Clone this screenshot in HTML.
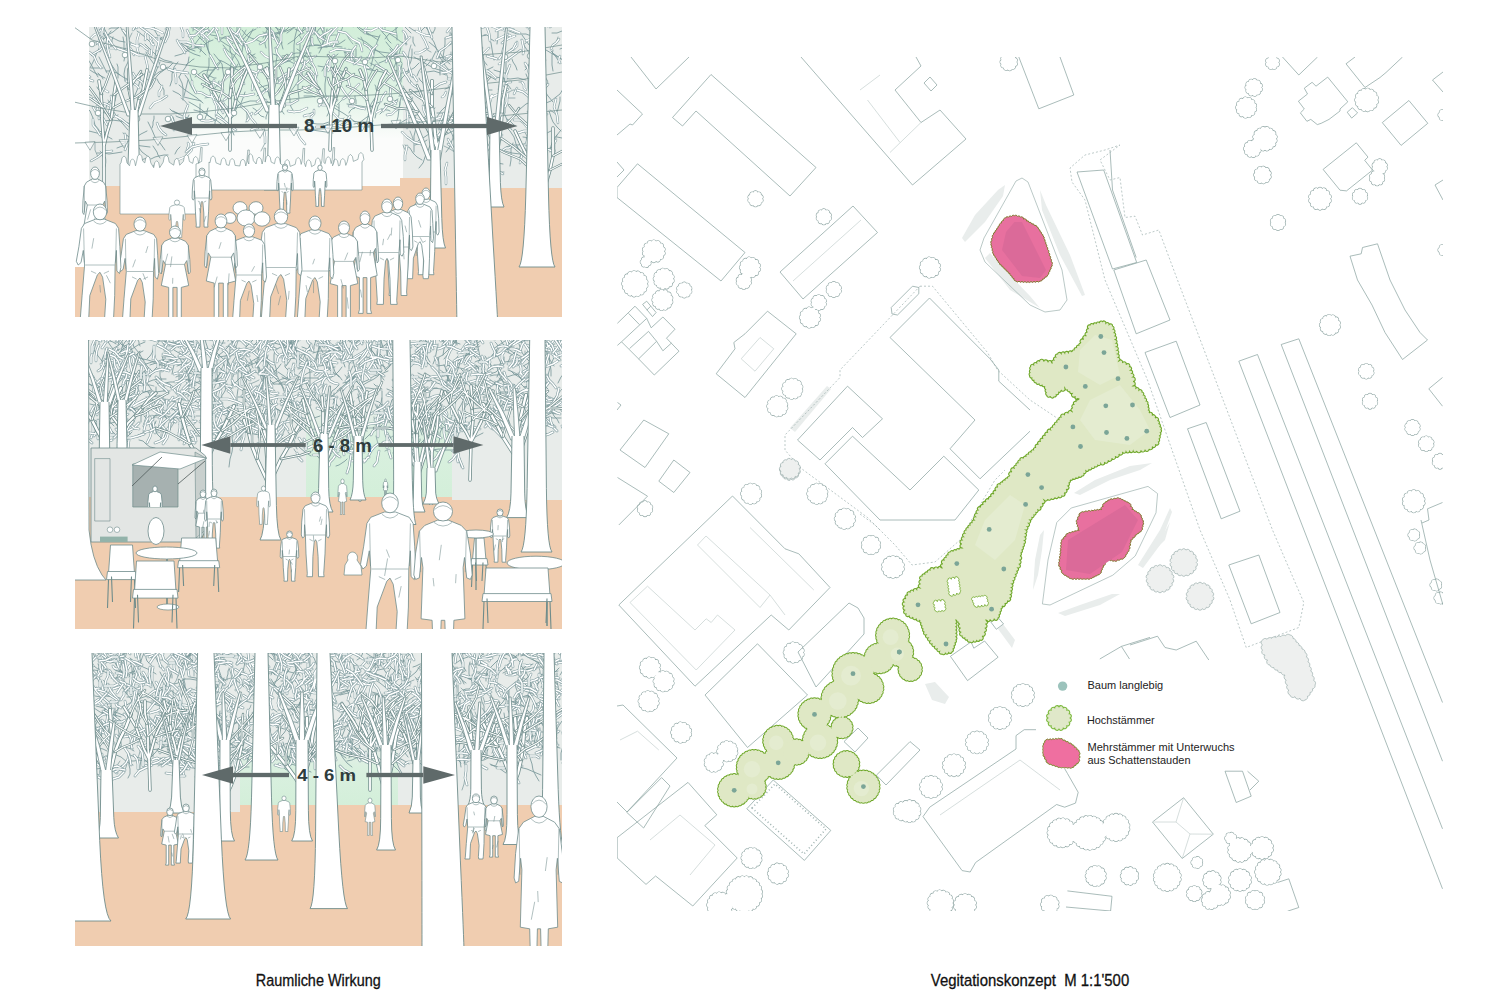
<!DOCTYPE html>
<html><head><meta charset="utf-8"><style>
html,body{margin:0;padding:0;background:#fff;width:1500px;height:1000px;overflow:hidden}
svg{display:block}
text{font-family:"Liberation Sans",sans-serif}
</style></head><body>
<svg width="1500" height="1000" viewBox="0 0 1500 1000">
<defs>
<clipPath id="cp1"><rect x="75" y="27" width="487" height="290"/></clipPath>
<clipPath id="cp2"><rect x="75" y="340" width="487" height="289"/></clipPath>
<clipPath id="cp3"><rect x="75" y="653" width="487" height="293"/></clipPath>
<clipPath id="win2"><rect x="132.8" y="464" width="45.2" height="43"/></clipPath>
<clipPath id="sky1"><rect x="89" y="27" width="473" height="165"/></clipPath>
<clipPath id="sky2"><rect x="75" y="340" width="487" height="165"/></clipPath>
<clipPath id="sky3"><rect x="75" y="653" width="487" height="160"/></clipPath>
<linearGradient id="g1" x1="0" y1="0" x2="0" y2="1"><stop offset="0" stop-color="#d2eed9"/><stop offset="0.55" stop-color="#def2e4"/><stop offset="1" stop-color="#fbfcfb"/></linearGradient>
<linearGradient id="g2" x1="0" y1="0" x2="0" y2="1"><stop offset="0" stop-color="#e8ecea"/><stop offset="0.35" stop-color="#daf0e0"/><stop offset="1" stop-color="#d3efd9"/></linearGradient>
</defs>
<g clip-path="url(#cp1)">
<rect x="89" y="27" width="473" height="162" fill="#e8ecea"/>
<rect x="189" y="27" width="214" height="112" fill="url(#g1)"/>
<rect x="189" y="138" width="214" height="52" fill="#fbfcfb"/>
<path d="M89,186 L400,186 L400,178 L440,178 L440,188 L562,188 L562,317 L75,317 L75,267 L89,267Z" fill="#f0cdb0" stroke="none" stroke-width="1" />
<g clip-path="url(#sky1)"><g fill="none" stroke-linecap="round" stroke-linejoin="round"><path d="M395 56l1-2 0-1M148 50l0 3 2 2M214 97l-4 0-5 1M366 28l0-3 0-2M305 65l-4-4-4-4M364 44l-1-3-2-4M528 69l-2-1-1-2M165 14l0-5 0-5M407 98l-1-6-3-6M521 18l0-3 0-3M414 142l-2-6-2-5M442 127l1-2 0-2M512 146l3 1 2 1M507 98l4 0 4 0M406 151l-2-3-1-3M450 56l1-2 0-2M479 61l-2-6-1-6M544 117l-1 1-1 2M460 156l3-2 4-2M299 20l2-2 2-2M248 71l-3 0-3-1M103 155l-1-2-2-2M106 6l-5-5-4-5M211 94l-2-5-3-4M531 157l3-5 4-5M202 18l4-1 3-3M188 105l-3-4-4-3M228 26l3-5 4-5M233 41l0-3-1-3M235 98l1-1 1-1M415 78l-1 0-2-1M536 75l-1-1 0-2M352 55l-2-3-1-3M506 40l2-2 2-3M98 157l-3-7 0-7M543 74l-4 0-5-1M165 169l2 1 2 2M545 149l0-3 0-4M262 94l2-3 2-3M426 49l3 2 2 1M136 26l0-2 0-2M543 144l3-5 1-5M230 120l4-4 2-4M491 26l-3-1-3-2M106 44l-6-2-6 0M383 69l-4-4-4-5M228 20l-3-5-3-5M211 32l2 0 3 0M290 71l3-1 2-1M228 76l1-4 1-4M375 5l-3-4-3-4M192 81l-1-3-1-4M479 146l0-1 0-2M241 38l3-4 2-4M346 60l-1-6 0-6M522 82l-2 0-1 0M517 90l-4 0-4 2M158 63l-1 2 0 2M523 45l3-2 2-3M271 73l1-2 1-1M456 80l0 6 2 7M125 18l-3-1-3-1M332 71l-2-3-2-3M302 80l2-2 2-2M103 44l-1-2-1-2M531 30l1-1 0-1M97 130l3 4 2 4M367 59l0-1 0-1M456 153l-6-4-6-3M524 131l3 5 1 5M250 5l3 2 4 2M498 171l3 1 3 0M203 31l-4-3-4-1M539 23l1-1 0-1M557 115l-4-3-3-2M110 48l-5 0-5 0M467 7l-3-5-4-5M483 71l-2 1-1 2M487 130l2 0 2-1M545 88l2-1 1-2M175 73l-3-1-3-2M467 72l-5 3-4 3M128 42l2-5 2-4M506 84l1-1 1-1M487 109l-6-2-7-1M346 33l3 6 4 5M360 44l-2 0-3-1M502 80l2 0 3-1M267 35l-2-2-2-1M527 141l2-2 1-3M312 29l-2-4-2-3M336 125l4-4 4-3M502 28l-4-2-3-2M545 1l2-5 1-5M548 7l2 0 2 0M334 7l0-2-1-3M315 68l-4-3-3-3M348 79l2-1 1-1M343 99l-3 3-3 3M142 82l0 4 1 3M489 33l-2-7-2-7M473 102l-2 0-2 1M459 67l5 0 5-1M343 73l2 0 2 0M223 120l3-4 2-4M556 140l0-3 1-2M399 108l1-3 0-3M448 79l-1-4-2-3M390 94l0-4-1-4M489 120l1-5-1-6M514 55l-3 3-3 4M108 38l-1-4-2-4M267 34l6 2 6 2M146 38l-1-1-1-1M484 27l4-5 4-4M265 143l-2 4-2 4M450 28l-2-2-2-2M332 103l4 3 3 2M111 104l-2-2-1-2M153 37l5 1 5 0M269 28l-2-3-3-4M302 41l-1-3-2-3M307 115l2-1 2-1M406 98l2 0 1-1M523 -3l-3-5-3-4M209 40l-1 4 0 5M287 -3l3-2 2-4M556 43l1-3 1-3M216 105l2 3 0 3M449 37l1-2 0-3M408 59l1-7 2-7M559 61l-1 1 0 1M315 75l-5-1-5 0M269 88l1-4 0-3M315 25l0-2-1-1M329 36l4-1 4 0M239 95l-3 0-4 1M142 107l-2-4 0-4M272 33l4 1 2 3M480 73l0-1 0-2M460 113l-1-1-2-1M408 119l2 5 2 4M470 161l2 1 1 0M415 119l-2-6-1-6M490 144l6-2 6-2M249 61l-2 0-3 1M315 19l0-4-1-3M108 21l1-5 1-5M461 79l4 1 4 1M213 82l-3-1-4-1M131 82l-2-1-3-1" stroke="#7b989b" stroke-width="0.7"/><path d="M134 45l-5-4-4-6-3-5-3-6M163 20l-1-3-1-3-1-4-1-3M246 122l1-2 0-3 0-3 0-2M179 114l-2-1-3-1-2-1-2-2M164 95l0-5-2-4-3-3-2-4M210 89l-3-8 0-8 2-7 0-8M510 166l1-6 0-6 0-5 2-6M544 20l5-5 2-6 3-6 4-5M515 115l5-6 6-5 7-3 7-4M505 113l0-5-2-6-2-5-2-5M485 137l2-3 1-3 1-4 1-4M385 57l-6-5-7-5-6-5-8-4M424 85l-1-2-1-1-2-2-1-2M106 36l7-4 6-5 8-4 7-3M195 48l5-1 4-2 4-3 5-2M327 100l-2-8 0-8 1-8 0-9M107 50l0-8-1-8-2-7-3-8M414 152l0-8 0-8 2-8 2-7M491 163l1-3 0-4 0-3 0-3M534 80l5 5 5 5 4 6 5 6M517 70l-1-3-1-2-2-3-1-3M126 25l-2-4-1-5-2-3-3-3M282 43l-1-5-2-6-3-5-2-6M544 45l-2-3-3-2-2-2-3-1M276 67l0-5 1-5 0-4-2-5M224 77l-1-6-1-7-4-5-4-5M154 43l-5-2-4-4-4-3-4-3M386 20l-3-1-3-2-3-2-3-1M553 71l-1-6 0-5 0-5 1-5M485 121l-1-4-1-4 0-5-1-4M448 133l-5-3-4-4-5-3-5-3M242 52l1-7 4-5 3-5 3-6M249 54l-2-4-1-4-2-4-1-4M111 119l2-1 1-1 2-1 2-1M260 20l-7-2-8-3-7-3-7-3M445 20l0-4-1-4 0-4 0-4M318 48l7-1 7-1 7-2 6-4M467 165l6-4 7-1 7-1 7 2M453 20l5-5 6-5 5-6 4-6M188 80l-1 4-1 4-1 4-1 4M352 23l-2-2-3-1-2-2-2-1M270 24l3 1 2 2 3 2 3 1M256 58l-7-5-5-7-6-5-5-7M386 30l4 4 6 4 5 4 6 2M374 25l6-5 7-3 6-4 7-5M105 78l-4-2-4-2-4-2-3-2M430 125l0-3 1-2 0-3 1-2M432 148l5-5 3-6 1-7 1-7M327 47l-6-1-5-1-5 0-5 2M136 126l-8-3-8-2-8-1-8 1M512 130l-3-4-2-6-2-5-3-5M326 37l-3-4-2-5 0-5-2-6M343 50l-3 0-3 0-3 0-3 1M454 26l0-6 0-5 0-6-1-5M492 90l-2 0-2 0-3 0-2 0M470 74l1-2 1-2 1-2 2-2M422 160l-5-3-4-4-3-5-5-3M379 37l-5-1-4-1-4-2-4-4M287 33l4-3 4-3 5-2 4-3M385 28l0-4 0-5 1-5 1-4M440 75l0-3 0-4 0-3 1-3M203 103l-6-5-6-4-6-4-6-5M406 45l0-3-1-3 0-4 0-3M417 76l2-5 3-4 2-4 3-4M154 76l5-4 5-2 5-3 4-4M449 116l-2 5-3 5-3 5-3 4M519 151l-3-7-2-7-4-6-6-6M283 49l-2-7-5-6-6-5-6-5M479 145l0-4 2-3 1-4 1-3M482 128l-6-2-6-1-6 0-6-3M548 27l4-4 6-3 4-4 5-4M145 21l-5-6-7-5-7-5-7-4M266 39l3-3 3-2 4 0 3-1M241 22l-5-2-4-3-5-4-5-2M248 26l3-4 3-3 4-3 2-4M207 114l-3-1-3-1-3-1-4-1M391 43l-3-3-2-4-3-3-2-3M347 81l-3-3-4-2-3-2-4-2M279 107l-4-3-3-4-3-4-1-5M466 75l-5 4-5 4-5 4-6 2M182 42l7 2 6 2 6 4 5 5M349 113l1-2 2-2 3-1 1-2M175 56l7-2 7-4 8-3 7-1M433 33l1-2 1-2 0-2 1-2M418 32l-5-2-4-3-4-3-5-2M182 169l2-4 1-4 1-4 2-4M477 59l0-8-1-8-1-8-2-8M216 78l-2 0-2-1-2-1-2-1M137 144l2 4 3 4 4 3 4 3M419 168l4-5 2-6 3-6 2-6M397 22l-1 4 0 5 1 5 0 4M399 96l6-1 6-1 5-2 6-1M150 24l0-7-2-7-3-6-3-6M273 38l-3-6-4-4-3-6-2-5M118 78l0-4 0-3 0-4-1-3M443 71l-7-2-8-4-7-4-7-4M263 38l2-4 2-4 0-3 0-4M208 35l5-6 5-5 4-6 6-5M139 116l-3-1-3-2-3-1-3-1M273 67l5-2 5-2 6-2 5-3M354 124l5-1 4-3 4-3 5-2M106 108l1-4 3-3 3-3 2-4M460 35l-4-4-3-5-3-5 0-6M213 22l-8-1-7-3-8-3-8-2M397 63l0-4 0-4 0-4 1-4M125 81l-1-7 1-6 3-6 2-7M263 43l-6-3-6-2-5-3-4-5M550 152l1-6 2-6 4-5 4-5M253 20l4-4 4-5 3-4 4-5M120 75l-3-2-4-1-3-1-4 0M290 27l3-1 3-2 4-1 3-1M241 68l-3-7-4-6-6-4-5-6M97 153l6 0 6 1 7-1 6-1M511 89l-3-4-3-4-2-4-3-5M280 84l-3-6-4-5-3-5-2-5M118 28l-2 0-2 0-3 0-2 1M181 96l-2-2-2-1-2-1-2-1M327 116l2-4 2-5 0-4 2-5M218 38l7 0 6 2 6 2 6 3M322 46l-4-7-2-6-1-7-1-7M221 61l-4 3-3 5-3 4-3 5M90 68l4-8 3-8 4-7 3-8M211 96l2-4 2-4 2-3 2-4M233 93l-2-7 0-8 3-7 4-7M443 63l0-6 1-6 1-7 0-6M315 34l2-2 2-3 2-1 3-2M546 103l5-2 5-4 4-3 3-5M102 33l5 2 6 3 6 3 6 1M373 106l-7 1-6-1-6-1-7-1M310 37l0-5 0-4-2-4-2-4M369 35l-5-2-4-3-3-3-4-4M401 82l0-4 0-5 0-4 1-5M484 105l3-4 4-4 4-2 5-1M484 23l-4-4-3-4-3-5-2-5M125 168l5-3 5-3 6-2 6-2M240 24l-7-3-6-4-7-3-7-4M285 77l-3 0-4 1-4 0-3 0M554 54l6 4 7 5 6 5 6 5M202 29l-1 2-2 1-2 1-2 1M449 112l-3 0-3 1-3 0-3 0M130 22l5-6 5-7 3-7 2-8M184 97l4 1 4 1 5 1 4 1M216 65l-4-5-3-7-2-6-1-7M148 90l3-7 3-7 3-7 3-7M264 117l-3-1-3-3-2-3-3-2M396 55l-7-2-8-1-7-2-7-3M314 35l1-6 0-5 2-5 2-5M464 43l1-7 1-7 0-7 0-7M450 64l-6-5-4-6-5-6-6-5M153 146l2 3 2 3 1 3 2 3M516 126l-2-1-2-2-2-2-3-2M239 27l3-2 3-3 4-2 2-4M134 30l5-4 3-5 5-3 5-4M266 48l-1-4 0-4 1-4 1-4M146 23l1-1 2-2 1-1 1-2M386 71l-4-1-4-3-4-2-4-2M396 79l1-6 0-6-1-7 0-6M371 66l2-8 2-8 2-8 3-7M396 86l3-4 3-4 3-3 4-3M243 66l3-3 2-4 3-3 4-2M340 23l7-4 7-3 7-5 6-4M240 23l0-2 0-3 1-2-1-2M494 60l-1-5-1-6-1-6-2-6M227 116l1-5 1-4 1-5 1-5M217 112l5 5 4 6 5 5 3 7M300 35l2-4 2-4 4-3 4-2M400 23l-3 5-4 3-5 4-3 4M441 22l-2-6-1-7 1-7-1-7M239 51l-6-3-6-3-6-4-6-3M152 128l1-3 0-3 1-3 0-3M557 137l5 1 5 1 5 1 5 2M373 70l-3-2-3-3-4-3-3-2M96 45l4-3 4-3 4-4 3-4M91 68l3 0 3 0 3 0 3 0M484 140l1-2 1-2 1-2 0-3M288 44l6-4 5-5 5-5 6-4M526 80l-8-2-8 1-8-1-7-1M469 91l2 2 1 3 1 2 1 3M381 22l2-5 2-5 1-5 0-5M286 100l2-5 3-4 3-4 3-4M158 67l-4-3-3-4-3-4-2-4M380 114l4-4 4-4 5-4 5-3M203 23l-1 4-1 3-3 3-3 2M375 118l1-4 1-4 1-4 2-3M304 28l-1-3-2-4-2-3-3-3M393 70l2-5 2-6 2-5 2-6M366 124l2-7 1-7 2-6 4-6M132 103l3-8 3-7 2-8 1-8M509 31l8 3 9 0 8 3 7 4M464 90l-3-6-1-5-3-5-3-6M470 37l4 0 4-1 4 0 4-1M440 24l-7 0-7 1-7 1-8 0M560 49l5-2 5-2 4-3 4-4M129 80l-6-3-6-4-4-6-4-6M300 63l4-6 4-6 2-7 1-6M282 22l3-2 3-1 3-2 3-1M322 71l3-5 4-4 4-4 5-4M311 53l-8 0-7 0-7 2-7 1M195 93l-3-5-2-4-2-5-3-4M202 38l2-3 2-4 2-3 3-3M452 129l3-3 3-4 4-4 3-3M373 121l-5 1-5 0-5 0-5-1M210 55l-2-6-2-5-4-4-4-4M438 58l6-1 6-2 6 0 6-2M539 105l-2-2-3-1-2-2-3 0M278 23l6-3 7-1 6-1 7 1M521 155l-1-3 0-2-2-2-1-2M124 61l1-6-1-6 0-6-1-6M541 65l-6-6-5-5-5-7-4-7M446 152l3-4 2-5 2-5 1-4M415 46l-1-2-1-2 0-3 0-2M426 66l3-3 3-4 2-4 2-4M305 128l7 2 7 1 7 1 7 1M529 92l-1-4 0-5 0-4-2-5M380 102l-3 1-3 1-2 2-2 3M172 127l1-2 1-3 0-2-1-3M195 51l-3-1-2-1-2-1-2-2M356 104l0-2 0-2-1-2 0-2M155 64l0-7 1-7 2-7 4-6M379 63l5-2 4-2 4-2 5-2M379 92l-2-1-1-2 0-2-1-2M539 120l2-5 1-5 1-5 0-5M309 28l1-5-1-4-1-4-1-4M332 22l-4-3-5-3-5-3-5-2M487 65l-4-5-4-4-5-3-5-3M305 122l6 1 6 1 6 0 6-2M418 141l2-2 3-1 3-2 3-2M92 56l-2-2-1-2-2-2-2-1M315 97l-3-1-2 0-3 0-3 0M473 154l-2-5-2-5-3-5-3-5M106 38l-3-5-4-5-2-5-3-5M175 154l1-2 1-2 1-1 2-2M420 32l5-5 5-6 3-6 5-6M483 134l-4 1-4 1-3 2-4 0M189 47l-3-1-2-1-3-2-1-2M437 52l6-3 5-3 5-3 6-1M561 131l-4-4-4-5-2-5-2-6M402 20l7-2 6-2 7-1 7 1M276 105l-4-2-4-1-3-3-3-3M316 22l-3-3-2-3-3-3-3-2M257 96l3-3 4-3 4-1 4-3M139 148l-4-3-4-5-3-4-5-3M112 106l3-5 1-5 1-5 2-5M238 41l-1-7 0-7-1-7 0-7M201 44l0 2 0 2 0 2-1 2M324 126l7-3 6-2 7 0 7 0M109 114l-2 0-2-1-2-1-2-1M246 21l4-5 5-3 6-3 4-4M195 77l4-3 4-3 5-1 5 0M298 23l-4-5-6-3-4-4-5-3M415 127l5-5 5-5 4-5 6-4M165 150l-5-7-5-6-3-7-4-8M284 32l7-3 6-4 7-4 8-2M411 33l-6-6-4-7-3-8-3-7M355 122l-6-5-6-4-7-4-6-4M320 21l3-4 3-3 3-2 4-2M484 154l0-2 0-2 0-2 1-2M304 92l3 1 3 0 3 0 3 0M215 121l-6-5-7-6-6-4-7-4M319 22l-3 5-4 5-3 5-2 5M539 64l-3-8-4-7-5-7-5-7M270 38l-1-3 1-3 0-3 0-3M190 119l-5-2-4-2-4-2-4-2M266 119l0-2 1-3 1-2 1-2M107 73l-2-4-2-4-2-4-2-4M92 96l-5-3-5-3-5-1-6 1M203 88l3-6 4-7 5-6 5-6M235 112l2-5 4-4 2-5 2-6M355 62l-2-3-2-3-3-2-4-2M403 24l3-2 4-1 3-2 3-1M293 110l-2-3-1-4 0-4-1-4M118 24l1-3 1-3 1-3 2-2M362 90l3-6 4-7 3-6 3-6M507 90l-2-8 1-9 0-8 0-8M284 114l-4-6-4-7-4-7-3-7M167 67l-3 3-4 3-3 3-2 3M98 77l-3-5-3-6-3-5-3-5M364 22l-2-4-1-3-1-4 0-4M187 118l-3 0-3 0-3-1-2-1M557 112l1-3 1-4 1-4 0-4M151 159l4-2 4-1 5-1 4 0M543 130l-1-6-1-6 0-7 1-6M108 133l-3-1-3 0-3-1-3-2M328 22l-2-2-2-2-3-2-2-2M397 64l-2-4-1-4-2-4-2-3M388 74l-6-2-5-1-6-1-5-1M183 100l0-6 0-6-1-5-3-6M230 111l6-5 7-3 7-2 8 0M278 34l4-2 4-2 3-3 3-3M550 21l-5-5-4-6-3-6-3-6M122 144l7-3 6-3 6-4 6-3M433 33l-5-3-4-5-5-3-5-4M111 47l0-2 1-3 0-2 1-3M454 140l-2-6-3-5-4-5-3-6M494 41l-3-2-2-2-2-2-3 0M217 36l-6-1-5-4-5-3-5-4M205 119l1-3 1-2 0-3 1-3M186 50l5-3 4-3 3-4 4-5M561 63l-3-3-2-3-2-3-3-3M423 20l4 8 3 8 4 6 3 8M237 45l5-4 4-5 4-4 6-3M396 76l6-3 6-2 6-3 5-5M370 127l-3 0-3 0-3 0-2-2M552 33l5 0 5-2 5 0 5 1M387 22l-7-4-6-6-5-7-5-6M186 22l4-5 3-6 3-5 3-6M539 33l-2-7 0-6-1-7-1-6M396 124l2-7 1-8 1-7 2-8M99 130l-4-5-2-7-3-7-5-5M319 53l3-6 2-6 2-6 1-6M525 70l3-3 1-3 2-3 1-4M299 98l-1-8 0-8 1-8 3-7M508 73l-4 0-3-1-4-1-3-1M506 147l6-2 6 0 6-1 5-2M238 70l-5-2-4-3-5-3-5-2M398 25l-1-3-1-4-1-4-3-3M417 123l0-2-1-2-1-2 0-1M135 80l4-2 4-3 3-2 4-1M334 125l2-5 3-5 0-6 0-5M285 30l-5 2-5 1-5 2-5 1M281 108l-5-7-5-6-6-6-6-6M435 140l6-3 6-3 6-3 6-4M112 139l-7-4-8-2-8-2-7-3M321 49l2-7 1-8 0-8-1-8M280 22l-3-7-2-8-2-7-4-6M280 34l0-3 1-4 0-3 0-4M304 33l-3-1-2-1-2-1-2-1M453 64l0-7 0-8 0-8-2-8M551 131l-6 3-7 3-8 1-7-1M386 42l4 5 5 5 3 6 4 5M408 72l1-6 2-5 1-6 0-6M396 125l6-3 5-3 6-3 7-2M103 94l-2-1-1-2-2-2-1-2M230 75l0-6 1-5 2-6 3-5M255 90l6-3 7-2 7-1 7-2M310 46l8-1 8 1 8 0 8 1M224 126l-4-3-4-3-4-2-5-3M496 80l-5-3-5-3-4-4-4-3M453 72l-5-3-4-5-3-5-3-5M172 62l-8-2-7-4-6-6-6-6M343 72l-6-3-6-2-7 0-6-1M170 86l2-6 0-6 2-7 4-5M536 141l-5 4-4 5-5 4-4 5M193 31l1-9 0-8 0-8-2-8M200 56l-6-2-6-3-4-4-4-5M219 41l5-4 6-1 5-3 5-5M103 79l-1-2-1-1-2-2-1-1M497 44l1-8 0-7-2-8-1-7M355 63l0-4 1-3 0-4 0-3M390 111l-2-1-2 0-3-1-2 0M215 127l0-3 0-2 1-2 1-2M232 44l2-2 2-2 2-2 2-2M117 148l8-3 9 0 8 1 8 1M184 167l-1 2-1 2-1 3-1 2M178 128l3-3 3-3 3-3 2-4M530 161l6-3 5-4 5-4 6-3M163 41l-5-5-3-5-1-6-3-5M300 55l0-3 0-3 0-2 0-3M186 65l2-2 2-1 2-2 2-1M232 58l0-3-1-2-1-3 0-3M538 169l-5-1-5-2-4-3-4-3M158 23l-2-1-2-2-1-2-1-2M453 93l-3 6-4 7-5 5-4 6M415 145l3-1 3-1 3-1 3-2M323 21l-4-4-4-5-5-4-4-4M294 61l0-8 0-8 1-8 2-8M421 72l6 0 7-1 6 2 6 2M354 23l6 5 6 4 6 4 6 4M303 22l2-8 2-8 1-8-2-8M273 54l6 2 6 3 6 3 6 3M128 130l-5-6-5-5-4-7-4-6M189 57l-1 6-3 5-3 4-3 5M482 165l5-1 5 0 5-1 6 1M520 154l-8-1-7-2-8-2-8 0M335 42l3-6 4-7 2-7 4-6M235 97l4 5 4 5 4 6 4 5M378 21l2 0 2-1 2-1 1-2M201 118l-1-3 0-4 0-4 0-3M561 59l-5-3-5-3-5-3-5-4M308 58l-3-2-2-2-3-3-3-2M486 71l1-1 2-1 2-1 2-1" stroke="#7b989b" stroke-width="0.85"/><g stroke="#7b989b" stroke-width="2.4"><path id="t1" d="M303 65l4-3 4-4 5-2M392 58l3-2 4-1 4 0M140 44l3 2 2 2 3 2M233 110l-7-3-5-6-7-4M365 33l1-5 2-5 3-3M316 77l-5-6-6-6-7-5M463 140l1-4 0-4 0-5M373 56l-1-5-3-4-5-3M529 73l-1-4-1-3-2-3M156 22l3-5 6-3 6-2M204 46l-9-1-8-3-8 0M415 119l-4-7-3-6-1-8M333 47l2-4 2-5 2-5M526 41l7-3 6-5 4-6M527 27l-2-3-2-3-2-3M421 144l-7-2-7-5-5-5M439 129l3-2 4-1 4 0M422 96l-3-7-6-4-5-6M503 150l3-2 3 0 3-2M505 107l2-5 0-4 1-5M219 41l-1-5-2-5-1-5M405 160l0-5 1-4 1-5M446 57l2-1 2 0 3-1M472 150l-3 0-4-1-3 2M258 27l5-2 6-3 6-2M432 108l-3-3-2-2-3-2M475 67l4-6 4-7 6-6M547 114l-1 1-2 2-2 1M448 144l5 3 4 4 3 5M139 46l-3 0-2-1-3-1M273 62l-4-4-4-2-4-4M330 52l7-3 8 1 8 1M302 33l-3-4-1-4 1-5M311 121l0-4 3-3 0-4M259 82l-3-4-3-4-5-3M494 136l3-1 2-1 3 1M104 167l1-4 0-4-2-4M279 83l4-4 5-5 3-5M139 55l-2-7 0-8 2-7M550 27l4-3 6-2 5 2"/></g><use href="#t1" stroke="#fff" stroke-width="1.4"/><g stroke="#7b989b" stroke-width="2.4"><path id="t2" d="M125 21l-7-4-7-5-5-6M222 111l-3-6-5-5-3-6M520 163l1-5 2-5 2-4M531 165l0-8 2-8 2-8M201 120l4 1 4 0 4-1M247 121l2-3 1-2 2-3M196 25l0-2 1-3 0-2M514 94l1-2 1-2 1-2M241 56l-6-5-4-6-4-6M384 21l0-7 3-7 2-7M330 45l-4-4-5-4-5-4M283 61l-3-4-3-4-1-5M192 27l4-6 6-3 7-1M212 97l-5-1-5-3-5-1M185 121l-1-5 2-6 2-5M242 45l-5-7-6-5-3-7M235 43l-2-2-3-2-3-2M163 33l-6-3-6-2-7-1M325 76l0-8 3-7 6-6M236 104l0-2-1-2 0-2M428 48l-3-7-4-7-2-7M417 81l-2-3-1-2-3-1M381 101l1-3 2-3 2-3M536 79l0-2 0-2 1-2M437 58l3-7 6-4 5-5M343 120l-4-1-3-3-3-3M193 48l0-6-3-6-3-6M159 96l0-4 2-3 1-3M358 24l3-3 4-4 2-4M360 60l-5-2-3-3-5-2M502 43l4-3 4-2 5-2M91 161l7-4 6-5 8-1M100 51l0-3 0-2-1-3M353 54l-2 2-1 3-2 2M545 60l-1 7-1 7 3 6M154 166l4 2 3 0 4 1M482 48l-6-4-4-6-7-3M350 116l-4 6-6 4-5 5M554 152l-4-2-5-1-5 0M257 102l4-4 1-4 3-3"/></g><use href="#t2" stroke="#fff" stroke-width="1.4"/><g stroke="#7b989b" stroke-width="2.4"><path id="t3" d="M312 21l-1-7 0-6-1-7M213 87l0-2 1-2 0-3M415 53l4 0 4-2 3-2M131 127l-5-4-5-4-6-3M137 28l-1-2-2-2-1-2M527 139l6 1 5 1 5 3M231 126l-1-6 1-6-3-6M506 31l-5-2-5-1-5-2M353 26l-8-3-6-4-7-2M187 150l1-3 1-2-1-2M109 37l-3 7-6 6-7 4M365 63l4-6 3-7 5-5M119 21l-4 0-5 0-4 0M168 28l0-5 2-4 2-5M383 111l4-5 5-2 5-3M397 81l2-4 1-6-1-5M394 80l-5-6-6-5-7-4M384 25l-7 3-6 3-7-1M238 35l-5-3-4-5-1-7M203 40l4-4 4-4 3-4M286 74l4-3 4-4 2-5M218 86l5-5 5-5 5-5M497 59l-3-1-4-1-3-1M382 30l-3-8-1-8-3-9M279 79l5-4 6-4 5-4M196 93l-2-4-2-4 0-4M99 119l0-4-1-5-1-4M93 81l-3-1-3-2-3-1M277 48l4-7 0-7 3-7M473 149l2-1 2-1 2-1M250 52l-4-7-5-7-3-7M429 22l-1 5 2 5 2 6M511 36l-2-1-2 0-2 0M369 68l-7-3-8-2-8-3M526 90l-2-2 0-3-2-3M427 126l6-6 8-3 8 0M532 101l-4-5-5-4-6-2M108 92l-2-1-1-1-2-2M151 56l1-7 0-7-2-6M460 108l4-7 6-4 7-3"/></g><use href="#t3" stroke="#fff" stroke-width="1.4"/><g stroke="#7b989b" stroke-width="2.4"><path id="t4" d="M260 71l6 1 5 3 4 4M157 58l0 3 1 2 0 3M328 71l2-4 0-5 1-4M392 55l6-6 6-6 6-6M523 54l1-5-1-4-1-5M258 128l-2 0-3 1-2 1M157 123l2 5 3 4 4 3M312 38l0 2 0 3 1 2M150 108l4-5 7-3 6-4M272 76l-1-3-1-2-2-3M457 71l-1 9-4 7-1 8M256 124l-5-6-4-7-6-5M135 24l-5-2-5-4-4-4M333 85l1-7-2-7-5-6M297 84l5-4 4-4 6-2M103 47l0-3 0-3-2-3M535 33l-2-1-2-2-2-1M93 119l0 6 4 5 3 5M252 90l1-7 3-7 3-7M363 61l2-1 2-1 2 0M456 161l0-8-4-7-4-7M518 133l6-2 6 0 6 0M255 114l5-4 4-5 2-5M171 116l2 5 2 4-1 5M298 100l-7 4-8 0-8-3M183 21l-6 3-6 1-5 4M239 22l4-6 4-5 3-6M224 100l5-4 3-5 1-6M486 168l6 0 6 3 5 3M192 38l5-5 6-2 6 0M538 27l0-2 1-2 2-1M558 123l-1-8-3-8 2-8M113 108l-7-4-7-1-6-5M128 52l-6-2-6-2-6 0M464 20l2-6 1-7-2-7M496 78l-4-4-4-3-5 0M154 45l-2-1-1-2-1-2M484 133l1-2 2-1 2-1M165 42l3-6 1-6 1-6M535 88l5 1 5-1 3-4"/></g><use href="#t4" stroke="#fff" stroke-width="1.4"/><g stroke="#7b989b" stroke-width="2.4"><path id="t5" d="M511 50l3-1 3-3 0-4M430 36l-5-1-5-2-4-2M410 82l-2-4-3-4-2-5M177 160l8-3 6-6 3-8M429 92l5-4 6-4 6-2M301 75l1-5 2-4 1-5M320 37l4-3 4-2 4-3M496 40l4-2 4-2 4-2M98 30l3-4 4-4 5-2M407 38l-1-3-1-2-2-2M218 69l-3-5-2-4-3-5M176 83l0-5-1-5 0-4M365 109l-5-1-6-2-5 0M489 117l-3-3-3-2-3-2M481 53l-5 6-6 5-3 8M352 60l-1-5 2-5 3-4M221 20l5-6 7-5 5-7M134 55l-2-4-2-3-3-2M366 85l1-7-1-6-2-7M127 48l1-6-1-7-4-5M249 55l-2-4-1-5-2-4M504 86l2-2 2-2 3 0M168 69l6 2 7 1 7 1M101 68l-4-5-3-7-5-4M168 21l1-3 2-4 2-3M309 90l2-2 2-1 2-2M492 95l-2 7-3 7 0 8M338 31l8 2 6 6 8 4M487 98l7-2 7-3 7-4M316 127l4 0 5 0 4-1M362 51l-1-4-1-3-2-2M499 89l1-4 2-5-1-4M278 42l-3-3-4-2-4-2M200 33l1 2 2 1 1 2M526 145l1-4 1-4 1-5M324 40l-5-3-3-4-4-4M329 126l7-1 7 2 7-2M514 30l-6-2-6 0-6 3M551 24l1-8-2-8-5-7M307 31l0-3-1-2 1-3"/></g><use href="#t5" stroke="#fff" stroke-width="1.4"/><g stroke="#7b989b" stroke-width="2.4"><path id="t6" d="M504 29l6 0 5 2 5 2M542 20l3-4 1-4 2-5M340 23l-1-5-2-6-3-5M317 75l-2-7-4-7-2-7M108 37l-1 7 1 6 2 7M352 89l-2-2-1-4-1-4M359 84l-5 5-5 6-6 4M133 73l3 5 6 4 2 6M257 73l-5-2-6 0-6 0M218 30l-2-2 0-2-1-3M490 41l-1-8-3-8-6-6M399 22l-2-6 0-7-2-7M148 79l0-8-1-7-2-8M91 38l3-3 4-2 3-3M478 108l-3-3-2-3-3-3M241 69l0 5 1 5 2 5M100 21l-4-7-3-7-4-7M401 22l1-5 0-5 0-5M441 73l7-1 5-3 6-2M342 76l1-3 2-2 1-3M309 40l1-6 0-6 1-6M216 116l7 4 6 5 7 5M555 153l-1-4 0-5 2-4M387 115l5-1 3-3 4-3M109 115l2-6 1-7-1-6M470 82l-7-3-7 0-8 0M377 25l5 5 7 2 7 2M448 60l3-2 2 0 3-2M183 37l0-5-2-5-2-5M235 34l2-1 2-3 1-2M506 81l0-6 2-5 2-5M453 74l-7-4-7-5-8-5M223 113l0-4 0-4 0-3M109 22l3-2 3-2 2-3M396 104l-4-4-2-6 1-6M466 62l-7 1-6-2-7-2M429 119l-3-4-2-4-1-5M474 127l7-3 8-4 5-5M521 50l-7 5-7 5-8 4M116 49l-4-5-4-6-3-6"/></g><use href="#t6" stroke="#fff" stroke-width="1.4"/><g stroke="#7b989b" stroke-width="2.4"><path id="t7" d="M398 45l-4 6-5 4-3 7M499 59l3-4 1-5 2-5M288 111l6 1 7-1 6-3M245 44l8-3 6-5 8-2M145 40l1-2-1-3 1-2M292 126l5 6 3 6 5 6M439 128l1-6 2-4 2-5M354 64l3-2 2-2 2-3M460 32l8-3 8-1 8-1M185 53l-3-5-3-4-2-4M262 126l2 5 1 6 0 6M312 61l-3-6-2-5-3-4M107 125l-4-7-6-4-4-7M97 43l2-2 1-3 2-3M447 32l3-4 3-3 3-4M322 105l5 0 5-2 5-3M109 113l1-3 1-3 0-3M140 27l7 5 6 5 6 6M272 24l3-7 2-8 1-8M145 55l-7 0-6-3-6-3M278 44l-3-6-2-6-4-4M235 66l-4-6-4-5-3-6M90 77l-6-4-5-5-6-3M297 44l5-3 3-5 4-4M304 116l3-1 3 0 3-2M98 33l0-5-1-4 1-4M319 106l3-4 3-2 3-3M403 99l3-1 3 0 3 0M518 21l4-7 1-8 0-9M194 28l5 3 5 4 5 5M125 134l1 6 1 5-2 5M222 34l0-3 0-4-2-2M442 97l2-1 1-2 1-2M133 30l3-6 4-6 4-6M284 20l2-7-1-8 2-8M527 127l-3-4-4-3-6 0M551 49l2-4 3-2 3-4M353 104l-4-6-4-5-4-6M157 50l1-4 1-5 0-5M214 101l2 4 1 5-1 4"/></g><use href="#t7" stroke="#fff" stroke-width="1.4"/><g stroke="#7b989b" stroke-width="2.4"><path id="t8" d="M446 38l3-1 4-1 3-2M179 22l-1-9 0-8 1-9M189 36l7-1 5-5 5-4M486 21l3-7 5-5 7-2M376 113l1-1 2-1 2-1M412 76l-3-9-1-8-5-7M560 56l-1 2 0 3 1 2M447 163l-2 7 1 7 0 7M319 93l-3-6 0-6-1-6M460 106l-1-4-1-4 0-4M266 91l3-3 2-4 0-4M311 35l2-3 1-4 1-3M327 43l2-7 5-6 6-6M254 94l-5 1-5 1-5-1M201 34l2-1 2-2 3-1M455 127l-6 1-7 3-4 5M130 120l2-6 5-4 5-3M277 66l5-3 6-4 4-6M260 44l5-3 3-5 4-3M479 78l1-2 0-3-1-2M503 58l4-5 6-4 3-6M465 117l-2-2-2-1-1-1M322 46l5-2 5-2 6 0M186 152l6-5 8-2 8-1M440 135l1-4 2-4 0-4M408 103l-1 8 1 8-1 9M464 165l3-2 3-2 3 0M431 125l-8-3-8-3-6-5M188 22l-2-1-3 0-3 0M441 65l7-5 6-6 4-6M481 157l6-6 3-7 3-8M250 64l-1-3-1-3 0-3M323 30l-2-4-4-3-2-4M102 36l0-5 2-6 4-4M234 26l1-3 1-1 0-2M449 86l6-3 6-4 6-3M223 91l-2-4-4-3-4-2M139 88l-3-3-5-3-5-1M150 22l5-4 3-5 3-6"/></g><use href="#t8" stroke="#fff" stroke-width="1.4"/></g><g fill="none" stroke-linecap="round" stroke-linejoin="round"><g stroke="#6f8c8b" stroke-width="3.4"><path id="t9" d="M134 150l1-31M135 119l-2-10-2-10-2-10 0-10 0-10M135 119l2-10 2-10 4-9 2-10 2-10M104 190l0-44M104 146l-1-13-1-13 0-13-1-13-2-13M104 146l3-13 4-13 2-12 1-13 2-13M230 150l0-32M230 118l-5-9-6-8-5-9-4-8-6-9M230 118l0-10 0-10 1-10 1-10 0-10M230 118l4-10 2-9 4-10 3-9 4-9M275 140l1-24M276 116l-3-9-2-10-1-10-1-9-2-10M276 116l-1-9-2-10-2-10-3-9-3-9M276 116l3-9 4-9 3-9 2-10 1-10M330 150l1-35M331 115l-3-9-5-9-4-8-6-8-5-8M331 115l0-9 1-10 1-10 1-9 1-10M331 115l2-9 3-9 3-10 3-9 4-9M372 150l-1-30M371 120l-2-10-2-10-1-10-2-10-4-10M371 120l2-10 3-10 2-10 3-10 5-9M497 207l0-52M497 155l-4-13-6-13-5-13-7-12-6-13M497 155l2-13 2-14 1-14 1-14 3-14M540 267l0-71M540 196l-5-13-3-13-5-14-6-12-6-13M540 196l0-14-1-14 1-14 2-14 3-13M540 196l6-12 4-14 3-14 0-14 0-14"/></g><use href="#t9" stroke="#fff" stroke-width="1.7999999999999998"/><g stroke="#6f8c8b" stroke-width="4.0"><path id="t10" d="M436 200l1-53M437 147l-6-12-6-12-7-11-7-11-8-11M437 147l-2-13-1-13-2-14 0-13 0-13M437 147l6-12 6-11 6-12 8-11 7-11"/></g><use href="#t10" stroke="#fff" stroke-width="2.4"/><g stroke="#6f8c8b" stroke-width="2.4"><path id="t11" d="M129 89l4-6 4-6 4-6M139 99l6-6 6-6 4-8M102 107l-11-8-11-6-13-4M101 94l4-8 3-8 3-8M111 120l-7-11-7-11-8-11M113 108l11-6 12-5 11-8M114 95l9-7 10-7 9-7M219 101l3-10 1-10 4-9M210 84l-6-4-6-4-5-5M230 98l-9-6-10-3-9-5M231 88l5-8 7-7 4-8M232 78l6-6 8-6 7-5M236 99l-2-7-1-7-2-7M271 97l3-9 2-10 0-10M269 78l5-9 7-7 6-7M273 97l5-5 4-6 3-6M268 78l-6-8-6-8-7-8M283 98l8-5 10-3 9-4M286 89l-1-8-2-7-3-7M288 79l7-4 7-4 8-3M323 97l-6-3-7-3-7-4M319 89l-8-6-8-6-6-7M333 86l6-4 8-3 7-5M334 77l5-8 4-8 6-7M336 97l-2-7-4-6-2-6M339 87l-2-7-2-6-4-6M342 78l-5-7-3-9-6-7M367 100l-6-6-7-5-7-3M366 90l3-7 4-7 4-6M364 80l-6-3-7-2-5-4M378 90l6-7 5-6 7-6M418 112l-11-3-11-1-11-4M411 101l-9-6-9-7-9-5M434 121l-7-12-5-12-5-12M432 107l-7-6-8-5-7-6M432 94l-4-11-3-12-4-12M449 124l13-5 13-3 14-3M455 112l2-12 3-11 5-11M463 101l-2-11 0-12 1-11M487 129l-12-4-11-5-12-4M475 104l3-10 5-9 7-8M501 128l7-6 6-6 5-8M532 170l-12-11-15-6-14-7M539 168l-12-10-13-11-13-9M542 140l-11-12-12-11-10-12M550 170l16-8 15-10 14-9M553 156l11-6 12-6 9-10"/></g><use href="#t11" stroke="#fff" stroke-width="1.1"/></g></g>
<path d="M74,27 L92,40 L130,50 L165,62 L200,67 L230,68 L265,63 L300,56 L335,57 L370,58 L400,56 L440,62 L480,55 L520,52 L562,45" fill="none" stroke="#6f8c8b" stroke-width="0.7"/>
<path d="M74,102 L100,108 L137,114 L170,114 L200,112 L235,108 L283,100 L320,96 L352,96 L390,94 L430,90 L470,85 L520,80 L562,72" fill="none" stroke="#6f8c8b" stroke-width="0.7"/>
<path d="M74,143 L110,142 L150,140 L190,136 L230,132 L270,130 L300,130 L340,128 L380,125 L420,122 L450,120 L500,116 L562,110" fill="none" stroke="#6f8c8b" stroke-width="0.7"/>
<circle cx="92" cy="44" r="2.8" fill="#fff" stroke="#6f8c8b" stroke-width="0.7"/>
<circle cx="125" cy="55" r="2.8" fill="#fff" stroke="#6f8c8b" stroke-width="0.7"/>
<circle cx="163" cy="67" r="2.8" fill="#fff" stroke="#6f8c8b" stroke-width="0.7"/>
<circle cx="194" cy="72" r="2.8" fill="#fff" stroke="#6f8c8b" stroke-width="0.7"/>
<circle cx="228" cy="72" r="2.8" fill="#fff" stroke="#6f8c8b" stroke-width="0.7"/>
<circle cx="260" cy="67" r="2.8" fill="#fff" stroke="#6f8c8b" stroke-width="0.7"/>
<circle cx="301" cy="60" r="2.8" fill="#fff" stroke="#6f8c8b" stroke-width="0.7"/>
<circle cx="335" cy="61" r="2.8" fill="#fff" stroke="#6f8c8b" stroke-width="0.7"/>
<circle cx="365" cy="62" r="2.8" fill="#fff" stroke="#6f8c8b" stroke-width="0.7"/>
<circle cx="398" cy="60" r="2.8" fill="#fff" stroke="#6f8c8b" stroke-width="0.7"/>
<circle cx="434" cy="66" r="2.8" fill="#fff" stroke="#6f8c8b" stroke-width="0.7"/>
<circle cx="505" cy="57" r="2.8" fill="#fff" stroke="#6f8c8b" stroke-width="0.7"/>
<circle cx="530" cy="56" r="2.8" fill="#fff" stroke="#6f8c8b" stroke-width="0.7"/>
<circle cx="98" cy="113" r="2.8" fill="#fff" stroke="#6f8c8b" stroke-width="0.7"/>
<circle cx="137" cy="119" r="2.8" fill="#fff" stroke="#6f8c8b" stroke-width="0.7"/>
<circle cx="168" cy="119" r="2.8" fill="#fff" stroke="#6f8c8b" stroke-width="0.7"/>
<circle cx="200" cy="117" r="2.8" fill="#fff" stroke="#6f8c8b" stroke-width="0.7"/>
<circle cx="234" cy="113" r="2.8" fill="#fff" stroke="#6f8c8b" stroke-width="0.7"/>
<circle cx="283" cy="105" r="2.8" fill="#fff" stroke="#6f8c8b" stroke-width="0.7"/>
<circle cx="320" cy="101" r="2.8" fill="#fff" stroke="#6f8c8b" stroke-width="0.7"/>
<circle cx="352" cy="101" r="2.8" fill="#fff" stroke="#6f8c8b" stroke-width="0.7"/>
<circle cx="390" cy="99" r="2.8" fill="#fff" stroke="#6f8c8b" stroke-width="0.7"/>
<circle cx="470" cy="90" r="2.8" fill="#fff" stroke="#6f8c8b" stroke-width="0.7"/>
<circle cx="545" cy="82" r="2.8" fill="#fff" stroke="#6f8c8b" stroke-width="0.7"/>
<path d="M85,142.2 L95,141.5 L90,150.2Z" fill="#fff" fill-opacity="0.6" stroke="#6f8c8b" stroke-width="0.6"/>
<path d="M119,139.8 L129,139.2 L124,147.8Z" fill="#fff" fill-opacity="0.6" stroke="#6f8c8b" stroke-width="0.6"/>
<path d="M153,137.5 L163,136.8 L158,145.5Z" fill="#fff" fill-opacity="0.6" stroke="#6f8c8b" stroke-width="0.6"/>
<path d="M187,135.1 L197,134.4 L192,143.1Z" fill="#fff" fill-opacity="0.6" stroke="#6f8c8b" stroke-width="0.6"/>
<path d="M221,132.7 L231,132.0 L226,140.7Z" fill="#fff" fill-opacity="0.6" stroke="#6f8c8b" stroke-width="0.6"/>
<path d="M255,130.3 L265,129.6 L260,138.3Z" fill="#fff" fill-opacity="0.6" stroke="#6f8c8b" stroke-width="0.6"/>
<path d="M289,128.0 L299,127.2 L294,135.9Z" fill="#fff" fill-opacity="0.6" stroke="#6f8c8b" stroke-width="0.6"/>
<path d="M323,125.6 L333,124.9 L328,133.6Z" fill="#fff" fill-opacity="0.6" stroke="#6f8c8b" stroke-width="0.6"/>
<path d="M357,123.2 L367,122.5 L362,131.2Z" fill="#fff" fill-opacity="0.6" stroke="#6f8c8b" stroke-width="0.6"/>
<path d="M391,120.8 L401,120.1 L396,128.8Z" fill="#fff" fill-opacity="0.6" stroke="#6f8c8b" stroke-width="0.6"/>
<path d="M425,118.4 L435,117.7 L430,126.4Z" fill="#fff" fill-opacity="0.6" stroke="#6f8c8b" stroke-width="0.6"/>
<path d="M459,116.0 L469,115.3 L464,124.0Z" fill="#fff" fill-opacity="0.6" stroke="#6f8c8b" stroke-width="0.6"/>
<path d="M493,113.7 L503,113.0 L498,121.7Z" fill="#fff" fill-opacity="0.6" stroke="#6f8c8b" stroke-width="0.6"/>
<path d="M527,111.3 L537,110.6 L532,119.3Z" fill="#fff" fill-opacity="0.6" stroke="#6f8c8b" stroke-width="0.6"/>
<g clip-path="url(#sky1)"><path d="M127.1 116.0 Q110.0 67.0 92.4 22.0 L94.0 22.0 Q113.2 67.0 130.7 116.0Z" fill="#fff" stroke="#6f8c8b" stroke-width="0.8"/><path d="M131.3 116.0 Q128.4 67.0 126.0 22.0 L127.6 22.0 Q131.6 67.0 134.9 116.0Z" fill="#fff" stroke="#6f8c8b" stroke-width="0.8"/><path d="M136.7 116.0 Q152.2 67.0 169.2 22.0 L170.8 22.0 Q155.4 67.0 140.3 116.0Z" fill="#fff" stroke="#6f8c8b" stroke-width="0.8"/><path d="M265.8 112.0 Q245.6 65.5 225.0 23.0 L227.0 23.0 Q249.6 65.5 270.2 112.0Z" fill="#fff" stroke="#6f8c8b" stroke-width="0.8"/><path d="M271.1 112.0 Q269.4 65.5 268.2 23.0 L270.2 23.0 Q273.4 65.5 275.6 112.0Z" fill="#fff" stroke="#6f8c8b" stroke-width="0.8"/><path d="M276.9 112.0 Q294.4 65.5 313.8 23.0 L315.8 23.0 Q298.4 65.5 281.4 112.0Z" fill="#fff" stroke="#6f8c8b" stroke-width="0.8"/></g>
<path d="M130,110 L127.9,167.4 Q127,186 124,192 L143,192 Q140,186 139.4,167.4 L138,110" fill="#fff" stroke="#6f8c8b" stroke-width="0.9" stroke-linejoin="round"/>
<path d="M269,105 L267.6,164.5 Q267,184 264,190 L284,190 Q281,184 280.4,164.5 L279,105" fill="#fff" stroke="#6f8c8b" stroke-width="0.9" stroke-linejoin="round"/>
<g clip-path="url(#sky1)"><path d="M427.2 160.0 Q407.1 106.0 386.5 56.0 L388.5 56.0 Q411.1 106.0 431.8 160.0Z" fill="#fff" stroke="#6f8c8b" stroke-width="0.8"/><path d="M431.4 160.0 Q425.6 106.0 420.1 56.0 L422.1 56.0 Q429.6 106.0 435.9 160.0Z" fill="#fff" stroke="#6f8c8b" stroke-width="0.8"/><path d="M435.9 160.0 Q445.4 106.0 456.1 56.0 L458.1 56.0 Q449.4 106.0 440.4 160.0Z" fill="#fff" stroke="#6f8c8b" stroke-width="0.8"/></g>
<path d="M431,150 L430.3,218.6 Q430,242 427,248 L445.5,248 Q442.5,242 441.8,218.6 L440,150" fill="#fff" stroke="#6f8c8b" stroke-width="0.9" stroke-linejoin="round"/>
<g clip-path="url(#sky1)"><path d="M490.4 132.0 Q483.5 78.0 476.8 28.0 L478.6 28.0 Q487.1 78.0 494.4 132.0Z" fill="#fff" stroke="#6f8c8b" stroke-width="0.8"/><path d="M494.0 132.0 Q499.3 78.0 505.6 28.0 L507.4 28.0 Q502.9 78.0 498.0 132.0Z" fill="#fff" stroke="#6f8c8b" stroke-width="0.8"/></g>
<path d="M490,125 L489.3,182.4 Q489,201 486,207 L504,207 Q501,201 500.4,182.4 L499,125" fill="#fff" stroke="#6f8c8b" stroke-width="0.9" stroke-linejoin="round"/>
<path d="M530,27 L525.8,195 Q524,261 519,267 L555,267 Q550,261 548.5,195 L545,27" fill="#fff" stroke="#6f8c8b" stroke-width="0.9" stroke-linejoin="round"/>
<path d="M120,214 L120,164 L121,162.9 L122,157.9 L124,155.9 L126,157.9 L127,162.9 L129.5,165.8 L130.5,160.8 L132.5,158.8 L134.5,160.8 L135.5,165.8 L136.7,161.1 L137.7,156.1 L139.7,154.1 L141.7,156.1 L142.7,161.1 L144.8,162.9 L145.8,157.9 L147.8,155.9 L149.8,157.9 L150.8,162.9 L153.7,167.7 L154.7,162.7 L156.7,160.7 L158.7,162.7 L159.7,167.7 L163.2,162.2 L164.2,157.2 L166.2,155.2 L168.2,157.2 L169.2,162.2 L173.7,165.2 L174.7,160.2 L176.7,158.2 L178.7,160.2 L179.7,165.2 L183.4,161.5 L184.4,156.5 L186.4,154.5 L188.4,156.5 L189.4,161.5 L192.7,163.4 L193.7,158.4 L195.7,156.4 L197.7,158.4 L198.7,163.4 L199.7,159.4 L200.7,147.4 L202.2,147.4 L201.7,161.4 L196,164 L196,214Z" fill="#fff" stroke="#6f8c8b" stroke-width="0.6" />
<path d="M209,190 L209,162 L210,162.8 L211,157.8 L213,155.8 L215,157.8 L216,162.8 L220.5,164.7 L221.5,159.7 L223.5,157.7 L225.5,159.7 L226.5,164.7 L229.1,165.4 L230.1,160.4 L232.1,158.4 L234.1,160.4 L235.1,165.4 L239.8,166 L240.8,161 L242.8,159 L244.8,161 L245.8,166 L246.8,162 L247.8,150 L249.3,150 L248.8,164 L247.4,160.7 L248.4,155.7 L250.4,153.7 L252.4,155.7 L253.4,160.7 L256.1,164 L257.1,159 L259.1,157 L261.1,159 L262.1,164 L263.1,160 L264.1,148 L265.6,148 L265.1,162 L265.2,162.1 L266.2,157.1 L268.2,155.1 L270.2,157.1 L271.2,162.1 L274.5,163.7 L275.5,158.7 L277.5,156.7 L279.5,158.7 L280.5,163.7 L284.2,166.4 L285.2,161.4 L287.2,159.4 L289.2,161.4 L290.2,166.4 L295.2,164.4 L296.2,159.4 L298.2,157.4 L300.2,159.4 L301.2,164.4 L302.2,160.4 L303.2,148.4 L304.7,148.4 L304.2,162.4 L305.6,166.7 L306.6,161.7 L308.6,159.7 L310.6,161.7 L311.6,166.7 L314.9,164.7 L315.9,159.7 L317.9,157.7 L319.9,159.7 L320.9,164.7 L321.9,160.7 L322.9,148.7 L324.4,148.7 L323.9,162.7 L325.2,163.6 L326.2,158.6 L328.2,156.6 L330.2,158.6 L331.2,163.6 L332.2,159.6 L333.2,147.6 L334.7,147.6 L334.2,161.6 L332.5,165.8 L333.5,160.8 L335.5,158.8 L337.5,160.8 L338.5,165.8 L339.8,165.4 L340.8,160.4 L342.8,158.4 L344.8,160.4 L345.8,165.4 L347.4,161.4 L348.4,156.4 L350.4,154.4 L352.4,156.4 L353.4,161.4 L357.9,159.4 L358.9,154.4 L360.9,152.4 L362.9,154.4 L363.9,159.4 L362,162 L362,190Z" fill="#fff" stroke="#6f8c8b" stroke-width="0.6" />
<path d="M199.9 175.5 194.8 177.6 193.3 180.0 192.4 189.0 192.1 198.0 193.0 200.1 194.2 199.2 194.3 190.8 194.9 198.0 195.4 211.2 196.3 225.0 196.0 227.1 199.9 227.1 200.2 213.0 201.1 202.8 202.0 201.3 202.9 202.8 203.8 213.0 204.1 227.1 208.0 227.1 207.7 225.0 208.6 211.2 209.1 198.0 209.7 190.8 209.8 199.2 211.0 200.1 211.9 198.0 211.6 189.0 210.7 180.0 209.2 177.6 204.1 175.5Z" fill="#fff" stroke="#6f8c8b" stroke-width="0.8" stroke-linejoin="round"/><ellipse cx="202.0" cy="171.9" rx="3.1" ry="3.9" fill="#fff" stroke="#6f8c8b" stroke-width="0.8" stroke-linejoin="round"/><path d="M194.3 180.0 L194.7 196.8 M209.7 180.0 L209.3 196.8 M199.0 176.4 Q202.0 179.4 205.0 176.4 M195.1 198.0 L208.9 198.0 M197.8 201.0 L200.2 202.2 M203.8 202.2 L206.2 201.0 M206.1 215.9 l-1.9 5.9 M199.2 208.0 l1.4 4.9 M199.2 202.3 l1.9 4.6 M199.3 171.0 Q202.0 168.0 204.7 171.0" stroke="#6f8c8b" stroke-width="0.55" fill="none"/>
<path d="M283.2 170.2 279.0 172.0 277.8 174.0 277.0 181.5 276.8 189.0 277.5 190.8 278.5 190.0 278.6 183.0 279.1 189.0 279.5 200.0 280.2 211.5 280.0 213.2 283.2 213.2 283.5 201.5 284.2 193.0 285.0 191.8 285.8 193.0 286.5 201.5 286.8 213.2 290.0 213.2 289.8 211.5 290.5 200.0 290.9 189.0 291.4 183.0 291.5 190.0 292.5 190.8 293.2 189.0 293.0 181.5 292.2 174.0 291.0 172.0 286.8 170.2Z" fill="#fff" stroke="#6f8c8b" stroke-width="0.8" stroke-linejoin="round"/><ellipse cx="285.0" cy="167.2" rx="2.6" ry="3.2" fill="#fff" stroke="#6f8c8b" stroke-width="0.8" stroke-linejoin="round"/><path d="M278.6 174.0 L278.9 188.0 M291.4 174.0 L291.1 188.0 M282.5 171.0 Q285.0 173.5 287.5 171.0 M279.2 189.0 L290.8 189.0 M281.5 191.5 L283.5 192.5 M286.5 192.5 L288.5 191.5 M286.7 200.2 l0.2 4.5 M286.9 187.3 l-0.5 3.9 M284.3 183.0 l1.1 4.5 M282.8 166.5 Q285.0 164.0 287.2 166.5" stroke="#6f8c8b" stroke-width="0.55" fill="none"/>
<path d="M318.5 170.2 315.0 171.7 313.9 173.4 313.3 179.7 313.1 186.0 313.7 187.5 314.5 186.8 314.6 181.0 315.0 186.0 315.4 195.2 316.0 204.9 315.8 206.4 318.5 206.4 318.7 196.5 319.4 189.4 320.0 188.3 320.6 189.4 321.3 196.5 321.5 206.4 324.2 206.4 324.0 204.9 324.6 195.2 325.0 186.0 325.4 181.0 325.5 186.8 326.3 187.5 326.9 186.0 326.7 179.7 326.1 173.4 325.0 171.7 321.5 170.2Z" fill="#fff" stroke="#6f8c8b" stroke-width="0.8" stroke-linejoin="round"/><ellipse cx="320.0" cy="167.7" rx="2.2" ry="2.7" fill="#fff" stroke="#6f8c8b" stroke-width="0.8" stroke-linejoin="round"/>
<ellipse cx="240" cy="208" rx="7" ry="6.3" fill="#fff" stroke="#6f8c8b" stroke-width="0.8"/>
<ellipse cx="256" cy="208" rx="7" ry="6.3" fill="#fff" stroke="#6f8c8b" stroke-width="0.8"/>
<ellipse cx="246" cy="218" rx="9" ry="8.1" fill="#fff" stroke="#6f8c8b" stroke-width="0.8"/>
<ellipse cx="262" cy="219" rx="8" ry="7.2" fill="#fff" stroke="#6f8c8b" stroke-width="0.8"/>
<ellipse cx="230" cy="218" rx="6" ry="5.4" fill="#fff" stroke="#6f8c8b" stroke-width="0.8"/>
<path d="M175.3 204.8 171.1 206.1 169.8 207.6 169.1 213.3 168.8 219.0 169.6 220.3 170.6 219.8 170.7 214.4 171.2 219.0 171.6 227.4 172.3 236.1 172.1 237.4 175.3 237.4 175.5 228.5 176.3 222.0 177.0 221.1 177.7 222.0 178.5 228.5 178.7 237.4 181.9 237.4 181.7 236.1 182.4 227.4 182.8 219.0 183.3 214.4 183.4 219.8 184.4 220.3 185.2 219.0 184.9 213.3 184.2 207.6 182.9 206.1 178.7 204.8Z" fill="#fff" stroke="#6f8c8b" stroke-width="0.6" stroke-linejoin="round"/><ellipse cx="177.0" cy="202.5" rx="2.6" ry="2.5" fill="#fff" stroke="#6f8c8b" stroke-width="0.6" stroke-linejoin="round"/>
<path d="M423.2 199.0 416.5 202.1 414.5 205.6 413.3 218.8 412.9 232.0 414.1 235.1 415.7 233.8 415.9 221.4 416.7 232.0 417.3 251.4 418.5 271.6 418.1 274.7 423.2 274.7 423.6 254.0 424.8 239.0 426.0 236.8 427.2 239.0 428.4 254.0 428.8 274.7 433.9 274.7 433.5 271.6 434.7 251.4 435.3 232.0 436.1 221.4 436.3 233.8 437.9 235.1 439.1 232.0 438.7 218.8 437.5 205.6 435.5 202.1 428.8 199.0Z" fill="#fff" stroke="#6f8c8b" stroke-width="0.8" stroke-linejoin="round"/><ellipse cx="426.0" cy="193.7" rx="4.1" ry="5.7" fill="#fff" stroke="#6f8c8b" stroke-width="0.8" stroke-linejoin="round"/><path d="M415.9 205.6 L416.3 230.2 M436.1 205.6 L435.7 230.2 M422.0 200.3 Q426.0 204.7 430.0 200.3 M416.9 232.0 L435.1 232.0 M420.5 236.4 L423.6 238.2 M428.4 238.2 L431.5 236.4 M429.7 230.7 l2.4 6.6 M426.5 249.3 l-1.7 5.7 M424.9 226.9 l1.3 7.5 M422.4 192.4 Q426.0 188.0 429.6 192.4" stroke="#6f8c8b" stroke-width="0.55" fill="none"/>
<path d="M417.1 203.9 410.1 206.9 408.0 210.4 406.4 223.4 404.7 233.9 405.9 236.5 407.8 234.8 409.3 226.1 410.1 236.5 408.4 258.2 407.2 276.5 406.8 278.7 412.6 278.7 413.4 258.2 418.3 243.5 420.0 241.7 421.7 245.2 423.7 260.9 422.9 275.6 423.3 278.7 428.3 278.7 428.7 275.6 429.5 258.2 429.8 236.5 430.6 226.1 430.9 240.8 432.6 242.6 433.5 238.2 432.8 223.4 432.0 210.4 429.9 206.9 422.9 203.9Z" fill="#fff" stroke="#6f8c8b" stroke-width="0.8" stroke-linejoin="round"/><ellipse cx="420.0" cy="198.7" rx="4.3" ry="5.7" fill="#fff" stroke="#6f8c8b" stroke-width="0.8" stroke-linejoin="round"/><path d="M409.4 210.4 L409.9 234.8 M430.6 210.4 L430.1 234.8 M415.9 205.2 Q420.0 209.5 424.1 205.2 M410.5 236.5 L429.5 236.5 M414.2 240.8 L417.5 242.6 M422.5 242.6 L425.8 240.8 M420.1 237.3 l2.5 4.9 M418.5 220.2 l2.4 7.3 M417.1 247.5 l-1.0 8.5 M416.3 197.3 Q420.0 193.0 423.7 197.3" stroke="#6f8c8b" stroke-width="0.55" fill="none"/>
<path d="M394.9 209.5 387.2 213.0 384.9 217.0 383.6 232.0 383.1 247.0 384.5 250.5 386.3 249.0 386.5 235.0 387.4 247.0 388.1 269.0 389.4 292.0 389.0 295.5 394.9 295.5 395.3 272.0 396.6 255.0 398.0 252.5 399.4 255.0 400.7 272.0 401.1 295.5 407.0 295.5 406.6 292.0 407.9 269.0 408.6 247.0 409.5 235.0 409.7 249.0 411.5 250.5 412.9 247.0 412.4 232.0 411.1 217.0 408.8 213.0 401.1 209.5Z" fill="#fff" stroke="#6f8c8b" stroke-width="0.8" stroke-linejoin="round"/><ellipse cx="398.0" cy="203.5" rx="4.7" ry="6.5" fill="#fff" stroke="#6f8c8b" stroke-width="0.8" stroke-linejoin="round"/><path d="M386.5 217.0 L387.0 245.0 M409.5 217.0 L409.0 245.0 M393.5 211.0 Q398.0 216.0 402.5 211.0 M387.6 247.0 L408.4 247.0 M391.7 252.0 L395.3 254.0 M400.7 254.0 L404.3 252.0 M405.0 225.6 l1.7 6.6 M396.1 250.3 l-2.9 7.3 M403.7 253.7 l0.4 5.6 M393.9 202.0 Q398.0 197.0 402.1 202.0" stroke="#6f8c8b" stroke-width="0.55" fill="none"/>
<path d="M383.4 212.4 374.8 216.1 372.3 220.4 370.7 236.4 370.2 252.5 371.8 256.2 373.8 254.6 374.0 239.7 375.0 252.5 375.8 276.0 377.3 300.6 376.8 304.4 383.4 304.4 384.0 279.2 385.5 261.1 387.0 258.4 388.5 261.1 390.0 279.2 390.6 304.4 397.2 304.4 396.7 300.6 398.2 276.0 399.0 252.5 400.0 239.7 400.2 254.6 402.2 256.2 403.8 252.5 403.3 236.4 401.7 220.4 399.2 216.1 390.6 212.4Z" fill="#fff" stroke="#6f8c8b" stroke-width="0.8" stroke-linejoin="round"/><ellipse cx="387.0" cy="206.0" rx="5.3" ry="7.0" fill="#fff" stroke="#6f8c8b" stroke-width="0.8" stroke-linejoin="round"/><path d="M374.0 220.4 L374.6 250.4 M400.0 220.4 L399.4 250.4 M381.9 214.0 Q387.0 219.3 392.1 214.0 M375.3 252.5 L398.7 252.5 M379.9 257.9 L384.0 260.0 M390.0 260.0 L394.1 257.9 M390.5 233.9 l-3.0 5.9 M383.6 238.8 l-0.9 6.4 M391.8 227.6 l-0.6 7.9 M382.4 204.3 Q387.0 199.0 391.6 204.3" stroke="#6f8c8b" stroke-width="0.55" fill="none"/>
<path d="M362.2 224.0 355.6 227.6 353.3 231.8 351.9 247.4 351.4 260.9 352.8 263.0 354.5 248.4 356.6 252.6 352.8 275.5 359.4 277.6 359.4 309.8 358.4 313.4 363.1 313.4 363.1 277.6 366.9 277.6 366.9 313.4 371.6 313.4 370.6 309.8 370.6 277.6 377.2 275.5 373.4 252.6 375.5 248.4 377.2 263.0 378.6 260.9 378.1 247.4 376.7 231.8 374.4 227.6 367.8 224.0Z" fill="#fff" stroke="#6f8c8b" stroke-width="0.8" stroke-linejoin="round"/><ellipse cx="365.0" cy="217.8" rx="4.9" ry="6.8" fill="#fff" stroke="#6f8c8b" stroke-width="0.8" stroke-linejoin="round"/><path d="M353.0 231.8 L353.6 260.9 M377.0 231.8 L376.4 260.9 M360.3 225.6 Q365.0 230.8 369.7 225.6 M356.6 252.6 L373.4 252.6 M360.5 289.6 l1.2 7.9 M362.4 251.8 l-2.7 10.3 M370.5 250.1 l-0.5 5.6 M360.8 216.2 Q365.0 211.0 369.2 216.2" stroke="#6f8c8b" stroke-width="0.55" fill="none"/>
<path d="M92.4 178.9 86.5 182.2 84.3 186.0 83.0 200.2 82.6 212.6 83.9 214.5 85.4 201.2 87.3 205.0 83.9 225.9 89.9 227.8 89.9 257.2 89.0 260.6 93.3 260.6 93.3 227.8 96.7 227.8 96.7 260.6 101.0 260.6 100.1 257.2 100.1 227.8 106.1 225.9 102.7 205.0 104.6 201.2 106.1 214.5 107.4 212.6 107.0 200.2 105.7 186.0 103.5 182.2 97.6 178.9Z" fill="#fff" stroke="#6f8c8b" stroke-width="0.8" stroke-linejoin="round"/><ellipse cx="95.0" cy="173.2" rx="4.4" ry="6.2" fill="#fff" stroke="#6f8c8b" stroke-width="0.8" stroke-linejoin="round"/><path d="M84.1 186.0 L84.6 212.6 M105.9 186.0 L105.4 212.6 M90.7 180.3 Q95.0 185.1 99.3 180.3 M87.3 205.0 L102.7 205.0 M90.7 209.3 l-3.1 10.3 M98.2 240.0 l-0.7 6.1 M96.5 210.6 l-1.9 9.7 M91.2 171.8 Q95.0 167.0 98.8 171.8" stroke="#6f8c8b" stroke-width="0.55" fill="none"/>
<path d="M340.8 233.6 333.4 237.2 330.7 241.2 329.2 256.4 328.6 269.5 330.2 271.5 332.1 257.4 334.5 261.4 330.2 283.6 337.6 285.6 337.6 316.9 336.6 320.5 341.9 320.5 341.9 285.6 346.1 285.6 346.1 320.5 351.4 320.5 350.4 316.9 350.4 285.6 357.8 283.6 353.5 261.4 355.9 257.4 357.8 271.5 359.4 269.5 358.8 256.4 357.3 241.2 354.6 237.2 347.2 233.6Z" fill="#fff" stroke="#6f8c8b" stroke-width="0.8" stroke-linejoin="round"/><ellipse cx="344.0" cy="227.6" rx="5.5" ry="6.6" fill="#fff" stroke="#6f8c8b" stroke-width="0.8" stroke-linejoin="round"/><path d="M330.4 241.2 L331.1 269.5 M357.6 241.2 L356.9 269.5 M338.7 235.1 Q344.0 240.2 349.3 235.1 M334.5 261.4 L353.5 261.4 M340.9 279.2 l2.5 9.2 M347.2 297.4 l1.1 11.2 M347.8 252.6 l-3.1 7.7 M339.2 226.1 Q344.0 221.0 348.8 226.1" stroke="#6f8c8b" stroke-width="0.55" fill="none"/>
<path d="M311.0 229.8 301.1 233.6 298.3 238.0 295.9 254.5 293.6 267.7 295.4 271.0 297.9 268.8 300.0 257.8 301.1 271.0 298.8 298.5 297.1 321.6 296.5 324.4 304.6 324.4 305.8 298.5 312.7 279.8 315.0 277.6 317.3 282.0 320.2 301.8 319.0 320.5 319.6 324.4 326.6 324.4 327.1 320.5 328.3 298.5 328.6 271.0 329.8 257.8 330.2 276.5 332.6 278.7 333.8 273.2 332.9 254.5 331.7 238.0 328.9 233.6 319.0 229.8Z" fill="#fff" stroke="#6f8c8b" stroke-width="0.8" stroke-linejoin="round"/><ellipse cx="315.0" cy="223.2" rx="6.0" ry="7.2" fill="#fff" stroke="#6f8c8b" stroke-width="0.8" stroke-linejoin="round"/><path d="M300.2 238.0 L300.9 268.8 M329.8 238.0 L329.1 268.8 M309.2 231.4 Q315.0 236.9 320.8 231.4 M301.7 271.0 L328.3 271.0 M306.9 276.5 L311.5 278.7 M318.5 278.7 L323.1 276.5 M313.6 280.6 l-0.1 12.5 M306.0 285.1 l1.4 6.9 M314.6 258.8 l-1.9 5.5 M309.8 221.5 Q315.0 216.0 320.2 221.5" stroke="#6f8c8b" stroke-width="0.55" fill="none"/>
<path d="M276.5 223.6 265.6 227.7 262.3 232.4 259.8 249.9 257.2 264.0 259.1 267.5 262.0 265.2 264.3 253.5 265.6 267.5 263.0 296.8 261.1 321.3 260.4 324.2 269.4 324.2 270.7 296.8 278.4 276.9 281.0 274.5 283.6 279.2 286.8 300.3 285.5 320.1 286.1 324.2 293.9 324.2 294.5 320.1 295.8 296.8 296.2 267.5 297.5 253.5 298.0 273.4 300.6 275.7 302.0 269.8 300.9 249.9 299.7 232.4 296.4 227.7 285.5 223.6Z" fill="#fff" stroke="#6f8c8b" stroke-width="0.8" stroke-linejoin="round"/><ellipse cx="281.0" cy="216.6" rx="6.7" ry="7.6" fill="#fff" stroke="#6f8c8b" stroke-width="0.8" stroke-linejoin="round"/><path d="M264.5 232.4 L265.3 265.2 M297.5 232.4 L296.7 265.2 M274.6 225.4 Q281.0 231.2 287.4 225.4 M266.2 267.5 L295.8 267.5 M272.0 273.4 L277.1 275.7 M284.9 275.7 L290.0 273.4 M275.6 284.1 l3.0 9.8 M280.6 295.7 l-2.3 9.5 M289.1 290.9 l-0.7 8.7 M275.2 214.8 Q281.0 209.0 286.8 214.8" stroke="#6f8c8b" stroke-width="0.55" fill="none"/>
<path d="M245.3 236.8 236.1 240.3 233.5 244.4 231.3 259.7 229.2 271.9 230.8 275.0 233.1 273.0 235.1 262.8 236.1 275.0 234.0 300.5 232.4 321.9 231.9 324.5 239.4 324.5 240.4 300.5 246.9 283.2 249.0 281.1 251.1 285.2 253.8 303.6 252.7 320.9 253.3 324.5 259.7 324.5 260.2 320.9 261.3 300.5 261.6 275.0 262.7 262.8 263.1 280.1 265.3 282.1 266.5 277.0 265.6 259.7 264.5 244.4 261.9 240.3 252.7 236.8Z" fill="#fff" stroke="#6f8c8b" stroke-width="0.8" stroke-linejoin="round"/><ellipse cx="249.0" cy="230.6" rx="5.6" ry="6.6" fill="#fff" stroke="#6f8c8b" stroke-width="0.8" stroke-linejoin="round"/><path d="M235.3 244.4 L235.9 273.0 M262.7 244.4 L262.1 273.0 M243.6 238.3 Q249.0 243.4 254.4 238.3 M236.7 275.0 L261.3 275.0 M241.5 280.1 L245.8 282.1 M252.2 282.1 L256.5 280.1 M254.6 266.2 l-3.0 5.5 M249.2 290.6 l-1.9 10.2 M256.9 295.0 l1.0 7.0 M244.2 229.1 Q249.0 224.0 253.8 229.1" stroke="#6f8c8b" stroke-width="0.55" fill="none"/>
<path d="M217.6 227.5 209.7 231.3 206.8 235.6 205.1 251.8 204.6 265.8 206.3 268.0 208.3 252.9 210.8 257.2 206.3 281.0 214.2 283.1 214.2 316.6 213.1 320.4 218.7 320.4 218.7 283.1 223.3 283.1 223.3 320.4 228.9 320.4 227.8 316.6 227.8 283.1 235.7 281.0 231.2 257.2 233.7 252.9 235.7 268.0 237.4 265.8 236.9 251.8 235.2 235.6 232.3 231.3 224.4 227.5Z" fill="#fff" stroke="#6f8c8b" stroke-width="0.8" stroke-linejoin="round"/><ellipse cx="221.0" cy="221.0" rx="5.9" ry="7.0" fill="#fff" stroke="#6f8c8b" stroke-width="0.8" stroke-linejoin="round"/><path d="M206.5 235.6 L207.2 265.8 M235.5 235.6 L234.8 265.8 M215.3 229.1 Q221.0 234.5 226.7 229.1 M210.8 257.2 L231.2 257.2 M217.2 276.6 l-3.0 10.7 M229.1 273.4 l-0.8 11.7 M221.1 242.2 l-2.1 6.6 M215.9 219.4 Q221.0 214.0 226.1 219.4" stroke="#6f8c8b" stroke-width="0.55" fill="none"/>
<path d="M171.8 238.0 164.4 241.4 161.8 245.2 160.2 259.6 159.7 272.1 161.3 274.0 163.2 260.6 165.5 264.4 161.3 285.5 168.7 287.4 168.7 317.2 167.6 320.6 172.9 320.6 172.9 287.4 177.1 287.4 177.1 320.6 182.4 320.6 181.3 317.2 181.3 287.4 188.7 285.5 184.5 264.4 186.8 260.6 188.7 274.0 190.3 272.1 189.8 259.6 188.2 245.2 185.6 241.4 178.2 238.0Z" fill="#fff" stroke="#6f8c8b" stroke-width="0.8" stroke-linejoin="round"/><ellipse cx="175.0" cy="232.2" rx="5.5" ry="6.2" fill="#fff" stroke="#6f8c8b" stroke-width="0.8" stroke-linejoin="round"/><path d="M161.5 245.2 L162.1 272.1 M188.5 245.2 L187.9 272.1 M169.7 239.4 Q175.0 244.2 180.3 239.4 M165.5 264.4 L184.5 264.4 M171.9 256.4 l-1.4 10.7 M167.7 253.7 l-2.9 10.7 M172.8 277.9 l-0.2 5.8 M170.2 230.8 Q175.0 226.0 179.8 230.8" stroke="#6f8c8b" stroke-width="0.55" fill="none"/>
<path d="M136.0 230.6 126.3 234.4 123.4 238.8 121.1 255.2 118.8 268.2 120.5 271.5 123.1 269.3 125.1 258.4 126.3 271.5 124.0 298.8 122.3 321.6 121.7 324.4 129.7 324.4 130.8 298.8 137.7 280.2 140.0 278.0 142.3 282.4 145.2 302.0 144.0 320.6 144.6 324.4 151.4 324.4 152.0 320.6 153.2 298.8 153.5 271.5 154.6 258.4 155.1 276.9 157.4 279.1 158.7 273.7 157.7 255.2 156.6 238.8 153.7 234.4 144.0 230.6Z" fill="#fff" stroke="#6f8c8b" stroke-width="0.8" stroke-linejoin="round"/><ellipse cx="140.0" cy="224.1" rx="6.0" ry="7.1" fill="#fff" stroke="#6f8c8b" stroke-width="0.8" stroke-linejoin="round"/><path d="M125.4 238.8 L126.0 269.3 M154.6 238.8 L154.0 269.3 M134.3 232.3 Q140.0 237.7 145.7 232.3 M126.8 271.5 L153.2 271.5 M132.0 276.9 L136.6 279.1 M143.4 279.1 L148.0 276.9 M142.9 273.3 l2.6 6.5 M135.5 259.5 l-2.8 7.8 M147.9 246.2 l-2.1 6.8 M134.8 222.4 Q140.0 217.0 145.2 222.4" stroke="#6f8c8b" stroke-width="0.55" fill="none"/>
<path d="M95.5 219.2 84.6 223.5 81.4 228.4 78.9 246.7 76.3 261.3 78.2 265.0 81.0 262.6 83.3 250.4 84.6 265.0 82.1 295.5 80.1 321.1 79.5 324.2 88.5 324.2 89.8 295.5 97.4 274.8 100.0 272.3 102.6 277.2 105.8 299.2 104.5 319.9 105.1 324.2 112.8 324.2 113.5 319.9 114.7 295.5 115.1 265.0 116.4 250.4 116.9 271.1 119.5 273.5 120.9 267.4 119.9 246.7 118.6 228.4 115.4 223.5 104.5 219.2Z" fill="#fff" stroke="#6f8c8b" stroke-width="0.8" stroke-linejoin="round"/><ellipse cx="100.0" cy="211.9" rx="6.7" ry="7.9" fill="#fff" stroke="#6f8c8b" stroke-width="0.8" stroke-linejoin="round"/><path d="M83.6 228.4 L84.4 262.6 M116.4 228.4 L115.6 262.6 M93.6 221.1 Q100.0 227.2 106.4 221.1 M85.3 265.0 L114.7 265.0 M91.0 271.1 L96.2 273.5 M103.8 273.5 L109.0 271.1 M106.4 275.3 l4.0 7.9 M99.9 285.1 l0.6 7.4 M93.7 238.2 l-1.8 10.4 M94.2 210.1 Q100.0 204.0 105.8 210.1" stroke="#6f8c8b" stroke-width="0.55" fill="none"/>
<path d="M452,27 L455.5,239.1 Q457,324 457,330 L498,330 Q498,324 492.9,239.1 L481,27" fill="#fff" stroke="#6f8c8b" stroke-width="0.9" stroke-linejoin="round"/>
<path d="M160,126 L192,117 L192,135Z" fill="#5f6a6a"/><rect x="192" y="123.85" width="105" height="4.3" fill="#5f6a6a"/><rect x="381" y="123.85" width="106" height="4.3" fill="#5f6a6a"/><path d="M517.5,126 L487,117 L487,135Z" fill="#5f6a6a"/>
<text x="304" y="132.4" font-family="Liberation Sans" font-weight="bold" font-size="17.5" fill="#2f3c3d" textLength="70.2" lengthAdjust="spacingAndGlyphs">8 - 10 m</text>
</g>
<g clip-path="url(#cp2)">
<rect x="89" y="340" width="473" height="162" fill="#e8ecea"/>
<rect x="306" y="405" width="146" height="94" fill="url(#g2)"/>
<path d="M75,540 L89,540 L89,497 L452,497 L452,500 L562,500 L562,629 L75,629Z" fill="#f0cdb0" stroke="none" stroke-width="1" />
<g clip-path="url(#sky2)"><g fill="none" stroke-linecap="round" stroke-linejoin="round"><path d="M169 402l-2-2-2-1M419 412l0 1 1 1M471 352l4-4 4-4M168 333l2-3 2-4M160 424l2 5 0 4M477 380l0-3-2-4M363 395l-3 1-3 2M442 449l1-3 2-4M455 389l3-1 3 0M286 410l2-2 2-2M534 355l-1-1-1-2M493 429l1 1 1 1M394 346l2 0 2 1M91 412l-3 2-2 3M173 420l0-2 0-2M125 371l-1 1-1 1M563 340l3-1 4-2M355 331l-5-1-6 0M506 406l-1 1-2 1M432 332l2-1 3-1M389 333l-2-2-2-2M312 446l1-3 0-3M532 371l2-2 3-1M389 450l-2 0-2 1M180 333l-1-4-2-5M221 344l2-1 2 0M214 374l-4-1-3-2M394 347l-5-4-6-3M216 403l2 2 2 2M154 427l-2-2-2-3M224 362l-2 0-2-1M165 431l2-2 1-1M445 375l-2-3-3-2M404 339l1-3 2-2M278 437l-3-4-4-3M392 442l-1-3-1-3M521 433l-1 0-2 1M124 335l-4-3-4-3M135 384l-1 1-1 2M439 414l1-2 2-2M526 338l-1-2-1-2M346 360l-5-1-5 0M412 451l-2 1-2 2M543 351l3-3 2-3M509 385l-3 2-2 3M463 358l1-2 2-1M139 392l-1-5-1-4M135 375l-1-3-2-3M441 423l-3-4-2-4M413 425l4-2 3-2M287 323l3-3 4-3M558 339l-2 1-1 0M130 400l1-1 1-1M202 419l3 0 3 0M412 390l3-1 4-2M520 397l-3 0-2 1M478 330l-1-5-1-5M190 424l4-1 3-2M115 409l-1-3-1-3M197 323l3-2 4-2M404 345l-2-3-3-2M309 349l0-2 1-2M540 343l0-3 2-4M457 455l-3-2-3-2M540 349l-3 0-3 2M322 343l1-2 1-1M497 432l4 0 3 1M375 420l-1-2 0-1M260 391l4-2 3-1M122 418l2-1 1-1M234 407l-3 0-3 1M377 344l2 2 1 2M393 322l0-4 0-3M362 340l1 0 2-1M234 354l-4 3-2 4M444 428l-2-1-1-2M524 330l3 3 2 3M242 353l3-1 2-1M194 333l1-4 1-4M457 383l0 2 0 2M446 422l4-1 4-1M545 394l-2-1-1 0M546 403l-3 3-1 4M185 442l2-1 1-1M300 338l1-2 1-2M407 433l-1 1-1 1M389 414l-3-2-3-2M93 427l1-3 0-3M145 385l5 0 4 1M207 398l1-3 1-2M268 408l-1 0-1 0M409 387l1-3 0-3M85 375l0-2-1-2M264 392l-1 2-2 1M101 369l3-2 3-3M288 382l1-3 0-3M565 318l4-3 5-2M316 382l2-2 2-2M419 348l-3-1-2-2M447 341l5 0 4 0M209 352l-4-2-4-3M299 404l2-2 1-3M324 451l-4-1-4-2M490 333l0-2-1-2M349 413l0-6 0-6M273 347l-2-5-2-5M131 327l0-4 0-4M451 423l-2-1-3-1M160 410l3 0 3-1M513 403l-3-4-2-4M197 360l-2-3-3-3M134 341l-1-3-1-2M265 355l-1-3-1-2M201 348l-3-6-3-4M426 381l2 0 2 0M150 397l5 1 4 1M133 333l2-1 2-1M269 419l-1-2 0-2M557 358l2-1 1 0M211 394l-1-1 0-1M288 333l0-1 1-2M220 407l-1-2-1-1M343 335l1-3 2-2M93 351l2-4 1-5M389 441l1-3 3-2M279 338l0-5 0-6M268 346l4 1 4 1M379 349l3-2 3-2M266 359l-3-2-3-1M328 437l2-1 1-2M437 410l2-2 3-3M183 433l-2 2-2 1M116 350l2 0 1 1M415 409l-3 0-3 1M382 429l-3-3-4-1M567 354l4 1 3 2M351 331l0-2-1-3M185 362l-1-2-1-1M280 328l-2-6 0-6M219 401l2-2 1-2M481 415l2-3 1-3M200 366l4-1 3-2M550 426l-2 0-2 0M411 365l-2 0-1 1M191 343l-1-3 1-3M112 376l-4-5-2-6M231 407l2 0 3-1M281 332l6 2 6 1M526 358l-1-3 0-4M348 430l-1-4-1-3M322 410l3-2 2-2M273 373l-2-2-1-1M217 412l0-4 1-4M466 424l-5 4-4 5M401 378l2 0 2 1M543 394l4 1 3 3M125 382l3-4 3-3M424 404l-1-4-2-3M461 396l1 3 2 2M176 392l-3-3-3-2M160 396l-4 0-4 2M502 320l4-2 4-2M165 347l-1-2-1-2M396 336l-1-2 0-1M335 415l1-4 0-4M287 350l-1 4-1 4M263 390l-3-2-3-2M187 388l2-1 2-1M455 456l3 1 2 1M426 412l-4 2-5 2M235 371l-1 3-1 3M464 410l2-5 0-5M184 410l4-3 3-2M428 399l-2 4-2 4M273 345l-1-3-1-3M332 362l-3 1-3 0M312 349l0-1-1-1M265 336l2-1 1-2M547 343l-1-2 0-2M108 405l2-5 2-4M293 373l1-1 0-2M211 384l-4-3-2-4M243 373l-1-3-1-3M250 384l5-2 4-2M521 373l-2 0-1 0M100 391l0 2-1 2M185 380l4 0 4 0M160 441l1-3 0-4M242 371l-1-3-1-2M416 326l-2 0-2-1M189 410l4-2 3-3M422 366l0-3 1-3M452 422l-2-2-3-3M367 458l1-1 1-2M136 376l4 0 3 0M487 373l1-2 0-2M441 323l-3-5-4-5M114 363l2-1 1 0M460 424l6 0 5 0M540 344l2-4 1-3M298 356l2-1 2-1M336 439l-1-5-1-4M459 458l1 5 1 4M549 434l-2 0-2-1M293 349l-2-3-2-3M361 342l1-1 0-2M188 387l4-1 4-1M383 407l-1-4 0-5M354 341l2-2 2-2M294 417l0-2 1-2M266 443l2-1 1-2M222 405l3 3 3 3M180 373l2-1 1-1M431 416l4-2 4-1M320 360l-1-1-2-1M130 380l3-1 3 0M478 333l2-2 1-2M221 414l0-3 1-2M519 393l-2-5-3-4M430 454l-1-1-1-1M283 342l-2-1-2-1M85 333l-1-3-3-2M344 339l2-4 1-4M298 352l-2-2-1-3M205 414l-4 2-5 0M219 417l-2-1-1-1M514 365l2 0 3 0M250 329l-3 0-3 1M114 378l-4-1-4-1M225 434l-1-4-1-4M252 391l5 1 4 1M240 358l1-3 2-2M197 347l3-2 2-1M483 405l-3 0-2 0M461 390l-1-1-1-2M510 336l-1-1 0-1M354 416l-6 0-5 1M463 375l0-1-1-1M401 397l-2-1-1-1M169 431l3-5 3-5M243 366l-1-2-2-1M378 359l-1-4 0-4M212 332l-1-4-1-5M425 388l2-1 1 0M486 334l-1-2 0-2M241 338l0-2-1-3M393 410l-2-2-2-2M293 366l0-1 0-2M115 405l1-2 1-2M184 404l-6 3-6 3M303 383l4 1 3 2M220 389l0-3-1-3M195 375l3 0 3 0M354 410l2-1 3-1M162 426l2-1 1-2M542 397l-1-3-2-3M238 439l1-1 1-1M456 381l-2-2-2-1M425 392l1-2 2-2M351 383l1-3 1-3M388 342l-2 2-2 2M335 453l-1-2-2-1M86 438l-3-4-3-5M387 395l1-1 1-2M221 363l3-3 2-3M255 428l7 2 7 1M257 397l5 0 4 0M523 339l-5 3-6 2M509 395l-4-1-4-1M411 408l0-3 1-2M424 358l2 3 2 3M525 379l2 3 2 3M359 427l-1 1-2 1M441 405l-1-4-1-3M157 345l2-4 2-5M319 378l1 1 2 0M215 439l-2 0-1 0M283 440l2 1 1 2M205 399l2-1 1-1M377 428l-4 0-4 0M187 385l0-2-1-1M387 442l2-1 1 0M480 338l4-5 6-4M135 338l-3-4-3-5M324 390l1-2 0-1M507 347l3 0 4 0M192 411l1 1 2 0M261 372l1-1 0-2M386 410l-1-2 0-2M179 372l0 6 1 5M564 403l1-3 0-2M496 354l2-4 3-4M417 461l1-2 2-1M127 374l0-2-1-3M287 337l4-1 5 0M359 447l-1-2-1-2M286 360l3-2 2-2M180 422l-3-4-4-2M209 426l-1-1-1-1M217 447l6-1 5-1M398 353l3 2 2 3M378 444l-1-4-1-4M235 424l1-2 1-2M159 400l3-1 2-3M207 372l2-1 2 0M427 379l2 0 2 1M278 439l-1-2-1-1M430 345l3 0 4 1M243 366l5-2 4-1M541 331l4 2 4 1M316 455l2 2 2 2M355 373l-1 3-1 4M233 396l-1-3-2-2M322 345l1-1 2-1M360 429l3-1 4-1M450 342l3-3 3-2M418 412l-1-3-2-3M324 371l0 3-1 3M132 409l1-5-1-5M344 419l-1-3 0-2M144 430l-1 2 0 2M548 328l-2-3-1-3M330 323l-5-2-4-2M264 444l5 0 5 0M560 334l2 0 1 0M327 340l-6-1-5 0M102 328l-6 1-5 2M457 359l2 0 2 2M126 366l1-2 1-2M462 426l-1-3-2-3M557 396l4-6 5-5M501 407l-4 1-4 0M159 384l-2-1-2-2M348 350l-2 1-2 1M264 366l0 6 1 6M121 408l0-4 1-4M381 413l-3-4-1-4M141 375l2-2 1-2M353 432l-2 1-2 1M357 332l1-2 1-2M390 415l-6 0-6 1M409 436l4 2 4 3M421 425l2-5 2-3M461 335l-3 0-2 0M557 405l-2 4-3 3M437 361l1-1 1-2M267 328l-1-2-1-3M230 345l-2 1-2 1M106 424l3-3 2-4M376 340l-1-1-2 0M317 391l-3-2-3-3M324 358l2-1 2-1M175 414l5 1 5 0M406 419l5-2 3-3M204 409l-2-3-2-2M125 372l-4 0-5-1M474 354l2 0 2 0M228 355l-2-2-1-2M548 400l-2 3-3 3M153 419l2-2 2 0M267 338l5 2 4 3M162 369l0-4 0-4M554 350l-2-4-2-4M127 330l-1-4 0-4M206 409l1-2 1-1M289 390l-2 1-3 0M342 356l1 0 1 0M502 359l-1 2-1 3M416 399l0 2 1 2M388 418l-1-1-2-1M136 358l2-4 2-3M127 403l2-1 1-2M528 390l4-5 3-5M308 367l-5 1-5 1M516 340l0-2 1-1M455 450l0-1 0-2M473 396l2 0 1 0M350 428l-1-4-1-4M351 382l-3-3-3-4M398 383l-1-3-1-2M475 347l3 0 2-1M322 340l-4-2-3-2M217 440l-1-3-1-4M267 345l-1-1 0-1M297 453l-2-2-1-2M479 362l1-3-1-2M266 415l-2-3-2-2M178 411l3 2 3 1M509 398l-3-5-3-5M485 402l-2 1-1 1M534 422l5 0 5 1M109 399l2 0 2-1M269 380l-3-1-3 0M328 378l-1-2-1-2M301 330l2-3 3-2M185 439l-4-3-3-3M480 374l-3-4-4-3M265 380l1-2 0-2M548 331l2-1 2-1M254 404l-1-6 0-6M326 354l-3 3-2 4M270 389l3 1 2 1M153 410l4 1 4 1M513 363l4-1 3-1M267 326l-1-2-1-3M144 365l-3 0-4-1M430 346l0 2-1 2M402 332l2-4 1-5M207 374l3 1 4 1M460 390l3-3 2-3M98 436l1 2 1 1M236 352l0-5 2-6M148 334l2-6 1-7M447 346l-3-3-3-3M334 325l3-4 4-4M99 345l0-5-1-4M527 398l-1-1-1-1M99 333l6-3 6-3M391 394l-1 1-1 0M98 426l0-2 0-3M329 408l4-1 4-2M373 359l4 1 4 2M307 362l-2-6-2-6M326 345l3-3 3-4M376 357l2-4 2-5M334 329l3-2 2 0M298 410l-1-2-2-3M246 345l0 6 1 6M578 364l4-2 5-2M484 381l-3-4-4-5M97 427l-3-2-1-2M330 338l3 1 3 0M546 331l-2 2-2 1M321 428l3-2 4-2M454 373l-3-2-3-2M258 345l1-4 2-3M188 348l-3 1-3 0M306 446l1-1 1-2M365 445l1-2 1-1M527 372l0-3 1-3M152 398l-3 0-3-1M242 361l1-2 0-2M96 396l-1-3-2-2M498 347l-1-3-2-2M368 351l1-4 1-5M266 433l-3-2-2-2M331 365l-2-1-2-2M214 421l1-3 2-4M363 400l-3-5-2-5M427 410l0-2-1-2M170 358l2 0 3 0M154 429l1 0 1 0" stroke="#7b989b" stroke-width="0.7"/><path d="M262 376l-3-3-1-4-1-4 0-5M233 437l-1-5-1-6-1-5 1-6M557 333l-2-4-3-3-3-2-3-4M440 384l-6-2-5-3-5-3-6-3M108 395l-6 0-5 0-5 0-5-1M153 418l2-2 1-1 2-2 1-1M274 437l1 0 2-1 2 0 2 0M260 339l7 0 7-2 6-2 7-2M195 417l-5-1-4-1-5-1-4 0M167 419l-2-3-2-2-3-2-2-3M194 341l5-3 6-3 5-4 4-5M228 341l2-6 2-6 1-7 0-7M397 383l2-4 4-2 3-2 4-2M244 368l4-4 4-3 5-3 5-2M293 402l1-3 2-2 2-2 1-2M169 414l-4-1-3-1-4-2-3-2M514 417l6 4 7 2 7 4 6 4M490 374l3-1 3-1 2-2 2-2M279 412l3 0 4-1 3-2 2-2M413 335l1-3 1-2 0-2 2-2M537 366l-7-4-5-5-4-6-2-7M372 368l0-2 1-2 0-2 0-3M224 334l-5-4-3-5-4-4-5-3M300 390l-5-6-5-4-6-4-6-4M195 337l-2-5-3-4-2-5-3-4M300 431l5-5 4-4 5-4 6-2M558 383l3-6 4-5 5-5 5-3M134 347l-2-6-2-5-3-6-3-5M417 345l2-2 1-2 1-3 2-2M469 377l-2-3-2-2-2-1-2-2M421 338l-4-1-4 1-4-1-3 0M150 401l4-1 3 1 4-1 3-1M513 354l1-1 2-2 1-1 2-1M382 389l-2-1-2-2-2 0-2-2M243 404l2-2 2-2 2-2 2-2M491 357l2-3 2-2 2-3 3-2M216 379l3-4 2-5 2-4 2-4M480 357l-1-5-1-5-1-5 0-5M323 373l2-3 2-1 3-2 2-3M385 369l-3-6-5-6-4-5-6-5M554 366l-4-6-2-6-4-5-5-4M482 340l-5-6-6-6-6-4-6-5M510 392l-5-6-3-6-3-6-2-7M122 438l3-1 3-1 2-2 2-2M283 338l4 2 4 3 4 4 2 5M202 413l1-3 2-4 1-3 3-3M333 404l1-3 0-2 0-3 0-3M448 343l-3-1-2-1-3-2-2-1M503 337l3-4 4-3 4-4 3-4M329 350l-3-7-4-6-5-4-6-4M291 373l-2-2-2-2-2-2 0-2M216 358l1-6 3-5 3-5 2-6M426 402l-7 0-7 0-7 2-7 2M112 386l2-5 3-4 2-6 2-4M179 379l3-2 3-1 3-2 3-1M506 350l6-4 4-6 5-5 5-5M164 391l0-5-2-5-2-5 0-5M161 339l-4-4-4-3-3-4-3-3M536 362l2-2 2-3 2-3 2-2M303 429l2-2 1-1 2-2 2-2M343 383l4-1 3-2 3-2 3-2M546 392l-1 3-2 3-2 2-1 3M101 367l1-3 0-4 1-3 2-4M240 417l-2-7-1-7 0-7 1-7M221 443l2-3 3-4 2-4 0-4M436 420l-7-1-7-1-7-3-7-3M251 373l-1-4-2-4-1-4-2-3M118 356l7-1 7 1 6 1 6 3M116 344l-3-2-3-1-3-1-3 0M232 385l4-3 4-4 4-3 3-4M273 439l-2-7 0-6 2-7 3-6M408 436l-2-2-2 0-2-2-2 0M305 337l-4 0-4 0-4 0-4-1M500 413l-6-4-7-1-8 0-7 1M299 403l3-2 3-1 3-1 3 0M501 386l-4-1-5-1-5 0-5-1M559 423l-2-4-3-3-2-4-3-2M367 424l-4-3-5-1-4-1-5-1M277 374l-1-6-2-6 0-7 1-6M228 361l1 2 0 2 0 2 0 2M497 377l2-5 3-4 2-5 0-6M488 396l-6-2-5 0-5 1-6 0M412 405l-6-5-5-5-7-3-7-3M103 402l7-2 7 1 8 0 7-1M193 377l5 0 5 1 5 0 4-2M476 358l-2-2-3-1-2-1-3 0M297 381l-5 0-4 1-5 0-4 2M295 439l2-5 3-4 2-5 2-5M448 381l0-3-1-3 0-3-1-3M527 382l-5-2-3-3-5-3-3-3M443 401l-5 3-5 3-4 4-3 5M147 359l3-3 2-3 1-3 1-4M274 384l-4-4-5-3-5-3-5-2M524 382l-3-4-4-4-4-2-5-2M214 388l2-4 1-5 2-4 4-4M283 346l-1-2-2-1-1-2-2-2M523 392l-4 0-4 1-3-1-4 0M300 359l1-2 1-2 2-1 1-2M453 342l3-5 3-5 3-5 2-5M335 425l6-5 6-4 7-2 7-1M516 335l-1-2 0-2 0-2 0-3M531 430l-1-3-1-3-1-3-1-3M409 379l-2-4-1-3-3-3-1-3M482 419l1-6 0-5 1-5 0-5M458 387l-4-3-4-4-3-4-4-3M444 359l4-5 3-6 4-6 4-5M437 446l2-4 1-5 0-4 2-5M444 341l-3-3-4-4-2-3-3-4M118 336l-5-3-6 0-6-3-6-1M477 343l4-2 3-3 4-3 3-3M400 423l-3-1-3 0-3 0-3 0M463 417l2 3 1 4 2 3 2 3M409 394l0-5-1-5-2-4-1-5M272 369l-2-4-3-3-4-2-5-1M200 336l5-1 4-3 4-2 4-1M265 362l0-7 1-7 2-6 0-7M130 411l3-2 3-1 4-2 3-1M406 420l-2-4-1-3-1-3-1-4M316 368l0-6 1-5 1-6 1-5M153 372l-6-6-4-6-4-7-5-6M205 429l-2 0-3 0-2 0-2 0M459 446l6-3 6-3 6-4 6-3M352 436l1 2 0 2 0 2 1 3M258 363l0-7 1-7 0-8 0-7M547 339l2-4 3-3 3-3 4-3M224 415l-4-6-4-6-3-7-4-6M98 388l-2-1-3-1-2-1-3-1M451 387l-6-4-7-3-6-3-7-4M461 363l3-4 2-3 3-3 4-2M548 375l2-7 2-6 3-7 0-6M294 392l4-3 3-4 2-3 2-4M340 359l1 2 2 1 1 2 1 3M105 409l-4-1-3-1-4-2-4-1M106 415l3-2 3-2 4 0 4 0M294 355l-5-4-4-5-5-5-5-5M314 338l-1-2-1-2 0-2 0-2M363 385l5-3 6-3 4-3 4-5M281 356l2-4 1-3 3-3 2-3M535 333l0-5 0-5 1-5 2-5M379 421l4-5 3-5 4-5 2-6M269 378l3-3 3-4 3-3 3-4M422 435l-2-6-3-7-1-7-1-6M415 340l2-1 2-1 2-1 2-1M248 373l-2-3-1-3-2-3-2-3M543 415l-2 0-2-1-2 0-2 0M524 387l4-1 4-3 3-3 4-2M296 411l4-2 4-2 4-1 3-1M499 337l-5-2-4-3-4-3-4-4M519 365l2-4 2-3 2-4 3-3M243 429l2-2 2-2 2-1 3-2M157 433l-1-2-1-3-2-2-2-1M448 391l0-2-1-3-1-2-1-3M497 412l4-1 4-1 4 0 4-1M356 343l3-3 2-4 2-4 2-4M343 391l3-6 1-7 3-6 3-6M459 398l-6-3-6-3-6-3-7-1M192 374l-2-1-2-1-2 0-2-1M395 355l0-5 1-5 2-4 1-5M438 437l0-5-1-5 1-5 2-4M269 384l5 0 5 0 4 0 5 1M292 340l5-1 4-2 5-2 4-2M384 408l-1-2-2-2-2-2-3-1M341 351l-1-2-2-1-1-2-1-2M239 388l-1-7 0-8 2-7 1-7M412 431l-2-3-1-4-2-3-3-2M120 358l6-5 6-4 6-4 7-3M247 432l-2 0-2 1-2 0-2 0M505 351l2 1 2 1 2 1 2 1M459 432l-1 4-2 4-1 4-1 4M108 405l4-1 4-1 4-1 4 0M534 378l2-6 1-6 0-7-1-6M427 402l2-4 1-6 2-5 0-5M99 409l6-4 7-3 7-3 7-3M264 437l-5-2-5-1-4-1-5-1M319 373l4-2 4-2 4-1 4-1M323 408l-2-5-3-5-1-5-2-5M381 347l0-5 0-4 0-5 0-5M362 342l-3-7-4-6-6-6-5-5M253 427l-3 0-2 0-2 0-3 1M101 426l7-2 7-2 6-2 7 0M241 357l3-2 2-3 2-2 2-2M301 407l-6-3-6-2-5-3-6-3M296 386l-4-2-3-3-3-2-4-2M393 453l1-2 2-1 1-2 1-2M538 368l3-3 3-3 2-3 2-3M248 394l3 1 2 0 3 1 2-1M542 348l-3-4-2-4-1-5-2-4M484 384l1-2 0-3 1-2 1-2M206 384l4 0 4-1 3-2 4 0M381 390l-6-1-7-1-7 0-7 2M523 366l4-2 3-2 2-3 3-3M130 434l-3-6-2-7-3-7-1-7M253 346l2-2 2-2 2-3 2-2M207 362l6-2 6-3 6-1 6-2M170 391l-7 0-7 1-7 0-7-1M192 399l2 2 3 1 2 2 2 1M177 366l3-1 2-1 4-1 3 0M136 392l2-6 3-5 2-7 3-5M483 397l3 0 3 0 3-1 3 0M194 444l-3-5-4-5-4-5-4-4M212 417l1-7 1-8 2-7 2-7M501 402l0-6-1-5-3-5-2-5M504 352l-3 2-3 2-4 1-3 2M337 435l-2-3-2-3-3-3-3-2M268 406l-3 6-3 5-4 4-4 5M412 336l5-6 4-5 3-7 2-7M376 346l2 3 1 4 3 3 2 3M312 361l-4 3-3 3-3 3-3 4M510 344l-3-3-3-3-2-2-4-2M511 429l-1-3 0-2-1-3-1-3M275 432l-2-3-1-3-1-3-1-3M331 394l1-3 3-2 2-2 2-2M487 386l-1-4-2-3-2-3-3-3M559 401l6-4 7-3 7-2 8-1M561 340l-2-5-3-4-3-5-3-4M538 338l-4-6-2-6-4-6-4-6M254 339l-2 2-2 2-2 2-2 2M117 402l-5-6-6-4-6-3-7-3M514 344l7-2 7-3 6-2 7-4M233 388l-3-1-3 0-3-1-3 0M382 425l-4 4-5 2-4 4-4 4M488 414l5 3 4 5 3 5 5 4M353 341l0-4-1-4-2-4-3-3M468 344l2-6 4-6 4-5 5-5M405 410l1-4 2-4 1-4 0-4M463 375l4-2 3-3 4-2 4-2M354 457l-1-7-3-7-4-7-5-6M505 334l3-5 3-6 5-4 5-4M216 443l1-2 0-2 0-2 1-2M113 394l3-7 4-6 5-4 5-5M140 346l-1-2 0-2-1-2-1-2M228 367l-1-5 2-6 1-5 0-5M192 345l0-3-1-3-1-3-1-3M199 393l2-3 3-2 2-3 3-2M531 418l4-4 3-4 5-3 6-2M357 334l-1-3-1-4-2-3-2-3M404 353l-5 4-4 4-5 4-5 4M124 396l-4-1-4 0-3 1-4 0M525 406l-6 0-5-1-6 0-5 0M397 453l-1-2-1-2-1-2-1-2M501 364l-1-3-2-4-1-3-1-4M261 336l-5-2-6 0-6-1-5-1M386 359l1-3 0-4 0-4 0-4M423 415l-2 1-1 2-2 1-1 2M322 365l2-1 3-2 2-1 3-2M443 355l1-6 2-6 4-5 2-6M459 338l2-1 2-1 2-1 1-1M282 436l1-1 0-2 1-2 1-2M288 432l3 4 3 4 1 5 2 4M312 451l3-6 4-5 3-6 2-7M162 439l-4-4-3-4-2-4 0-5M149 422l-1-2-1-1-2-2-1-1M262 388l1-5 0-6-2-5-2-5M440 377l-1-5 0-4 0-5-1-5M407 337l5-3 5-3 6-3 4-4M359 369l0-4 1-3-1-3 1-3M339 415l2 0 3 0 3 0 2 0M456 363l4-4 5-3 5-2 5-1M535 421l-1-2-2-1-2-2-1-2M311 456l-6-4-6-5-5-5-5-4M391 336l-1-2-2-1-1-1-1-2M292 374l4 1 4 2 4 3 3 3M189 386l0-7-2-7-3-7-4-6M292 353l-1-6 0-6 1-6 0-6M523 424l5-3 4-4 4-5 3-5M561 418l-4 0-4 0-4-1-4 1M511 409l-2-1-1-2-2-1-3-1M416 445l1-1 2-2 1-1 0-2M189 355l1-1 2-2 2 0 1-2M152 404l2-4 1-4 1-4 0-5M137 391l-5 3-4 4-4 3-5 3M176 377l2-1 2 0 2 0 2 0M149 335l-5-3-5-3-5-3-5-4M403 440l-3-5-2-5-1-5 0-5M193 342l-2-1-2-2-2-1-2-2M283 413l-6-4-5-4-5-5-5-5M533 374l-2-2-2-2-3-2-2-2M96 387l-5-2-4-3-5-2-5-3M125 408l-2-1-2-2-1-1-3-2M401 390l2-1 3-1 2-1 2-2M240 365l-2-4 0-4 0-5 1-4M260 388l3-6 1-7 2-6 3-7M392 353l1-5 1-5 0-4-1-5M493 369l-2-4-2-3-2-3-2-3M321 408l1-6 1-6 0-6 0-6M205 401l-4-3-3-4-3-5-3-4M240 440l1-2 0-2 0-3 1-2M318 342l-3-2-3-2-3-1-3-2M150 377l2-4 3-4 3-3 3-2M528 420l-1-4-1-4-2-5-2-3M236 433l0-6-2-6-2-6-4-4M221 397l2-3 2-3 1-4 1-3M232 365l1-4 2-3 2-4 2-4M230 391l2-4 0-5 0-4 0-4M470 355l-1-6-1-7-1-6 2-6M157 341l6 0 5 1 6 1 5 1M357 347l-2-2-2-2-2-1-2-1M438 452l-4-2-5-1-4-1-4-2M120 349l-5 2-4 3-3 4-4 3M520 395l-5-5-5-5-6-3-5-4M283 356l7 2 8 1 7 3 7 3M93 393l1-4 0-4 0-4 0-4M540 396l-5-4-5-2-6-3-4-4M524 359l-2-2-2-1-2-1-2-2M188 380l5 1 3 1 4 2 4 3M130 343l1-4 0-5 0-4 0-4M428 344l-4-7-3-7-3-7-4-6M191 399l1-4 3-4 3-3 4-3M118 345l1-3 0-4 2-4 1-3M185 395l4-2 4-1 4-2 5-1M139 440l4 1 3 3 4 3 5 1M465 412l-4 2-5 2-5 2-5 1M510 333l-4 0-4-2-4-1-4-1M427 423l5 2 6 2 5 2 5 3M481 375l6 3 5 3 5 3 4 4M494 365l5 0 6-3 6-1 5-2M367 422l-2-1-2-1-2 0-2-1M297 420l-6-3-6-3-6-4-7-2M314 352l-3-1-3-1-3-2-3-1M495 383l6-3 6-3 6-2 6-1M375 413l3-5 3-5 1-6 0-6M426 434l2-3 1-2 1-3 2-2M437 358l6-3 5-5 4-4 4-6M530 423l5-2 6-3 5-2 5-3M414 423l-1-3-1-3-1-3 0-3M367 413l-4-4-2-4-2-5-1-6M327 447l2-1 2-1 2-1 2 0M455 368l4-5 5-5 3-5 4-6M409 358l4-3 4-3 4-4 3-4M274 343l4 1 3 1 3 2 3 3M508 336l2 0 2-1 3-2 2-1M483 334l4-6 5-6 2-7 4-7M525 429l3 2 3 2 3 3 2 3M424 348l2-2 1-3 1-3 2-3M108 333l2 0 2-1 2-1 2 0M188 385l5-1 5-2 5-1 5-3M399 411l3-5 2-5 4-4 2-6M528 395l3-2 3-2 2-3 3-2M528 392l1-4 0-4-1-5 0-4M174 419l-7-3-7-1-8 1-7 0M299 341l-6 1-5 1-5 3-6 3M133 409l-1-7-2-6-2-6 0-7M473 413l-5 3-4 4-5 2-5 3M533 406l4-3 4-3 5-2 4-1M378 363l-2-4-1-4-2-3-3-4M490 380l-4-3-4-3-3-5-3-4M361 383l7-3 6-4 7-2 7-3M555 344l-6 1-5 0-6 0-6 0M484 389l-3 5-5 4-5 3-4 4M474 345l3-5 4-5 3-6 4-5M180 436l0-2 0-3 0-3 0-3M507 342l-3-6-5-6-4-6-3-6M527 347l-2-2-1-1-2-2-2-1M233 444l4-6 5-6 4-6 2-8M282 335l7-2 7-3 5-4 5-5M478 398l1-3 1-4 1-3 0-4M168 347l5 0 5-2 4-2 3-4M143 351l-2 1-3 1-2 2-2 0M434 370l-4-5-4-4-4-5-3-5M312 414l-3 0-3-2-2 0-3-1M441 422l4 4 3 3 4 4 2 5M415 407l1-4 1-3 1-4 1-3M290 412l5 2 4 2 4 2 5 1M364 391l-2-4-3-3-3-3-3-3M363 390l-2-4-3-3-2-4-2-3M260 425l0-4 0-4 0-5 0-4M104 364l2-4 1-3-1-4-1-4M133 366l-4-6-3-6-3-6-1-6M232 368l-4-6-6-4-6-6-4-6M259 344l0-3-1-3-1-2-1-3M337 391l6-5 6-5 7-3 7-3M229 374l-4-2-3-2-3-3-4-2M240 368l8-2 7-3 7-2 7-1M441 385l2-1 2-1 2-1 2 0M277 349l-6-2-5-2-6-3-5-3M446 380l8 1 7 2 8 1 7 0M112 369l-5-4-5-4-4-5-4-6M352 458l-1-4-1-4 0-4-1-3M182 421l2-6 3-6 4-5 5-5M113 437l2 0 2-1 2-1 1-1M173 419l5-6 2-7 2-8 3-7M428 338l-6-4-7-5-6-4-7-4M453 384l1-6 3-6 2-6 2-6M97 409l-3 3-2 4-2 4-2 4M380 334l3-6 5-6 4-6 3-6M213 381l4-1 3-2 3-2 3-2M284 389l-3-6-3-5-3-6-3-5M345 422l2-2 1-3 1-3 1-3M164 341l3 0 3 1 3 1 3 0M392 400l5-5 4-5 3-6 2-7M183 427l1-5 1-6 1-5 1-5M385 419l-2-1-2-2-2 0-1-2M165 369l0-3-1-4-1-3-1-3M286 421l2-3 1-3 0-4 0-3M109 351l5-3 5-3 4-5 5-4M96 335l3-5 3-5 1-5 3-6M146 373l-6 0-7 1-6-1-6-2M329 361l-1-2-1-2-1-2 0-2M331 353l3-3 3-3 3-3 3-2M448 340l-5-4-3-4-4-5-2-5M217 358l0 5 0 6 0 5 1 5M430 380l-4 0-3-1-3-1-3-1M349 379l3-2 3-2 3-2 3-2M346 340l5-5 5-5 6-3 7-4M310 388l0-8 0-7-1-8-2-7M211 355l-4-1-4-3-4-3-4-3M321 459l2-3 2-3 2-3 1-3M109 366l5-6 4-6 5-5 6-4M409 365l0-3 0-2 1-2 0-3M197 362l-6-3-6-4-6-2-5-3M446 335l-3-1-2-2-3-2-2-1M273 383l5-2 4-2 5-1 4-1M468 428l-2-2-2-2-2-2-1-3M324 395l2 0 2 0 3 0 2 1M410 364l4-6 4-4 4-5 3-6M433 364l2-5 1-5 1-5 1-5M539 414l5-1 4 0 4 0 4 1M347 459l-2 2-3 2-3 2-3 1M327 365l-8 1-7 1-7 0-8-1M134 355l-3-7-2-8-1-7 0-8M218 435l2-6 3-5 3-6 3-6M258 423l-5-1-4 0-5 0-4-2M350 342l2-3 2-2 3-2 2-3M292 351l-1-5-1-6-2-5-3-5M285 361l3-6 3-7 3-6 5-5M208 349l-2-6-2-7-3-6-4-6M253 368l-1-2 0-3-1-2-1-2M155 394l-2-2-2-3-2-3-2-3M410 339l-2 5-1 4 0 5 1 4M266 334l-3-5-1-7-1-6 1-6M333 399l2 2 1 3 2 2 2 3M379 425l4-5 5-5 4-5 3-6M414 396l5-4 6-2 6-1 6-1M130 335l-2 4-3 3-3 5-1 4M324 425l0-5-1-5-1-4-2-5M150 431l2-2 1-3 2-2 1-3M499 393l2-1 3 0 3 0 2 0M233 341l-4 5-5 5-5 4-4 5M485 424l6 1 6 2 7 1 6 0M545 363l-1 7 0 6 0 7 2 6M508 362l1-2 1-2 0-2 2-1M143 385l5-3 5-2 6-1 7 0M305 375l1-1 2-1 2-1 2 0M104 413l3 0 3-2 3-1 3-2M161 399l4 1 4 0 3 1 4 1M264 337l5-2 5-2 5-2 4-2M249 399l-3-1-2 0-3-1-3 0M422 360l1-3 1-3 1-3 1-3M251 397l3 0 3 0 3-1 3-1M536 335l4-5 6-3 5-2 5-3M475 362l2-1 3-1 2-1 3-1M420 356l3-5 1-7 3-6 2-6M511 343l3-3 3-2 3-3 3-2M535 396l0-5 0-6-1-5-2-5M304 338l-3-4-5-3-4-4-5-3M517 355l-3-2-3-2-3-2-3-1M204 382l1-2 1-2 0-3 0-2M379 412l-1-2-1-2-1-2-1-2M165 366l-3-1-2 0-3-2-3 0M292 424l1-8 0-7-2-8-1-7M238 354l-1-4-2-4-3-4-2-4M140 334l-1-2 0-2-2-2-1-2M530 339l2 0 2-2 3 0 2-2M457 345l-1-7-2-7-4-5-5-5M136 411l-4-4-3-5-3-5-3-4M298 366l4-5 3-6 3-6 3-5M259 339l-3-2-2-2-2-2-1-2M345 424l3-6 1-6 3-6 2-5M180 364l-3-2-4-2-4-1-3-1M458 356l-4 6-4 6-1 7-2 7M130 410l3-1 2 0 3 0 2 1M180 416l-2-3-3-2-2-2-3-2M362 382l-4-7-3-7-2-7-1-7M191 436l4-3 3-3 4-2 4-3M220 384l-2-3-2-1-2-3-2-2M175 423l-7-4-6-4-7-4-7-3M232 437l1 8-1 7-2 7-1 8M119 439l-5-6-6-5-7-3-6-5M482 394l6-5 6-5 6-5 4-6M175 359l-6 2-6 2-7 0-6 2M286 366l3-4 3-5 3-5 2-5M113 349l-3-4-3-5-1-5 0-6M350 379l2-3 2-2 1-3 2-3M385 367l-6-3-5-2-5-4-6-3M387 336l1 7-1 8 1 7 1 7M314 349l0-3 1-3 1-3 2-3M457 423l2 2 3 2 3 2 2 1M487 418l5-5 5-4 5-4 3-6M422 340l-6-3-7-2-6-3-6-2M533 393l-1-2-2-2-1-2-2-2M189 401l-3-1-3 0-2-1-3 0M430 417l0-3 1-3 0-2 0-3M193 372l-1-1-2-1-1-1-2-2M383 350l0-3-1-3-1-3-1-3M250 424l3-7 2-7 4-6 5-6M313 353l7-2 8 0 7-2 8-3M188 397l1-7 0-7 0-7-1-7M149 334l3 1 3 0 3 1 3 0M261 387l3 5 3 5 4 4 3 5M533 339l2 3 1 2 1 3 1 3M453 411l1-5 2-5 3-5 3-5M487 374l-4-4-5-3-5-2-4-4M323 353l-1-2-1-2-1-2-1-2M371 353l1-8 0-7-1-8 0-7M349 369l0-2 0-2 1-2 1-2M404 341l2-2 2-2 2-2 2-1M141 422l0-6 2-5 2-5 1-5M206 340l4-5 3-5 2-6 2-6M394 405l-2 3-1 4 0 4 1 4M129 348l-3 0-2-2-2-1-2-2M384 380l-3-4-2-5-2-4-3-5M412 450l6-4 5-5 5-5 6-5M140 366l6-2 6-2 7-1 6-2M251 340l2-1 2-1 1-2 2-1M306 402l-1-2-1-2-1-1-1-2M114 426l-3-3-2-3-2-2-3-2M363 426l-2-7 0-7 1-7 1-7M298 380l5-2 6 0 5 0 5 0M139 334l1-3 1-2 2-2 1-3M209 381l-1-1-2-1-1-2-2-1M89 412l-2-7-4-7-4-6-5-5M342 380l-3-4-5-3-4-3-4-3M543 362l1-2 0-3 2-2 1-2M455 398l5-1 5-2 5-1 4-2M381 381l0-5-1-4 1-5-1-4M475 352l-1-7-2-8-4-7-1-8M385 371l5-5 3-7 4-6 6-5M548 352l-7-2-7-2-7-3-6-3M341 389l-5 4-5 4-5 4-6 4M551 376l0-6-1-6-1-6 0-6M407 396l-4-2-4-2-4-2-3-3M114 407l-6-2-6-2-5-3-7-1M450 384l-2-4-1-5-1-6-2-4M365 407l2-3 3-1 3-2 2-3M329 379l4-3 3-2 3-3 3-4M238 333l-4-4-5-4-6-3-5-3M555 404l4 4 4 5 5 4 4 5M458 334l-1-4-3-4-1-4-2-4M186 359l-5 0-6-2-6 0-6 0M301 340l2-2 1-1 1-2 2-1M267 376l0-5 0-5 0-6 1-5M526 400l-6-2-7-1-7-1-6 0M314 362l2-4 1-4 2-4 1-4M132 336l0 3-2 3-3 3-3 1M458 410l3-5 2-4 3-5 2-5M437 366l8-1 7 1 8 2 8 2M284 391l-2-5-3-4-3-3-3-4M263 383l-2-5-1-6-2-6-3-5M221 337l1-7 2-8 1-7-1-8M545 358l-3-1-3-1-3-2-3-1M535 353l1-2 2-3 2-2 3-3M348 341l6-4 7-3 7-1 7 0M188 440l2-2 3-1 3-1 3 0M110 406l0-3 0-2 1-2 0-3M545 355l-4-6-4-7-2-7-3-6M292 348l1-6 1-6 3-5 3-5M504 372l-3 2-3 1-4 0-4 1M367 431l-6-2-7 0-7-1-6-1M228 334l8 0 7-2 8-1 8 1M148 392l3 5 3 5 3 4 3 5M244 387l2-4 1-5 1-5 3-4M468 339l7-2 7-1 7-3 8-2M437 336l6 2 5 1 6 3 6 2M542 381l2 2 1 2 1 2 2 2M343 443l-5-4-5-2-5-3-5-3M144 386l-2-3-3-2-3-2-3-2M172 374l1-5 1-4-1-5 0-5M322 355l6-3 7-2 7 1 6 2M140 395l2-2 3-1 3-1 3-1M503 415l-1-3-1-3-1-4 0-3M290 345l3-7 5-4 4-6 3-6M550 401l2-1 1-1 2-1 2-1M471 423l2-8 0-7-3-7-2-7M512 339l2-2 3-2 3-1 4-1M335 350l2-2 2-3 1-3 1-3M339 377l-4-5-2-6-2-6-1-6M509 353l-2-5-4-4-3-5-4-5M218 433l2-4 3-3 3-3 4-2M422 335l7-2 7-2 8-1 7 1M432 450l7-1 6 1 6 0 7 0M493 349l3-2 3-2 3-2 3-2M430 362l-2-3-1-3-2-3-2-3M165 383l5-1 6 0 6-1 6-2M154 362l-6-2-5-1-6-2-5-2M124 409l-2 4-1 4-2 4-1 4" stroke="#7b989b" stroke-width="0.85"/><g stroke="#7b989b" stroke-width="2.6"><path id="t12" d="M167 405l2-3 2-2 2-3M444 450l4-7 3-8 6-5M417 410l2 2 1 2 2 2M458 353l6-1 7 0 6-2M321 396l5 2 6 0 5-1M253 393l-7-2-6-3-5-4M542 367l6-1 5-2 5-3M166 338l2-5 1-5-1-5M161 410l1 7-2 7-1 8M235 386l-1-2-1-2-1-2M492 385l-7-4-8-1-7 2M375 390l-4 2-4 2-4 1M432 461l4-3 3-5 3-4M119 421l3-3 2-3 1-4M448 382l4 4 3 3 4 1M291 418l0-3-2-3-3-2M405 440l1-3 2-3 3-2M539 358l-3-1-2-2-2-1M171 369l-2-1-2-1-2 1M488 423l2 2 1 2 2 2M249 356l-4-4-6-1-5-2M179 356l5-2 5-4 6-2M282 405l1-2 0-3-1-2M386 349l2-2 3-1 3 0M165 436l1-3 1-3 2-3M101 402l-4 2-4 4-2 4M176 422l-2-1-1-1-2-2M275 333l1-5-1-6 1-5M317 337l-2-4-2-5-1-5M498 403l1-6-2-7 1-7M126 360l-2 4 0 3 1 4M336 333l2-3 2-2 3-2M560 350l3-4 0-6 2-4M373 341l-5-6-6-2-7-2M511 405l-3 1-2 0-3 0M409 448l-7 0-6-2-7-1M432 336l0-4-1-5-2-4M244 431l0 6-2 6-1 7M463 417l7-2 8-2 8 2M390 342l0-4-1-5 0-5"/></g><use href="#t12" stroke="#fff" stroke-width="1.5"/><g stroke="#7b989b" stroke-width="2.6"><path id="t13" d="M308 448l4-2 4 0 4-3M168 364l-1 3-2 2-3 2M442 421l-1-3 0-4-1-4M523 372l3-2 3 0 3 1M519 388l-7-3-8 1-8-3M555 427l-6-5-6-5-7-4M391 458l-1-3-1-3 0-2M185 353l-4-6-1-7 0-7M371 360l4 6 3 6 6 4M170 334l5-5 6-3 7 0M277 396l-2 8-2 7 0 8M403 376l-2-3-1-3-2-3M214 345l2 0 3-1 2 0M177 392l1-4 2-4 0-5M174 341l5-2 6-3 3-5M399 434l6-4 2-6 5-6M214 379l0-5 0-4 0-5M289 369l0 3-1 3 1 3M179 418l-1-1-2-1-3 0M183 341l0-7 3-6-1-7M491 422l2-1 2-1 1-3M105 380l7 0 7-4 8-1M414 359l-8-3-6-4-6-5M417 429l3-4 2-4 4-4M204 402l6 1 6 0 6 0M155 433l-1-6-1-5-1-6M230 369l-2-2-3-2-1-3M162 440l1-3 1-3 1-3M425 381l6-4 7-1 7-1M411 347l-3-4-4-4-5-2M294 442l-5 0-6-2-5-3M196 356l-2 1-1 1-2 1M394 446l-2-4-3-4-2-5M349 351l4-5 5-2 4-4M299 367l-2-8-5-6-7-4M379 451l-1 5-1 6-3 4M523 429l-2 4-2 2-3 2M230 419l-3-4-4-3-5-1M128 341l-4-6-4-7-4-6M137 385l-2-1-2-1-3 1"/></g><use href="#t13" stroke="#fff" stroke-width="1.5"/><g stroke="#7b989b" stroke-width="2.6"><path id="t14" d="M426 411l5 0 4 0 4 3M527 340l-1-2-2-2-1-2M313 397l2-5 4-4 4-4M381 370l-7 0-6 0-5-4M352 362l-6-2-6-2-5-5M420 459l-4-4-4-4-3-5M544 356l-1-5-1-4 0-5M517 390l-3-3-5-2-5 1M352 453l-7-3-8-1-6-5M170 347l-2-1-2-2-3-2M461 363l1-2 1-3 1-2M213 367l0-2-1-3 0-3M547 385l1-4 0-3-1-3M535 350l1-6 2-6 0-6M447 346l0-2 2-3 1-2M216 434l1-5 3-4 4-2M129 409l4-5 3-6 3-6M129 377l6-2 7 0 6-1M516 360l6-2 5-3 4-5M242 404l-7-3-7-2-8 0M148 376l-1-2 0-3-1-3M435 441l-1-6 3-6 4-6M418 436l-2-5-3-6-4-5M132 372l-2-8-1-8-5-6M106 386l1-8-2-8-4-6M285 334l2-5 0-6 2-5M559 341l-1-2-2-2-2-2M100 405l0-4-1-4 1-5M370 379l-3-4-4-4-2-4M136 389l-3-4-3-3-3-4M125 404l2-1 1-1 2-2M200 422l2-3 1-4 2-4M525 381l3-2 3-1 3-1M127 419l-6-1-6-3-7-2M226 377l-1-7 1-7 0-6M417 406l-3-4-3-5-4-3M306 366l-1-4-3-2-3-2M402 402l5-6 5-6 6-3M523 394l-3 3-1 4-2 3M475 342l2-6 1-6 3-5"/></g><use href="#t14" stroke="#fff" stroke-width="1.5"/><g stroke="#7b989b" stroke-width="2.6"><path id="t15" d="M446 385l-5-6-4-7-5-5M157 341l-7-2-7-1-6-4M183 426l4-1 3-1 4-1M351 455l-1 6-1 6-2 6M104 338l-2-4 1-5-1-5M227 353l-4-5-4-2-4-4M113 415l2-6 0-6 0-6M184 343l6-6 2-8 5-6M557 431l-4-4-2-5-1-5M243 337l2-2 2-3 3-1M398 355l3-6 3-4 2-6M306 352l1-2 2-1 2-2M559 349l-6-2-6-3-7-1M262 421l-6-3-6-2-7-1M458 462l-1-7 0-6 2-6M317 369l-2-5-3-4-3-5M376 419l4-2 3-2 3-3M279 426l-2-5 0-6-1-5M512 337l3-2 4-1 5 0M183 340l2-2 2-3 3-2M551 351l-3-1-4-1-4 0M324 347l-2-4-3-3-3-4M487 422l5 5 5 5 5 5M557 333l-3-4-2-4-2-5M425 362l-2-1-1-1-2-2M485 427l3-3 1-4 1-4M379 425l-1-2-2-2-1-1M466 349l3-2 3-3 4-1M261 400l-1-5 0-4-1-5M119 419l3-1 3-2 3-2M357 333l2-2 3-2 2-2M559 359l-1-2 0-3 0-2M250 408l-5 0-6-1-5 0M375 335l1 3 1 3 0 3M246 341l-5-1-4 0-5 0M382 334l3-4 4-4 4-4M358 337l2 1 2 2 1 2M536 349l-3 0-3-2-3-2M257 349l-8 0-8 1-7 4M139 423l-5 5-6 3-7 2"/></g><use href="#t15" stroke="#fff" stroke-width="1.5"/><g stroke="#7b989b" stroke-width="2.6"><path id="t16" d="M494 397l0-2-1-2-1-2M446 442l-1-4-1-5 0-5M505 335l7-1 6-2 6-2M238 354l4-1 4-1 4-1M336 425l4-2 5-1 4 0M306 430l-2-4-1-4-2-4M183 338l4-2 4-1 3-2M466 381l-3 1-3 0-3 1M447 430l-1-8 1-8-3-7M395 401l4-2 4-2 3-4M489 380l-5-3-4-4-3-4M297 418l0-7-3-8-4-6M222 378l1-2 1-2 0-2M546 398l-1-2 0-2-1-2M554 404l-8-1-7-4-4-6M184 444l1-2 0-2-1-2M107 435l-6-2-4-5-2-5M325 339l3 3 3 3 4 2M297 340l3-2 4-1 3 1M120 334l2-8 3-7 2-7M490 369l-1-4 1-3-1-4M403 431l2 1 2 1 2 0M237 367l4 5 7 3 6 3M391 418l-2-4-3-4-4-4M91 438l2-5 0-6 0-5M149 399l2-3 0-2 2-2M144 391l1-6-1-6 0-6M289 400l1-3 1-4 1-4M206 409l0-4 1-3 0-4M246 351l-4 4-3 5-4 5M401 368l-6-5-7-1-7-4M270 408l-2 0-2 0-2-2M406 387l3 0 4-1 3-2M401 371l-2-1-3-2-1-2M92 377l-3-2-4 0-3 1M210 334l1-4-1-4 2-4M269 381l-3 3-2 4 0 4M98 371l3-2 2-4 1-4M128 443l-5-4-3-5-4-5M286 384l2-2 4-2 3 0"/></g><use href="#t16" stroke="#fff" stroke-width="1.5"/><g stroke="#7b989b" stroke-width="2.6"><path id="t17" d="M193 368l-2-2-4-1-3-1M561 337l0-6 1-7 3-6M307 391l3-3 3-4 3-2M422 364l-1-6 0-5-2-5M158 368l0-5-3-4-1-4M443 345l4-4 3-4 1-5M213 349l-4 3-5 3-6 1M393 357l-2-3-2-4-2-4M528 370l2-8 1-7 1-7M344 448l3 2 5 1 4-2M303 410l-1-3-3-3-2-2M548 383l-6 4-7 2-7-1M327 455l-3-4-3-4-5-2M486 338l2-3 2-2 4-1M354 418l-5-5-3-7-4-6M281 357l-5-4-3-6-5-5M349 362l6-5 7-4 6-5M263 335l-3-2-1-3-2-3M441 341l-3-4-2-4-3-4M447 333l2-1 2-2 3 0M116 342l6-4 5-5 4-6M500 420l-4-2-3-4-1-5M456 430l-3-3-2-4-3-2M457 361l-1 6-3 5-1 6M424 388l-4-4-5-4-3-5M541 376l-4 0-3-1-4-1M102 406l4 0 3 2 4 1M157 414l3-4 4-5 5-3M519 407l-6-4-6-1-6-3M194 369l1-5 2-4 3-5M127 348l4-3 3-4 2-5M301 386l-5 4-6 2-6 2M256 367l3-4 3-4 3-4M218 359l-4-6-6-3-7-2M316 382l6-3 6-3 6-1M268 337l5-1 4-2 4-2M147 382l1-4 0-5 1-4M421 384l3-1 2-2 1-2M133 406l5-3 6-3 6-3M217 368l-7-2-8 0-7 2"/></g><use href="#t17" stroke="#fff" stroke-width="1.5"/><g stroke="#7b989b" stroke-width="2.6"><path id="t18" d="M342 439l0-2-1-3 0-2M298 413l-1-2-3-2-1-3M169 430l1-4 0-3 3-3M125 335l4-2 4 0 4-1M267 423l2-4 3-4 2-4M552 354l3 2 2 2 3 2M213 394l-2 0-2 0-2 0M216 360l-5-3-4-5-5-4M289 335l-1-2 1-2 1-2M222 408l-2-1-2-1-2-1M344 338l-1-3-1-4 1-3M91 363l0-6 2-6 1-6M391 446l-2-5-3-6-1-6M366 337l1 3 1 3 0 3M267 344l7-2 5-4 6-3M254 346l7-1 7 1 7 3M382 364l-3-8 0-7 0-7M225 382l3-6 3-6 2-7M134 363l-1-5-2-4-2-5M274 364l-4-2-4-3-2-4M321 444l2-3 2-3 3-1M513 390l-2-6-5-6-2-6M433 417l3-3 1-4 0-4M183 430l0 3 2 3 2 3M232 393l-3-4-4-3-4-3M113 354l1-2 2-2 1-2M403 434l3-6 2-6 2-6M416 430l-2-7 0-7 1-7M364 452l-4-3-4-3-4-3M403 435l-6-5-7-2-8 1M554 357l7-2 6-1 7-1M464 372l3 0 2 0 2 0M169 413l-2-4-1-5 1-4M372 449l-2-2-2-2-2-2M484 369l-1-3-1-3-1-3M359 334l-4-1-4-2-3-3M117 374l3-2 2-2 3-3M562 426l1 2 1 2 2 1M182 367l1-3 2-2 2-3M271 340l5-6 4-6 6-4"/></g><use href="#t18" stroke="#fff" stroke-width="1.5"/><g stroke="#7b989b" stroke-width="2.6"><path id="t19" d="M221 403l-2-2-1-3-3-2M186 424l3-2 4 0 3-1M491 428l-3-4-3-5-4-4M310 392l-3-1-2 0-3-2M190 384l3-6 3-6 4-6M553 427l-3-1-3-2-1-3M418 362l-4 1-3 2-2 3M127 398l3-1 3-1 4-2M171 347l-3 0-4 0-3 0M478 391l-6-4-5-5-6-5M250 412l3 3 3 2 4 2M469 344l-3-4-3-3-4-3M126 367l-1-7 2-8 1-7M198 344l-3 0-4-1-3-1M538 415l-3-7-5-6-2-8M422 336l2-7 6-5 4-6M101 396l1-8 3-7 7-5M105 358l0-3 1-4 1-3M203 416l2 0 2 0 2 0M223 411l4-2 4-2 4-2M275 337l6-5 4-5 3-7M522 363l4-5 6-4 6-4M355 433l-7-3-3-6-4-6M317 408l5 2 5 0 6 1M406 378l4-1 4 0 4 0M274 375l-1-2-1-3-1-2M205 421l4-3 5-2 3-4M480 429l-7-2-7-3-8-1M393 380l5 0 3-2 4-3M510 333l0-4-1-3 1-4M265 408l-2 5-2 6-1 5M290 347l-4-4-2-6-4-4M526 407l4-6 7-4 6-3M259 393l3-3 4-3 2-3M443 375l5-3 2-4 2-5M118 398l3-5 1-6 3-5M420 412l3-4 1-4 1-5M458 393l3 3 3 3 2 4M180 396l-4-4-3-4-5-4M121 353l2-1 2-1 3 0"/></g><use href="#t19" stroke="#fff" stroke-width="1.5"/><g stroke="#7b989b" stroke-width="2.6"><path id="t20" d="M165 410l0-5-2-5-3-4M493 335l4-5 2-5 3-5M165 351l0-4 2-3 1-4M153 359l1-4 0-5 0-4M182 418l-3-2-3-1-3 0M385 356l5 2 6-1 5-1M392 344l2-2 2-3 0-3M232 387l-2-1-3 0-2-1M335 427l0-6 0-6 3-5M291 345l-4 5-2 6 1 7M278 393l-5 1-5-2-5-2M463 375l-8 1-7-2-8 0M267 413l3-3 3-4 4-2M180 394l3-4 4-2 4-1M449 462l4-3 2-3 3-3M435 421l-5-4-4-5-2-6M398 401l0-4-2-4-2-3M238 359l-1 4-2 4 0 4M170 333l-1-2-1-3 0-3M461 430l3-6 0-7 0-7M331 433l-1-7 2-6 3-6M171 407l7 2 6 1 7-1M413 456l-1-3-3-2-2-3M456 368l-3-3-2-3-4-3M443 395l-8 1-7 3-8-1M260 357l4-4 5-3 4-5M337 363l-5-1-5-2-5-2M313 351l-1-2-1-2 0-3M538 420l-5 0-5-2-6 1M263 339l2-3 2-4 2-3M552 351l-1-3-3-2-1-3M104 412l4-7 2-8 4-6M205 400l-5-1-4-2-3-2M138 436l5-2 3-2 5-1M294 376l-1-3 0-3 1-2M446 366l1-8 3-7 5-7M545 349l5-4 4-5 3-6M218 400l-4-4-2-6-1-6M362 381l1-8 2-8 1-7M242 385l0-6 1-6-3-6"/></g><use href="#t20" stroke="#fff" stroke-width="1.5"/><g stroke="#7b989b" stroke-width="2.6"><path id="t21" d="M480 358l-2-2-3-1-3-1M258 402l-2-7-3-5-3-6M526 377l-2-1-2-1-1-2M360 379l-2-4-1-4-1-4M97 383l2 2 1 3 0 3M352 461l4-1 5 0 4 0M172 389l4-3 4-3 5-3M155 443l5-2 5-3 2-5M249 376l-3-3-4-2-3-2M251 405l-3-3-2-3-1-5M413 339l1-4 1-4 1-5M528 386l3-6-1-8 1-7M343 348l1-7-3-7-2-7M351 387l2-3 1-2 2-2M410 344l7-1 6 0 6 0M182 424l3-4 2-5 2-5M411 363l4 0 4 1 3 2M163 417l-4-5-2-6 0-6M449 434l2-6 1-6 3-5M364 462l2-2 1-2 2-1M135 391l2-4 0-6-1-5M481 377l3-2 3-2 4 0M455 336l-3-6-5-4-6-3M520 374l1-3 0-3-1-3M318 448l-1-6-3-6-3-6M220 397l0-3 1-3-1-4M110 363l2 0 2 0 2-2M112 433l-3-6-3-5-2-6M470 360l1-5-1-5 0-4M342 362l6-2 7-1 6-4M105 361l6-1 5 2 5 1M382 414l6 2 7 0 6-1M125 423l5 1 4 4 5 1M523 428l2-5 0-5 3-3M344 455l-1-8-2-7 2-8M204 339l5 0 5 1 4 2M445 422l8 2 7 0 8-1M243 374l2 2 2 2 3 2M310 344l-2-2-1-3-1-2M441 438l-3-2-3-1-3-1"/></g><use href="#t21" stroke="#fff" stroke-width="1.5"/><g stroke="#7b989b" stroke-width="2.6"><path id="t22" d="M532 355l-4-6-4-6-3-6M181 391l6 1 5 4 4 3M535 348l5-4 4-5 6-3M277 378l-4-3-4-4-4-4M522 424l4-6 2-6 3-6M299 358l-1-2-2-3-1-2M435 345l-1-8 1-7 3-7M328 458l3-6 4-6 1-7M543 373l2-6 2-7 2-6M330 416l-4-7-2-7 0-8M458 453l1 5 2 5 2 5M553 432l-2 1-2 1-3 1M112 374l2-5 1-6 3-4M293 357l0-4 0-4 1-4M362 344l-1-2 0-2-1-1M178 408l2-8 2-8 6-5M371 414l6-4 6-3 5-5M300 405l1 5-1 4 0 5M355 348l0-3-1-4-1-3M353 418l-2 7-2 7-1 7M297 419l-1-1-2-1-1-2M353 344l4-5 5-4 4-5M322 384l1-3 2-3 2-1M257 444l3-1 3 0 3 0M408 333l-2-2-3-2-3-2M209 412l4-2 4-3 5-2M174 374l3-1 3 0 3 1M418 420l6-3 7-1 6-4M319 364l1-4-1-3 1-3M184 437l7-2 6-5 8-2M174 348l-2 0-3 0-2 0M402 400l-5 3-5 4-4 4M123 379l7 1 5 3 7 2M477 335l1-2 2-2 2-2M304 447l-1-3-2-3-2-3M218 414l3 0 3-1 3-1M507 381l-3-4-3-3-2-4M347 359l2-3 2-3 2-3M535 401l-5-3-6-1-5-4M432 456l-2-2 0-2-2-2"/></g><use href="#t22" stroke="#fff" stroke-width="1.5"/><g stroke="#7b989b" stroke-width="2.6"><path id="t23" d="M507 394l3-2 2-3 2-2M181 424l0 4-1 4-1 4M128 374l-3-4-1-5-1-5M293 353l-3-4-3-4-4-3M535 374l5-4 3-5 2-5M101 341l-5-2-6-3-5-3M250 412l3-4 1-4 3-4M540 393l3-4 3-3 3-4M345 345l-1-6-2-6-2-6M249 401l-3-3-2-4 0-4M159 384l-1-2 0-2 0-2M144 426l2-6 2-5-1-6M452 444l3-6 0-7 1-7M343 360l3-7-1-8-2-7M104 441l3 0 2 0 3-1M471 422l-1 3-2 2 0 2M195 346l0-2 0-3-1-2M161 361l7 3 6 0 7-1M367 337l-3-4-3-2-3-4M298 367l0-5 0-5 0-5M218 429l-4-6-4-5-5-4M391 343l-2-6-4-5-2-5M221 422l-1-3-1-2-2-2M508 364l3 0 3 1 3 0M263 334l-3-4-5-1-5 0M494 416l3-5 1-6 2-6M113 390l-1-6 2-6 2-6M121 378l-3-6-3-6-1-7M180 347l-4-2-4-1-4-1M213 440l6-2 6-4 5-4M201 409l-7 0-8-2-7-2M242 396l5-2 5-3 4-4M490 409l-2-5 0-5 2-5M147 443l3-6 2-7-2-6M474 365l-2-1-2-1-1-2M236 362l4-4 3-2 3-3M196 352l0-3 1-2 1-3M495 403l-4 0-4 1-4 1M466 395l-1-2-2-2-2-1M367 403l-1-8-2-7-4-7"/></g><use href="#t23" stroke="#fff" stroke-width="1.5"/><g stroke="#7b989b" stroke-width="2.6"><path id="t24" d="M508 337l2-1 1-2 1-2M102 348l4-6 6-4 7-2M479 424l2-3 2-3 2-2M445 423l7 2 7 2 7 1M356 423l-2-7-4-7-6-6M462 380l1-2 0-3 2-2M403 402l-1-3-1-2 0-2M163 444l4-6 2-7 1-8M186 376l2-4 3-3 2-4M283 354l-3 1-2 3-1 4M243 370l0-4-1-4-3-3M389 349l-6 0-5-1-6-2M380 365l-2-6 1-7 0-7M219 342l-3-6-4-4-2-6M508 345l-2-6-4-6-2-7M419 389l2-1 2 0 2 0M450 427l-2-6-2-6-4-5M492 338l-2-1-2-1-2-2M253 346l-3-3-5-2-4-3M385 426l2-6 1-5 5-5M292 370l1-2 0-2 1-2M423 364l-1-5-1-4 1-5M116 407l-1-2-1-2-2-3M119 436l-5-1-6 0-6-1M206 410l-7-2-8-2-7-2M402 410l4 4 4 2 5 0M215 345l-1-4-2-4 0-4M431 399l-8 0-8-1-8 1M294 387l5-2 4-2 5-2M208 396l5-4 7-3 5-5M397 402l7-3 5-4 7-2M378 437l0-8-1-8 2-8M361 426l0-3 0-3-2-3M530 338l4-6 5-5 7-4M289 336l0-4-1-3-1-3M288 403l-1-5-1-5 1-5M191 379l4-4 6-4 4-4M346 428l1-6 3-6 4-6M167 432l-2-2-1-2-2-2M196 441l-1-4-2-3-2-3"/></g><use href="#t24" stroke="#fff" stroke-width="1.5"/><g stroke="#7b989b" stroke-width="2.6"><path id="t25" d="M557 401l-5-2-5-1-5-1M234 445l1-2 1-2 2-2M171 350l5-4 7-1 6-2M464 386l-3-1-2-2-3-2M422 394l3-2 4-1 3-2M503 420l-1-2-1-2-1-2M342 390l4-4 5-3 5-5M389 336l-1 6 2 7 4 5M352 391l0-6-1-6-2-5M453 422l0-7 1-6 0-7M327 350l5-3 7-1 6 3M340 457l-3-2-2-2-2-3M125 375l-5-1-4 0-4 2M562 335l-2 2-1 3 1 3M92 443l-6-5-6-4-7-5M401 397l-5-2-5 1-4-1M214 372l2-5 5-4 5-4M92 353l0-7 3-7 5-5M263 404l1-5 2-4 3-3M239 426l8-1 8 3 5 6M310 401l1-6 1-6 3-5M253 403l4-6 2-8 3-7M530 339l-7 0-7 0-6-2M350 351l2-6 2-5 5-3M462 350l4-6 6-3 5-5M509 400l0-5 0-5-1-5M170 386l-5-2-5-3-4-4M124 429l5-3 4-4 2-6M411 416l1-4-1-4-3-3M314 360l-5-5-6-3-6-3M421 355l3 3 2 4 0 4M236 373l-2 0-2-1-2-1M177 343l5-2 6-1 5 0M477 405l-1-2-2-2-2-3M430 351l-3 1-2 1-2 1M507 395l7-5 5-6 6-5M360 430l-1-3-2-2-1-3M193 387l1-7 2-8 0-7M435 421l3-6 1-5 2-5M100 386l-3-3-3-4-3-5"/></g><use href="#t25" stroke="#fff" stroke-width="1.5"/><g stroke="#7b989b" stroke-width="2.6"><path id="t26" d="M512 338l0-2 0-3 0-2M345 425l0-4-1-4 0-3M452 415l-1-7 0-6-4-6M173 358l-4-6-6-4-6-3M325 371l-2 3-2 2-2 2M222 440l-2 0-3-1-2 0M278 440l2 0 3 0 2-1M483 343l-2-3 1-4 0-3M110 355l5 2 3 4 2 5M484 376l-1-7 1-6-2-7M260 344l2 0 2-1 3 0M199 405l1-3 2-2 3-1M233 413l-2-1-1-1-2-2M378 424l-1 4-4 3-2 4M231 349l2-4 2-4 3-3M556 388l-3-4-4-4-2-4M183 389l2-2 2-2 2-2M382 444l2-2 3 0 3 0M472 341l8-3 7 0 8 1M155 334l-7 0-7 1-6 3M242 424l-4-3-5-4-6-1M323 393l1-3 1-3 1-2M316 400l-6-2-6-2-5-1M512 360l3-1 2 1 3-1M309 368l0-2 1-2-1-3M497 355l4-2 3-3 3-3M278 426l4-3 4-1 4-1M260 374l4 0 4 1 4 2M190 406l2 5 1 4 0 4M259 374l2-2 2-1 1-2M383 423l1-4 1-5 1-4M194 359l-5 5-5 3-5 5M529 338l-6 1-5 3-5 3M555 406l3-1 3-1 3-1M255 352l-4-1-5 1-3 3M405 382l1 7 2 6 4 6M481 363l5-2 5-3 5-4M387 448l0-5 0-4 0-4M411 461l3 0 3 0 3-1M123 384l1-3 2-3 1-4"/></g><use href="#t26" stroke="#fff" stroke-width="1.5"/><g stroke="#7b989b" stroke-width="2.6"><path id="t27" d="M283 360l3-7 2-8-1-8M358 450l1-3 1-2 0-3M467 381l-1-3 1-3 1-3M271 400l-6-3-5-4-5-2M193 361l-4-3-5-3-4-3M283 361l3-1 3-2 3-1M260 349l-2-4 0-3-1-4M363 447l-5-3-6-1-5-1M179 440l0-6 1-6 0-6M471 351l1-4 0-5 0-4M214 431l-1-2-2-2-2-1M332 420l2-7 1-8 1-7M202 445l8 1 7 1 7 3M255 433l3-5 2-6 1-7M395 342l1 5 2 6 0 6M409 337l3-2 3-3 3-2M369 455l2-4 3-4 4-3M237 437l1-4 0-5-3-4M153 407l3-3 3-4 3-3M263 423l-3 2-3 1-2 2M556 335l3 1 3 1 2 1M203 377l2-2 1-1 1-2M213 434l3-7 3-8 3-7M421 382l3-2 3-1 3 0M277 440l1-1 2-2 1-2M416 351l6-5 8-1 7 1M97 415l0-5 0-4 1-4M98 431l0-3 0-3 1-3M456 397l-4 0-4-3-4-3M235 372l3-4 5-2 5-3M335 456l-2 3-3 3-1 4M402 359l-4 1-4 2-4 1M530 334l6-1 5-2 5-4M313 455l3 0 4 0 3 0M362 371l-7 2-4 4-5 4M235 399l-2-3-2-3-3-2M317 345l3-1 2 1 3 0M484 410l-4-5-3-6-3-6M351 432l4-3 5 0 4-2M449 348l1-6 3-5 0-6"/></g><use href="#t27" stroke="#fff" stroke-width="1.5"/><g stroke="#7b989b" stroke-width="2.6"><path id="t28" d="M414 419l3-3 1-4 0-5M328 369l-4 2-5 1-4 3M423 340l-2-1-1-3-1-2M411 402l-1-2-1-1-2-1M137 415l-5-6-6-3-7-3M286 364l0-3 0-3 1-3M94 436l4-7 4-7 6-5M347 421l-3-2-2-2-3-3M322 360l3 6 1 7 3 6M136 394l0-2 1-2-1-3M148 418l-2 4-1 4-1 4M552 336l-2-4-2-4-3-3M330 338l-2-5 0-5 2-5M362 427l7-3 8-1 7-3M258 445l6-1 6 2 6 0M556 341l1-3 1-2 2-2M338 358l-4-5-4-6-3-7M106 341l-4-6 0-7 2-8M328 366l2-6 4-5 4-4M297 396l-6 3-4 3-6 2M400 439l2 1 2 3 1 2M427 422l-2-7-4-7-5-6M104 436l-7-2-7-1-7 0M411 390l4 2 5 3 3 4M454 361l3-2 3-1 3-1M346 404l-2-2-2-1-1-2M116 375l3-4 4-2 3-3M442 389l5 0 5 1 5 0M465 429l-3-3-1-4-1-4M530 340l-1-4-3-3-3-2M547 408l6-5 4-7 2-8M504 427l-3-6 0-7 0-7M462 428l-6-5-7-3-6-5M168 393l-2-3-4-3-3-3M433 349l-2-5-4-4-5-3M350 354l-2-4-2-3-2-5M269 343l-3 8-1 7-1 8M97 383l5-5 3-8 3-7M126 409l-5-1-6 1-5-1M394 416l-6-3-7 0-7 0"/></g><use href="#t28" stroke="#fff" stroke-width="1.5"/><g stroke="#7b989b" stroke-width="2.6"><path id="t29" d="M141 380l0-5 0-5 1-4M203 393l1-5-2-5-2-4M218 371l3 0 2 1 2 1M122 377l-7-1-7 2-7 1M359 433l-3 0-3-1-3-1M356 339l1-3 0-4-2-4M396 429l-4-7-2-7-2-8M539 415l-4 0-3-2-3-2M344 353l0-2-2-2-1-1M402 448l5-5 2-7 4-6M413 434l4-4 4-5 5-4M470 344l-4-5-5-4-3-6M561 402l-4 3-5 3-4 4M437 364l0-3-1-2-1-2M271 336l-1-3-1-2-2-3M529 419l2-2 1-2 1-2M130 343l2-5 4-5 4-4M236 349l-2 0-2-2-2-2M408 338l-3-7-3-7-5-6M108 436l-1-6-1-6-1-6M219 337l4-1 3-1 4-1M276 438l3-6 4-4 2-6M378 341l-2-1-2-1-2-2M470 366l-2 1-2 1-1 1M442 333l1-3-1-3-1-2M317 403l0-6 0-6-2-6M322 362l2-4 4-2 2-3M299 393l6 4 8 1 6 4M451 391l-4-3-4-3-2-5M157 430l5-6 6-5 7-5M125 360l-6-3-4-5-6-3M270 399l8-2 7 0 8 2M128 423l-4 6-5 4-5 5M133 421l-4 5-3 6 1 7M391 427l5-3 5-4 5-1M211 414l-4-2-3-3-5-2M138 376l-6-1-7-3-6 0M502 420l-2-2-1-2-2-2M476 371l-4-4-4-4-4-2M266 431l-5 0-5-2-5-2"/></g><use href="#t29" stroke="#fff" stroke-width="1.5"/><g stroke="#7b989b" stroke-width="2.6"><path id="t30" d="M288 430l-1-2-2-2-1-2M465 364l2-4 3-4 4-2M502 413l-3-3-3-1-2-3M451 344l1-4 3-3 5-2M229 358l-1-3-2-3-3-2M287 336l-2-6-2-6 0-7M552 399l-4 1-5 1-4 0M147 424l3-1 1-2 2-2M553 411l2 1 2 1 3 1M423 420l-2 2-2 1-3 2M258 355l3-6 4-5 2-6M169 371l-7-2-7 2-6 4M534 431l5-2 3-4 5-1M96 413l4-3 4-2 4 1M557 355l-3-5-2-5-4-4M117 341l3-4 3-4 4-3M176 359l-4-3-4-1-5-1M452 445l1-3 0-3 0-3M262 340l-1-3 0-2-1-3M203 410l3-1 2 0 2-1M540 365l-3 2-3 4-2 3M293 400l-2-5-2-5-2-4M341 358l1-2 1-2 1-2M504 352l-2 3 0 4 2 4M413 390l2 3 1 3 0 3M429 390l2-2 2-3 2-3M520 351l1-3 1-3 2-3M215 334l-2-3-4-2-2-4M342 350l-1-3-2-2-1-2M390 420l-2-2-1-4-2-2M462 431l1-7-2-7-2-6M139 362l-3-4-3-3-4-3M125 409l0-3 2-3 2-2M188 373l4-7 2-7 2-7M526 404l3-7-1-7 0-8M323 372l-8-1-7-4-8-2M509 346l2-2 3-2 2-2M277 433l-1-4 0-4 1-4M454 451l1-1 1-2 0-2M366 426l-2 0-2 0-2-1"/></g><use href="#t30" stroke="#fff" stroke-width="1.5"/><g stroke="#7b989b" stroke-width="2.6"><path id="t31" d="M248 420l0-5 2-5 2-6M555 340l2-1 2 0 2-1M469 395l2 1 2 0 2 1M423 360l3-5 1-6 1-6M374 357l-1 5-3 5-3 4M336 440l3-6 5-4 6-2M351 388l0-6 0-5-2-6M107 335l2-3 1-4 2-3M187 347l-4-3-2-4-3-4M203 431l6 0 6 2 4 4M229 335l1-8 1-8 0-8M395 395l1-4 2-4 0-4M319 394l-2-3 0-3-2-3M465 347l3-1 3 0 4 1M334 352l-4-3-4-5-4-4M553 353l4-5 4-5 3-5M259 437l6-3 6-2 5-5M431 344l-2-4-1-5-1-4M479 356l-3-2-3-2-3-3M227 443l-5 0-5-3-5-1M272 349l-2-1-1-2-2-1M302 461l-2-2-2-2-1-4M488 364l-2-2-3 0-4 0M264 430l1-5 0-5 1-5M170 419l4-4 4-4 2-4M504 410l2-6 3-6 2-6M309 412l0-7 1-6 4-6M175 382l4-1 4-3 2-4M488 402l-3 0-3 0-3 0M522 427l6-2 6-3 4-6M511 341l-2-5 0-6 1-5M183 397l-4 0-3 2-3 1M488 370l4-3 6-1 5 1M103 402l2-1 2-1 2-1M272 387l-2-3-1-4 0-4M210 337l0-7 4-5 5-4M338 384l-4-1-4-2-2-3M529 397l5-4 6-3 3-6M295 346l2-6 2-5 2-5M195 443l-6-1-4-3-4-3"/></g><use href="#t31" stroke="#fff" stroke-width="1.5"/><g stroke="#7b989b" stroke-width="2.6"><path id="t32" d="M212 432l8-1 7 1 7 2M415 414l-5 0-5-3-4-3M348 452l2-7-1-8-1-8M412 406l-1-1-2-1-2-1M299 420l-2-6-1-6-2-6M518 337l-1-3 0-2 1-3M211 383l5 0 4-1 5-1M477 387l0-6 3-7 0-7M193 402l3-3 5-1 4 0M551 335l5 6 4 6 4 7M264 390l1-5 0-5 1-4M543 342l2-3 2-3 1-5M396 396l-1-3 0-3 0-4M500 336l1-2 1-2 2-1M244 424l1-7 5-7 4-6M342 355l-5-3-6 0-5 2M264 387l3 1 3 1 3 1M418 455l-5 0-5 1-6-1M150 405l3 5 5 3 5 2M360 360l3-5 4-6 4-6M509 368l4-5 2-7 2-7M264 340l1-5 1-4 1-5M343 439l-2 4-3 4 0 5M124 438l7 0 7-2 6-2M473 343l0-7 2-7 5-5M255 371l-3 2-3 2-4 1M147 371l-3-6-4-4-3-5M542 414l1-6 0-6-3-5M432 342l-2 4-1 3 0 3M531 349l6 0 5 0 5 1M400 345l2-6 0-7 3-6M194 373l4 0 5 0 4 1M448 398l6-4 6-4 4-6M99 432l-1 2 0 2 0 3M187 400l-3-3-3-3-4-2M260 349l1-5 3-5 2-6M247 371l-5-6-4-5-2-8M513 367l2-2 2-3 0-4M144 340l4-6 6-5 6-3M361 422l-1-3-2-1-1-2"/></g><use href="#t32" stroke="#fff" stroke-width="1.5"/><g stroke="#7b989b" stroke-width="2.6"><path id="t33" d="M461 351l-5-2-4-2-5-1M337 337l-2-6-1-6-2-6M422 368l2-7 1-8-2-6M96 361l0-5 1-6 2-5M258 356l-6-5-8-2-7 1M523 404l1-3 1-2 2-1M419 358l-2-2-3-1-2 1M489 389l-4-1-3-1-3-2M94 338l5-5 4-7 3-7M287 358l-3-6-2-6-3-6M333 433l-7-1-7-1-7 0M395 398l-2-2-2-2-2-1M98 430l0-4 0-3 0-3M322 409l7-1 6 2 6 3M367 343l1 6 3 5 2 5M376 358l-6 2-5 2-5 4M301 384l1-7 2-8 3-7M319 345l7 0 6 2 6 3M129 440l-1 8-2 7-3 6M547 401l-3-2-2-3-1-4M370 357l6 0 7 2 6 1M333 335l1-3 0-3 1-3M292 417l3-4 3-3 4-3M121 367l3-6 4-5 6-3M357 349l-3-4-1-5 0-5M228 335l7 3 6 2 5 5M122 442l1-4 1-4 0-5M216 349l1-4 1-4 2-4M167 364l3-1 3-1 3-2M451 383l1-3 1-3 0-3M510 349l4 0 3 1 4 2M320 458l3 0 2 1 3 2M376 373l-3 0-3 0-2-2M561 366l5-2 6 1 6-1M481 394l3-6 0-7 3-6M248 428l-5 4-4 4-4 5M102 436l-2-3-1-3-2-3M425 416l1-6 3-4 5-3M324 341l3-2 3-1 3-1M559 339l-5-2-3-3-5-3"/></g><use href="#t33" stroke="#fff" stroke-width="1.5"/><g stroke="#7b989b" stroke-width="2.6"><path id="t34" d="M491 343l2 5 2 4-1 5M315 429l6-1 6-1 5-1M456 377l-2-4-1-5-3-4M251 352l4-3 3-4 3-4M230 355l3-2 2-2 3-2M509 398l7-2 5-4 6-3M191 346l-3 2-2 4-3 2M91 394l5-3 4-3 3-5M399 370l0-2-1-3 0-2M471 375l7-1 7 1 6-2M306 450l0-4 0-3-2-4M359 445l3 0 3 0 3 0M135 412l-1-1-2-2-2-1M522 378l3-3 2-3 4-2M438 349l3-1 2-1 2-1M343 427l6-2 6 0 5-2M282 341l-4-6-5-6-6-4M159 418l6-4 5-6 5-5M100 335l-6 2-5 2-5 2M164 402l-3-3-5-1-4 0M246 364l-1-2-3-1-2-1M524 391l4-1 3-1 4 0M96 401l0-5-2-5-1-5M508 347l-3-1-3 0-4 1M357 364l4-4 4-4 3-5M413 407l2-1 2-1 2-2M265 438l1-5-2-5-2-4M537 333l1-4-2-5-4-3M332 374l0-5-1-4-1-4M221 432l-5-5-2-6 0-7M367 405l-4-5-1-7-4-6M426 413l1-3 1-3 2-2M459 432l-1-4 0-3 1-3M166 358l4 0 4 1 4-1M150 431l2-1 2-1 2-1"/></g><use href="#t34" stroke="#fff" stroke-width="1.5"/></g><g fill="none" stroke-linecap="round" stroke-linejoin="round"><g stroke="#6f8c8b" stroke-width="4.0"><path id="t35" d="M102 480l0-41M102 439l-5-9-5-10-7-9-4-10-7-9M102 439l1-11 2-10 2-11 3-11 3-10M102 439l4-10 3-11 3-10 4-10 5-10M203 507l0-38M203 469l-6-13-7-12-4-13-4-14-3-13M203 469l2-14 0-14 1-14 0-14 2-14M203 469l6-13 6-13 7-12 6-12 6-13M270 540l-1-55M269 485l-6-13-6-13-5-13-3-13-5-13M269 485l-2-14 0-14-1-14-2-14-2-14M269 485l6-13 6-13 7-12 6-13 7-12M517 518l0-59M517 459l-7-11-7-11-6-12-6-11-8-10M517 459l0-13 0-13 3-13 3-13 3-12M517 459l5-13 4-12 4-12 4-13 4-12"/></g><use href="#t35" stroke="#fff" stroke-width="2.4"/><g stroke="#6f8c8b" stroke-width="3.4"><path id="t36" d="M122 470l1-38M123 432l-6-9-6-8-7-7-7-8-6-7M123 432l1-10 1-10 2-10 0-10 1-10M123 432l5-9 7-7 7-8 6-8 8-7M323 512l1-45M324 467l-4-14-5-13-5-13-4-13-3-14M324 467l-2-14 1-14 0-14 0-14-1-14M324 467l5-13 5-13 5-13 5-13 5-13M360 500l1-45M361 455l-2-13-3-12-2-13-2-12-2-12M361 455l1-13 1-13 0-12 2-13 2-12M418 512l1-38M419 474l-3-13-1-14-1-14-2-14-3-14M419 474l-1-14-1-13 0-14 0-14 1-14M419 474l4-13 5-13 3-14 3-13 4-14M431 504l1-52M432 452l-4-12-5-11-5-11-6-11-6-11M432 452l2-12 3-12 1-13 1-12 3-12M470 480l1-38M471 442l-5-10-6-9-5-10-5-10-5-11M471 442l1-11 1-11-1-11 0-12-1-11M471 442l5-10 5-10 4-10 4-11 4-10"/></g><use href="#t36" stroke="#fff" stroke-width="1.7999999999999998"/><g stroke="#6f8c8b" stroke-width="2.4"><path id="t37" d="M92 420l3-9 2-9 2-9M85 411l-8-3-9-1-8-4M81 401l-8-4-7-2-8-2M105 418l-3-8-4-8-4-8M107 407l-7-8-8-6-8-6M109 418l9-6 9-7 9-7M112 408l7-7 8-7 8-5M116 398l9-5 8-7 8-6M111 415l1-7 2-7 2-6M104 408l-7-5-6-5-7-6M97 400l3-7 1-7 3-7M125 412l3-6 5-6 5-5M127 392l4-7 4-7 4-7M135 416l9-3 8-5 9-3M142 408l8-5 9-5 9-5M190 444l-11-6-11-6-12-4M182 417l5-9 4-8 3-9M205 441l-7-8-6-8-7-9M215 443l13-6 13-8 13-6M222 431l10-7 9-8 9-8M228 419l11-6 10-4 12-4M257 459l3-16-1-17-3-17M252 446l0-11-2-10-2-11M249 433l-3-15-2-14 0-14M267 457l7-10 10-8 11-7M266 443l-4-10-3-9-2-10M264 429l-11-9-12-6-12-6M281 459l10-2 10-2 9-3M288 447l16-4 14-7 14-8M294 434l-3-10 0-11-3-11M315 440l-7-8-8-7-8-7M310 427l-8-6-7-6-8-7M306 414l-9-4-8-5-8-4M323 425l8-7 7-8 7-9M323 411l-5-9-6-8-5-10M334 441l11-6 10-8 11-6M339 428l9-2 10 1 9 1M344 415l11-7 10-7 12-7M356 430l-9-7-8-8-9-7M354 417l5-7 6-6 7-6M363 417l-6-7-7-5-6-7M365 404l7-6 6-7 4-9M414 433l-13-2-13-3-14 0M412 419l2-15 6-15 5-15M417 447l-10-8-9-8-8-10M417 433l5-14 8-12 10-11M417 419l5-9 3-9 0-9M431 434l-4-15-2-15-4-14M423 429l6-8 6-8 6-7M412 407l3-7 4-7 5-5M438 415l9-7 9-8 8-9M439 403l8-7 8-7 5-8M460 423l3-11 1-11 4-10M450 403l2-10 4-10 4-9M473 420l7-7 7-7 5-9M472 409l-4-11-4-10-3-10M472 397l5-7 4-8 4-8M485 412l-4-8-2-9-3-9M489 401l-2-7-1-7-2-7M503 437l3-10 2-9 3-10M497 425l-10-5-12-3-11-5M491 414l-10-7-8-7-9-8M517 433l-9-9-10-7-10-9M520 420l9-10 8-10 11-9M523 407l-8-4-9-5-9-4M530 422l11-9 11-8 11-9M534 409l11-1 12 0 11 1"/></g><use href="#t37" stroke="#fff" stroke-width="1.1"/></g></g>
<g clip-path="url(#sky2)"><path d="M99.2 406.0 Q91.1 378.0 82.5 354.0 L84.3 354.0 Q94.7 378.0 103.2 406.0Z" fill="#fff" stroke="#6f8c8b" stroke-width="0.8"/><path d="M103.1 406.0 Q104.8 378.0 107.4 354.0 L109.2 354.0 Q108.4 378.0 107.1 406.0Z" fill="#fff" stroke="#6f8c8b" stroke-width="0.8"/><path d="M106.2 406.0 Q115.9 378.0 127.6 354.0 L129.4 354.0 Q119.5 378.0 110.3 406.0Z" fill="#fff" stroke="#6f8c8b" stroke-width="0.8"/><path d="M118.0 404.0 Q112.5 376.0 106.8 352.0 L108.4 352.0 Q115.7 376.0 121.5 404.0Z" fill="#fff" stroke="#6f8c8b" stroke-width="0.8"/><path d="M122.9 404.0 Q129.9 376.0 138.5 352.0 L140.1 352.0 Q133.1 376.0 126.5 404.0Z" fill="#fff" stroke="#6f8c8b" stroke-width="0.8"/><path d="M264.7 429.0 Q253.6 401.0 241.4 377.0 L243.0 377.0 Q256.8 401.0 268.3 429.0Z" fill="#fff" stroke="#6f8c8b" stroke-width="0.8"/><path d="M268.4 429.0 Q266.8 401.0 265.4 377.0 L267.0 377.0 Q270.0 401.0 272.1 429.0Z" fill="#fff" stroke="#6f8c8b" stroke-width="0.8"/><path d="M273.4 429.0 Q284.2 401.0 297.1 377.0 L298.7 377.0 Q287.4 401.0 277.0 429.0Z" fill="#fff" stroke="#6f8c8b" stroke-width="0.8"/><path d="M318.4 438.0 Q309.2 410.0 299.2 386.0 L300.8 386.0 Q312.4 410.0 322.1 438.0Z" fill="#fff" stroke="#6f8c8b" stroke-width="0.8"/><path d="M323.1 438.0 Q325.6 410.0 329.0 386.0 L330.6 386.0 Q328.8 410.0 326.7 438.0Z" fill="#fff" stroke="#6f8c8b" stroke-width="0.8"/><path d="M326.7 438.0 Q338.2 410.0 352.0 386.0 L353.6 386.0 Q341.4 410.0 330.3 438.0Z" fill="#fff" stroke="#6f8c8b" stroke-width="0.8"/><path d="M353.5 440.0 Q346.9 412.0 339.9 388.0 L341.5 388.0 Q350.1 412.0 357.1 440.0Z" fill="#fff" stroke="#6f8c8b" stroke-width="0.8"/><path d="M359.2 440.0 Q367.0 412.0 376.4 388.0 L378.0 388.0 Q370.2 412.0 362.8 440.0Z" fill="#fff" stroke="#6f8c8b" stroke-width="0.8"/><path d="M412.9 466.0 Q405.5 438.0 397.6 414.0 L399.0 414.0 Q408.3 438.0 416.1 466.0Z" fill="#fff" stroke="#6f8c8b" stroke-width="0.8"/><path d="M418.2 466.0 Q424.0 438.0 431.2 414.0 L432.6 414.0 Q426.8 438.0 421.3 466.0Z" fill="#fff" stroke="#6f8c8b" stroke-width="0.8"/><path d="M428.0 472.0 Q425.2 444.0 422.5 420.0 L424.1 420.0 Q428.4 444.0 431.6 472.0Z" fill="#fff" stroke="#6f8c8b" stroke-width="0.8"/><path d="M433.1 472.0 Q443.1 444.0 455.2 420.0 L456.8 420.0 Q446.3 444.0 436.7 472.0Z" fill="#fff" stroke="#6f8c8b" stroke-width="0.8"/><path d="M510.8 440.0 Q499.8 412.0 488.0 388.0 L490.4 388.0 Q504.6 412.0 516.2 440.0Z" fill="#fff" stroke="#6f8c8b" stroke-width="0.8"/><path d="M514.7 440.0 Q513.5 412.0 513.0 388.0 L515.4 388.0 Q518.3 412.0 520.1 440.0Z" fill="#fff" stroke="#6f8c8b" stroke-width="0.8"/><path d="M518.6 440.0 Q527.2 412.0 537.9 388.0 L540.3 388.0 Q532.0 412.0 524.0 440.0Z" fill="#fff" stroke="#6f8c8b" stroke-width="0.8"/><path d="M198.8 372.0 Q190.8 350.5 180.9 333.0 L183.1 333.0 Q195.2 350.5 203.7 372.0Z" fill="#fff" stroke="#6f8c8b" stroke-width="0.8"/><path d="M202.8 372.0 Q201.2 350.5 199.8 333.0 L202.0 333.0 Q205.6 350.5 207.8 372.0Z" fill="#fff" stroke="#6f8c8b" stroke-width="0.8"/><path d="M207.0 372.0 Q212.0 350.5 219.4 333.0 L221.6 333.0 Q216.4 350.5 212.0 372.0Z" fill="#fff" stroke="#6f8c8b" stroke-width="0.8"/></g>
<path d="M100,402 L99.3,449.6 Q99,464 99,470 L110,470 Q110,464 109.7,449.6 L109,402" fill="#fff" stroke="#6f8c8b" stroke-width="0.9" stroke-linejoin="round"/>
<path d="M118,400 L117.3,435 Q117,444 117,450 L127,450 Q127,444 126.7,435 L126,400" fill="#fff" stroke="#6f8c8b" stroke-width="0.9" stroke-linejoin="round"/>
<path d="M267,425 L264.9,505.5 Q264,534 260,540 L281,540 Q277,534 276.4,505.5 L275,425" fill="#fff" stroke="#6f8c8b" stroke-width="0.9" stroke-linejoin="round"/>
<path d="M320,434 L318.6,488.6 Q318,506 314,512 L333,512 Q329,506 328.7,488.6 L328,434" fill="#fff" stroke="#6f8c8b" stroke-width="0.9" stroke-linejoin="round"/>
<path d="M354,436 L353.3,480.8 Q353,494 350,500 L366,500 Q363,494 362.7,480.8 L362,436" fill="#fff" stroke="#6f8c8b" stroke-width="0.9" stroke-linejoin="round"/>
<path d="M414,462 L413.3,497 Q413,506 410,512 L425,512 Q422,506 421.7,497 L421,462" fill="#fff" stroke="#6f8c8b" stroke-width="0.9" stroke-linejoin="round"/>
<path d="M427,468 L426.3,493.2 Q426,498 423,504 L439,504 Q436,498 435.7,493.2 L435,468" fill="#fff" stroke="#6f8c8b" stroke-width="0.9" stroke-linejoin="round"/>
<path d="M512,436 L511,493.1 Q510.6,511.6 506.6,517.6 L529,517.6 Q525,511.6 524.7,493.1 L524,436" fill="#fff" stroke="#6f8c8b" stroke-width="0.9" stroke-linejoin="round"/>
<path d="M201,368 L200.3,465.3 Q200,501 198,507 L214.5,507 Q212.5,501 212.3,465.3 L212,368" fill="#fff" stroke="#6f8c8b" stroke-width="0.9" stroke-linejoin="round"/>
<path d="M91,448 L196,448 L205.6,456 L205.6,530 L200,542 L91,542Z" fill="#e3e6e4" stroke="#6f8c8b" stroke-width="0.8" />
<path d="M195,452 L205.6,458 L205.6,530 L196,538Z" fill="#c9d0ce" stroke="#6f8c8b" stroke-width="0.6" />
<path d="M94.7,458.6 L110,458.6 L110,521 L94.7,521Z" fill="none" stroke="#6f8c8b" stroke-width="0.6" />
<path d="M132.8,464 L178,464 L178,507 L132.8,507Z" fill="#a6b1b0" stroke="#6f8c8b" stroke-width="0.7" />
<g clip-path="url(#win2)"><path d="M153.5 491.5 149.7 493.0 148.6 494.8 148.0 501.4 147.7 508.0 148.4 509.5 149.3 508.9 149.4 502.7 149.8 508.0 150.2 517.7 150.8 527.8 150.6 529.3 153.5 529.3 153.7 519.0 154.3 511.5 155.0 510.4 155.7 511.5 156.3 519.0 156.5 529.3 159.4 529.3 159.2 527.8 159.8 517.7 160.2 508.0 160.6 502.7 160.7 508.9 161.6 509.5 162.3 508.0 162.0 501.4 161.4 494.8 160.3 493.0 156.5 491.5Z" fill="#fff" stroke="#6f8c8b" stroke-width="0.8" stroke-linejoin="round"/><ellipse cx="155.0" cy="488.9" rx="2.3" ry="2.9" fill="#fff" stroke="#6f8c8b" stroke-width="0.8" stroke-linejoin="round"/></g>
<path d="M132,465 L160,452 L207,458 L180,469Z" fill="#fff" stroke="#6f8c8b" stroke-width="0.7" />
<line x1="132" y1="486" x2="162" y2="457" stroke="#4f5a5a" stroke-width="0.8"/><line x1="178" y1="484" x2="205" y2="461" stroke="#4f5a5a" stroke-width="0.8"/>
<rect x="100" y="536.6" width="27.6" height="5.4" fill="#93b3aa"/>
<circle cx="110" cy="529.7" r="2.8" fill="#fff" stroke="#6f8c8b" stroke-width="0.6"/><circle cx="117" cy="529.7" r="2.8" fill="#fff" stroke="#6f8c8b" stroke-width="0.6"/>
<path d="M74 340 L74 580 L106 580 L102 575 Q92 560 89 530 L88.5 340" fill="#fff" stroke="#6f8c8b" stroke-width="0.8"/>
<path d="M262.1 490.9 258.6 492.2 257.6 493.8 256.9 499.6 256.7 505.5 257.4 506.9 258.2 506.3 258.3 500.8 258.7 505.5 259.0 514.1 259.6 523.0 259.4 524.4 262.1 524.4 262.3 515.2 262.9 508.6 263.5 507.6 264.1 508.6 264.7 515.2 264.9 524.4 267.6 524.4 267.4 523.0 268.0 514.1 268.3 505.5 268.7 500.8 268.8 506.3 269.6 506.9 270.3 505.5 270.1 499.6 269.4 493.8 268.4 492.2 264.9 490.9Z" fill="#fff" stroke="#6f8c8b" stroke-width="0.6" stroke-linejoin="round"/><ellipse cx="263.5" cy="488.5" rx="2.1" ry="2.5" fill="#fff" stroke="#6f8c8b" stroke-width="0.6" stroke-linejoin="round"/>
<path d="M341.5 483.5 339.3 484.8 338.4 486.2 338.0 491.6 337.8 496.3 338.3 497.0 338.9 492.0 339.6 493.4 338.3 501.3 340.6 502.0 340.6 513.2 340.2 514.5 341.9 514.5 341.9 502.0 343.1 502.0 343.1 514.5 344.8 514.5 344.4 513.2 344.4 502.0 346.7 501.3 345.4 493.4 346.1 492.0 346.7 497.0 347.2 496.3 347.0 491.6 346.6 486.2 345.7 484.8 343.5 483.5Z" fill="#fff" stroke="#6f8c8b" stroke-width="0.6" stroke-linejoin="round"/><ellipse cx="342.5" cy="481.3" rx="1.7" ry="2.3" fill="#fff" stroke="#6f8c8b" stroke-width="0.6" stroke-linejoin="round"/>
<path d="M385.0 481.2 383.9 481.9 383.5 482.6 383.2 485.3 383.2 487.6 383.4 488.0 383.7 485.5 384.0 486.2 383.4 490.2 384.5 490.5 384.5 496.1 384.4 496.7 385.2 496.7 385.2 490.5 385.8 490.5 385.8 496.7 386.6 496.7 386.5 496.1 386.5 490.5 387.6 490.2 387.0 486.2 387.3 485.5 387.6 488.0 387.8 487.6 387.8 485.3 387.5 482.6 387.1 481.9 386.0 481.2Z" fill="#fff" stroke="#6f8c8b" stroke-width="0.6" stroke-linejoin="round"/><ellipse cx="385.5" cy="480.2" rx="0.8" ry="1.2" fill="#fff" stroke="#6f8c8b" stroke-width="0.6" stroke-linejoin="round"/>
<path d="M201.3 497.2 197.5 499.3 196.1 501.6 195.3 510.3 195.0 517.8 195.8 519.0 196.8 510.9 198.0 513.2 195.8 526.0 199.7 527.1 199.7 545.1 199.1 547.1 201.9 547.1 201.9 527.1 204.1 527.1 204.1 547.1 206.9 547.1 206.3 545.1 206.3 527.1 210.2 526.0 208.0 513.2 209.2 510.9 210.2 519.0 211.0 517.8 210.7 510.3 209.9 501.6 208.5 499.3 204.7 497.2Z" fill="#fff" stroke="#6f8c8b" stroke-width="0.8" stroke-linejoin="round"/><ellipse cx="203.0" cy="493.8" rx="2.9" ry="3.8" fill="#fff" stroke="#6f8c8b" stroke-width="0.8" stroke-linejoin="round"/><path d="M195.9 501.6 L196.3 517.8 M210.1 501.6 L209.7 517.8 M200.2 498.1 Q203.0 501.0 205.8 498.1 M198.0 513.2 L208.0 513.2 M202.2 535.8 l-1.7 5.3 M203.8 509.8 l-0.4 3.0 M203.9 521.2 l-1.0 5.1 M200.5 492.9 Q203.0 490.0 205.5 492.9" stroke="#6f8c8b" stroke-width="0.55" fill="none"/>
<path d="M212.0 496.5 207.2 498.6 205.7 501.0 204.9 510.0 204.6 519.0 205.4 521.1 206.6 520.2 206.7 511.8 207.3 519.0 207.7 532.2 208.6 546.0 208.3 548.1 212.0 548.1 212.3 534.0 213.1 523.8 214.0 522.3 214.9 523.8 215.7 534.0 216.0 548.1 219.7 548.1 219.4 546.0 220.3 532.2 220.7 519.0 221.3 511.8 221.4 520.2 222.6 521.1 223.4 519.0 223.1 510.0 222.3 501.0 220.8 498.6 216.0 496.5Z" fill="#fff" stroke="#6f8c8b" stroke-width="0.8" stroke-linejoin="round"/><ellipse cx="214.0" cy="492.9" rx="3.0" ry="3.9" fill="#fff" stroke="#6f8c8b" stroke-width="0.8" stroke-linejoin="round"/><path d="M206.7 501.0 L207.0 517.8 M221.3 501.0 L221.0 517.8 M211.2 497.4 Q214.0 500.4 216.8 497.4 M207.4 519.0 L220.6 519.0 M210.0 522.0 L212.3 523.2 M215.7 523.2 L218.0 522.0 M209.4 521.8 l-0.4 5.1 M209.5 530.8 l-0.7 5.0 M215.9 520.1 l1.4 3.0 M211.4 492.0 Q214.0 489.0 216.6 492.0" stroke="#6f8c8b" stroke-width="0.55" fill="none"/>
<path d="M312.5 502.8 305.2 505.8 303.0 509.2 301.7 522.1 301.3 535.0 302.6 538.0 304.3 536.7 304.5 524.7 305.4 535.0 306.0 553.9 307.3 573.7 306.9 576.7 312.5 576.7 312.9 556.5 314.2 541.9 315.5 539.7 316.8 541.9 318.1 556.5 318.5 576.7 324.1 576.7 323.7 573.7 325.0 553.9 325.6 535.0 326.5 524.7 326.7 536.7 328.4 538.0 329.7 535.0 329.3 522.1 328.0 509.2 325.8 505.8 318.5 502.8Z" fill="#fff" stroke="#6f8c8b" stroke-width="0.8" stroke-linejoin="round"/><ellipse cx="315.5" cy="497.6" rx="4.5" ry="5.6" fill="#fff" stroke="#6f8c8b" stroke-width="0.8" stroke-linejoin="round"/><path d="M304.5 509.2 L305.0 533.3 M326.5 509.2 L326.0 533.3 M311.2 504.0 Q315.5 508.3 319.8 504.0 M305.6 535.0 L325.4 535.0 M309.5 539.3 L312.9 541.0 M318.1 541.0 L321.5 539.3 M320.7 516.5 l-1.3 5.1 M313.4 535.3 l0.4 6.4 M322.1 518.8 l-1.2 6.2 M311.6 496.3 Q315.5 492.0 319.4 496.3" stroke="#6f8c8b" stroke-width="0.55" fill="none"/>
<path d="M287.5 537.4 282.8 539.2 281.4 541.2 280.5 548.9 280.2 556.5 281.1 558.3 282.2 557.5 282.3 550.4 282.9 556.5 283.3 567.7 284.2 579.5 283.9 581.2 287.5 581.2 287.8 569.2 288.7 560.6 289.5 559.3 290.3 560.6 291.2 569.2 291.5 581.2 295.1 581.2 294.8 579.5 295.7 567.7 296.1 556.5 296.7 550.4 296.8 557.5 297.9 558.3 298.8 556.5 298.5 548.9 297.6 541.2 296.2 539.2 291.5 537.4Z" fill="#fff" stroke="#6f8c8b" stroke-width="0.8" stroke-linejoin="round"/><ellipse cx="289.5" cy="534.3" rx="2.9" ry="3.3" fill="#fff" stroke="#6f8c8b" stroke-width="0.8" stroke-linejoin="round"/><path d="M282.3 541.2 L282.7 555.5 M296.7 541.2 L296.3 555.5 M286.7 538.1 Q289.5 540.7 292.3 538.1 M283.0 556.5 L296.0 556.5 M285.6 559.0 L287.8 560.1 M291.2 560.1 L293.4 559.0 M291.6 569.4 l-0.3 2.9 M289.5 549.6 l-0.5 4.8 M290.8 561.6 l1.6 2.9 M287.0 533.5 Q289.5 531.0 292.0 533.5" stroke="#6f8c8b" stroke-width="0.55" fill="none"/>
<path d="M344 575 L345 565 L348 560 A5 5.5 0 1 1 357 560 L361 566 L362 575Z" fill="#fff" stroke="#6f8c8b" stroke-width="0.7"/>
<path d="M497.9 515.8 492.9 517.6 491.4 519.8 490.5 527.9 490.2 536.0 491.1 537.9 492.3 537.1 492.4 529.5 493.0 536.0 493.5 547.9 494.4 560.3 494.1 562.2 497.9 562.2 498.2 549.5 499.1 540.3 500.0 539.0 500.9 540.3 501.8 549.5 502.1 562.2 505.9 562.2 505.6 560.3 506.5 547.9 507.0 536.0 507.6 529.5 507.7 537.1 508.9 537.9 509.8 536.0 509.5 527.9 508.6 519.8 507.1 517.6 502.1 515.8Z" fill="#fff" stroke="#6f8c8b" stroke-width="0.8" stroke-linejoin="round"/><ellipse cx="500.0" cy="512.5" rx="3.1" ry="3.5" fill="#fff" stroke="#6f8c8b" stroke-width="0.8" stroke-linejoin="round"/><path d="M492.4 519.8 L492.8 534.9 M507.6 519.8 L507.2 534.9 M497.0 516.6 Q500.0 519.3 503.0 516.6 M493.2 536.0 L506.8 536.0 M495.8 538.7 L498.2 539.8 M501.8 539.8 L504.2 538.7 M495.5 544.6 l-1.3 5.9 M498.2 525.1 l-0.3 5.1 M502.9 536.3 l-0.5 5.7 M497.3 511.7 Q500.0 509.0 502.7 511.7" stroke="#6f8c8b" stroke-width="0.55" fill="none"/>
<ellipse cx="156" cy="531" rx="8" ry="13.5" fill="#fff" stroke="#6f8c8b" stroke-width="0.8"/>
<path d="M181.6,538 L215.7,538 L217.7,562.3 L179.6,562.3Z" fill="#fff" stroke="#6f8c8b" stroke-width="0.8" /><path d="M178.6,560.7 L218.7,560.7 L219.7,567.7 L177.6,567.7Z" fill="#fff" stroke="#6f8c8b" stroke-width="0.8" /><path d="M179.6 567.7 L178.6 592 M217.7 567.7 L218.7 592 M182.6 565.0 L183.6 586 M214.7 565.0 L213.7 586" stroke="#6f8c8b" stroke-width="1.1" fill="none"/>
<path d="M110.5,545 L132.5,545 L134.5,573.4 L108.5,573.4Z" fill="#fff" stroke="#6f8c8b" stroke-width="0.8" /><path d="M107.5,571.5 L135.5,571.5 L136.5,579.6 L106.5,579.6Z" fill="#fff" stroke="#6f8c8b" stroke-width="0.8" /><path d="M108.5 579.65 L107.5 608 M134.5 579.65 L135.5 608 M111.5 576.5 L112.5 602 M131.5 576.5 L130.5 602" stroke="#6f8c8b" stroke-width="1.1" fill="none"/>
<ellipse cx="166.5" cy="553" rx="30.5" ry="6" fill="#fff" stroke="#6f8c8b" stroke-width="0.8"/>
<line x1="167" y1="559" x2="167" y2="606" stroke="#6f8c8b" stroke-width="1.6"/><ellipse cx="168" cy="607" rx="11" ry="3" fill="#fff" stroke="#6f8c8b" stroke-width="0.7"/>
<path d="M136.5,561 L174,561 L176,591.4 L134.5,591.4Z" fill="#fff" stroke="#6f8c8b" stroke-width="0.8" /><path d="M133.5,589.4 L177,589.4 L178,598.1 L132.5,598.1Z" fill="#fff" stroke="#6f8c8b" stroke-width="0.8" /><path d="M134.5 598.125 L133.5 628.5 M176 598.125 L177 628.5 M137.5 594.75 L138.5 622.5 M173 594.75 L172 622.5" stroke="#6f8c8b" stroke-width="1.1" fill="none"/>
<path d="M392.8,340 L393.6,469.1 Q394,518.5 391,524.5 L416,524.5 Q413,518.5 412.1,469.1 L410,340" fill="#fff" stroke="#6f8c8b" stroke-width="0.9" stroke-linejoin="round"/>
<path d="M529.7,340 L527.1,488.4 Q526,546 521,552 L552,552 Q547,546 546.4,488.4 L545,340" fill="#fff" stroke="#6f8c8b" stroke-width="0.9" stroke-linejoin="round"/>
<path d="M474.5,538 L484,538 L486,560 L472.5,560Z" fill="#fff" stroke="#6f8c8b" stroke-width="0.8" /><path d="M471.5,558.6 L487,558.6 L488,565 L470.5,565Z" fill="#fff" stroke="#6f8c8b" stroke-width="0.8" /><path d="M472.5 564.95 L471.5 587 M486 564.95 L487 587 M475.5 562.5 L476.5 581 M483 562.5 L482 581" stroke="#6f8c8b" stroke-width="1.1" fill="none"/>
<ellipse cx="476" cy="534" rx="17.5" ry="4" fill="#fff" stroke="#6f8c8b" stroke-width="0.8"/>
<line x1="476" y1="538" x2="476" y2="590" stroke="#6f8c8b" stroke-width="1.2"/>
<ellipse cx="536" cy="563" rx="29" ry="6.8" fill="#fff" stroke="#6f8c8b" stroke-width="0.8"/>
<line x1="547" y1="569" x2="547" y2="626" stroke="#6f8c8b" stroke-width="1.5"/>
<path d="M486,568 L548,568 L550,595.5 L484,595.5Z" fill="#fff" stroke="#6f8c8b" stroke-width="0.8" /><path d="M483,593.6 L551,593.6 L552,601.5 L482,601.5Z" fill="#fff" stroke="#6f8c8b" stroke-width="0.8" /><path d="M484 601.55 L483 629 M550 601.55 L551 629 M487 598.5 L488 623 M547 598.5 L546 623" stroke="#6f8c8b" stroke-width="1.1" fill="none"/>
<path d="M384.4 512.0 370.8 517.3 366.9 523.4 363.7 546.2 360.5 564.4 362.9 569.0 366.4 566.0 369.3 550.8 370.8 569.0 367.7 607.0 365.3 638.9 364.5 642.7 375.6 642.7 377.2 607.0 386.8 581.2 390.0 578.1 393.2 584.2 397.2 611.6 395.6 637.4 396.4 642.7 406.0 642.7 406.8 637.4 408.4 607.0 408.8 569.0 410.4 550.8 411.1 576.6 414.3 579.6 416.0 572.0 414.7 546.2 413.1 523.4 409.2 517.3 395.6 512.0Z" fill="#fff" stroke="#6f8c8b" stroke-width="0.8" stroke-linejoin="round"/><ellipse cx="390.0" cy="502.9" rx="8.3" ry="9.9" fill="#fff" stroke="#6f8c8b" stroke-width="0.8" stroke-linejoin="round"/><path d="M369.6 523.4 L370.5 566.0 M410.4 523.4 L409.5 566.0 M382.0 514.3 Q390.0 521.9 398.0 514.3 M371.6 569.0 L408.4 569.0 M378.8 576.6 L385.2 579.6 M394.8 579.6 L401.2 576.6 M386.4 549.5 l3.1 8.0 M401.2 586.1 l-2.4 11.4 M387.6 558.4 l-3.0 17.5 M382.8 500.6 Q390.0 493.0 397.2 500.6" stroke="#6f8c8b" stroke-width="0.55" fill="none"/>
<path d="M437.5 520.2 424.8 525.4 419.3 531.2 415.6 553.1 413.8 575.0 415.6 579.4 419.3 577.9 421.5 557.5 422.9 567.7 421.1 618.8 432.1 620.3 433.0 645.8 440.3 645.8 441.2 620.3 444.8 620.3 445.7 645.8 453.0 645.8 453.9 620.3 464.9 618.8 463.1 567.7 464.5 557.5 466.7 577.9 470.4 579.4 472.2 575.0 470.4 553.1 466.7 531.2 461.2 525.4 448.5 520.2Z" fill="#fff" stroke="#6f8c8b" stroke-width="0.8" stroke-linejoin="round"/><ellipse cx="443.0" cy="511.5" rx="9.5" ry="9.5" fill="#fff" stroke="#6f8c8b" stroke-width="0.8" stroke-linejoin="round"/><path d="M419.6 531.2 L420.7 572.1 M466.4 531.2 L465.3 572.1 M433.9 522.4 Q443.0 529.7 452.1 522.4 M456.1 574.1 l-0.5 9.1 M441.3 544.8 l-2.0 15.4 M433.1 578.0 l0.9 8.3 M434.8 509.3 Q443.0 502.0 451.2 509.3" stroke="#6f8c8b" stroke-width="0.55" fill="none"/>
<path d="M201.4,445 L230.3,436.2 L230.3,453.8Z" fill="#5f6a6a"/><rect x="230.3" y="443.1" width="75.39999999999998" height="3.8" fill="#5f6a6a"/><rect x="378.5" y="443.1" width="75.0" height="3.8" fill="#5f6a6a"/><path d="M483.4,445 L453.5,436.2 L453.5,453.8Z" fill="#5f6a6a"/>
<text x="313" y="451.5" font-family="Liberation Sans" font-weight="bold" font-size="18" fill="#2f3c3d" textLength="58.9" lengthAdjust="spacingAndGlyphs">6 - 8 m</text>
</g>
<g clip-path="url(#cp3)">
<rect x="89" y="653" width="473" height="160" fill="#e8ecea"/>
<rect x="240" y="745" width="158" height="62" fill="url(#g2)"/>
<path d="M89,812 L240,812 L240,805 L562,805 L562,946 L75,946 L75,921Z" fill="#f0cdb0" stroke="none" stroke-width="1" />
<g clip-path="url(#sky3)"><g fill="none" stroke-linecap="round" stroke-linejoin="round"><path d="M401 655l-2-2-1-2M526 742l-2 3-2 3M107 734l-3-4-4-3M534 735l-1 2-1 2M533 642l-1-2-1-1M419 681l-2-2-2-2M162 715l3-4 3-4M237 758l-3-4-3-2M555 691l-3 0-4 0M497 729l3-5 3-5M307 656l-3-2-3-2M507 728l1 2 1 3M386 683l3 1 4 2M258 750l-1 1-1 1M325 706l2-3 2-3M173 725l3 1 4 2M166 763l-4 1-4 2M498 644l4-2 4-2M99 688l1 0 1 0M174 651l-4-1-4-2M354 737l-3-4-4-4M105 642l2-1 2 0M391 720l2-6 1-5M313 757l0-1 0-2M96 657l2-2 1-1M281 717l1-2 1-1M304 653l3 0 3 1M251 681l4 2 4 3M458 641l-1-4 0-4M400 662l-2 0-2-1M393 750l2-1 2 0M174 743l2 1 1 0M503 640l-2-3-2-3M108 670l0 0-1-1M482 751l2-1 2-1M166 732l0-3 0-4M519 703l-4-1-5-1M156 699l0-3 1-3M549 732l-2 3-1 4M141 727l-6 2-5 3M253 686l-4 1-3 1M430 719l-2 2-2 2M516 674l2 1 2 1M158 743l-3-1-3-2M275 758l1-3 1-2M382 712l-4-2-4-2M322 719l3-1 3-1M533 642l-1-3-2-3M381 697l-5-3-6 0M249 661l4-2 4-3M381 642l-3-1-3 0M559 714l3-1 3-1M223 648l0-3-1-2M223 651l2-3 2-3M440 764l4 4 4 4M438 745l2-5 2-5M276 688l-1-2-1-2M180 705l-4 2-4 1M242 632l-2-3-1-3M384 679l-3-1-4-2M433 688l-2-4-3-2M282 655l4 0 4 0M487 721l0-2-1-2M93 679l5-1 4-2M484 637l-4 0-4-1M176 755l4 1 4 1M363 718l-3-3-4-2M327 702l-2-2-2-3M472 687l0-3 0-3M108 708l2-1 1-1M254 723l0-4-2-4M364 681l-1 0-1 0M117 719l-3-1-3-2M319 666l0-3 0-4M103 725l-1-2-1-2M479 651l2 2 3 2M267 718l-2-5-2-6M540 742l-2 0-1-1M312 700l0 2 1 2M532 716l5-3 5-1M165 701l-1-3-1-3M477 743l-5-5-5-4M283 766l1 2 2 2M171 656l5-2 5-2M428 697l-2-5-3-5M477 721l0-2 0-2M289 684l-1-4-1-4M107 720l5-1 4-2M441 638l2-5 3-4M161 709l-5 2-5 2M116 662l-3-1-3 1M422 724l0-1 0-2M444 754l-3 4-4 2M249 751l-2-2-1-1M556 725l-1 1-2 2M297 658l-3-4-5-4M400 702l-2-4-2-5M556 717l5-2 4-1M190 715l3 0 3 0M257 677l3 2 3 2M153 667l-2-2-1-2M387 743l-3-3-4-3M563 662l4 0 4 1M271 695l1-6 2-5M483 718l-4 1-4 1M304 728l1-2 1-3M402 651l5-1 5-3M192 731l2-1 2-1M516 762l-1-2-1-2M160 749l3-1 2-3M467 698l-2-6-4-4M262 655l2 0 2 0M264 742l0-1 0-2M235 720l-2-2-3-1M216 693l1-4 2-4M447 763l0 3-1 3M321 696l0-5 0-5M396 670l2-4 0-5M421 701l-2-2-2-3M156 652l2-1 3-2M133 734l4 1 3 1M427 745l-2-1-2-2M163 702l-6-1-6 0M229 647l1-1 1-1M421 670l-1-1-2-1M415 760l1 0 2-1M563 689l2-3 1-3M303 700l1-2 0-2M269 642l-4 0-4 0M468 677l4 4 4 4M511 736l-3-2-3-2M114 660l2 0 2 0M304 653l-2-1-1-1M179 735l1-3 1-3M108 685l-2-2-3-3M244 647l0-3 1-3M343 654l-3 1-2 1M137 695l3-2 3-1M384 637l-2-4 0-3M501 726l-2-3-2-4M390 692l-1-1-2-2M393 682l-2-4 0-3M96 733l-1-5-2-5M178 647l0-3 0-3M138 655l1-4 3-4M292 652l5-2 5-1M206 681l3-6 0-7M390 752l-1-3-2-2M310 677l-3 0-3-1M220 662l3 0 4 0M131 739l-3-2-2-4M473 659l1 2 1 2M236 705l-6-2-5-1M225 654l3-1 2-1M158 692l2-1 2-2M355 652l4-2 3-3M384 666l1-1 1-1M413 718l1-1 2-2M272 642l-1-3-1-3M393 741l-1 0-1-1M414 722l2 1 1 1M535 695l1-4 2-4M387 649l-5 1-5 1M240 724l-3-1-3 0M344 740l3-2 4-2M92 712l-3 2-3 2M550 671l0 4 1 5M257 639l-3-4-1-3M541 746l4 1 4 2M539 737l1-5 0-4M535 723l1-2 1-1M360 729l3-4 2-5M310 692l2-1 2-2M455 696l-3 2-1 3M534 705l3 2 3 1M107 641l-4-3-5-2M115 726l-1-1-2-1M517 682l2-5 3-5M266 644l-3 0-3-1M169 695l-4-4-4-2M164 699l-3 1-2 1M131 648l-3-3-2-3M97 676l-4 0-3 1M513 751l0-1 1-2M232 696l-2 0-2 1M421 685l-2-2-2-2M418 734l3-1 4 0M249 690l1-2 1-1M292 751l0-3 0-3M185 691l-3-2-2-3M378 660l-3 3-2 4M294 693l4-1 4 0M334 698l-2-3-2-3M459 753l-4-1-5-1M404 691l1 5 1 4M114 770l1-3 1-2M234 705l-1-2-1-1M439 642l-2-1-2-1M261 703l3-1 2-2M439 751l3 4 4 3M546 641l-5 2-5 3M271 719l-2-1-2-1M285 674l-1-4-2-3M196 653l-2-1-2-2M232 719l0-1-1-2M530 734l2-3 2-3M181 706l0-5 0-4M169 742l4-1 3-1M340 728l3-1 3-1M170 734l-3 2-2 2M361 681l-2-3-1-4M384 627l-1-4-1-4M520 716l4-1 4-1M194 647l4-2 3-2M528 682l6-1 5-1M302 641l-2-1-1 0M183 652l7 1 7 1M354 675l6 0 6 0M200 717l2-6 3-5M489 718l0-2-1-1M175 750l0-4-1-3M491 672l-1 0-1-1M449 691l-1-1 0-2M308 670l2 1 1 0M478 728l5-1 5 0M353 663l0-2 0-2M94 721l0-1 1-2M457 645l2 1 3 1M302 741l3-3 3-2M150 720l-2-3-3-3M405 687l2-1 1-1M497 654l1-4 1-3M393 685l-3-3-3-3M442 644l2 2 3 2M166 640l1 0 2 0M385 648l3-3 3-3M523 652l1 1 1 1M376 649l2-2 2-2M101 654l1-4 2-4M176 712l-3-2-4-1M180 701l-4-1-4 0M102 762l4-3 4-2M282 721l0-1-1-1M238 677l1-2 2-2M540 674l0-3-1-3M439 720l-3-4-5-2M176 752l-3 0-3-1M182 652l3-2 4-1M314 689l-2-2-1-2M348 681l0-3 0-3M442 683l1-2 2-1M446 654l0-3 0-2M235 678l5-3 5-3M369 734l0 3-1 3M204 747l-4-3-3-5M133 686l2 6 1 5M114 655l1-2 1-2M545 656l-5 1-4 1M309 645l2-2 1-2M453 703l-2-3-2-4M520 741l4-3 2-4M232 668l-1-4-1-3M352 686l-3-3-2-3M336 655l-4-2-4-1M306 750l-1-1-2-1M309 716l-2-3-2-3M137 759l2-4 1-4M483 767l1 0 1 0M441 664l-1-1-1 0M100 701l0-1 0-2M203 638l-3-4-2-3M228 703l-4 0-5 1M435 680l1-2 2-2M368 747l0-2 0-2M366 709l3-2 3-1M456 753l-2-4-1-5M370 758l-4 1-4 2M548 738l4 0 5-2M369 701l2-3 3-3M220 694l-2-3-2-3M170 759l4-1 3-1M428 721l0-3-1-2M149 674l2-3 3-2M324 649l-1-2 0-2M539 676l1-1 0-1M544 678l1-3 0-3M207 669l-1 2 0 2M198 645l2-3 2-3M170 712l-1-6-1-6M211 756l1 6 4 6M366 758l-2-1-2-2M167 762l5 0 5 0M352 709l-2-5-2-4M110 743l-2-2-2-1M435 725l-1 0-1 0M373 663l1-1 1-2M397 670l-1-3 0-2M435 701l-1-3-1-4M140 688l1-2 2-2M485 669l1 0 2 0M194 670l0 3 0 3M458 679l-1-3-2-2M463 662l0-6-2-6M375 708l-1 0-2 0M185 660l3-3 4-4M157 652l4-1 4-1M194 665l-3-3-2-3M524 674l1-2 2-2M410 717l-2-4-1-4M232 680l-1-6-2-6M247 735l2-3 1-3M173 685l3-4 2-5M298 694l2-2 1-1M474 756l2 1 2 1M487 744l2-2 3-2M454 651l4-2 3-1M120 651l2-2 1-3M164 660l-3 0-2 0M456 672l-1-3 0-2M302 694l6-1 5 0M345 719l-3-1-2 1M363 659l3 2 2 3M342 651l5 0 4-1M172 710l-5-2-5-2M253 753l-1-3-2-3M198 692l2-1 2-2M465 778l-1 6-2 6M473 658l7 1 7 0M125 658l1-3 1-4M497 744l2-3 3-2M210 728l-1-2-1-3M95 761l1-2 1-3M519 704l1-2 1-2M279 657l-1-1-1-1M105 692l-6-1-6-3M117 766l1-2 2-3M478 641l-5 0-6 2M223 734l3-1 3-2M478 664l0-3 1-4M102 655l-2-1-3-1M498 687l0 0-1-1M344 746l-2-3 0-4M281 767l2 0 3 0M163 716l-1-1 0-2M296 755l-2 0-3 0M280 747l2-1 2-1M216 651l1-3 1-4M202 696l0-2-1-2M412 657l-2-2-2-1M405 659l2-2 2-2M405 685l4-3 5-2M409 727l-3-4-3-4M515 771l3-2 4-2M411 708l1-4 1-4M446 664l1-2 1-2M162 696l0-3 0-3M538 711l-1-2-1-2M356 672l2 0 2 0M227 656l-6 2-5 2M336 729l1 1 1 1M118 659l1 1 1 1M202 689l-3-1-3 0M442 661l-2 3-1 4M511 662l-1-1-1 0M508 669l1-1 2-2M394 648l2-5 3-3M314 642l3 0 3 1M314 680l1-1 1-2M391 752l-6-2-6 1M374 659l0-5 2-4M333 684l3-3 4-3M222 645l-1-2 0-3M162 647l-1-2 0-2M348 772l1 4 0 4M161 725l-4-2-3-1M383 708l-5-1-6 0M523 749l-4-2-5-1M493 745l1-4 1-4M445 679l1-2 2-1M346 669l-1-7-4-6M549 744l0-1 0-2M260 661l-3-2-4-3M272 740l0-3-1-3M546 676l-5 2-5 2M310 701l-1-3-1-3M442 696l4 1 3 2M240 742l0-1-1-2M366 686l3-2 2-3M107 759l1-2 1-1M339 707l0-2 0-1M496 728l-2-2-1-2M485 713l-1-2-2-3M100 662l-3-4-2-4M286 709l5 1 5-1M367 681l-3 0-4 0M268 648l-6-1-5-3M552 680l3 2 3 2M246 697l-1-1-1-1M502 645l1-1 2-1M99 699l3-1 3 0M390 715l-2 0-2 0M283 664l-2 1-2 0M442 654l1-4 0-4M381 704l0-3 1-3M365 728l0-7 1-6M554 738l1-3 2-4M416 700l3-2 3-2M476 668l0-3 0-3M248 710l2-2 1-3M522 749l-1-4-2-3M520 749l1-4 1-4M338 639l3-1 3-1M550 698l2 0 2 0M360 714l2-2 2-1M466 737l1-4 2-3M134 638l-5-3-6-1M379 677l-3-1-3-1M131 690l-2 0-2 0M106 661l-1-2-1-1M161 697l5-2 5-4M537 664l1-1 1-1M317 672l1-3 0-2M136 667l-2-2-2-3M440 750l1-2 0-2M315 679l-3 3-2 4M250 669l2 1 3 0M137 738l-1-1-1-1M112 716l3-4 4-4M179 744l-2-4-3-4M310 668l1 0 2 1M290 705l2 3 3 3M463 710l1-5 1-4M118 740l1-6-1-6M541 701l-3 2-3 1M402 698l2-3 2-2M296 699l-2 2-2 0M446 676l-1-3 0-4M95 763l-3-2-3-1M552 736l0-1-1-1M192 697l-2 0-2 0M198 687l0-2 0-2M485 703l-1-3-1-3M107 693l4-2 3-2M215 758l2-1 1 0M382 747l-1-3-1-2M175 672l-2-2-3-1M123 664l-2-3-2-3M346 740l1 0 1-1M121 687l3 2 2 3M534 702l-1-2-2-2M195 655l1-3 1-2M210 730l-1-2-1-1M116 669l-1-1 0-1M324 658l0 3 0 3M407 662l2-2 2-1M205 657l1-3 0-4M544 633l6-3 7-1M393 741l-1-6-3-4M287 639l0-1 2-2M97 731l-1-2-1-2M252 745l-5-2-4-2M212 694l3-1 3-1M437 749l0-3 1-3M461 759l3-2 4-2M108 676l2-2 1-2M252 750l-5 0-4 0M238 644l-1-1 0-2M207 676l1-2 1-2M524 754l0-2-1-2M394 693l5-1 5 0M139 732l6 0 6 0M171 663l-2 1-1 0M472 694l0-1 0-2M551 748l1-5 0-4M255 692l1-2 0-3M247 737l0-2 0-2M108 714l-1-2-2-1M205 663l2 0 3 0M520 675l3 3 4 2M219 683l5-3 7-2M160 695l2-1 2-2M493 699l-2-4-2-4M218 758l-4 0-3 2M391 686l0-2 1-1M443 702l4 0 3 1M189 719l-2-1-2-1M86 663l-3-1-3-2M478 687l3 2 3 1M451 722l3-1 2-1M419 695l2 0 3 1M534 682l-2 1-1 0M265 727l-2-3-1-2M171 720l2 6 4 4M505 705l1-3 0-3M346 750l2-2 1-2M106 660l-1-4 0-4M480 722l-3-5-2-5M415 739l3 0 4-1M200 751l2-5 1-4M234 679l3-3 4-2M276 724l1 2 1 1M563 646l3-5 4-4M253 688l-2-2-1-2M503 689l-2 0-1-1M239 662l1-1 1-2M550 656l-1-2 0-2M261 657l3-6 3-6M151 707l2-2 1-3M420 704l3-1 2-2M407 717l3-3 3-3M384 768l3-1 3-1M327 682l-1-5-2-4M299 728l2-2 3-1M125 770l1-3 1-3M469 654l-1-2-1-2M297 672l0-1-1-1M189 690l2 2 2 1M280 629l-1-3-2-3M109 723l3 0 3-1M216 758l-6-2-6 0M441 663l-1-1-1-1" stroke="#7b989b" stroke-width="0.7"/><path d="M95 658l-1-3-1-2-2-3-1-2M431 693l-3-1-2-1-3 0-3 0M340 695l4-1 4-1 4-1 4-2M555 684l-4 1-3 1-4 0-3 1M379 668l-2-3-3-2-3-3-1-3M553 676l-5-5-3-7-2-7-3-6M409 710l-4-6-5-4-4-5-4-6M322 700l-3-5-1-6-1-6-2-5M461 715l-1-8 0-7-2-8 0-7M226 665l-7-2-7 0-7 0-6 1M114 681l3-4 2-5 1-4 2-5M456 698l1-2 1-2 1-1 2-2M219 649l5 0 6-1 5-1 6-1M105 668l-2-2-1-2-1-2 0-2M336 749l2-5 3-5 2-5 2-5M375 743l7-2 7-1 8 1 7-1M295 681l5 5 4 5 4 6 4 5M333 729l3-5 3-5 3-5 3-5M139 660l-1 5-2 4-3 4-2 4M539 675l5-1 5-2 4 0 5-1M429 736l3-6 5-6 5-5 3-6M418 678l5-2 6-3 5-2 6-2M525 719l3-2 2-2 1-2 2-2M368 677l3-3 4-3 3-1 5-1M111 700l-2 3-3 3-2 4-1 4M490 675l-4-1-3-1-4-1-4 0M189 693l-3-4-2-4-1-5-1-4M380 763l-2-3-1-3-1-3-2-3M111 735l-2-3-1-3-1-3-1-3M209 652l6-3 5-4 4-5 4-4M235 739l-4-3-4-1-5-1-4-1M411 727l1-3 1-2 1-3 1-3M312 758l0-3 1-3 0-3 0-2M273 683l5-3 4-4 5-3 3-5M386 718l-5-5-2-6-2-6-2-7M312 652l-8-2-7 0-7-2-6-4M153 757l0-5-2-5-1-5-1-5M381 725l2-2 1-2 1-2 2-1M238 720l1 6-1 6 1 7-1 6M230 740l3-4 3-3 3-4 3-3M292 648l1-5 2-5 2-5 2-4M111 678l6 0 6-2 6-3 6-2M280 672l3-6 3-7 3-7 4-7M434 723l-2-2-1-2-1-2-1-2M329 710l-2-1-3-2-1-3-2-2M496 765l1-2 1-3 1-2 1-2M453 740l6-3 5-6 5-4 7-4M325 714l-7-3-7-1-7-2-7-1M247 750l-4-1-4-1-4-2-3-2M376 754l0-7-1-8-3-7-3-7M444 710l-2-5-2-6-3-5-3-5M146 765l4-1 4 0 4 0 4 0M185 679l-7 4-8 2-7 2-7 3M195 763l4-2 3-2 2-3 3-3M520 652l2-2 2-3 2-2 2-3M180 654l-1-4 1-4 1-4 1-4M313 755l2-3 2-2 3-2 3-2M469 679l4-1 3 0 3 0 3-2M123 676l-1-3-2-3-2-3-2-3M280 738l2-3 2-2 2-3 2-3M223 737l-3-6 0-7-1-6 1-7M150 678l-2 0-2-1-2 0-2 0M561 760l0-7 2-7 0-7-1-7M473 718l0-2-1-3-1-2 0-2M190 765l4-5 4-4 5-4 5-3M250 750l-1 3 0 3-1 3-1 3M508 690l0 7 0 6 0 7 2 6M330 754l3-4 4-3 3-4 3-3M96 732l5-3 5-3 5-3 5-3M415 712l-5-4-5-3-6-1-7-1M238 653l-3-1-3-1-4-1-2-1M279 656l-6-2-7-2-7 0-6-2M148 720l2 5 1 6 2 5 4 4M140 771l0-5 1-6 1-5 0-6M508 761l2-5 1-5 1-4 2-5M273 660l-3-3-3-2-3-2-4-2M539 725l4-4 4-2 5-1 4-1M111 703l0 3 1 4 0 4 0 3M468 729l-4-4-4-3-4-4-4-4M477 661l2-3 3-3 3-4 3-3M432 698l-1-4-2-4-1-5 0-4M447 706l1-2 0-2 1-2 0-1M287 757l0-4-1-4-2-3-1-4M477 723l-5-4-3-4-5-4-4-4M222 683l-1-7-2-6-4-6-2-7M536 717l-1 7-1 8-3 7 0 8M527 696l4-3 3-3 3-4 2-4M127 697l3 0 3-1 3-1 3-1M102 706l-5-3-5-2-6-4-4-4M480 707l0 6-1 5 1 6-1 6M224 749l4-1 3 0 4-1 3-2M154 648l-2-3-1-4 1-4-1-4M549 649l3-4 3-3 3-4 3-4M361 753l-7-3-7-5-7-3-7-1M241 699l0 2-2 2-1 3-1 2M346 746l5-4 3-5 5-5 4-4M167 690l1-4 0-4 2-4 1-4M154 729l2-3 3-2 4-2 3-2M107 715l-7-3-6-4-7-3-6-4M299 704l3-5 4-3 4-3 4-4M479 687l-1-3-2-3-1-3-1-3M424 707l0-4-1-5-1-4 0-5M303 737l3-7 3-6 4-6 4-6M179 730l4-3 3-3 4-4 2-4M543 743l3-1 3-1 4 0 3 1M256 691l0-2 0-3-1-3-1-3M249 728l0-4 0-3 0-4-1-3M398 706l-6-4-7-4-6-4-7-2M512 768l7-1 8 2 7 3 7 3M494 669l-3 3-3 1-2 3-2 2M511 674l6-2 5-3 5-3 6-2M381 666l-2-6-2-6-3-6 0-7M156 674l-6-4-7-3-7-4-6-5M521 666l4 4 3 6 2 5 2 6M310 762l3-3 3-2 3-3 3-3M370 765l-5-5-6-5-7-2-7-1M501 740l0-3 0-2 0-3 1-2M209 689l2 0 2 0 2-1 2-1M415 652l0-3-2-2-1-3-1-3M389 669l-5-5-6-4-6-3-6-4M542 655l4-3 4-3 4-4 4-4M524 697l3 0 3-1 3-1 4-1M349 758l1-3 1-2 1-3 0-2M523 670l5-1 5-1 5-1 5 0M115 769l3-1 3-2 3-1 2-3M175 705l-6-2-7-1-7-3-6-2M486 681l0-3 0-3 1-4 2-2M513 745l-2 0-3-1-2-1-2-1M355 721l-5 0-4 0-5-1-4 1M300 676l-4-7-2-7-2-8-2-7M451 656l-4-1-4-2-4-1-4-1M446 715l-3-3-4-3-3-3-3-4M410 686l-1-3-2-2-1-3-2-2M274 686l1-3 2-4 1-3 2-3M393 655l-3-2-4-3-3-2-4-2M460 697l3-1 3 0 3-1 2 1M345 677l-5-1-6-1-5-1-6-2M224 736l-2-4-1-5-2-5-2-4M229 655l-3-5-3-5-5-4-4-4M555 674l-5-6-5-5-6-4-7-4M129 761l5 0 5-1 5 1 6 0M101 738l1-5 2-4 3-4 4-4M518 656l2-7 3-7 3-7 5-6M442 666l-3-4-3-3-3-3-3-3M367 759l-6-5-5-5-4-6-5-4M263 649l-5-3-7-1-5-4-6-2M176 705l3 3 2 3 3 2 4 3M515 699l2-1 2-2 1-2 2-1M182 712l0-7-1-7 2-6 1-7M209 766l5-6 3-7 3-6 5-6M322 709l-4 0-4 1-4 0-4 1M311 670l-1-5 0-5-1-5-2-5M434 710l0-5 1-5 0-5-1-5M433 715l1-6 1-5 1-5 1-6M357 744l2-3 2-3 2-3 0-4M310 717l-3 0-4 0-3 0-3 1M521 684l1-2 3-2 2-2 2-2M392 746l1 8 3 7 3 7 4 7M515 658l-7-3-7-4-6-5-4-6M130 755l5 2 5 1 5 2 4 4M113 647l2-5 3-4 1-6 1-5M125 675l-1-7 0-7 0-7 1-7M485 715l-1-5 0-4-2-4-1-5M432 727l-4-5-3-5-4-5-4-4M450 686l4-3 3-5 3-4 5-3M443 753l-1 4-1 5-2 4-2 4M525 733l2-1 1-2 0-2 1-2M190 767l7 2 6 4 5 4 5 5M208 722l-2-6-4-5-5-4-5-5M397 675l2-6 4-6 2-6 3-6M559 691l-1-4-1-5 0-4 0-5M516 742l5-1 4 0 5 0 5 0M196 714l-3 5-3 6-1 5-3 6M127 674l-3-2-3 0-3-1-3-1M408 757l-3-4-3-3-4-3-5-2M283 695l-2-5-4-3-3-3-3-5M299 767l-3-3-3-2-4-2-2-3M351 757l1-5 0-6 1-5-1-5M208 728l-1-6-3-6-3-6-3-5M547 652l0-5-1-4-2-4-3-3M107 751l-4-2-5-1-4-1-5-2M443 709l-2-5-1-6 0-5 0-6M274 659l0-2-2-3 0-2-1-2M391 762l2 3 3 3 3 3 2 4M324 686l2-5 3-4 4-4 4-4M351 672l-2-4-1-4-2-4-1-5M292 705l5 0 6-1 5 0 6 1M526 749l-4-5-4-5-6-4-5-5M285 764l3-4 2-5 1-5 1-5M446 748l-4-6-2-6-3-5-3-5M412 756l3-6 3-6 3-7 2-6M238 735l3-4 4-4 2-5 3-5M436 750l-3-2-3-1-4-1-3 0M492 758l2-3 0-4 2-4 2-3M395 712l3-1 4 0 3-1 3-2M287 722l3 0 3 0 2 0 3 1M143 732l2-2 2-1 1-2 2-1M278 656l2-3 3-2 3-3 3-2M177 745l6-2 6-2 5-3 5-4M294 663l1-1 2-1 2-2 1-1M467 654l-5-1-5-2-5-2-5-3M470 678l-1-4 0-4 0-4 1-4M149 663l-2-2-1-3 0-3 0-2M383 652l6-3 5-4 4-4 4-4M546 741l0-6-1-6-3-5-3-5M286 687l4-7 3-6 5-7 3-6M414 752l3-5 2-5 1-6 0-5M557 730l1-3 2-3 2-3 2-2M95 675l-4-3-3-4-3-4-4-4M352 662l-5 0-4 0-5 0-4-1M211 648l2-2 1-1 2-2 1-1M484 689l-6-5-6-4-7-3-7-2M531 684l-1 4 0 3-1 4-1 3M260 660l1-6 3-6 2-6 1-7M444 680l0-4 1-3 1-4 2-3M202 672l-2-4-3-4-4-3-3-3M213 697l3-5 1-5 2-6 0-6M452 737l-4-6-3-6-5-5-4-6M478 745l3-4 2-3 3-4 2-4M283 698l-6-4-4-6-5-6-4-6M491 765l5 1 3 2 4 3 3 2M350 657l1 4 2 3 1 4 1 4M306 745l-5-1-6-1-5 0-5 1M466 683l-4-3-4-4-4-4-5-4M190 653l0 7-3 6-3 5-3 6M214 732l-2-5-2-4-3-4-1-5M170 761l3-2 2-2 1-2 1-3M489 716l4-5 5-4 5-5 3-5M461 767l-1-6-1-6 0-7 1-6M460 742l-5-3-6-3-5-4-6-3M294 739l-2-3-1-2-2-2-2-2M320 728l0-2 0-3 0-2 0-3M125 716l-7-3-7-2-7-3-8-2M399 721l-2-2-2-2-3-1-2-2M436 716l-5-1-4 0-5 0-4 0M400 691l-4-6-5-5-4-6-4-6M217 650l0 7-3 6-3 6-3 6M270 728l-2-1-3-1-3-1-3-1M424 649l6-3 6-4 5-6 5-6M430 709l2-1 2-1 3-1 2 0M305 748l0-4-1-4 1-4-1-3M476 726l-2-4-3-3-1-4-2-4M509 700l0-4 0-3 0-3 1-3M507 659l-3-1-2-2-2-2-1-2M332 767l-1-6-1-6 0-6 1-6M225 752l3-4 3-4 5-4 4-3M148 684l-1-2-1-2-2-2-1-2M206 775l-2-3-1-3-2-4-1-3M474 762l5-1 5-1 4-2 5-2M511 648l-2-1-2 0-2-1-3 0M305 767l-3-6-3-6-2-6-1-7M323 669l1-2 0-2 1-2 0-2M149 647l-7 1-7 2-7 2-6 3M543 724l-4-2-4 0-5 0-4 0M424 735l-2-3-2-4 0-4-1-4M223 731l1-1 2-1 2-1 2-1M129 760l0 5 1 4 0 5-2 4M283 765l8-1 7 2 6 3 7 3M294 658l1 4 3 4 2 3 2 4M377 696l6 0 6-1 6-1 6 0M364 701l2-2 1-1 2-2 1-2M377 751l0-5-1-4 1-5 1-5M448 699l-3 3-3 4-2 5-1 5M271 675l3-7 3-7 2-7 1-7M96 687l-4 4-4 3-5 3-4 3M124 679l0 4 2 3 1 4 0 4M305 651l0-6 1-7-1-6 2-6M450 657l3-2 3-3 4-3 4-2M398 754l-2-1-2-2-2-1-2-2M121 663l2-5 0-4 1-5 1-5M128 714l0 4 0 4-1 3-1 4M529 706l-7 0-7-3-6-3-7-2M499 768l-3-1-2-1-2-1-2-1M562 763l3-7 1-8 2-7 1-8M137 712l-3-6-3-7-5-6-3-6M345 646l-1-3-2-2-2-2-1-3M363 754l-1-2-1-2-1-2-1-3M277 712l-4-3-3-3-3-3-3-4M265 759l-6-2-6 0-6-2-6-3M192 725l5-1 4-1 4 0 4 1M190 677l6 1 5 3 6 2 5 2M260 679l2-2 2-2 1-2 2-2M381 655l5-2 5-3 5-3 5-2M360 697l-3-3-2-3-2-4-2-3M554 670l-3 5-3 5-1 5-1 5M308 756l-3-2-3 0-2-1-3 0M156 695l-1-6-2-5-2-5-2-6M478 756l3-2 3-3 3-3 3-3M445 720l4 0 4 1 4 1 3 1M219 716l-5 0-5 0-5 0-5 0M358 654l-1-7-1-6-2-7-2-6M413 656l-2-4-2-3-3-2-3-3M121 748l0-3 0-3-1-3 0-4M527 742l3-4 4-3 3-3 2-4M464 763l4-6 3-6 1-6 0-7M458 717l-3-4-3-4-3-3-4-2M549 761l-2-3-2-4-2-4-1-3M323 694l2-6 2-7 3-6 1-7M235 768l3-1 4 0 3 0 4 0M278 710l4 0 4-1 4 0 3-1M347 761l5-1 4-2 4-1 5-1M264 694l-4 0-4 1-3 0-4 0M168 737l0-7 1-7 2-6 3-6M117 720l-1-3-1-3 0-3 0-3M141 662l-1-3 0-3 1-3 0-3M232 720l0-2 1-2 1-2 0-2M247 685l5 1 4 0 5 1 5-2M174 648l-1-2-2-2-1-2-1-2M375 735l5-4 4-5 4-4 5-2M187 693l-1-4-2-3-2-3-2-3M96 727l-7-3-7-2-7-1-7-2M323 715l-1-3-2-4-1-3-2-3M438 704l-6-2-5-3-5-4-5-3M407 727l6-2 6-2 7-2 6-2M498 671l-7-2-7-3-7-2-7 0M349 744l2-5 4-5 2-5 3-4M544 715l-5 1-5 2-5 1-6-1M418 748l-4 0-4 0-3-2-4-1M534 745l1-7 2-6 0-6 2-6M174 774l1-4 1-4 2-3 2-4M105 772l-2-4-1-5 0-5 0-4M155 726l4-6 4-7 4-6 3-7M125 706l5-3 6-3 5-2 6-2M196 738l-1-5 1-5 1-4 2-5M213 737l4-5 3-5 3-5 4-6M115 663l2 3 1 2 3 2 1 3M532 757l-5-4-3-5-4-6-2-6M244 728l3-4 3-4 3-4 3-3M492 753l3-5 1-6 3-5 4-5M413 667l3-1 2-1 2-1 3 0M420 666l-4 6-6 5-6 4-6 6M196 726l-6-1-6-1-6-1-5-2M542 683l5-4 4-3 4-4 4-4M91 769l2 2 2 2 2 1 2 1M91 763l2-4 2-4 2-4 3-4M304 694l4-5 4-4 3-5 4-5M435 680l-1-6 0-6-1-5-1-6M185 688l0-4-1-4-2-3-2-4M341 673l-3-2-2-3-4-2-3-1M259 669l3-5 3-5 3-5 2-5M275 661l0-4-1-3-3-3-1-3M383 681l2-4 2-2 2-4 2-3M115 679l-4-4-6-3-6-2-5-4M405 678l-2-2-3-2-2-2-3-2M461 763l-3-3-4-3-4-2-4-3M545 666l-7-4-7-3-7-4-7-4M176 733l-5 0-5-2-3-2-5-2M107 669l-6 2-7-1-6 2-7-1M151 657l2-3 3-2 4-2 3-1M165 707l-5-1-6-2-5-2-5-1M543 676l-1 3-2 2-2 2-2 2M530 758l2 6 1 6 3 6 3 5M229 778l-5-2-5-4-6-2-6-1M521 656l3-1 3-1 3-1 2-1M386 725l0-8-2-8-1-8-1-7M254 762l-5-2-4-4-4-4-3-5M409 764l-3-2-3-2-3-1-4 0M438 673l-4-5-3-6-2-5 0-7M424 757l-3-5-3-5-3-5-2-6M200 659l2-1 2-1 1-2 1-1M381 650l3 6 3 6 4 5 5 5M439 765l3-3 4-4 4-4 2-4M496 674l6-4 5-5 6-4 4-6M185 650l-2-3-2-3-2-4-2-3M292 715l2-4 2-3 3-3 1-3M420 729l5-5 4-4 4-6 5-4M427 656l4-4 4-3 5-4 3-4M367 676l4-6 4-5 5-4 4-5M484 759l2-2 1-2 0-3 1-3M191 740l-1-3-2-2-2-3-1-2M207 771l1-3 0-4-1-3 0-3M551 707l-1-4 0-5-2-5-2-4M158 662l-2-4-2-5-1-5-2-4M181 665l4-6 5-5 4-5 5-6M218 651l8-2 7 0 8 0 7-2M450 753l-4-1-4-1-4 1-4 0M229 749l0-4-1-4-1-5 0-4M104 744l-2-4-2-3-4-3-3-4M302 685l1-2 1-2 1-2 2-1M257 717l1-6-1-6 0-6-1-6M370 723l3 0 2 0 2 0 3-1M512 731l4 5 5 4 3 5 4 6M98 738l-3 0-2-1-2-2-3-1M451 666l1-3 0-4 0-4 0-4M459 652l1 5 1 5 2 4 3 5M451 660l2 6 4 6 4 6 3 6M475 689l-3 0-3 0-3 0-3 1M319 668l-3-5-2-5-4-4-4-3M434 712l-3-6-4-6-3-6-3-6M198 650l-2 0-1-1-2 0-2 0M169 754l-1-3 0-3-1-4-2-3M391 689l-6-2-5-4-6-4-6-3M96 766l-1-3-1-3-1-3 0-4M233 708l-2-2-1-3-2-2-2-2M441 689l-7-1-6-2-6-4-6-3M185 661l2-7 1-7 0-8 2-7M456 663l6-4 6-2 5-3 5-4M537 720l-5-5-5-5-5-5-6-4M144 749l7 1 7-1 6-2 7-1M264 702l-5 1-5 0-5-1-4-1M208 683l-6-2-6-1-6-1-6 0M244 687l-2-2-2-2-3-2-2-3M124 662l-3-6-5-5-5-5-5-5M134 751l-3-2-3-1-3-1-3 0M345 744l1-4 1-3 2-4 1-3M108 750l6 4 7 3 6 5 6 3M181 772l1-2 2-2 2-1 2-1M357 660l3-2 2-3 1-3 3-3M170 736l-2-2-1-3-2-2-3-2M521 694l0-6 1-7 2-6 4-6M281 681l5 0 5-1 4-2 3-4M490 688l-6 1-6 1-6 2-7 0M328 744l3-4 2-3 3-3 3-2M348 725l-2 1-1 2-2 1-2 1M301 760l6 0 7-3 6-4 5-4M400 654l3-4 3-5 3-4 4-4M341 665l0-6 2-4 2-5 2-5M291 765l-2-6-3-5-3-5-2-6M395 682l-7-2-6-4-6-2-7-3M518 748l2 1 3 1 2 2 2 2M429 766l0-6-2-6-2-5-2-6M269 673l2 0 2-1 2 0 2-1M350 743l6 5 7 3 6 5 5 5M198 666l-2-2-2-2-2-1-3-1M522 702l-2-5-2-4-2-5-1-4M557 742l-2-3-1-3-2-2-2-3M173 703l0-3 1-3-1-4 0-3M283 753l4 3 5 2 5 2 4 4M264 741l-2 6-3 7-3 6-3 6M324 660l-1-3-1-4-2-3-1-3M491 667l5-5 5-5 6-3 6-4M114 717l2-4 2-3 0-4 0-4M311 740l-2-5-2-5-2-5-1-5M500 653l-5-2-4-3-3-4-3-5M98 664l1 2 0 3-1 2 0 2M330 694l5-1 5 0 5-2 5-1M347 727l2-5 3-5 1-5 2-5M503 673l2-1 2-1 3-1 2-1M465 708l-6-4-6-5-5-5-6-5M510 739l-2-6-2-7-1-6-1-7M312 650l-7-3-7-2-8 0-7 1M522 739l-1-4-1-3-1-3-2-3M129 677l2-3 2-3 1-4 1-4M120 678l4-1 4-2 5-1 4-1M503 732l-2-4-1-4-2-5-3-4M210 765l-2-8-3-7-3-7-3-7M421 752l-3-2-3-1-3-1-4-1M150 758l5-5 5-6 5-6 4-6M335 662l2 7 2 7 1 7 2 6M265 718l-2-3-2-3-2-3-2-4M298 681l2-1 3-1 3 0 3 1M509 648l-3-6-2-7-3-6-1-7M463 707l3-4 4-4 3-5 4-4M352 767l-5-4-4-5-3-5-3-6M513 702l6-4 6-2 6-2 6-3M286 729l-2 0-3-1-3 0-2-1M261 659l3-5 4-4 3-4 4-5M522 689l-1 4 0 3-1 4-2 3M535 730l3 1 3 1 4 0 3 0M520 721l-3-5-1-6-1-5 1-6M405 706l4-6 6-4 6-5 5-6M560 748l-4-1-3-1-4-1-3-1M379 681l-3-7-1-8 1-7-1-8M204 667l7-2 6-4 5-5 5-5M490 736l6-2 7-1 6-3 7-1M195 723l3-2 4-1 3-2 3-2M458 702l-4-2-4 0-4-1-4 1M162 748l1-2 1-2 1-2 1-2M152 658l-1-4-1-4 0-4-2-4M132 675l0-4 0-3-1-3-1-4M294 673l-4-1-4-1-4-1-4-1M465 765l-1-5 0-5-1-5 1-5M351 697l-3-5-4-5-6-4-6-2M168 649l-4-2-4-2-3-3-3-2M369 756l4-4 5-4 5-4 4-4M120 698l-7-1-6-1-6 1-6-1M226 681l-5-4-5-5-5-6-4-6M210 759l3-4 3-4 3-4 2-5M93 730l3-6 3-6 4-6 5-5M210 745l0-4-1-4 0-4-1-4M289 762l3-3 4-4 4-3 4-3M216 735l5-3 6-4 5-2 5-4M101 760l1-2 2-1 2-1 2 0M555 677l-6-4-6-4-5-6-6-4M275 675l-3-3-3-2-3-2-3-2M227 680l0-3 1-3 0-3 1-2M345 646l-4-1-4-1-4 0-4 0M463 654l-1-7-2-7-2-7-3-7M294 744l-1-4-1-3-1-4-1-3M187 770l-6-4-6-3-6-3-6-2M441 657l4-3 3-4 3-4 2-5M205 697l1-5 0-5 1-5 0-5M198 665l-4-1-4 0-4 0-4-1M343 742l-1-3-1-3-1-3-1-3M212 687l0-5-1-5-1-4-1-5M560 675l2-3 1-3 1-2 1-3M521 737l2-8 0-7 0-8 2-7M191 767l-6-4-6-5-6-6-6-3M525 752l-4 0-4 0-5 0-4 0M240 676l3-4 1-5 1-5 3-5M553 720l-4-5-4-4-5-4-5-4M201 657l1 2 2 3 1 2 2 3M178 676l2-7 5-6 4-6 3-7M196 723l-6 0-5-2-6-1-5-3M199 740l0-8-1-7 0-8 2-8M294 758l-2-7-2-7 0-8-1-7M451 661l3-7 1-7 3-7 3-7M396 713l3 6 3 6 5 5 5 3M149 727l2-1 3-1 3-1 3-2M425 662l3-5 2-6 2-6 1-6M172 678l0-3-1-2 0-2-1-2M121 717l-3-1-3-1-3-1-3-1M240 757l-4-6-4-6-5-5-6-5M479 739l-2-6-2-5-3-5-3-5M181 660l7-4 7-2 8-2 7-1M221 689l1-3 1-2 0-3 1-3M291 686l2-5 2-5 1-5 0-6M367 713l0-5 0-5 0-5-1-5M516 657l-2-1-2-1-1-1-2-2M177 695l-4-3-4-3-4-4-3-4M235 652l-1-5 1-4-1-4 0-4M269 745l0-4 1-3 0-4 0-4M170 688l-3-4-2-4-3-4-2-4M422 765l-4-4-3-4-4-4-1-5M140 664l2-6 2-5 1-6 2-5M525 684l2 2 1 2 1 2 0 3M557 743l-4-5-3-7-3-6-3-6M346 758l-4-3-4-3-5-3-5-2M182 723l1 5 2 4 2 5 1 4M469 711l2-2 1-3 2-2 1-3M492 728l2-2 3-2 2-2 2-2M483 717l2-2 4-1 2-2 3-2M388 682l4-7 4-6 6-5 3-7M397 721l3-1 3-2 3-2 2-2M212 674l-2-1-2-1-2-1-1-1M367 727l-1-2-2-2-1-2-2-2M206 679l3-3 2-4 2-3 3-2M103 768l-7 1-7 0-7 0-7-2M522 665l-2-3-2-2-2-3-3-2M278 690l-5-5-5-6-3-8-4-6M333 697l5-2 5-2 4-2 5-1M172 735l4-4 3-6 4-5 6-4M376 656l5-2 5-2 6-2 5-2" stroke="#7b989b" stroke-width="0.85"/><g stroke="#7b989b" stroke-width="2.6"><path id="t38" d="M402 660l-1-5-3-3-2-4M360 701l0-4 1-3 2-2M532 746l-6-4-4-4-6-4M112 737l-5-3-5-2-5-4M379 720l-2-6 1-6-2-7M279 706l1-6 0-6 0-7M535 727l-1 3 0 2 0 3M533 649l0-3 0-4-1-3M419 687l0-6 2-5 2-6M156 726l2-6 4-5 4-4M242 766l-2-5-3-3-4-3M559 699l-1-5-3-3-3-3M475 733l7-3 8 0 7-1M311 675l-3-6 0-6-1-7M446 657l2-7 0-6 2-7M319 685l1-3 1-1 2-2M146 736l3-7 4-5 3-7M313 707l2-2 1-3 1-2M257 689l4-1 3-2 3-4M166 736l3-2 2-4 3-2M497 729l3-1 3 0 4 0M388 672l-2 5 0 6 1 5M395 723l4-1 4-3 5-2M109 703l-6-5-6-6-4-6M549 676l2 4 3 3 3 3M300 762l-3-6-3-6-1-6M265 752l-2-1-2-1-3 0M243 744l0-7 3-7 5-6M324 722l2-5-1-5 0-6M158 717l5 3 5 2 5 3M113 689l3-1 3-1 3-2M178 765l-6 0-6-2-5-4M497 721l-1-6-1-6-3-5M280 647l4 7 6 5 6 5M118 679l5-4 4-5 3-5M489 661l2-6 3-6 4-5M407 716l-4 4-4 5-4 4M318 687l-1-3 0-2 0-2M218 653l-5-2-5-2-6-1M94 688l2 1 3-1 2-1"/></g><use href="#t38" stroke="#fff" stroke-width="1.5"/><g stroke="#7b989b" stroke-width="2.6"><path id="t39" d="M341 711l-7-4-7-1-6-4M184 776l-1-4-3-2-1-3M175 656l-1-5 0-5-3-4M335 749l5-5 6-5 8-2M93 688l-5-1-5-1-4-4M448 689l4-7 6-6 4-6M105 650l1-4-1-4 1-4M386 724l5-4 7-2 7 0M312 761l1-4 1-3 3-3M434 666l-3-3-2-5-3-3M90 663l2-2 2-2 2-2M253 713l2 0 2-1 2 0M274 723l2-2 3-2 2-2M293 660l4-2 4-2 3-3M235 669l6 4 6 2 4 6M450 654l5-6 3-7 5-5M543 702l3 0 3 0 3 2M496 651l0-6-1-6 1-6M170 705l-7 3-6 3-7 2M270 682l-1-1-1-2-1-2M405 670l-1-3-3-2-1-3M385 751l2 0 3-1 3 0M172 742l2 1 3 1 2 0M429 766l3-4 3-3 3-4M161 691l-2-3-1-3-2-3M488 655l5-5 6-4 4-6M113 675l-2-2-1-2-2-1M514 738l-4-4-2-5-1-6M176 673l-1-2-1-3 0-4M89 776l-6-2-6 0-6 1M475 753l3-1 4-1 3-1M161 741l0-3 2-4 3-2M385 764l-4-3-4-3-5-3M510 715l1-5 4-4 4-3M167 696l-4 0-4 1-3 2M552 726l-3 6-4 5-5 4M462 724l-1-4-1-4-1-4M184 710l-3-5 0-6-2-6M479 764l0-5 3-4 1-5M545 659l-2-2-1-2-1-2"/></g><use href="#t39" stroke="#fff" stroke-width="1.5"/><g stroke="#7b989b" stroke-width="2.6"><path id="t40" d="M206 726l-1-2-1-2-2-1M149 741l-4-7-4-7-4-6M259 692l-3-3-3-3-3-3M439 726l-5-3-4-4-4-5M288 767l3-4 1-4 2-4M175 655l4 5 2 6 2 7M506 674l3 1 4 0 3-1M466 762l5-5 7-4 6-4M171 743l-4 0-4 0-5 0M127 646l0-2-1-3-1-2M272 762l3-4 3-3 3-4M384 717l-2-5-3-5-4-4M289 651l-3-2-2-2-1-3M316 720l6-1 7-1 5 3M478 697l-7 0-6 0-6 1M333 654l2-5 4-3 4-4M541 659l-4-5-1-6-3-6M247 664l3 0 3 0 3 1M496 684l0-5 1-4 2-4M481 665l-5-5-3-8-1-7M382 704l-1-7-3-8-5-6M334 750l-4-6-3-6-1-7M390 760l0-6 2-5 3-5M234 657l8 0 7 4 5 6M385 650l-2-4-2-4-2-5M550 720l5-2 4-4 4-2M354 679l3-1 1-3 1-2M239 655l-2-4-3-4-2-3M225 651l-2-3-1-3-1-3M325 688l5-6 6-5 8-1M224 656l-1-5-3-4-3-3M428 747l3 6 5 6 4 5M265 741l4-2 5-4 4-4M432 745l6 0 6-1 6 2M281 690l-5-2-4-2-4-3M412 743l-3-3-3-2-3-3M361 739l-2-1-2-2-2-2M194 704l-5 2-4-1-5 0M243 646l1-7-2-7-2-7M395 688l-6-4-5-5-6-3"/></g><use href="#t40" stroke="#fff" stroke-width="1.5"/><g stroke="#7b989b" stroke-width="2.6"><path id="t41" d="M148 683l-1-4-2-4-2-3M437 701l-4-6 0-7-2-7M451 733l-2-7-4-5-1-7M184 765l-1-4 0-4 0-4M252 651l0-6 1-7 1-6M403 687l0-5 0-5 2-4M276 670l2-5 2-5 2-5M485 731l0-3 1-4 1-3M90 685l3-6 5-5 2-6M494 655l-4-5-4-6-2-7M160 760l5-1 6-2 5-2M466 754l1-3 2-2 2-3M210 704l-6-5-4-6-8-3M369 723l-6-5-7-4-7-3M280 690l4 0 4-1 3-2M330 709l-1-4-2-3-3-2M207 735l6-1 5-1 6-1M164 670l-1-1-1-2-2-1M469 693l1-3 2-3 2-2M351 730l-2-6-3-5-3-5M109 710l-1-2-2-2 0-2M248 724l6-1 7-1 6 2M530 723l-1-3 1-4-1-3M371 679l-2 0-2 1-3 1M122 723l-5-4-5-4-7-1M317 681l3-7-1-8 0-7M97 737l3-3 1-5 2-4M457 648l7 3 7 0 8 0M265 730l0-6 2-6 1-6M432 716l4-5 3-4 4-4M546 747l-3-2-3-3-1-4M302 696l3 2 3 2 4 0M236 767l-1-3 0-3-2-2M514 722l5-3 7-2 6-1M286 725l2-1 1-2 1-1M307 700l-1-6 1-7-2-5M171 707l-4-3-2-3-2-5M131 674l0 5-1 6-1 5M496 732l-7 3-7 3-5 5M279 764l4 2 3 1 3 4"/></g><use href="#t41" stroke="#fff" stroke-width="1.5"/><g stroke="#7b989b" stroke-width="2.6"><path id="t42" d="M188 749l-5-5-3-7-5-6M166 661l5-5 3-6 3-7M410 705l6-3 5-3 7-2M480 748l2 2 2 2 1 2M476 726l0-3 1-2 0-3M110 702l3 0 3 0 2-1M553 741l1-4 2-4 3-2M427 699l2-3 1-4-1-4M287 694l0-5 2-5 3-4M107 735l-1-8 1-7 1-7M435 650l3-6 3-6 3-6M299 744l3-3 2-4 1-4M161 697l-1 6 1 6 3 5M120 664l-4-2-4-1-4-2M189 769l-5-2-5-1-5 0M287 747l5 0 5 1 5-1M418 725l4-1 2-2 2-2M561 685l1-5 3-3 4-2M280 691l1-2 1-3 2-2M450 750l-6 4-5 5-3 6M187 739l-5-3-5-3-4-5M246 758l2-2 0-3 1-2M295 740l5 4 5 3 6 2M107 658l-2-4-3-4-3-4M558 723l-2 2-1 2 0 2M138 742l0-3 2-3 2-1M490 695l-5-5-5-7-3-7M304 661l-7-3-5-5-8-3M408 713l-4-5-4-6-3-6M551 736l2-6 0-7 3-6M176 716l5 1 4-2 5 0M247 681l5-2 5-2 5-1M508 700l-1-5-4-4-5-2M152 681l0-5 0-4 1-5M388 749l-1-6-3-4-4-5M138 665l-2 5 0 5-1 5M200 725l3-4 4-2 4-2M553 664l5-1 5-1 5 1M350 748l-3-2-4-1-3 1M272 709l-2-7 1-7 2-7"/></g><use href="#t42" stroke="#fff" stroke-width="1.5"/><g stroke="#7b989b" stroke-width="2.6"><path id="t43" d="M365 734l4-5 2-5 3-6M499 708l-5 4-5 4-6 2M297 740l3-4 1-4 3-4M346 747l-3-7-4-6-3-6M475 672l-1-3-1-2-1-2M340 744l2-1 1-2 1-2M387 667l5-6 6-4 4-6M181 728l4 0 4 1 3 2M471 749l-2-3 0-3-1-3M522 766l-3-1-3-3-2-3M441 676l1-4 2-4 0-5M160 753l0-4 1-4 0-4M474 709l-2-6-5-5-2-7M259 663l2-3 1-2 0-3M526 711l-1-7-3-6-2-7M268 744l-2-1-2-1-2-1M246 718l-4 0-3 2-4 0M213 702l3-4 0-5 2-5M446 759l1 4 2 5 0 5M541 702l3-2 4-1 4 0M333 704l-2-3-2-2-3-3M320 702l1-6 2-6 2-6M481 758l-2 4-2 3-3 2M500 696l-3-5-1-5-2-6M398 675l-2-5-1-6 1-5M305 684l5-4 3-4 4-4M271 720l0-2 1-2 1-2M138 653l1-3-1-3-2-3M431 710l-2-4-4-2-4-3M171 742l-3-4-5-3-5-3M161 667l-2-5-1-5-2-5M124 737l5-1 4-2 3-3M545 680l6 0 6 0 6 3M431 745l-4 0-5 0-4 3M513 751l5-5 4-6 5-5M232 666l-3-2-3-2-2-2M165 709l-2-7 1-8 4-7M556 700l1-2 1-2 2-1M229 652l0-3 0-2 0-2M319 763l3 1 2 0 3 1"/></g><use href="#t43" stroke="#fff" stroke-width="1.5"/><g stroke="#7b989b" stroke-width="2.6"><path id="t44" d="M465 700l-1-2-2-2-1-2M514 742l-3 1-3 0-3 1M115 654l-6-1-5-2-4-4M430 674l-2-1-4-2-3-1M319 653l0-6 2-6-2-6M405 764l3-2 4 0 3-2M560 692l3-3 1-4 0-4M238 741l-2-3-2-3-3-3M177 694l2-2 0-3 0-2M122 767l4-4 2-4 1-5M363 686l4-2 3-3 3-1M207 658l3-5 4-6 6-3M300 707l1-2 1-3 1-2M269 647l0-5 2-4 3-4M462 675l6 2 7 0 6-4M512 749l0-7-1-6 2-7M111 662l2-1 1-1 2-2M258 763l1-7 3-5 2-6M299 658l1-2 1-2 3-1M353 682l-5-6-6-4-7-3M551 698l0-4 0-3-2-4M183 749l-3-7-1-7-5-5M282 711l-3-4-1-4 1-5M119 700l-4-4-4-5-3-6M413 715l-6-5-3-6-2-7M238 653l3-3 3-3 2-4M347 654l-4 0-5-1-5-1M381 723l-3-4-2-5-3-5M439 757l-5 2-4 4-3 3M128 685l3 3 4 3 2 4M426 744l3-2 4-1 4-1M390 657l0-8-2-6-4-6M506 738l-1-7-4-5-4-5M206 740l5-3 4-3 4-4M124 692l4-4 4-2 6 0M371 739l0-3-1-3 1-2M392 691l-2 1-3 1-2 0M397 696l-1-7-3-7-1-7M101 739l-5-6-5-6-3-6M124 677l-2-3-3-1-3 0"/></g><use href="#t44" stroke="#fff" stroke-width="1.5"/><g stroke="#7b989b" stroke-width="2.6"><path id="t45" d="M185 653l-3-3-4-3-2-5M236 690l3-2 2-2 1-3M139 660l-1-5-3-5-3-5M349 738l1-3 1-2 1-3M281 665l3-5 4-3 4-5M231 725l3-3 3-2 4-2M212 687l-6-6-6-5-5-6M396 756l-3-2-3-2-4-1M320 692l-3-5-3-6-4-4M213 675l4-6 3-7-1-8M497 678l0-7 1-8 3-8M164 758l-6 4-6 2-7 2M237 664l2-5 1-5 0-5M132 749l-1-5 0-5-2-4M472 649l0 5 1 5 1 5M243 708l-7-3-6-6-6-4M230 766l0-2 1-2 0-2M463 736l-5 1-6-1-5-1M407 676l-2-1-1-2-1-2M222 656l3-2 4-1 3-1M251 669l-2-8-1-8-3-7M148 717l-3-7-7-4-4-7M354 681l3-7 4-7 5-6M157 700l0-4 1-4 0-4M298 721l-3-4-1-4-3-3M342 662l3-4 5-3 5-3M157 716l4 6 5 4 7 2M382 666l2 0 1-2 2 0M141 748l2-2 3-1 3-1M347 673l-2-4 1-5 1-4M527 691l3 0 3 1 2 2M309 696l2-6 4-5 4-6M412 720l1-2 3-2 2-2M537 658l-5-1-4-1-4-3M274 648l-2-3 0-3 1-4M393 745l0-4 1-3-1-3M406 726l3-1 2-1 3-2M278 675l-5-4-5-1-6-2M556 701l-7 0-8-2-6-4M403 665l-4-6-6-5-6-5"/></g><use href="#t45" stroke="#fff" stroke-width="1.5"/><g stroke="#7b989b" stroke-width="2.6"><path id="t46" d="M242 728l-2-4-3-4-2-4M331 739l5 0 4 0 4 1M324 672l2-5 4-5 2-5M99 720l-4-4-3-4-5-4M541 660l5 5 4 6 1 6M271 649l-5-2-5-5-4-3M522 753l6-3 6-3 7-1M535 746l2-4 2-5 1-6M291 659l-6-3-5-4-4-5M534 727l1-4 1-4 2-3M488 688l2-6-1-6 0-6M246 753l-5-2-5-2-5 0M357 735l3-6 3-6 2-6M528 723l-1-2-1-3 0-3M306 692l4 0 4 1 4 0M351 737l7 3 6 4 7 4M301 663l-4-7-5-4-8-3M562 693l-3-2-3-1-3-1M507 753l1 4 1 3 2 3M309 694l-4-1-5 0-3 2M456 682l-1 7 0 7 0 6M527 717l3-3 3-4 1-5M105 648l2-7-1-7 1-6M347 676l2-4 0-5-1-5M224 685l-2-5-4-4-5-1M552 721l5-3 4-3 4-4M115 729l0-3 2-3 2-2M503 697l3-6 6-5 5-4M421 713l-5-2-5 0-5 0M295 678l3 5 2 5 2 4M280 653l-3-5-5-3-6-1M199 727l5 1 5 3 5 0M204 703l6-6 3-7 3-7M182 713l-5-6-3-7-5-5M396 741l-1-7-2-6-4-5M128 709l4-6 3-6 3-7M170 687l-2 4-3 3-1 5M334 743l0 5 0 6 2 6M294 666l-5-1-3-1-3-3M136 657l-1-6-4-3-6-2"/></g><use href="#t46" stroke="#fff" stroke-width="1.5"/><g stroke="#7b989b" stroke-width="2.6"><path id="t47" d="M108 695l-5-5-2-7-4-7M518 751l-3 0-2 0-2-1M193 699l2-1 1-3 1-2M413 647l0-3 0-2-2-3M235 698l-3-2-3-2-3-2M309 727l0-8 0-7-1-7M157 730l-2-5-3-4-4-4M420 692l1-4 0-3 2-3M418 742l1-4-1-4 1-4M458 728l1-7 0-7-1-7M337 725l2-5 4-4 3-5M251 693l-2-3-2-4-3-2M295 763l-2-4 1-4-2-4M194 703l-2-4-3-5-4-3M367 755l-3-1-2-3-3-2M388 751l-4-2-2-3-3-3M388 761l2-5 2-5 1-5M470 753l0-6 0-5-1-6M314 752l-3-2-3-3-4-1M383 661l-5-1-5-1-5-1M184 759l-3-4-1-4-2-3M222 756l-1-7 1-8 0-7M280 675l7 5 5 5 2 8M235 713l-2-1-3-1-2 0M336 703l-2-5-2-5-1-5M129 720l-2-2-1-2-2-2M422 651l1-5 1-5 2-5M328 718l-4-5-5-4-3-5M343 688l0-3 0-4-1-3M472 746l-7 2-6 5-4 6M288 704l-5-5-4-6-5-5M404 685l0 6-2 6-4 4M117 773l-3-3-4-1-5 0M232 714l1-3 0-3 1-3M135 723l2-2 2-2 2-3M514 721l2 2 1 1 3 2M177 646l5-1 4-2 5-3M439 650l-1-4 1-4 0-5M264 711l-1-4-2-4-1-3M441 736l0 8-2 7 0 8"/></g><use href="#t47" stroke="#fff" stroke-width="1.5"/><g stroke="#7b989b" stroke-width="2.6"><path id="t48" d="M291 648l4-6 7-4 7-4M554 659l-4-5-3-6-1-7M344 677l5-2 5-2 2-5M421 667l6-3 4-5 4-4M89 714l-2-2-1-2-2-2M281 714l-3 1-4 2-3 2M196 740l-4-1-4-2-4 0M104 692l2-2 0-3 2-3M548 712l0-4 0-4 0-4M185 732l0-6 3-5 4-4M546 684l1-6-1-5 0-5M285 686l-1-6 1-6 2-6M199 655l-3-2-2-3 0-4M232 721l0-2 0-2-1-2M531 741l-1-7 0-8-1-8M302 671l-3-4-4-4-3-3M185 711l-4-5-4-5-3-5M399 713l5-1 6 0 5 3M466 733l-4-2-5-2-5-2M557 733l-5-2-4-5-1-5M171 749l-2-7 1-7-2-8M335 740l4-5 1-7 1-7M130 654l-3-6 1-8 0-7M184 738l-7-1-7-3-7-1M358 694l1-4 2-4 0-5M383 648l2-7 1-7-2-7M518 721l2-5 0-5-3-5M530 665l-3 1-2-1-3 0M358 656l0-3 0-3 1-4M187 655l3-4 4-4 4-4M436 739l4-5 1-5 2-5M229 722l-8-3-6-5-7-4M521 683l7-1 7-2 6-3M232 663l-4-1-5 1-5 1M300 648l0-3 0-2 2-2M121 685l-4-3-4-4-3-5M502 755l6 2 5 4 6 4M143 766l0-7-1-7-4-6M183 675l2-8 1-7-3-8M338 690l5-5 4-6 7-4"/></g><use href="#t48" stroke="#fff" stroke-width="1.5"/><g stroke="#7b989b" stroke-width="2.6"><path id="t49" d="M240 752l2-5 0-5-1-4M264 728l5-4 7-1 7-2M396 680l3-2 3 0 2 1M450 683l3-3 2-3 1-3M207 730l-2-8-5-5-6-6M489 724l-1-2 0-2 1-2M177 753l-2-3-4-3-2-4M496 675l-2-1-2-1-1-1M172 649l0-6 3-5 3-5M417 754l4-7 5-5 4-7M215 775l-6-4-6 0-6-4M321 727l6-2 6 0 6-3M450 699l0-2-1-3 0-3M93 666l-3-5-4-5-4-5M306 671l2-1 2-1 2 0M472 722l6 6 7 2 7 5M359 671l-2-5-4-3-2-4M138 692l-6-5-7-3-6-6M370 718l4-1 3 1 3 0M92 727l1-2 0-2 1-2M453 647l4-2 1-4 3-3M304 748l-2-7-6-5-6-3M164 735l-5-5-4-5-5-5M404 689l1-2 3-2 2-2M482 658l7-2 8-2 8 0M391 729l1-6 4-5 4-4M391 690l2-5 3-5 1-6M487 713l5-4 6-2 7-1M437 647l5-3 5-3 4-3M215 773l5-5 2-6 3-7M91 738l-4 0-4-1-4 0M165 647l1-2 0-3 0-2M194 717l4-5 1-7 4-5M263 702l-6-3-3-6-6-3M443 753l-5 0-4 2-4 0M443 692l3-4 4-2 5 0M206 757l-3-1-2-1-3-1M379 665l1-6 2-6 3-5M521 654l2-2 1-1 2-1M348 686l-6-4-5-4-5-5"/></g><use href="#t49" stroke="#fff" stroke-width="1.5"/><g stroke="#7b989b" stroke-width="2.6"><path id="t50" d="M375 653l1-4 2-5 3-3M98 676l4-6 1-8-2-8M548 710l-2-3-4-2-4-1M110 711l-5-4-5-3-6-2M452 744l5-3 6-3 6-2M185 721l-3-3-2-4-4-2M181 722l-1-7 0-7 0-7M238 663l5-1 6 0 5-2M421 701l-4-5-5-3-5-2M100 777l1-8 1-7 0-8M115 772l2-1 3-2 2 0M281 725l1-2 0-2 0-2M241 684l0-3-1-2-2-2M227 725l-2-4-2-4-2-3M543 688l0-4-2-5-1-5M455 723l-8-3-8 0-7-3M187 767l-5-4-4-5-2-6M176 662l2-3 1-4 3-3M513 672l7-2 8 1 8-3M371 685l-6-1-5-2-6-1M320 695l-3-4-3-2-5-1M458 719l4-2 4-3 4-1M120 745l-1-3-1-4-2-3M366 685l-6-1-6-2-6-1M232 738l-2-1-1-3-2-2M433 690l2-3 3-3 4-1M310 677l-1-2-2-3-2-2M442 662l1-4 3-4 2-5M489 682l6 1 6 3 5 3M223 695l3-6 6-5 3-6M368 727l1 3 0 4-2 3M202 765l2-6 0-6 0-6M140 667l-3 6-2 7-2 6M449 710l-2-6-3-4-2-6M109 654l5 1 4 2 6-1M262 685l-4-2-2-4-3-2M557 664l-5-5-7-3-7-2M301 651l4-3 4-3 4-3M458 712l-4-4-1-5-3-4M516 756l1-8 3-7 3-7"/></g><use href="#t50" stroke="#fff" stroke-width="1.5"/><g stroke="#7b989b" stroke-width="2.6"><path id="t51" d="M236 685l-1-6-2-5-1-6M355 698l0-6-3-6-2-6M345 673l-2-6-3-7-4-5M321 696l1-2 1-2 0-2M306 756l0-3 0-3 0-2M329 719l-6-2-7-2-7 1M373 673l2-1 1-2 1-2M138 769l0-5-1-5-3-4M482 766l1 1 2 1 2 1M438 711l5 0 5 2 4 3M445 670l-2-2 0-2-2-2M404 766l-5-4-6-3-6-4M103 705l-2-2-1-2 0-2M193 647l5-4 5-5 1-7M119 669l-2-7-2-7-1-7M234 714l-3-5-3-6-4-4M183 678l-2-7-2-6-2-7M187 762l3-5 3-4 2-5M491 677l-6 0-6-2-6 0M439 696l-2-5-2-5 0-6M541 755l2-6 2-5 4-4M373 754l-2-2-2-2-1-3M529 691l-4-1-4-1-3-2M149 657l6-3 6-3 6-3M363 714l3-5 1-4 3-4M468 754l-6-1-6 0-6 1M505 669l4-3 2-3 1-5M375 757l-5 1-5-1-4-2M543 743l5-5 3-6 5-5M224 701l-5 0-5-1-5-1M362 711l3-5 4-5 3-5M217 706l1-6 2-6 4-5M168 763l2-4 4-4 1-4M433 724l-5-3-5-1-5 0M151 687l-1-7-1-6 1-7M309 651l6-2 5-3 5-3M322 651l2-2 3-2 3-1M539 681l1-3-1-2 0-2M347 688l-3 0-3 1-3 0M543 681l1-3 0-4 0-4"/></g><use href="#t51" stroke="#fff" stroke-width="1.5"/><g stroke="#7b989b" stroke-width="2.6"><path id="t52" d="M249 684l-2-2-2-1-1-1M201 665l2 2 2 1 2 1M191 648l7-3 5-6 4-6M370 720l4 1 5 0 3 2M181 720l-5-5-6-3-6-4M218 744l-4 6-3 6-4 6M366 762l0-4 0-3 0-3M162 766l5-4 5-4 5-5M196 777l2-1 2-1 2 1M442 745l6-5 8-1 7-2M340 711l6-2 5-4 6-2M352 715l0-6 2-6 4-5M407 743l-3-3-3-2-4-2M112 745l-2-2-2-2-2-2M441 728l-2-1-2-1-2-1M453 698l-4-5-2-7-4-6M370 663l3 0 2-1 2-2M396 674l1-4 0-4 1-4M389 648l3-2 2-3 1-3M439 704l-4-3-4-2-3-3M187 711l8-2 7-4 5-6M129 690l6 0 5-2 4-4M560 654l-1-2 0-2-1-3M287 663l7-1 7-1 7 1M481 673l2-2 2-2 1-2M194 654l0 6 0 5 0 5M460 683l-2-4-3-4-2-5M463 670l0-8-3-7-3-7M142 665l-6-3-8-2-7-1M338 690l1-6-1-7 1-6M336 671l-1-4-1-5-4-4M434 650l-4-2-4-2-5 1M420 733l0-6-3-5 0-6M153 704l2-1 2-2 2-1M228 724l-2-2-2-2-2-1M377 712l-1-2-1-2 0-2M515 731l3-6 4-4 5-4M189 676l-1-6-2-5-1-5M218 741l-4 5-3 6-5 4M402 741l4-7 2-8 0-8"/></g><use href="#t52" stroke="#fff" stroke-width="1.5"/><g stroke="#7b989b" stroke-width="2.6"><path id="t53" d="M322 677l1 1 2 1 2 2M110 652l3 1 3 0 3-1M148 697l2-3 4-3 4-1M132 748l-1-4 1-4 2-3M145 655l6-1 6-2 6 2M188 669l6-4 4-6 6-4M519 682l2-4 3-4 1-4M415 729l-1-4-2-4-2-4M403 680l-1-7-2-5 0-7M506 724l-6-3-5-5-2-6M107 713l-5 2-4 3-4 3M549 717l-2-2-2-3-1-2M229 687l3-7 6-5 4-6M401 688l-3-2-3-2-1-3M244 740l3-5 6-4 5-3M527 731l5-5 2-6-1-7M178 690l-5-5-6-3-3-6M302 703l0-3-2-3-2-3M151 685l-2 0-2-1-2 0M467 760l3-1 2-1 2-2M536 722l1-3 3-1 2-2M375 763l3-2 4 0 4-1M388 659l-8-1-7 2-8 0M480 753l3-5 4-4 1-6M527 646l0-3 0-4 2-3M433 655l6-4 8 0 7 0M499 667l2-7 3-6 5-5M134 703l1-4 1-4 1-5M491 692l-5 0-4 3-5 2M117 659l2-4 1-4 3-3M169 664l-5-4-2-6-1-6M453 678l1-3 2-3 1-4M197 750l-1-4 1-3 1-3M289 703l7-4 6-5 7-3M348 713l-1 3-2 3-1 3M150 735l0-7-2-7 0-7M350 652l5 2 4 2 4 3M514 698l3-5 6-3 5-4M339 659l3-8 0-7-2-8M176 714l-4-4-5-3-5-1"/></g><use href="#t53" stroke="#fff" stroke-width="1.5"/><g stroke="#7b989b" stroke-width="2.6"><path id="t54" d="M259 757l-3-2-3-2-4-2M531 655l7-3 8 0 8-1M191 691l3 0 4 1 2 3M454 706l2 0 2 0 2 0M466 765l0 6-1 7 2 7M466 654l7 4 7 3 7 4M138 668l-4-4-4-3-5-3M492 744l5 0 4-1 4 0M216 740l-3-4-1-4-2-4M92 769l1-4 2-4 2-3M514 710l3-2 2-4 1-4M133 708l0-6 1-5 1-6M280 659l-1-2-1-2-1-3M117 700l-6-4-6-4-7-2M124 771l-3-3-4-2-4 1M222 759l-3 1-1 1-2 1M461 705l2-1 3-2 1-2M496 652l-6-3-7-3-5-5M217 734l6 0 5 2 6 0M496 674l-5-5-6-3-7-2M405 698l-2 3-2 2-2 3M110 662l-3-2-2-3-3-2M286 700l3-1 2 0 3 1M497 691l1-1 0-3 0-2M343 750l1-4 1-4 0-4M497 758l-3-6-2-7-1-7M275 765l3 1 3 1 3 0M537 692l-7-4-7-1-7-4M400 702l-2-2-2-2-1-2M190 728l-1-5-1-6-2-5M167 722l-2-3-2-3-3-3M407 653l-8 0-7-2-7-1M497 653l-2-6-4-4-4-4M302 761l-2-2-3-1-1-3M283 756l0-3-1-3-2-3M384 750l-5-2-2-3-2-5M202 654l7-3 7 0 7 0M210 697l-4 0-4-1-3 1M414 660l-2-3-1-3-3-2M546 693l3-4 2-6 0-5"/></g><use href="#t54" stroke="#fff" stroke-width="1.5"/><g stroke="#7b989b" stroke-width="2.6"><path id="t55" d="M513 667l-1-8-3-7-1-7M325 764l-1-5-2-5-5-4M213 706l3-1 3-1 2-1M406 666l0-4-1-3 1-3M225 684l-3-3-3-3-1-5M407 698l-4-2-3-4-4-3M407 691l3-1 2 0 2 1M283 693l0-2 1-2-1-2M116 746l3-4 1-4 2-4M400 689l5-4 3-6 2-7M413 742l-2-7-2-8-1-7M511 765l4 6 1 6 3 6M509 674l-1-3-1-2-1-3M107 732l0-4-2-4-3-4M166 773l6 1 7 2 6 0M426 712l-5-4-5-1-5 1M439 668l2-2 3-1 2-1M160 702l2-6 2-5 0-6M538 716l0-5 2-4 1-4M346 675l5 0 5-3 4-1M352 676l3-3 1-3 0-4M234 656l-7 0-8 0-7 3M331 730l3 0 2-1 3 0M308 752l4 5 3 5 0 7M116 656l2 1 0 2 0 2M201 696l1-7 1-6 3-6M378 725l1-4-1-5-2-4M550 665l4-3 4-2 5-2M387 707l2-3 2-3 3-2M482 693l4-1 3-2 3-2M529 686l0-4 0-4 2-4M435 649l3 6 4 6 3 6M517 659l-2 0-2 1-2 2M511 674l-1-3-2-2-2-1M502 753l2-6 2-6-1-6M173 738l2-3 2-2 1-3M364 702l-2 0-3 1-2 1M385 668l5-6 2-7 2-7M304 661l6-5 3-7 1-7M309 684l3-2 2-2 3-2"/></g><use href="#t55" stroke="#fff" stroke-width="1.5"/><g stroke="#7b989b" stroke-width="2.6"><path id="t56" d="M398 741l-4 5-3 6-2 6M362 677l5-5 4-6 3-7M559 706l-1-2-1-2-1-2M329 690l4-6 3-6 3-7M220 648l2-3 1-2 2-3M455 663l1-7 1-7-2-7M463 647l-3 1-3 1-3 1M244 662l-3-6-4-5-3-6M229 767l-4 0-3 0-4 0M160 649l2-2 1-3 2-1M340 766l4 4 4 2 4 3M348 700l2-7 2-6 5-5M370 670l-4 0-3-3-4 0M162 728l-1-3 0-5 1-4M395 712l-6-2-6-2-6-1M159 759l-2-1-3 1-2 1M327 737l4-6 5-4 6-2M526 754l-3-5-4-4-5-4M500 761l-2-5-3-5-2-6M445 684l0-3 0-2 0-3M363 686l-5-7-5-6-7-4M556 738l-2-2-3-2-2-2M551 749l-1-2-1-3-1-2M269 667l-4-4-5-2-4-2M277 744l-5-4-2-6-1-6M299 765l-2-4-4-4-1-4M197 760l-3-5-3-6-4-4M108 658l-2 2-1 3-3 2M559 678l-6-1-7-1-6 2M305 711l1-3 2-4 2-3M436 696l6 0 7 1 7-1M277 759l-1-3-1-2-2-3M449 662l1-6-2-5-3-5M235 742l3-1 2 1 2 0M355 703l3-6 5-5 3-6M124 772l-5 5-6 2-5 4M106 763l1-2 0-2-1-2M338 708l1-1 1-2 2-2M215 724l-2 6-2 5-3 6M190 661l-6-4-7-3-7-3"/></g><use href="#t56" stroke="#fff" stroke-width="1.5"/><g stroke="#7b989b" stroke-width="2.6"><path id="t57" d="M497 743l1-5-1-5-1-5M494 730l-5-5-3-5-1-7M348 723l2-2 2-1 2 0M401 735l3 0 3-2 2-2M102 673l-2-5 0-6 0-5M286 727l2-6-1-6-1-6M135 776l4-5 6-3 7-3M116 651l2 0 2 0 2 1M376 680l-5 1-4 0-4-2M173 729l0-5-2-5 1-5M331 708l-1-4 0-5 0-5M280 655l-6-3-6-4-4-6M453 723l-5-3-4-3-5-3M542 694l3-5 4-5 3-4M457 710l-1-3 1-3 2-3M253 698l-4 0-3-1-3-2M401 666l-2-4 1-5-1-4M499 649l1-2 2-2 1-2M92 707l2-3 2-3 3-2M180 774l4-4 3-5 2-6M394 706l-1 3-1 3-2 3M553 753l-2-8-1-7-2-8M286 666l-3-2-3-2-4-1M445 659l-3-5-1-5-3-4M373 716l3-4 2-4 3-4M451 697l-4-6-4-4-6-3M353 746l6-4 4-7 2-7M540 752l5-5 5-3 4-6M343 746l7 4 6 4 4 7M402 711l4-4 5-3 5-4M198 652l0-6-2-4-1-6M514 752l6-2 4-3 6 0M193 748l-2 3-2 2-3 2M262 750l-2 7-3 7-4 7M410 718l5-1 5-2 4-4M473 682l0-5 2-4 1-5M311 739l-3-4-4-2-3-4M249 725l-1-5-1-5 1-5M523 759l1-5-2-5-3-4M411 733l-5-1-4-1-4-2"/></g><use href="#t57" stroke="#fff" stroke-width="1.5"/><g stroke="#7b989b" stroke-width="2.6"><path id="t58" d="M353 678l-3 1-4 0-4 1M509 763l5-3 4-5 2-6M334 646l1-4 3-3 2-3M538 746l1-7-2-7-4-6M117 722l2 0 3 0 3-2M121 700l1-2 2-3 0-3M218 737l-2 5 1 5 2 4M538 696l4 0 3 2 5 0M513 746l2-6-1-6 3-5M361 716l-1-2 0-3-1-3M454 745l6-4 6-4 7 0M142 651l-4-6-4-7-4-7M479 664l1-6-2-5-2-6M386 680l-7-3-6-2-7-3M497 768l7 0 7-2 6-3M263 760l-3 0-3-1-3-2M131 694l0-2 0-2 0-3M117 661l-4 0-3 1-4-1M153 696l8 1 7 1 7 4M534 670l1-2 1-2 1-2M106 668l-2-3-2-2-2-3M314 689l1-6 2-5 0-6M131 765l-1-6-2-6-4-6M144 680l-3-4-3-4-2-5M126 685l-1-2-3-1-2-1M314 674l3-5 6-2 6-2M442 753l-2-3-1-2-2-4M430 702l7-2 5-5 5-7M264 763l2-4 3-2 3-3M315 672l0 7-2 7-3 6M247 665l3 4 2 5-1 5M141 691l1-3-1-3 0-2M144 741l-2-1-2-2-3 0M114 728l-1-6-1-6 1-7M231 712l6-5 6-5 6-4M388 710l-7 1-7 3-7 1M246 749l6-4 5-4 7-2M373 716l4-6 4-5 4-4M221 649l-2-5 0-5 2-5M201 750l-8-2-7-2-7-2"/></g><use href="#t58" stroke="#fff" stroke-width="1.5"/><g stroke="#7b989b" stroke-width="2.6"><path id="t59" d="M307 669l3-1 2-2 2-3M132 720l-3-6-3-7-1-6M279 697l6 3 5 5 6 1M460 715l3-5 2-6 5-3M456 723l-1-3 0-4 0-4M119 747l-1-7 3-7 1-7M201 667l-3-1-3-2-4-1M556 716l-5-5-4-6-6-4M389 715l2-7 5-5 6-5M297 689l-1 4-1 3 1 3M448 691l-1-5-2-5 1-5M369 763l-6-3-5-5-5-5M150 663l4-6 5-5 4-6M106 770l-6-4-5-3-7-1M197 712l-5 0-4 0-5 1M268 674l-6-2-7 1-6 3M228 710l1-3 2-4 1-4M553 742l0-2 0-2-1-2M199 701l-3-3-4-1-3-2M281 672l1-7-2-7-2-7M402 706l1-1 2-1 2-1M208 693l-4-1-3-2-3-3M498 701l-5-1-4 2-4 1M95 704l5-3 3-4 4-4M539 758l-3-2-3 0-3 0M218 763l-1-3-2-2-2-2M385 748l-3-1-3-1-3 0M359 718l-6-3-5-6-6-3M476 681l2-2 1-2 2-2M351 745l-1-1-2-1-1-1M178 674l-3-2-4-2-3-3M123 678l1-4 0-5-1-5M343 744l2-2 1-2 1-2M117 693l2-3 2-3 2-3M536 707l-2-5-2-4-3-4M478 660l5-1 5 0 4-1M198 658l-3-3-4-3-3-4M292 681l2-2 1-2 1-2M212 734l-1-2-1-2 0-3M118 669l-2 0-2-1-1-2"/></g><use href="#t59" stroke="#fff" stroke-width="1.5"/><g stroke="#7b989b" stroke-width="2.6"><path id="t60" d="M100 687l0-2 0-2 0-3M318 657l6 1 5-2 6-1M406 668l1-3 0-3 0-3M273 698l-4-2-4-2-3-3M296 688l4-3 4-5 4-4M196 665l5-3 4-5 3-5M554 653l-3-7-2-7-5-6M312 656l-3-5-4-5-5-4M224 648l2-3 2-3 3-3M167 689l1-7 1-7-2-7M274 739l4-6 2-6 4-5M530 717l5-3 6-2 6-2M408 744l-8 0-7-3-5-6M156 696l2-8 3-7 4-7M287 648l0-3-1-3 1-3M100 734l-3-3-3-1-4-1M210 775l2-7 0-7-3-6M90 677l-3 2-1 3-3 3M258 750l-6-5-6-3-5-5M205 697l3-2 4-1 4-2M426 752l4 0 4-2 3-1M453 760l8-1 8 1 8-1M105 685l1-5 2-4 0-5M138 723l1-8 0-7 3-7M522 693l0-5 0-5-3-5M168 735l6-5 5-6 4-6M150 723l-3-4-2-6-1-6M256 745l-4 5-5 4-3 5M244 651l-2-2-2-2-2-3M302 684l2-5 0-4-2-4M446 703l0-5 0-4-1-5M248 699l3-5 6-4 6-1M476 660l1-3 0-4 1-3M214 688l0-5-3-4-4-3M526 758l-2-4 0-4 0-4M386 699l3-4 5-2 5-2M134 743l1-6 4-5 6-3M175 663l-2 0-2 0-2 0M482 691l-4 0-3 1-3 2M536 753l7-3 8-2 7-3"/></g><use href="#t60" stroke="#fff" stroke-width="1.5"/><g stroke="#7b989b" stroke-width="2.6"><path id="t61" d="M483 725l4-1 4-2 4-2M256 695l-1-3 0-3-1-4M248 740l-1-3-1-2-1-3M111 715l-3-1-2-1-3-2M193 667l5-2 7-2 6 1M522 660l-2 5-1 5 1 5M93 695l-3-3-5-2-3-3M199 691l5-5 7-3 8 0M553 675l-6-4-4-7-4-6M388 659l6-3 4-5 4-6M104 686l5 0 5 0 4-2M158 703l2-4 0-4 1-4M481 717l6-5 4-6 2-7M219 762l-1-4-2-4-1-5M397 689l-2-1-2 0-2-2M400 755l2-3 2-4 0-4M442 706l1-4 3-4 2-3M376 651l5-4 6-3 5-5M196 723l-4-2-3-2-3-3M95 674l-5-5-4-6-3-6M90 776l-4-5-4-5-5-4M209 775l-2-4-1-4-1-4M369 698l1-5 1-5 2-5M107 646l5-4 5-4 6-3M133 678l3 3 4 2 5-1M125 660l1 6 1 5-1 6M225 661l-6-1-5 1-6-2M478 762l-5-5-5-6-3-7M465 692l5-1 4-1 4-3M98 777l2 1 2 1 2 0M121 708l-1-1-3-1-1-2M478 728l7-1 5-3 4-5M450 727l1-5 3-4 3-4M415 687l1 3 1 3 2 2M422 744l-5-2-3-5-2-5M523 732l4-2 5 0 4 1M538 690l-2-3 0-2-2-3M192 767l-2-2-2-3-3-2M392 697l2-1 3 0 2 0M268 744l0-6-2-5-1-6"/></g><use href="#t61" stroke="#fff" stroke-width="1.5"/><g stroke="#7b989b" stroke-width="2.6"><path id="t62" d="M156 716l7 2 8 2 7 2M358 717l0-4 2-4 0-3M520 707l-4-1-5-1-6 0M448 705l0-4-2-3 0-3M346 754l0-4 1-3 0-4M99 661l7-1 6-3 6 0M484 736l-1-7-3-7-6-5M405 741l5-1 5-1 5-1M196 762l2-6 2-5 1-6M241 700l-2-7-3-7-2-7M317 753l-4-5-3-5-4-5M270 724l3 1 3-1 3 1M561 660l1-7 1-7 3-6M398 701l1-1 2-2 2 0M250 692l3-4 3-4 2-4M504 692l-1-3-3-2-2-2M284 691l3 0 1-1 2-2M237 664l2-2 1-1 2-2M530 746l-5-3-6-1-6 0M554 661l-1-2-1-2-2-1M258 664l3-7 4-6 5-5M104 729l2 5 3 5 5 4M142 715l5-3 4-5 4-5M141 678l-1-2-1-3 0-3M411 713l4-5 5-4 5-2M410 724l-3-7-4-5-6-3M382 765l2 3 2 3 2 3M335 702l-5-5-3-7 0-8M320 734l2-1 2-1 2-1M408 678l1-6-1-6 2-6M297 732l2-4 4-3 4-1M111 771l4-2 5 0 5 1M443 674l7 0 6-4 7-2M491 672l0 2 0 2-1 2M97 729l4-2 4-2 4 0M471 656l-2-2 0-2-1-3M304 672l-2 0-3-1-2 1M206 652l-4-3-5-3-4-2M185 694l2-2 2-2 2-1M277 652l3-7 2-8-2-8"/></g><use href="#t62" stroke="#fff" stroke-width="1.5"/><g stroke="#7b989b" stroke-width="2.6"><path id="t63" d="M223 752l-4-4-3-5-5-4M100 728l4-3 5-2 5 0M168 686l0-3-2-3-1-3M229 766l-6-5-7-3-7 0M400 759l-6-4-5-7 0-8M443 665l-2-2-3-1-1-2M182 668l-4-3-2-5-4-4"/></g><use href="#t63" stroke="#fff" stroke-width="1.5"/></g><g fill="none" stroke-linecap="round" stroke-linejoin="round"><g stroke="#6f8c8b" stroke-width="4.0"><path id="t64" d="M108 839l-1-60M107 779l-5-13-7-12-5-13-6-13-6-12M107 779l2-14 1-14 2-14-1-13-1-14M107 779l5-14 3-13 5-13 6-12 5-13M302 841l0-53M302 788l-8-12-8-11-9-11-9-11-10-10M302 788l2-14 1-14 1-14 1-14 0-14M302 788l3-14 4-14 2-13 2-14 3-14M386 850l-1-59M385 791l-4-13-3-14-4-13-6-13-6-13M385 791l2-14 0-14-1-14 1-14 0-14M385 791l4-13 3-14 2-14 2-14 4-13M512 845l1-59M513 786l-4-13-5-13-6-13-8-11-7-13M513 786l1-14 0-14 2-13 0-14-1-14M513 786l5-13 3-13 2-14 1-14 3-14"/></g><use href="#t64" stroke="#fff" stroke-width="2.4"/><g stroke="#6f8c8b" stroke-width="3.4"><path id="t65" d="M150 790l-1-31M149 759l-5-10-4-11-4-11-6-10-6-10M149 759l-1-11 0-12-1-12-2-11 0-12M149 759l3-11 3-11 5-11 6-10 5-10M176 813l1-56M177 757l-2-11-3-11-2-11-3-11-3-12M177 757l2-11 3-11 4-11 5-10 4-11M225 841l0-43M225 798l-7-12-9-11-9-11-11-9-10-9M225 798l1-14 0-14 2-14 0-14 0-14M225 798l6-12 5-13 3-14 3-14 2-14M416 813l0-45M416 768l-4-12-4-12-5-12-6-11-6-11M416 768l2-13 0-12 0-13 2-13 2-12M476 806l1-35M477 771l-2-13-3-13-1-13-1-12-1-13M477 771l-2-13-2-13-4-12-5-12-6-12M477 771l3-13 5-11 6-12 4-12 5-13M370 790l0-42M370 748l-5-9-6-8-5-9-6-9-6-9M370 748l1-10 3-10 1-11 1-10 1-11M370 748l5-9 6-9 4-9 4-10 5-9"/></g><use href="#t65" stroke="#fff" stroke-width="1.7999999999999998"/><g stroke="#6f8c8b" stroke-width="2.4"><path id="t66" d="M95 754l4-8 5-6 6-6M84 728l-11-8-12-7-11-9M110 751l-6-10-7-9-8-9M112 737l-7-7-6-8-5-8M115 752l8-5 8-3 8-4M140 738l-11-5-10-6-10-7M136 727l2-8 2-8 1-8M130 717l4-10 5-9 6-8M148 736l7-7 6-9 4-10M147 724l-5-9-2-10-2-10M155 737l8-3 8-2 8-2M166 716l6-3 7-2 7-1M172 735l3-8 1-9 3-9M170 724l1-9 1-8 1-8M167 713l-7-9-9-7-9-5M182 735l8-5 8-6 8-5M186 724l-5-8-5-9-2-9M191 714l-3-12-5-11-4-11M209 775l3-11 2-12 1-11M200 764l-14-4-14-5-14-5M189 755l4-15 0-16 2-16M226 770l5-9 6-9 4-9M228 756l8-6 6-9 6-8M228 742l11-12 11-12 10-13M236 773l9-7 8-8 8-7M239 759l14-8 16-5 14-8M242 745l0-10 0-11 1-10M286 765l0-11 2-9 4-10M277 754l1-10 1-9 1-10M268 743l-9-3-8-4-8-6M305 760l9-13 7-13 7-12M306 746l-7-10-9-10-7-10M307 732l-6-14-8-13-11-10M309 760l9-10 8-13 6-12M311 747l-3-13-5-11-7-10M378 764l-14-6-15-3-14-5M374 751l-10-8-8-10-6-12M368 738l6-8 7-7 6-9M387 735l5-10 6-11 6-10M392 764l8-7 8-8 8-7M394 750l10-5 10-6 7-9M408 744l5-9 4-9 3-9M403 732l-6-7-7-6-8-4M397 721l6-5 5-5 6-5M418 743l-5-11-3-10-4-11M418 730l8-5 7-5 7-6M420 717l8-5 8-4 7-5M472 745l-8-2-9-1-8 1M470 720l-13-5-13-4-12-6M473 745l-7-8-5-11-4-10M469 733l8-6 7-6 7-8M464 721l6-12 6-11 3-12M485 747l8-6 7-8 5-8M495 723l12-5 11-3 12-1M504 760l-11-2-11-3-11-4M498 747l-10-2-9-2-9-2M490 736l-9-7-9-6-10-6M514 758l11-9 12-6 12-9M516 745l-14-8-14-5-15-3M516 731l9-7 9-8 8-8M521 760l-8-12-7-11-6-12M523 746l-6-10-7-9-8-8M524 732l13-8 14-8 13-8M359 731l2-10 2-9 3-9M374 728l-5-8-6-7-5-8M375 717l8-7 7-7 9-7M376 707l-4-6-6-4-5-4M381 730l-3-7-2-7-3-7M385 721l-4-7-5-7-5-6M389 711l7-7 8-5 7-7"/></g><use href="#t66" stroke="#fff" stroke-width="1.1"/></g></g>
<g clip-path="url(#sky3)"><path d="M101.6 774.0 Q95.9 746.0 90.0 722.0 L92.2 722.0 Q100.3 746.0 106.6 774.0Z" fill="#fff" stroke="#6f8c8b" stroke-width="0.8"/><path d="M105.2 774.0 Q108.5 746.0 113.1 722.0 L115.3 722.0 Q112.9 746.0 110.2 774.0Z" fill="#fff" stroke="#6f8c8b" stroke-width="0.8"/><path d="M172.4 764.0 Q166.9 736.0 161.0 712.0 L162.2 712.0 Q169.3 736.0 175.1 764.0Z" fill="#fff" stroke="#6f8c8b" stroke-width="0.8"/><path d="M176.8 764.0 Q182.2 736.0 188.8 712.0 L190.0 712.0 Q184.6 736.0 179.4 764.0Z" fill="#fff" stroke="#6f8c8b" stroke-width="0.8"/><path d="M220.1 744.0 Q213.5 716.0 206.7 692.0 L208.7 692.0 Q217.5 716.0 224.6 744.0Z" fill="#fff" stroke="#6f8c8b" stroke-width="0.8"/><path d="M222.4 744.0 Q221.9 716.0 222.1 692.0 L224.1 692.0 Q225.9 716.0 226.9 744.0Z" fill="#fff" stroke="#6f8c8b" stroke-width="0.8"/><path d="M225.2 744.0 Q231.4 716.0 239.4 692.0 L241.4 692.0 Q235.4 716.0 229.7 744.0Z" fill="#fff" stroke="#6f8c8b" stroke-width="0.8"/><path d="M295.7 744.0 Q286.9 716.0 277.8 692.0 L280.2 692.0 Q291.7 716.0 301.1 744.0Z" fill="#fff" stroke="#6f8c8b" stroke-width="0.8"/><path d="M299.3 744.0 Q299.6 716.0 300.8 692.0 L303.2 692.0 Q304.4 716.0 304.7 744.0Z" fill="#fff" stroke="#6f8c8b" stroke-width="0.8"/><path d="M302.6 744.0 Q311.2 716.0 321.9 692.0 L324.3 692.0 Q316.0 716.0 308.0 744.0Z" fill="#fff" stroke="#6f8c8b" stroke-width="0.8"/><path d="M380.0 749.0 Q370.8 721.0 361.0 697.0 L363.0 697.0 Q374.8 721.0 384.5 749.0Z" fill="#fff" stroke="#6f8c8b" stroke-width="0.8"/><path d="M383.3 749.0 Q382.4 721.0 382.1 697.0 L384.1 697.0 Q386.4 721.0 387.8 749.0Z" fill="#fff" stroke="#6f8c8b" stroke-width="0.8"/><path d="M386.8 749.0 Q394.6 721.0 404.2 697.0 L406.2 697.0 Q398.6 721.0 391.2 749.0Z" fill="#fff" stroke="#6f8c8b" stroke-width="0.8"/><path d="M412.8 764.0 Q407.7 736.0 402.4 712.0 L403.8 712.0 Q410.5 736.0 416.0 764.0Z" fill="#fff" stroke="#6f8c8b" stroke-width="0.8"/><path d="M416.1 764.0 Q419.3 736.0 423.5 712.0 L424.9 712.0 Q422.1 736.0 419.3 764.0Z" fill="#fff" stroke="#6f8c8b" stroke-width="0.8"/><path d="M470.4 754.0 Q462.4 726.0 453.9 702.0 L455.9 702.0 Q466.4 726.0 474.9 754.0Z" fill="#fff" stroke="#6f8c8b" stroke-width="0.8"/><path d="M474.4 754.0 Q476.1 726.0 478.8 702.0 L480.8 702.0 Q480.1 726.0 478.9 754.0Z" fill="#fff" stroke="#6f8c8b" stroke-width="0.8"/><path d="M477.4 754.0 Q486.7 726.0 498.0 702.0 L500.0 702.0 Q490.7 726.0 481.9 754.0Z" fill="#fff" stroke="#6f8c8b" stroke-width="0.8"/><path d="M506.4 749.0 Q498.4 721.0 489.9 697.0 L491.9 697.0 Q502.4 721.0 510.9 749.0Z" fill="#fff" stroke="#6f8c8b" stroke-width="0.8"/><path d="M509.4 749.0 Q508.9 721.0 509.1 697.0 L511.1 697.0 Q512.9 721.0 514.0 749.0Z" fill="#fff" stroke="#6f8c8b" stroke-width="0.8"/><path d="M512.5 749.0 Q519.5 721.0 528.3 697.0 L530.3 697.0 Q523.5 721.0 517.0 749.0Z" fill="#fff" stroke="#6f8c8b" stroke-width="0.8"/></g>
<path d="M101,770 L100.3,817.6 Q100,832 96,838 L118.5,838 Q114.5,832 113.8,817.6 L112,770" fill="#fff" stroke="#6f8c8b" stroke-width="0.9" stroke-linejoin="round"/>
<path d="M173,760 L171.6,797.1 Q171,807 168,813 L184,813 Q181,807 180.4,797.1 L179,760" fill="#fff" stroke="#6f8c8b" stroke-width="0.9" stroke-linejoin="round"/>
<path d="M220,740 L219.7,810.7 Q219.5,835 215.5,841 L234.5,841 Q230.5,835 230.3,810.7 L230,740" fill="#fff" stroke="#6f8c8b" stroke-width="0.9" stroke-linejoin="round"/>
<path d="M296,740 L295.8,810.7 Q295.7,835 291.7,841 L312.5,841 Q308.5,835 308.4,810.7 L308,740" fill="#fff" stroke="#6f8c8b" stroke-width="0.9" stroke-linejoin="round"/>
<path d="M381,745 L380.7,818.5 Q380.6,844 376.6,850 L395.5,850 Q391.5,844 391.4,818.5 L391,745" fill="#fff" stroke="#6f8c8b" stroke-width="0.9" stroke-linejoin="round"/>
<path d="M413,760 L412.3,797.1 Q412,807 409,813 L423.5,813 Q420.5,807 420.4,797.1 L420,760" fill="#fff" stroke="#6f8c8b" stroke-width="0.9" stroke-linejoin="round"/>
<path d="M471,750 L470.8,789.2 Q470.7,800 467.7,806 L484.5,806 Q481.5,800 481.4,789.2 L481,750" fill="#fff" stroke="#6f8c8b" stroke-width="0.9" stroke-linejoin="round"/>
<path d="M507,745 L507,814.6 Q507,838.5 503,844.5 L521.6,844.5 Q517.6,838.5 517.4,814.6 L517,745" fill="#fff" stroke="#6f8c8b" stroke-width="0.9" stroke-linejoin="round"/>
<path d="M168.1 815.2 163.6 817.3 162.0 819.6 161.1 828.3 160.7 835.8 161.7 837.0 162.9 828.9 164.3 831.2 161.7 844.0 166.2 845.1 166.2 863.1 165.5 865.1 168.7 865.1 168.7 845.1 171.3 845.1 171.3 865.1 174.5 865.1 173.8 863.1 173.8 845.1 178.3 844.0 175.7 831.2 177.1 828.9 178.3 837.0 179.3 835.8 178.9 828.3 178.0 819.6 176.4 817.3 171.9 815.2Z" fill="#fff" stroke="#6f8c8b" stroke-width="0.8" stroke-linejoin="round"/><ellipse cx="170.0" cy="811.8" rx="3.3" ry="3.8" fill="#fff" stroke="#6f8c8b" stroke-width="0.8" stroke-linejoin="round"/><path d="M161.8 819.6 L162.2 835.8 M178.2 819.6 L177.8 835.8 M166.8 816.1 Q170.0 819.0 173.2 816.1 M164.3 831.2 L175.7 831.2 M172.1 833.8 l1.9 5.3 M168.0 836.1 l1.2 6.4 M171.7 852.5 l0.8 3.9 M167.1 810.9 Q170.0 808.0 172.9 810.9" stroke="#6f8c8b" stroke-width="0.55" fill="none"/>
<path d="M183.8 811.5 178.4 813.6 176.9 816.0 175.6 825.0 174.3 832.2 175.3 834.0 176.7 832.8 177.8 826.8 178.4 834.0 177.2 849.0 176.2 861.6 175.9 863.1 180.3 863.1 181.0 849.0 184.7 838.8 186.0 837.6 187.3 840.0 188.8 850.8 188.2 861.0 188.5 863.1 192.3 863.1 192.6 861.0 193.2 849.0 193.4 834.0 194.1 826.8 194.3 837.0 195.6 838.2 196.3 835.2 195.8 825.0 195.1 816.0 193.6 813.6 188.2 811.5Z" fill="#fff" stroke="#6f8c8b" stroke-width="0.8" stroke-linejoin="round"/><ellipse cx="186.0" cy="807.9" rx="3.3" ry="3.9" fill="#fff" stroke="#6f8c8b" stroke-width="0.8" stroke-linejoin="round"/><path d="M177.9 816.0 L178.3 832.8 M194.1 816.0 L193.7 832.8 M182.8 812.4 Q186.0 815.4 189.2 812.4 M178.8 834.0 L193.2 834.0 M181.6 837.0 L184.1 838.2 M187.9 838.2 L190.4 837.0 M190.6 829.1 l1.1 3.6 M181.3 835.2 l-0.9 4.2 M182.6 833.7 l1.7 4.4 M183.2 807.0 Q186.0 804.0 188.8 807.0" stroke="#6f8c8b" stroke-width="0.55" fill="none"/>
<path d="M282.6 800.5 279.2 801.8 278.3 803.2 277.7 808.6 277.5 814.0 278.1 815.3 278.9 814.7 278.9 809.7 279.3 814.0 279.6 821.9 280.2 830.2 280.0 831.5 282.6 831.5 282.8 823.0 283.4 816.9 284.0 816.0 284.6 816.9 285.2 823.0 285.4 831.5 288.0 831.5 287.8 830.2 288.4 821.9 288.7 814.0 289.1 809.7 289.1 814.7 289.9 815.3 290.5 814.0 290.3 808.6 289.7 803.2 288.8 801.8 285.4 800.5Z" fill="#fff" stroke="#6f8c8b" stroke-width="0.6" stroke-linejoin="round"/><ellipse cx="284.0" cy="798.3" rx="2.1" ry="2.3" fill="#fff" stroke="#6f8c8b" stroke-width="0.6" stroke-linejoin="round"/>
<path d="M368.9 802.8 366.2 804.1 365.2 805.6 364.7 811.3 364.5 816.2 365.1 817.0 365.7 811.7 366.6 813.2 365.1 821.6 367.7 822.3 367.7 834.1 367.3 835.4 369.2 835.4 369.2 822.3 370.8 822.3 370.8 835.4 372.7 835.4 372.3 834.1 372.3 822.3 374.9 821.6 373.4 813.2 374.3 811.7 374.9 817.0 375.5 816.2 375.3 811.3 374.8 805.6 373.8 804.1 371.1 802.8Z" fill="#fff" stroke="#6f8c8b" stroke-width="0.6" stroke-linejoin="round"/><ellipse cx="370.0" cy="800.5" rx="2.0" ry="2.5" fill="#fff" stroke="#6f8c8b" stroke-width="0.6" stroke-linejoin="round"/>
<path d="M473.6 802.2 467.7 804.6 466.0 807.2 464.6 817.1 463.2 825.0 464.2 827.0 465.7 825.7 467.0 819.1 467.7 827.0 466.3 843.5 465.3 857.4 464.9 859.0 469.8 859.0 470.5 843.5 474.6 832.3 476.0 831.0 477.4 833.6 479.1 845.5 478.4 856.7 478.8 859.0 482.9 859.0 483.3 856.7 484.0 843.5 484.2 827.0 484.9 819.1 485.1 830.3 486.5 831.6 487.3 828.3 486.7 817.1 486.0 807.2 484.3 804.6 478.4 802.2Z" fill="#fff" stroke="#6f8c8b" stroke-width="0.8" stroke-linejoin="round"/><ellipse cx="476.0" cy="798.3" rx="3.6" ry="4.3" fill="#fff" stroke="#6f8c8b" stroke-width="0.8" stroke-linejoin="round"/><path d="M467.1 807.2 L467.5 825.7 M484.9 807.2 L484.5 825.7 M472.5 803.2 Q476.0 806.5 479.5 803.2 M468.0 827.0 L484.0 827.0 M471.1 830.3 L473.9 831.6 M478.1 831.6 L480.9 830.3 M474.4 828.0 l-1.8 4.7 M473.6 827.2 l-0.6 6.3 M473.7 811.6 l0.9 3.7 M472.9 797.3 Q476.0 794.0 479.1 797.3" stroke="#6f8c8b" stroke-width="0.55" fill="none"/>
<path d="M492.0 803.8 487.5 805.9 485.9 808.4 484.9 817.7 484.6 825.8 485.5 827.0 486.7 818.3 488.1 820.8 485.5 834.4 490.1 835.7 490.1 854.9 489.4 857.1 492.7 857.1 492.7 835.7 495.3 835.7 495.3 857.1 498.6 857.1 497.9 854.9 497.9 835.7 502.5 834.4 499.9 820.8 501.3 818.3 502.5 827.0 503.4 825.8 503.1 817.7 502.1 808.4 500.5 805.9 496.0 803.8Z" fill="#fff" stroke="#6f8c8b" stroke-width="0.8" stroke-linejoin="round"/><ellipse cx="494.0" cy="800.0" rx="3.4" ry="4.0" fill="#fff" stroke="#6f8c8b" stroke-width="0.8" stroke-linejoin="round"/><path d="M485.7 808.4 L486.1 825.8 M502.3 808.4 L501.9 825.8 M490.7 804.7 Q494.0 807.8 497.3 804.7 M488.1 820.8 L499.9 820.8 M494.8 816.0 l-1.0 5.7 M498.1 840.9 l-1.5 6.5 M493.2 844.9 l-0.8 4.1 M491.1 799.1 Q494.0 796.0 496.9 799.1" stroke="#6f8c8b" stroke-width="0.55" fill="none"/>
<path d="M74,653 L74,840.6 Q74,915 66,921 L111,921 Q103,915 99.7,840.6 L92,653" fill="#fff" stroke="#6f8c8b" stroke-width="0.9" stroke-linejoin="round"/>
<path d="M197.6,653 L193.5,839.2 Q191.7,913 185.7,919 L230.6,919 Q224.6,913 221.4,839.2 L214,653" fill="#fff" stroke="#6f8c8b" stroke-width="0.9" stroke-linejoin="round"/>
<path d="M255,653 L251.5,797.9 Q250,854 245,860 L278,860 Q273,854 271.5,797.9 L268,653" fill="#fff" stroke="#6f8c8b" stroke-width="0.9" stroke-linejoin="round"/>
<path d="M317,653 L315.6,831.9 Q315,902.6 310,908.6 L347.5,908.6 Q342.5,902.6 338.8,831.9 L330,653" fill="#fff" stroke="#6f8c8b" stroke-width="0.9" stroke-linejoin="round"/>
<path d="M421.5,653 L421.9,860.9 Q422,944 422,950 L464,950 Q464,944 460.4,860.9 L452,653" fill="#fff" stroke="#6f8c8b" stroke-width="0.9" stroke-linejoin="round"/>
<path d="M544,653 L542.6,789.5 Q542,842 538,848 L564,848 Q560,842 558.2,789.5 L554,653" fill="#fff" stroke="#6f8c8b" stroke-width="0.9" stroke-linejoin="round"/>
<path d="M534.3 816.5 523.4 822.2 518.7 828.8 515.6 853.4 514.1 878.0 515.6 882.9 518.7 881.3 520.6 858.3 521.9 869.8 520.3 927.2 529.7 928.8 530.4 957.5 536.7 957.5 537.4 928.8 540.6 928.8 541.3 957.5 547.6 957.5 548.3 928.8 557.7 927.2 556.1 869.8 557.4 858.3 559.3 881.3 562.4 882.9 563.9 878.0 562.4 853.4 559.3 828.8 554.6 822.2 543.7 816.5Z" fill="#fff" stroke="#6f8c8b" stroke-width="0.8" stroke-linejoin="round"/><ellipse cx="539.0" cy="806.7" rx="8.1" ry="10.7" fill="#fff" stroke="#6f8c8b" stroke-width="0.8" stroke-linejoin="round"/><path d="M519.1 828.8 L520.0 874.7 M558.9 828.8 L558.0 874.7 M531.2 819.0 Q539.0 827.2 546.8 819.0 M537.7 891.0 l0.5 11.1 M547.2 857.2 l-1.8 13.8 M534.7 901.8 l-3.4 17.9 M532.0 804.2 Q539.0 796.0 546.0 804.2" stroke="#6f8c8b" stroke-width="0.55" fill="none"/>
<path d="M202,775 L233,766.3 L233,783.7Z" fill="#5f6a6a"/><rect x="233" y="772.85" width="56" height="4.3" fill="#5f6a6a"/><rect x="366.4" y="772.85" width="56.900000000000034" height="4.3" fill="#5f6a6a"/><path d="M455,775 L423.3,766.3 L423.3,783.7Z" fill="#5f6a6a"/>
<text x="297.3" y="781.1" font-family="Liberation Sans" font-weight="bold" font-size="17" fill="#2f3c3d" textLength="58.8" lengthAdjust="spacingAndGlyphs">4 - 6 m</text>
</g>
<text x="255.8" y="986" font-size="16.3" fill="#111" stroke="#111" stroke-width="0.3" textLength="125" lengthAdjust="spacingAndGlyphs">Raumliche Wirkung</text>
<text x="930.8" y="986" font-size="16.3" fill="#111" stroke="#111" stroke-width="0.3" textLength="198.4" lengthAdjust="spacingAndGlyphs" xml:space="preserve">Vegitationskonzept  M 1:1'500</text>
<defs><clipPath id="mapclip"><rect x="617" y="57" width="826" height="854"/></clipPath></defs>
<g clip-path="url(#mapclip)">
<path d="M1005.0 185.0 998.0 190.0 975.0 215.0 962.0 238.0 965.0 242.0 985.0 222.0 1003.0 196.0Z" fill="#e9edec" stroke="none" stroke-width="0" stroke-linejoin="round" />
<path d="M1040.0 190.0 1046.0 205.0 1070.0 255.0 1085.0 295.0 1082.0 296.0 1060.0 255.0 1042.0 210.0Z" fill="#e9edec" stroke="none" stroke-width="0" stroke-linejoin="round" />
<path d="M990.0 253.0 985.0 258.0 1010.0 290.0 1040.0 308.0 1030.0 296.0 1005.0 270.0Z" fill="#e9edec" stroke="none" stroke-width="0" stroke-linejoin="round" />
<path d="M1074.0 493.0 1095.0 480.0 1130.0 466.0 1152.0 463.0 1140.0 470.0 1110.0 480.0 1080.0 495.0Z" fill="#e9edec" stroke="none" stroke-width="0" stroke-linejoin="round" />
<path d="M1033.0 590.0 1035.0 560.0 1040.0 535.0 1044.0 530.0 1042.0 550.0 1038.0 575.0Z" fill="#e9edec" stroke="none" stroke-width="0" stroke-linejoin="round" />
<path d="M1138.0 565.0 1160.0 530.0 1170.0 508.0 1172.0 512.0 1160.0 545.0 1143.0 568.0Z" fill="#e9edec" stroke="none" stroke-width="0" stroke-linejoin="round" />
<path d="M1058.0 613.0 1080.0 605.0 1112.0 594.0 1120.0 594.0 1100.0 605.0 1065.0 616.0Z" fill="#e9edec" stroke="none" stroke-width="0" stroke-linejoin="round" />
<path d="M1170.0 522.0 1160.0 540.0 1140.0 562.0 1145.0 560.0 1165.0 540.0Z" fill="#e9edec" stroke="none" stroke-width="0" stroke-linejoin="round" />
<path d="M790.0 428.0 827.0 386.0 831.0 389.0 795.0 432.0Z" fill="#e9edec" stroke="none" stroke-width="0" stroke-linejoin="round" />
<path d="M998.0 629.0 1003.0 624.0 1015.0 640.0 1012.0 648.0Z" fill="#e9edec" stroke="none" stroke-width="0" stroke-linejoin="round" />
<path d="M925.0 684.0 935.0 682.0 949.0 697.0 945.0 704.0 932.0 700.0Z" fill="#e9edec" stroke="none" stroke-width="0" stroke-linejoin="round" />
<g fill="none" stroke="#8ea5a3" stroke-width="1.2"><path d="M762.2 198.8A2.24 2.24 0 0 1 760.9 202.7A2.24 2.24 0 0 1 757.6 205.2A2.24 2.24 0 0 1 753.4 205.2A2.24 2.24 0 0 1 750.1 202.7A2.24 2.24 0 0 1 748.8 198.8A2.24 2.24 0 0 1 750.1 194.9A2.24 2.24 0 0 1 753.4 192.4A2.24 2.24 0 0 1 757.6 192.4A2.24 2.24 0 0 1 760.9 194.9A2.24 2.24 0 0 1 762.2 198.8Z"/><path d="M830.5 216.8A2.24 2.24 0 0 1 829.2 220.7A2.24 2.24 0 0 1 825.9 223.2A2.24 2.24 0 0 1 821.7 223.2A2.24 2.24 0 0 1 818.4 220.7A2.24 2.24 0 0 1 817.1 216.8A2.24 2.24 0 0 1 818.4 212.9A2.24 2.24 0 0 1 821.7 210.4A2.24 2.24 0 0 1 825.9 210.4A2.24 2.24 0 0 1 829.2 212.9A2.24 2.24 0 0 1 830.5 216.8Z"/><path d="M663.9 251.3A2.4 2.4 0 0 1 662.9 255.7A2.4 2.4 0 0 1 660.1 259.2A2.4 2.4 0 0 1 656.0 261.1A2.4 2.4 0 0 1 651.6 261.1A2.4 2.4 0 0 1 647.5 259.2A2.4 2.4 0 0 1 644.7 255.7A2.4 2.4 0 0 1 643.7 251.3A2.4 2.4 0 0 1 644.7 246.9A2.4 2.4 0 0 1 647.5 243.4A2.4 2.4 0 0 1 651.6 241.5A2.4 2.4 0 0 1 656.0 241.5A2.4 2.4 0 0 1 660.1 243.4A2.4 2.4 0 0 1 662.9 246.9A2.4 2.4 0 0 1 663.9 251.3Z"/><path d="M650.4 262.0A2.2 2.2 0 0 1 648.7 265.6A2.2 2.2 0 0 1 644.8 266.5A2.2 2.2 0 0 1 641.6 264.0A2.2 2.2 0 0 1 641.6 260.0A2.2 2.2 0 0 1 644.8 257.5A2.2 2.2 0 0 1 648.7 258.4A2.2 2.2 0 0 1 650.4 262.0Z"/><path d="M646.8 283.8A2.3 2.3 0 0 1 646.0 288.0A2.3 2.3 0 0 1 643.7 291.7A2.3 2.3 0 0 1 640.2 294.3A2.3 2.3 0 0 1 636.1 295.5A2.3 2.3 0 0 1 631.8 295.1A2.3 2.3 0 0 1 627.9 293.2A2.3 2.3 0 0 1 625.0 290.0A2.3 2.3 0 0 1 623.4 286.0A2.3 2.3 0 0 1 623.4 281.6A2.3 2.3 0 0 1 625.0 277.6A2.3 2.3 0 0 1 627.9 274.4A2.3 2.3 0 0 1 631.8 272.5A2.3 2.3 0 0 1 636.1 272.1A2.3 2.3 0 0 1 640.2 273.3A2.3 2.3 0 0 1 643.7 275.9A2.3 2.3 0 0 1 646.0 279.6A2.3 2.3 0 0 1 646.8 283.8Z"/><path d="M673.0 278.8A2.37 2.37 0 0 1 672.0 283.1A2.37 2.37 0 0 1 669.0 286.4A2.37 2.37 0 0 1 664.9 288.0A2.37 2.37 0 0 1 660.5 287.4A2.37 2.37 0 0 1 656.9 284.9A2.37 2.37 0 0 1 654.8 281.0A2.37 2.37 0 0 1 654.8 276.6A2.37 2.37 0 0 1 656.9 272.7A2.37 2.37 0 0 1 660.5 270.2A2.37 2.37 0 0 1 664.9 269.6A2.37 2.37 0 0 1 669.0 271.2A2.37 2.37 0 0 1 672.0 274.5A2.37 2.37 0 0 1 673.0 278.8Z"/><path d="M691.0 290.0A2.24 2.24 0 0 1 689.7 293.9A2.24 2.24 0 0 1 686.4 296.4A2.24 2.24 0 0 1 682.2 296.4A2.24 2.24 0 0 1 678.9 293.9A2.24 2.24 0 0 1 677.6 290.0A2.24 2.24 0 0 1 678.9 286.1A2.24 2.24 0 0 1 682.2 283.6A2.24 2.24 0 0 1 686.4 283.6A2.24 2.24 0 0 1 689.7 286.1A2.24 2.24 0 0 1 691.0 290.0Z"/><path d="M759.2 267.5A2.37 2.37 0 0 1 758.2 271.8A2.37 2.37 0 0 1 755.2 275.1A2.37 2.37 0 0 1 751.1 276.7A2.37 2.37 0 0 1 746.7 276.1A2.37 2.37 0 0 1 743.1 273.6A2.37 2.37 0 0 1 741.0 269.7A2.37 2.37 0 0 1 741.0 265.3A2.37 2.37 0 0 1 743.1 261.4A2.37 2.37 0 0 1 746.7 258.9A2.37 2.37 0 0 1 751.1 258.3A2.37 2.37 0 0 1 755.2 259.9A2.37 2.37 0 0 1 758.2 263.2A2.37 2.37 0 0 1 759.2 267.5Z"/><path d="M750.5 281.3A2.24 2.24 0 0 1 749.2 285.2A2.24 2.24 0 0 1 745.9 287.7A2.24 2.24 0 0 1 741.7 287.7A2.24 2.24 0 0 1 738.4 285.2A2.24 2.24 0 0 1 737.1 281.3A2.24 2.24 0 0 1 738.4 277.4A2.24 2.24 0 0 1 741.7 274.9A2.24 2.24 0 0 1 745.9 274.9A2.24 2.24 0 0 1 749.2 277.4A2.24 2.24 0 0 1 750.5 281.3Z"/><path d="M840.5 289.5A2.24 2.24 0 0 1 839.2 293.4A2.24 2.24 0 0 1 835.9 295.9A2.24 2.24 0 0 1 831.7 295.9A2.24 2.24 0 0 1 828.4 293.4A2.24 2.24 0 0 1 827.1 289.5A2.24 2.24 0 0 1 828.4 285.6A2.24 2.24 0 0 1 831.7 283.1A2.24 2.24 0 0 1 835.9 283.1A2.24 2.24 0 0 1 839.2 285.6A2.24 2.24 0 0 1 840.5 289.5Z"/><path d="M1016.3 62.0A2.29 2.29 0 0 1 1015.1 66.1A2.29 2.29 0 0 1 1011.9 68.9A2.29 2.29 0 0 1 1007.7 69.5A2.29 2.29 0 0 1 1003.8 67.7A2.29 2.29 0 0 1 1001.5 64.1A2.29 2.29 0 0 1 1001.5 59.9A2.29 2.29 0 0 1 1003.8 56.3A2.29 2.29 0 0 1 1007.7 54.5A2.29 2.29 0 0 1 1011.9 55.1A2.29 2.29 0 0 1 1015.1 57.9A2.29 2.29 0 0 1 1016.3 62.0Z"/><path d="M939.2 267.5A2.37 2.37 0 0 1 938.2 271.8A2.37 2.37 0 0 1 935.2 275.1A2.37 2.37 0 0 1 931.1 276.7A2.37 2.37 0 0 1 926.7 276.1A2.37 2.37 0 0 1 923.1 273.6A2.37 2.37 0 0 1 921.0 269.7A2.37 2.37 0 0 1 921.0 265.3A2.37 2.37 0 0 1 923.1 261.4A2.37 2.37 0 0 1 926.7 258.9A2.37 2.37 0 0 1 931.1 258.3A2.37 2.37 0 0 1 935.2 259.9A2.37 2.37 0 0 1 938.2 263.2A2.37 2.37 0 0 1 939.2 267.5Z"/><path d="M1278.4 62.5A2.45 2.45 0 0 1 1276.7 66.7A2.45 2.45 0 0 1 1272.5 68.4A2.45 2.45 0 0 1 1268.3 66.7A2.45 2.45 0 0 1 1266.6 62.5A2.45 2.45 0 0 1 1268.3 58.3A2.45 2.45 0 0 1 1272.5 56.6A2.45 2.45 0 0 1 1276.7 58.3A2.45 2.45 0 0 1 1278.4 62.5Z"/><path d="M1261.3 87.5A2.29 2.29 0 0 1 1260.1 91.6A2.29 2.29 0 0 1 1256.9 94.4A2.29 2.29 0 0 1 1252.7 95.0A2.29 2.29 0 0 1 1248.8 93.2A2.29 2.29 0 0 1 1246.5 89.6A2.29 2.29 0 0 1 1246.5 85.4A2.29 2.29 0 0 1 1248.8 81.8A2.29 2.29 0 0 1 1252.7 80.0A2.29 2.29 0 0 1 1256.9 80.6A2.29 2.29 0 0 1 1260.1 83.4A2.29 2.29 0 0 1 1261.3 87.5Z"/><path d="M1255.5 107.5A2.37 2.37 0 0 1 1254.4 111.8A2.37 2.37 0 0 1 1251.5 115.1A2.37 2.37 0 0 1 1247.4 116.7A2.37 2.37 0 0 1 1243.0 116.1A2.37 2.37 0 0 1 1239.3 113.6A2.37 2.37 0 0 1 1237.3 109.7A2.37 2.37 0 0 1 1237.3 105.3A2.37 2.37 0 0 1 1239.3 101.4A2.37 2.37 0 0 1 1243.0 98.9A2.37 2.37 0 0 1 1247.4 98.3A2.37 2.37 0 0 1 1251.5 99.9A2.37 2.37 0 0 1 1254.4 103.2A2.37 2.37 0 0 1 1255.5 107.5Z"/><path d="M1275.9 138.8A2.27 2.27 0 0 1 1275.1 142.9A2.27 2.27 0 0 1 1272.7 146.5A2.27 2.27 0 0 1 1269.2 148.8A2.27 2.27 0 0 1 1265.0 149.7A2.27 2.27 0 0 1 1260.8 148.8A2.27 2.27 0 0 1 1257.3 146.5A2.27 2.27 0 0 1 1254.9 142.9A2.27 2.27 0 0 1 1254.1 138.8A2.27 2.27 0 0 1 1254.9 134.6A2.27 2.27 0 0 1 1257.3 131.0A2.27 2.27 0 0 1 1260.8 128.7A2.27 2.27 0 0 1 1265.0 127.8A2.27 2.27 0 0 1 1269.2 128.7A2.27 2.27 0 0 1 1272.7 131.0A2.27 2.27 0 0 1 1275.1 134.6A2.27 2.27 0 0 1 1275.9 138.8Z"/><path d="M1260.1 148.8A2.29 2.29 0 0 1 1258.9 152.8A2.29 2.29 0 0 1 1255.6 155.6A2.29 2.29 0 0 1 1251.4 156.2A2.29 2.29 0 0 1 1247.5 154.5A2.29 2.29 0 0 1 1245.2 150.9A2.29 2.29 0 0 1 1245.2 146.6A2.29 2.29 0 0 1 1247.5 143.0A2.29 2.29 0 0 1 1251.4 141.3A2.29 2.29 0 0 1 1255.6 141.9A2.29 2.29 0 0 1 1258.9 144.7A2.29 2.29 0 0 1 1260.1 148.8Z"/><path d="M1270.1 175.0A2.29 2.29 0 0 1 1268.9 179.1A2.29 2.29 0 0 1 1265.6 181.9A2.29 2.29 0 0 1 1261.4 182.5A2.29 2.29 0 0 1 1257.5 180.7A2.29 2.29 0 0 1 1255.2 177.1A2.29 2.29 0 0 1 1255.2 172.9A2.29 2.29 0 0 1 1257.5 169.3A2.29 2.29 0 0 1 1261.4 167.5A2.29 2.29 0 0 1 1265.6 168.1A2.29 2.29 0 0 1 1268.9 170.9A2.29 2.29 0 0 1 1270.1 175.0Z"/><path d="M1330.1 198.8A2.4 2.4 0 0 1 1329.1 203.1A2.4 2.4 0 0 1 1326.3 206.6A2.4 2.4 0 0 1 1322.2 208.6A2.4 2.4 0 0 1 1317.8 208.6A2.4 2.4 0 0 1 1313.7 206.6A2.4 2.4 0 0 1 1310.9 203.1A2.4 2.4 0 0 1 1309.9 198.8A2.4 2.4 0 0 1 1310.9 194.4A2.4 2.4 0 0 1 1313.7 190.9A2.4 2.4 0 0 1 1317.8 188.9A2.4 2.4 0 0 1 1322.2 188.9A2.4 2.4 0 0 1 1326.3 190.9A2.4 2.4 0 0 1 1329.1 194.4A2.4 2.4 0 0 1 1330.1 198.8Z"/><path d="M1284.7 222.5A2.24 2.24 0 0 1 1283.4 226.4A2.24 2.24 0 0 1 1280.1 228.9A2.24 2.24 0 0 1 1275.9 228.9A2.24 2.24 0 0 1 1272.6 226.4A2.24 2.24 0 0 1 1271.3 222.5A2.24 2.24 0 0 1 1272.6 218.6A2.24 2.24 0 0 1 1275.9 216.1A2.24 2.24 0 0 1 1280.1 216.1A2.24 2.24 0 0 1 1283.4 218.6A2.24 2.24 0 0 1 1284.7 222.5Z"/><path d="M1377.2 99.9A2.33 2.33 0 0 1 1376.3 104.2A2.33 2.33 0 0 1 1373.7 107.7A2.33 2.33 0 0 1 1369.9 109.9A2.33 2.33 0 0 1 1365.6 110.3A2.33 2.33 0 0 1 1361.5 109.0A2.33 2.33 0 0 1 1358.2 106.1A2.33 2.33 0 0 1 1356.4 102.1A2.33 2.33 0 0 1 1356.4 97.7A2.33 2.33 0 0 1 1358.2 93.7A2.33 2.33 0 0 1 1361.5 90.8A2.33 2.33 0 0 1 1365.6 89.5A2.33 2.33 0 0 1 1369.9 89.9A2.33 2.33 0 0 1 1373.7 92.1A2.33 2.33 0 0 1 1376.3 95.6A2.33 2.33 0 0 1 1377.2 99.9Z"/><path d="M1386.4 166.8A2.24 2.24 0 0 1 1385.1 170.7A2.24 2.24 0 0 1 1381.8 173.2A2.24 2.24 0 0 1 1377.6 173.2A2.24 2.24 0 0 1 1374.3 170.7A2.24 2.24 0 0 1 1373.0 166.8A2.24 2.24 0 0 1 1374.3 162.9A2.24 2.24 0 0 1 1377.6 160.4A2.24 2.24 0 0 1 1381.8 160.4A2.24 2.24 0 0 1 1385.1 162.9A2.24 2.24 0 0 1 1386.4 166.8Z"/><path d="M1383.8 177.9A2.24 2.24 0 0 1 1382.5 181.8A2.24 2.24 0 0 1 1379.2 184.3A2.24 2.24 0 0 1 1375.0 184.3A2.24 2.24 0 0 1 1371.7 181.8A2.24 2.24 0 0 1 1370.4 177.9A2.24 2.24 0 0 1 1371.7 174.0A2.24 2.24 0 0 1 1375.0 171.5A2.24 2.24 0 0 1 1379.2 171.5A2.24 2.24 0 0 1 1382.5 174.0A2.24 2.24 0 0 1 1383.8 177.9Z"/><path d="M1366.7 196.2A2.24 2.24 0 0 1 1365.4 200.2A2.24 2.24 0 0 1 1362.1 202.6A2.24 2.24 0 0 1 1357.9 202.6A2.24 2.24 0 0 1 1354.6 200.2A2.24 2.24 0 0 1 1353.3 196.2A2.24 2.24 0 0 1 1354.6 192.3A2.24 2.24 0 0 1 1357.9 189.9A2.24 2.24 0 0 1 1362.1 189.9A2.24 2.24 0 0 1 1365.4 192.3A2.24 2.24 0 0 1 1366.7 196.2Z"/><path d="M671.7 300.0A2.37 2.37 0 0 1 670.7 304.3A2.37 2.37 0 0 1 667.7 307.6A2.37 2.37 0 0 1 663.6 309.2A2.37 2.37 0 0 1 659.2 308.6A2.37 2.37 0 0 1 655.6 306.1A2.37 2.37 0 0 1 653.5 302.2A2.37 2.37 0 0 1 653.5 297.8A2.37 2.37 0 0 1 655.6 293.9A2.37 2.37 0 0 1 659.2 291.4A2.37 2.37 0 0 1 663.6 290.8A2.37 2.37 0 0 1 667.7 292.4A2.37 2.37 0 0 1 670.7 295.7A2.37 2.37 0 0 1 671.7 300.0Z"/><path d="M801.7 388.8A2.37 2.37 0 0 1 800.7 393.0A2.37 2.37 0 0 1 797.7 396.4A2.37 2.37 0 0 1 793.6 397.9A2.37 2.37 0 0 1 789.2 397.4A2.37 2.37 0 0 1 785.6 394.9A2.37 2.37 0 0 1 783.5 391.0A2.37 2.37 0 0 1 783.5 386.5A2.37 2.37 0 0 1 785.6 382.6A2.37 2.37 0 0 1 789.2 380.1A2.37 2.37 0 0 1 793.6 379.6A2.37 2.37 0 0 1 797.7 381.1A2.37 2.37 0 0 1 800.7 384.5A2.37 2.37 0 0 1 801.7 388.8Z"/><path d="M786.7 406.2A2.37 2.37 0 0 1 785.7 410.5A2.37 2.37 0 0 1 782.7 413.9A2.37 2.37 0 0 1 778.6 415.4A2.37 2.37 0 0 1 774.2 414.9A2.37 2.37 0 0 1 770.6 412.4A2.37 2.37 0 0 1 768.5 408.5A2.37 2.37 0 0 1 768.5 404.0A2.37 2.37 0 0 1 770.6 400.1A2.37 2.37 0 0 1 774.2 397.6A2.37 2.37 0 0 1 778.6 397.1A2.37 2.37 0 0 1 782.7 398.6A2.37 2.37 0 0 1 785.7 402.0A2.37 2.37 0 0 1 786.7 406.2Z"/><path d="M819.2 317.5A2.37 2.37 0 0 1 818.2 321.8A2.37 2.37 0 0 1 815.2 325.1A2.37 2.37 0 0 1 811.1 326.7A2.37 2.37 0 0 1 806.7 326.1A2.37 2.37 0 0 1 803.1 323.6A2.37 2.37 0 0 1 801.0 319.7A2.37 2.37 0 0 1 801.0 315.3A2.37 2.37 0 0 1 803.1 311.4A2.37 2.37 0 0 1 806.7 308.9A2.37 2.37 0 0 1 811.1 308.3A2.37 2.37 0 0 1 815.2 309.9A2.37 2.37 0 0 1 818.2 313.2A2.37 2.37 0 0 1 819.2 317.5Z"/><path d="M825.5 302.5A2.24 2.24 0 0 1 824.2 306.4A2.24 2.24 0 0 1 820.8 308.9A2.24 2.24 0 0 1 816.7 308.9A2.24 2.24 0 0 1 813.3 306.4A2.24 2.24 0 0 1 812.0 302.5A2.24 2.24 0 0 1 813.3 298.6A2.24 2.24 0 0 1 816.7 296.1A2.24 2.24 0 0 1 820.8 296.1A2.24 2.24 0 0 1 824.2 298.6A2.24 2.24 0 0 1 825.5 302.5Z"/><path d="M760.5 493.8A2.37 2.37 0 0 1 759.4 498.0A2.37 2.37 0 0 1 756.5 501.4A2.37 2.37 0 0 1 752.4 502.9A2.37 2.37 0 0 1 748.0 502.4A2.37 2.37 0 0 1 744.3 499.9A2.37 2.37 0 0 1 742.3 496.0A2.37 2.37 0 0 1 742.3 491.5A2.37 2.37 0 0 1 744.3 487.6A2.37 2.37 0 0 1 748.0 485.1A2.37 2.37 0 0 1 752.4 484.6A2.37 2.37 0 0 1 756.5 486.1A2.37 2.37 0 0 1 759.4 489.5A2.37 2.37 0 0 1 760.5 493.8Z"/><path d="M651.7 508.8A2.24 2.24 0 0 1 650.4 512.7A2.24 2.24 0 0 1 647.1 515.1A2.24 2.24 0 0 1 642.9 515.1A2.24 2.24 0 0 1 639.6 512.7A2.24 2.24 0 0 1 638.3 508.8A2.24 2.24 0 0 1 639.6 504.8A2.24 2.24 0 0 1 642.9 502.4A2.24 2.24 0 0 1 647.1 502.4A2.24 2.24 0 0 1 650.4 504.8A2.24 2.24 0 0 1 651.7 508.8Z"/><path d="M826.7 493.8A2.37 2.37 0 0 1 825.7 498.0A2.37 2.37 0 0 1 822.7 501.4A2.37 2.37 0 0 1 818.6 502.9A2.37 2.37 0 0 1 814.2 502.4A2.37 2.37 0 0 1 810.6 499.9A2.37 2.37 0 0 1 808.5 496.0A2.37 2.37 0 0 1 808.5 491.5A2.37 2.37 0 0 1 810.6 487.6A2.37 2.37 0 0 1 814.2 485.1A2.37 2.37 0 0 1 818.6 484.6A2.37 2.37 0 0 1 822.7 486.1A2.37 2.37 0 0 1 825.7 489.5A2.37 2.37 0 0 1 826.7 493.8Z"/><path d="M854.2 518.8A2.37 2.37 0 0 1 853.2 523.0A2.37 2.37 0 0 1 850.2 526.4A2.37 2.37 0 0 1 846.1 527.9A2.37 2.37 0 0 1 841.7 527.4A2.37 2.37 0 0 1 838.1 524.9A2.37 2.37 0 0 1 836.0 521.0A2.37 2.37 0 0 1 836.0 516.5A2.37 2.37 0 0 1 838.1 512.6A2.37 2.37 0 0 1 841.7 510.1A2.37 2.37 0 0 1 846.1 509.6A2.37 2.37 0 0 1 850.2 511.1A2.37 2.37 0 0 1 853.2 514.5A2.37 2.37 0 0 1 854.2 518.8Z"/><path d="M1339.2 325.0A2.37 2.37 0 0 1 1338.2 329.3A2.37 2.37 0 0 1 1335.2 332.6A2.37 2.37 0 0 1 1331.1 334.2A2.37 2.37 0 0 1 1326.7 333.6A2.37 2.37 0 0 1 1323.1 331.1A2.37 2.37 0 0 1 1321.0 327.2A2.37 2.37 0 0 1 1321.0 322.8A2.37 2.37 0 0 1 1323.1 318.9A2.37 2.37 0 0 1 1326.7 316.4A2.37 2.37 0 0 1 1331.1 315.8A2.37 2.37 0 0 1 1335.2 317.4A2.37 2.37 0 0 1 1338.2 320.7A2.37 2.37 0 0 1 1339.2 325.0Z"/><path d="M1373.0 371.2A2.24 2.24 0 0 1 1371.7 375.2A2.24 2.24 0 0 1 1368.3 377.6A2.24 2.24 0 0 1 1364.2 377.6A2.24 2.24 0 0 1 1360.8 375.2A2.24 2.24 0 0 1 1359.5 371.2A2.24 2.24 0 0 1 1360.8 367.3A2.24 2.24 0 0 1 1364.2 364.9A2.24 2.24 0 0 1 1368.3 364.9A2.24 2.24 0 0 1 1371.7 367.3A2.24 2.24 0 0 1 1373.0 371.2Z"/><path d="M1376.7 401.2A2.24 2.24 0 0 1 1375.4 405.2A2.24 2.24 0 0 1 1372.1 407.6A2.24 2.24 0 0 1 1367.9 407.6A2.24 2.24 0 0 1 1364.6 405.2A2.24 2.24 0 0 1 1363.3 401.2A2.24 2.24 0 0 1 1364.6 397.3A2.24 2.24 0 0 1 1367.9 394.9A2.24 2.24 0 0 1 1372.1 394.9A2.24 2.24 0 0 1 1375.4 397.3A2.24 2.24 0 0 1 1376.7 401.2Z"/><path d="M1419.2 427.5A2.24 2.24 0 0 1 1417.9 431.4A2.24 2.24 0 0 1 1414.6 433.9A2.24 2.24 0 0 1 1410.4 433.9A2.24 2.24 0 0 1 1407.1 431.4A2.24 2.24 0 0 1 1405.8 427.5A2.24 2.24 0 0 1 1407.1 423.6A2.24 2.24 0 0 1 1410.4 421.1A2.24 2.24 0 0 1 1414.6 421.1A2.24 2.24 0 0 1 1417.9 423.6A2.24 2.24 0 0 1 1419.2 427.5Z"/><path d="M1433.0 443.8A2.24 2.24 0 0 1 1431.7 447.7A2.24 2.24 0 0 1 1428.3 450.1A2.24 2.24 0 0 1 1424.2 450.1A2.24 2.24 0 0 1 1420.8 447.7A2.24 2.24 0 0 1 1419.5 443.8A2.24 2.24 0 0 1 1420.8 439.8A2.24 2.24 0 0 1 1424.2 437.4A2.24 2.24 0 0 1 1428.3 437.4A2.24 2.24 0 0 1 1431.7 439.8A2.24 2.24 0 0 1 1433.0 443.8Z"/><path d="M1446.7 461.2A2.24 2.24 0 0 1 1445.4 465.2A2.24 2.24 0 0 1 1442.1 467.6A2.24 2.24 0 0 1 1437.9 467.6A2.24 2.24 0 0 1 1434.6 465.2A2.24 2.24 0 0 1 1433.3 461.2A2.24 2.24 0 0 1 1434.6 457.3A2.24 2.24 0 0 1 1437.9 454.9A2.24 2.24 0 0 1 1442.1 454.9A2.24 2.24 0 0 1 1445.4 457.3A2.24 2.24 0 0 1 1446.7 461.2Z"/><path d="M1423.8 501.2A2.4 2.4 0 0 1 1422.8 505.6A2.4 2.4 0 0 1 1420.0 509.1A2.4 2.4 0 0 1 1416.0 511.1A2.4 2.4 0 0 1 1411.5 511.1A2.4 2.4 0 0 1 1407.5 509.1A2.4 2.4 0 0 1 1404.7 505.6A2.4 2.4 0 0 1 1403.7 501.2A2.4 2.4 0 0 1 1404.7 496.9A2.4 2.4 0 0 1 1407.5 493.4A2.4 2.4 0 0 1 1411.5 491.4A2.4 2.4 0 0 1 1416.0 491.4A2.4 2.4 0 0 1 1420.0 493.4A2.4 2.4 0 0 1 1422.8 496.9A2.4 2.4 0 0 1 1423.8 501.2Z"/><path d="M659.2 667.5A2.37 2.37 0 0 1 658.2 671.8A2.37 2.37 0 0 1 655.2 675.1A2.37 2.37 0 0 1 651.1 676.7A2.37 2.37 0 0 1 646.7 676.1A2.37 2.37 0 0 1 643.1 673.6A2.37 2.37 0 0 1 641.0 669.7A2.37 2.37 0 0 1 641.0 665.3A2.37 2.37 0 0 1 643.1 661.4A2.37 2.37 0 0 1 646.7 658.9A2.37 2.37 0 0 1 651.1 658.3A2.37 2.37 0 0 1 655.2 659.9A2.37 2.37 0 0 1 658.2 663.2A2.37 2.37 0 0 1 659.2 667.5Z"/><path d="M673.0 681.2A2.37 2.37 0 0 1 671.9 685.5A2.37 2.37 0 0 1 669.0 688.9A2.37 2.37 0 0 1 664.9 690.4A2.37 2.37 0 0 1 660.5 689.9A2.37 2.37 0 0 1 656.8 687.4A2.37 2.37 0 0 1 654.8 683.5A2.37 2.37 0 0 1 654.8 679.0A2.37 2.37 0 0 1 656.8 675.1A2.37 2.37 0 0 1 660.5 672.6A2.37 2.37 0 0 1 664.9 672.1A2.37 2.37 0 0 1 669.0 673.6A2.37 2.37 0 0 1 671.9 677.0A2.37 2.37 0 0 1 673.0 681.2Z"/><path d="M658.0 701.2A2.37 2.37 0 0 1 656.9 705.5A2.37 2.37 0 0 1 654.0 708.9A2.37 2.37 0 0 1 649.9 710.4A2.37 2.37 0 0 1 645.5 709.9A2.37 2.37 0 0 1 641.8 707.4A2.37 2.37 0 0 1 639.8 703.5A2.37 2.37 0 0 1 639.8 699.0A2.37 2.37 0 0 1 641.8 695.1A2.37 2.37 0 0 1 645.5 692.6A2.37 2.37 0 0 1 649.9 692.1A2.37 2.37 0 0 1 654.0 693.6A2.37 2.37 0 0 1 656.9 697.0A2.37 2.37 0 0 1 658.0 701.2Z"/><path d="M690.5 732.5A2.37 2.37 0 0 1 689.4 736.8A2.37 2.37 0 0 1 686.5 740.1A2.37 2.37 0 0 1 682.4 741.7A2.37 2.37 0 0 1 678.0 741.1A2.37 2.37 0 0 1 674.3 738.6A2.37 2.37 0 0 1 672.3 734.7A2.37 2.37 0 0 1 672.3 730.3A2.37 2.37 0 0 1 674.3 726.4A2.37 2.37 0 0 1 678.0 723.9A2.37 2.37 0 0 1 682.4 723.3A2.37 2.37 0 0 1 686.5 724.9A2.37 2.37 0 0 1 689.4 728.2A2.37 2.37 0 0 1 690.5 732.5Z"/><path d="M736.7 751.2A2.37 2.37 0 0 1 735.7 755.5A2.37 2.37 0 0 1 732.7 758.9A2.37 2.37 0 0 1 728.6 760.4A2.37 2.37 0 0 1 724.2 759.9A2.37 2.37 0 0 1 720.6 757.4A2.37 2.37 0 0 1 718.5 753.5A2.37 2.37 0 0 1 718.5 749.0A2.37 2.37 0 0 1 720.6 745.1A2.37 2.37 0 0 1 724.2 742.6A2.37 2.37 0 0 1 728.6 742.1A2.37 2.37 0 0 1 732.7 743.6A2.37 2.37 0 0 1 735.7 747.0A2.37 2.37 0 0 1 736.7 751.2Z"/><path d="M722.1 762.5A2.33 2.33 0 0 1 721.0 766.7A2.33 2.33 0 0 1 718.0 769.8A2.33 2.33 0 0 1 713.8 770.9A2.33 2.33 0 0 1 709.5 769.8A2.33 2.33 0 0 1 706.5 766.7A2.33 2.33 0 0 1 705.4 762.5A2.33 2.33 0 0 1 706.5 758.3A2.33 2.33 0 0 1 709.5 755.2A2.33 2.33 0 0 1 713.8 754.1A2.33 2.33 0 0 1 718.0 755.2A2.33 2.33 0 0 1 721.0 758.3A2.33 2.33 0 0 1 722.1 762.5Z"/><path d="M803.0 652.5A2.37 2.37 0 0 1 801.9 656.8A2.37 2.37 0 0 1 799.0 660.1A2.37 2.37 0 0 1 794.9 661.7A2.37 2.37 0 0 1 790.5 661.1A2.37 2.37 0 0 1 786.8 658.6A2.37 2.37 0 0 1 784.8 654.7A2.37 2.37 0 0 1 784.8 650.3A2.37 2.37 0 0 1 786.8 646.4A2.37 2.37 0 0 1 790.5 643.9A2.37 2.37 0 0 1 794.9 643.3A2.37 2.37 0 0 1 799.0 644.9A2.37 2.37 0 0 1 801.9 648.2A2.37 2.37 0 0 1 803.0 652.5Z"/><path d="M760.8 858.0A2.37 2.37 0 0 1 759.8 862.3A2.37 2.37 0 0 1 756.8 865.6A2.37 2.37 0 0 1 752.7 867.2A2.37 2.37 0 0 1 748.3 866.6A2.37 2.37 0 0 1 744.7 864.1A2.37 2.37 0 0 1 742.6 860.2A2.37 2.37 0 0 1 742.6 855.8A2.37 2.37 0 0 1 744.7 851.9A2.37 2.37 0 0 1 748.3 849.4A2.37 2.37 0 0 1 752.7 848.8A2.37 2.37 0 0 1 756.8 850.4A2.37 2.37 0 0 1 759.8 853.7A2.37 2.37 0 0 1 760.8 858.0Z"/><path d="M787.2 873.6A2.37 2.37 0 0 1 786.2 877.9A2.37 2.37 0 0 1 783.2 881.2A2.37 2.37 0 0 1 779.1 882.8A2.37 2.37 0 0 1 774.7 882.2A2.37 2.37 0 0 1 771.1 879.7A2.37 2.37 0 0 1 769.0 875.8A2.37 2.37 0 0 1 769.0 871.4A2.37 2.37 0 0 1 771.1 867.5A2.37 2.37 0 0 1 774.7 865.0A2.37 2.37 0 0 1 779.1 864.4A2.37 2.37 0 0 1 783.2 866.0A2.37 2.37 0 0 1 786.2 869.3A2.37 2.37 0 0 1 787.2 873.6Z"/><path d="M761.2 894.0A2.33 2.33 0 0 1 760.6 898.3A2.33 2.33 0 0 1 758.9 902.4A2.33 2.33 0 0 1 756.3 905.9A2.33 2.33 0 0 1 752.8 908.5A2.33 2.33 0 0 1 748.7 910.2A2.33 2.33 0 0 1 744.4 910.8A2.33 2.33 0 0 1 740.1 910.2A2.33 2.33 0 0 1 736.0 908.5A2.33 2.33 0 0 1 732.5 905.9A2.33 2.33 0 0 1 729.9 902.4A2.33 2.33 0 0 1 728.2 898.3A2.33 2.33 0 0 1 727.6 894.0A2.33 2.33 0 0 1 728.2 889.7A2.33 2.33 0 0 1 729.9 885.6A2.33 2.33 0 0 1 732.5 882.1A2.33 2.33 0 0 1 736.0 879.5A2.33 2.33 0 0 1 740.1 877.8A2.33 2.33 0 0 1 744.4 877.2A2.33 2.33 0 0 1 748.7 877.8A2.33 2.33 0 0 1 752.8 879.5A2.33 2.33 0 0 1 756.3 882.1A2.33 2.33 0 0 1 758.9 885.6A2.33 2.33 0 0 1 760.6 889.7A2.33 2.33 0 0 1 761.2 894.0Z"/><path d="M731.8 905.0A2.3 2.3 0 0 1 731.0 909.2A2.3 2.3 0 0 1 728.7 912.9A2.3 2.3 0 0 1 725.2 915.5A2.3 2.3 0 0 1 721.1 916.7A2.3 2.3 0 0 1 716.8 916.3A2.3 2.3 0 0 1 712.9 914.4A2.3 2.3 0 0 1 710.0 911.2A2.3 2.3 0 0 1 708.4 907.2A2.3 2.3 0 0 1 708.4 902.8A2.3 2.3 0 0 1 710.0 898.8A2.3 2.3 0 0 1 712.9 895.6A2.3 2.3 0 0 1 716.8 893.7A2.3 2.3 0 0 1 721.1 893.3A2.3 2.3 0 0 1 725.2 894.5A2.3 2.3 0 0 1 728.7 897.1A2.3 2.3 0 0 1 731.0 900.8A2.3 2.3 0 0 1 731.8 905.0Z"/><path d="M911.2 811.2A2.33 2.33 0 0 1 910.1 815.4A2.33 2.33 0 0 1 907.0 818.5A2.33 2.33 0 0 1 902.8 819.6A2.33 2.33 0 0 1 898.6 818.5A2.33 2.33 0 0 1 895.5 815.4A2.33 2.33 0 0 1 894.4 811.2A2.33 2.33 0 0 1 895.5 807.0A2.33 2.33 0 0 1 898.6 803.9A2.33 2.33 0 0 1 902.8 802.8A2.33 2.33 0 0 1 907.0 803.9A2.33 2.33 0 0 1 910.1 807.0A2.33 2.33 0 0 1 911.2 811.2Z"/><path d="M1033.0 695.1A2.4 2.4 0 0 1 1032.0 699.5A2.4 2.4 0 0 1 1029.2 703.0A2.4 2.4 0 0 1 1025.1 704.9A2.4 2.4 0 0 1 1020.7 704.9A2.4 2.4 0 0 1 1016.6 703.0A2.4 2.4 0 0 1 1013.8 699.5A2.4 2.4 0 0 1 1012.8 695.1A2.4 2.4 0 0 1 1013.8 690.7A2.4 2.4 0 0 1 1016.6 687.2A2.4 2.4 0 0 1 1020.7 685.3A2.4 2.4 0 0 1 1025.1 685.3A2.4 2.4 0 0 1 1029.2 687.2A2.4 2.4 0 0 1 1032.0 690.7A2.4 2.4 0 0 1 1033.0 695.1Z"/><path d="M1010.0 718.1A2.4 2.4 0 0 1 1009.0 722.5A2.4 2.4 0 0 1 1006.2 726.0A2.4 2.4 0 0 1 1002.1 727.9A2.4 2.4 0 0 1 997.7 727.9A2.4 2.4 0 0 1 993.6 726.0A2.4 2.4 0 0 1 990.8 722.5A2.4 2.4 0 0 1 989.8 718.1A2.4 2.4 0 0 1 990.8 713.7A2.4 2.4 0 0 1 993.6 710.2A2.4 2.4 0 0 1 997.7 708.3A2.4 2.4 0 0 1 1002.1 708.3A2.4 2.4 0 0 1 1006.2 710.2A2.4 2.4 0 0 1 1009.0 713.7A2.4 2.4 0 0 1 1010.0 718.1Z"/><path d="M987.1 742.4A2.4 2.4 0 0 1 986.1 746.8A2.4 2.4 0 0 1 983.3 750.3A2.4 2.4 0 0 1 979.2 752.2A2.4 2.4 0 0 1 974.8 752.2A2.4 2.4 0 0 1 970.7 750.3A2.4 2.4 0 0 1 967.9 746.8A2.4 2.4 0 0 1 966.9 742.4A2.4 2.4 0 0 1 967.9 738.0A2.4 2.4 0 0 1 970.7 734.5A2.4 2.4 0 0 1 974.8 732.6A2.4 2.4 0 0 1 979.2 732.6A2.4 2.4 0 0 1 983.3 734.5A2.4 2.4 0 0 1 986.1 738.0A2.4 2.4 0 0 1 987.1 742.4Z"/><path d="M964.1 765.3A2.4 2.4 0 0 1 963.1 769.7A2.4 2.4 0 0 1 960.3 773.2A2.4 2.4 0 0 1 956.2 775.1A2.4 2.4 0 0 1 951.8 775.1A2.4 2.4 0 0 1 947.7 773.2A2.4 2.4 0 0 1 944.9 769.7A2.4 2.4 0 0 1 943.9 765.3A2.4 2.4 0 0 1 944.9 760.9A2.4 2.4 0 0 1 947.7 757.4A2.4 2.4 0 0 1 951.8 755.5A2.4 2.4 0 0 1 956.2 755.5A2.4 2.4 0 0 1 960.3 757.4A2.4 2.4 0 0 1 963.1 760.9A2.4 2.4 0 0 1 964.1 765.3Z"/><path d="M941.1 786.9A2.4 2.4 0 0 1 940.1 791.3A2.4 2.4 0 0 1 937.3 794.8A2.4 2.4 0 0 1 933.2 796.7A2.4 2.4 0 0 1 928.8 796.7A2.4 2.4 0 0 1 924.7 794.8A2.4 2.4 0 0 1 921.9 791.3A2.4 2.4 0 0 1 920.9 786.9A2.4 2.4 0 0 1 921.9 782.5A2.4 2.4 0 0 1 924.7 779.0A2.4 2.4 0 0 1 928.8 777.1A2.4 2.4 0 0 1 933.2 777.1A2.4 2.4 0 0 1 937.3 779.0A2.4 2.4 0 0 1 940.1 782.5A2.4 2.4 0 0 1 941.1 786.9Z"/><path d="M919.6 811.2A2.4 2.4 0 0 1 918.6 815.6A2.4 2.4 0 0 1 915.8 819.1A2.4 2.4 0 0 1 911.7 821.0A2.4 2.4 0 0 1 907.3 821.0A2.4 2.4 0 0 1 903.2 819.1A2.4 2.4 0 0 1 900.4 815.6A2.4 2.4 0 0 1 899.4 811.2A2.4 2.4 0 0 1 900.4 806.8A2.4 2.4 0 0 1 903.2 803.3A2.4 2.4 0 0 1 907.3 801.4A2.4 2.4 0 0 1 911.7 801.4A2.4 2.4 0 0 1 915.8 803.3A2.4 2.4 0 0 1 918.6 806.8A2.4 2.4 0 0 1 919.6 811.2Z"/><path d="M1075.4 832.8A2.36 2.36 0 0 1 1074.7 837.2A2.36 2.36 0 0 1 1072.6 841.1A2.36 2.36 0 0 1 1069.4 844.1A2.36 2.36 0 0 1 1065.3 845.8A2.36 2.36 0 0 1 1060.9 846.2A2.36 2.36 0 0 1 1056.6 845.1A2.36 2.36 0 0 1 1052.9 842.7A2.36 2.36 0 0 1 1050.2 839.2A2.36 2.36 0 0 1 1048.7 835.0A2.36 2.36 0 0 1 1048.7 830.6A2.36 2.36 0 0 1 1050.2 826.4A2.36 2.36 0 0 1 1052.9 822.9A2.36 2.36 0 0 1 1056.6 820.5A2.36 2.36 0 0 1 1060.9 819.4A2.36 2.36 0 0 1 1065.3 819.8A2.36 2.36 0 0 1 1069.4 821.5A2.36 2.36 0 0 1 1072.6 824.5A2.36 2.36 0 0 1 1074.7 828.4A2.36 2.36 0 0 1 1075.4 832.8Z"/><path d="M1105.0 832.8A2.31 2.31 0 0 1 1104.4 837.1A2.31 2.31 0 0 1 1102.6 841.1A2.31 2.31 0 0 1 1099.9 844.5A2.31 2.31 0 0 1 1096.3 847.0A2.31 2.31 0 0 1 1092.2 848.4A2.31 2.31 0 0 1 1087.9 848.7A2.31 2.31 0 0 1 1083.7 847.8A2.31 2.31 0 0 1 1079.8 845.8A2.31 2.31 0 0 1 1076.6 842.9A2.31 2.31 0 0 1 1074.4 839.2A2.31 2.31 0 0 1 1073.2 835.0A2.31 2.31 0 0 1 1073.2 830.6A2.31 2.31 0 0 1 1074.4 826.4A2.31 2.31 0 0 1 1076.6 822.7A2.31 2.31 0 0 1 1079.8 819.8A2.31 2.31 0 0 1 1083.7 817.8A2.31 2.31 0 0 1 1087.9 816.9A2.31 2.31 0 0 1 1092.2 817.2A2.31 2.31 0 0 1 1096.3 818.6A2.31 2.31 0 0 1 1099.9 821.1A2.31 2.31 0 0 1 1102.6 824.5A2.31 2.31 0 0 1 1104.4 828.5A2.31 2.31 0 0 1 1105.0 832.8Z"/><path d="M1128.6 827.4A2.33 2.33 0 0 1 1127.8 831.7A2.33 2.33 0 0 1 1125.7 835.5A2.33 2.33 0 0 1 1122.3 838.3A2.33 2.33 0 0 1 1118.2 839.8A2.33 2.33 0 0 1 1113.8 839.8A2.33 2.33 0 0 1 1109.7 838.3A2.33 2.33 0 0 1 1106.3 835.5A2.33 2.33 0 0 1 1104.2 831.7A2.33 2.33 0 0 1 1103.4 827.4A2.33 2.33 0 0 1 1104.2 823.1A2.33 2.33 0 0 1 1106.3 819.3A2.33 2.33 0 0 1 1109.7 816.5A2.33 2.33 0 0 1 1113.8 815.0A2.33 2.33 0 0 1 1118.2 815.0A2.33 2.33 0 0 1 1122.3 816.5A2.33 2.33 0 0 1 1125.7 819.3A2.33 2.33 0 0 1 1127.8 823.1A2.33 2.33 0 0 1 1128.6 827.4Z"/><path d="M1105.0 876.0A2.37 2.37 0 0 1 1104.0 880.3A2.37 2.37 0 0 1 1101.0 883.6A2.37 2.37 0 0 1 1096.9 885.2A2.37 2.37 0 0 1 1092.5 884.6A2.37 2.37 0 0 1 1088.9 882.1A2.37 2.37 0 0 1 1086.8 878.2A2.37 2.37 0 0 1 1086.8 873.8A2.37 2.37 0 0 1 1088.9 869.9A2.37 2.37 0 0 1 1092.5 867.4A2.37 2.37 0 0 1 1096.9 866.8A2.37 2.37 0 0 1 1101.0 868.4A2.37 2.37 0 0 1 1104.0 871.7A2.37 2.37 0 0 1 1105.0 876.0Z"/><path d="M1137.5 876.0A2.42 2.42 0 0 1 1136.2 880.3A2.42 2.42 0 0 1 1132.8 883.3A2.42 2.42 0 0 1 1128.4 883.9A2.42 2.42 0 0 1 1124.3 882.0A2.42 2.42 0 0 1 1121.8 878.2A2.42 2.42 0 0 1 1121.8 873.8A2.42 2.42 0 0 1 1124.3 870.0A2.42 2.42 0 0 1 1128.4 868.1A2.42 2.42 0 0 1 1132.8 868.7A2.42 2.42 0 0 1 1136.2 871.7A2.42 2.42 0 0 1 1137.5 876.0Z"/><path d="M1179.9 877.4A2.33 2.33 0 0 1 1179.1 881.7A2.33 2.33 0 0 1 1177.0 885.5A2.33 2.33 0 0 1 1173.6 888.3A2.33 2.33 0 0 1 1169.5 889.8A2.33 2.33 0 0 1 1165.1 889.8A2.33 2.33 0 0 1 1161.0 888.3A2.33 2.33 0 0 1 1157.6 885.5A2.33 2.33 0 0 1 1155.5 881.7A2.33 2.33 0 0 1 1154.7 877.4A2.33 2.33 0 0 1 1155.5 873.1A2.33 2.33 0 0 1 1157.6 869.3A2.33 2.33 0 0 1 1161.0 866.5A2.33 2.33 0 0 1 1165.1 865.0A2.33 2.33 0 0 1 1169.5 865.0A2.33 2.33 0 0 1 1173.6 866.5A2.33 2.33 0 0 1 1177.0 869.3A2.33 2.33 0 0 1 1179.1 873.1A2.33 2.33 0 0 1 1179.9 877.4Z"/><path d="M1202.0 862.5A2.4 2.4 0 0 1 1200.1 866.4A2.4 2.4 0 0 1 1195.9 867.4A2.4 2.4 0 0 1 1192.5 864.7A2.4 2.4 0 0 1 1192.5 860.3A2.4 2.4 0 0 1 1195.9 857.6A2.4 2.4 0 0 1 1200.1 858.6A2.4 2.4 0 0 1 1202.0 862.5Z"/><path d="M1220.0 880.0A2.42 2.42 0 0 1 1218.7 884.3A2.42 2.42 0 0 1 1215.3 887.3A2.42 2.42 0 0 1 1210.9 887.9A2.42 2.42 0 0 1 1206.8 886.0A2.42 2.42 0 0 1 1204.3 882.2A2.42 2.42 0 0 1 1204.3 877.8A2.42 2.42 0 0 1 1206.8 874.0A2.42 2.42 0 0 1 1210.9 872.1A2.42 2.42 0 0 1 1215.3 872.7A2.42 2.42 0 0 1 1218.7 875.7A2.42 2.42 0 0 1 1220.0 880.0Z"/><path d="M1201.0 893.6A2.24 2.24 0 0 1 1199.7 897.5A2.24 2.24 0 0 1 1196.4 900.0A2.24 2.24 0 0 1 1192.2 900.0A2.24 2.24 0 0 1 1188.9 897.5A2.24 2.24 0 0 1 1187.6 893.6A2.24 2.24 0 0 1 1188.9 889.7A2.24 2.24 0 0 1 1192.2 887.2A2.24 2.24 0 0 1 1196.4 887.2A2.24 2.24 0 0 1 1199.7 889.7A2.24 2.24 0 0 1 1201.0 893.6Z"/><path d="M1218.6 900.3A2.42 2.42 0 0 1 1217.3 904.6A2.42 2.42 0 0 1 1213.9 907.6A2.42 2.42 0 0 1 1209.5 908.2A2.42 2.42 0 0 1 1205.4 906.3A2.42 2.42 0 0 1 1202.9 902.5A2.42 2.42 0 0 1 1202.9 898.1A2.42 2.42 0 0 1 1205.4 894.3A2.42 2.42 0 0 1 1209.5 892.4A2.42 2.42 0 0 1 1213.9 893.0A2.42 2.42 0 0 1 1217.3 896.0A2.42 2.42 0 0 1 1218.6 900.3Z"/><path d="M1235.8 838.2A2.4 2.4 0 0 1 1233.9 842.1A2.4 2.4 0 0 1 1229.7 843.1A2.4 2.4 0 0 1 1226.3 840.4A2.4 2.4 0 0 1 1226.3 836.0A2.4 2.4 0 0 1 1229.7 833.3A2.4 2.4 0 0 1 1233.9 834.3A2.4 2.4 0 0 1 1235.8 838.2Z"/><path d="M1057.9 904.4A2.42 2.42 0 0 1 1056.6 908.7A2.42 2.42 0 0 1 1053.2 911.7A2.42 2.42 0 0 1 1048.8 912.3A2.42 2.42 0 0 1 1044.7 910.4A2.42 2.42 0 0 1 1042.2 906.6A2.42 2.42 0 0 1 1042.2 902.2A2.42 2.42 0 0 1 1044.7 898.4A2.42 2.42 0 0 1 1048.8 896.5A2.42 2.42 0 0 1 1053.2 897.1A2.42 2.42 0 0 1 1056.6 900.1A2.42 2.42 0 0 1 1057.9 904.4Z"/><path d="M952.3 903.0A2.3 2.3 0 0 1 951.5 907.2A2.3 2.3 0 0 1 949.2 910.9A2.3 2.3 0 0 1 945.7 913.5A2.3 2.3 0 0 1 941.6 914.7A2.3 2.3 0 0 1 937.3 914.3A2.3 2.3 0 0 1 933.4 912.4A2.3 2.3 0 0 1 930.5 909.2A2.3 2.3 0 0 1 928.9 905.2A2.3 2.3 0 0 1 928.9 900.8A2.3 2.3 0 0 1 930.5 896.8A2.3 2.3 0 0 1 933.4 893.6A2.3 2.3 0 0 1 937.3 891.7A2.3 2.3 0 0 1 941.6 891.3A2.3 2.3 0 0 1 945.7 892.5A2.3 2.3 0 0 1 949.2 895.1A2.3 2.3 0 0 1 951.5 898.8A2.3 2.3 0 0 1 952.3 903.0Z"/><path d="M975.1 905.0A2.4 2.4 0 0 1 974.1 909.4A2.4 2.4 0 0 1 971.3 912.9A2.4 2.4 0 0 1 967.2 914.8A2.4 2.4 0 0 1 962.8 914.8A2.4 2.4 0 0 1 958.7 912.9A2.4 2.4 0 0 1 955.9 909.4A2.4 2.4 0 0 1 954.9 905.0A2.4 2.4 0 0 1 955.9 900.6A2.4 2.4 0 0 1 958.7 897.1A2.4 2.4 0 0 1 962.8 895.2A2.4 2.4 0 0 1 967.2 895.2A2.4 2.4 0 0 1 971.3 897.1A2.4 2.4 0 0 1 974.1 900.6A2.4 2.4 0 0 1 975.1 905.0Z"/><path d="M1250.9 850.0A2.27 2.27 0 0 1 1250.1 854.2A2.27 2.27 0 0 1 1247.7 857.7A2.27 2.27 0 0 1 1244.2 860.1A2.27 2.27 0 0 1 1240.0 860.9A2.27 2.27 0 0 1 1235.8 860.1A2.27 2.27 0 0 1 1232.3 857.7A2.27 2.27 0 0 1 1229.9 854.2A2.27 2.27 0 0 1 1229.1 850.0A2.27 2.27 0 0 1 1229.9 845.8A2.27 2.27 0 0 1 1232.3 842.3A2.27 2.27 0 0 1 1235.8 839.9A2.27 2.27 0 0 1 1240.0 839.1A2.27 2.27 0 0 1 1244.2 839.9A2.27 2.27 0 0 1 1247.7 842.3A2.27 2.27 0 0 1 1250.1 845.8A2.27 2.27 0 0 1 1250.9 850.0Z"/><path d="M1272.1 848.0A2.4 2.4 0 0 1 1271.1 852.4A2.4 2.4 0 0 1 1268.3 855.9A2.4 2.4 0 0 1 1264.2 857.8A2.4 2.4 0 0 1 1259.8 857.8A2.4 2.4 0 0 1 1255.7 855.9A2.4 2.4 0 0 1 1252.9 852.4A2.4 2.4 0 0 1 1251.9 848.0A2.4 2.4 0 0 1 1252.9 843.6A2.4 2.4 0 0 1 1255.7 840.1A2.4 2.4 0 0 1 1259.8 838.2A2.4 2.4 0 0 1 1264.2 838.2A2.4 2.4 0 0 1 1268.3 840.1A2.4 2.4 0 0 1 1271.1 843.6A2.4 2.4 0 0 1 1272.1 848.0Z"/><path d="M1279.8 872.0A2.3 2.3 0 0 1 1279.0 876.2A2.3 2.3 0 0 1 1276.7 879.9A2.3 2.3 0 0 1 1273.2 882.5A2.3 2.3 0 0 1 1269.1 883.7A2.3 2.3 0 0 1 1264.8 883.3A2.3 2.3 0 0 1 1260.9 881.4A2.3 2.3 0 0 1 1258.0 878.2A2.3 2.3 0 0 1 1256.4 874.2A2.3 2.3 0 0 1 1256.4 869.8A2.3 2.3 0 0 1 1258.0 865.8A2.3 2.3 0 0 1 1260.9 862.6A2.3 2.3 0 0 1 1264.8 860.7A2.3 2.3 0 0 1 1269.1 860.3A2.3 2.3 0 0 1 1273.2 861.5A2.3 2.3 0 0 1 1276.7 864.1A2.3 2.3 0 0 1 1279.0 867.8A2.3 2.3 0 0 1 1279.8 872.0Z"/><path d="M1250.1 880.0A2.4 2.4 0 0 1 1249.1 884.4A2.4 2.4 0 0 1 1246.3 887.9A2.4 2.4 0 0 1 1242.2 889.8A2.4 2.4 0 0 1 1237.8 889.8A2.4 2.4 0 0 1 1233.7 887.9A2.4 2.4 0 0 1 1230.9 884.4A2.4 2.4 0 0 1 1229.9 880.0A2.4 2.4 0 0 1 1230.9 875.6A2.4 2.4 0 0 1 1233.7 872.1A2.4 2.4 0 0 1 1237.8 870.2A2.4 2.4 0 0 1 1242.2 870.2A2.4 2.4 0 0 1 1246.3 872.1A2.4 2.4 0 0 1 1249.1 875.6A2.4 2.4 0 0 1 1250.1 880.0Z"/><path d="M1229.2 895.0A2.37 2.37 0 0 1 1228.2 899.3A2.37 2.37 0 0 1 1225.2 902.6A2.37 2.37 0 0 1 1221.1 904.2A2.37 2.37 0 0 1 1216.7 903.6A2.37 2.37 0 0 1 1213.1 901.1A2.37 2.37 0 0 1 1211.0 897.2A2.37 2.37 0 0 1 1211.0 892.8A2.37 2.37 0 0 1 1213.1 888.9A2.37 2.37 0 0 1 1216.7 886.4A2.37 2.37 0 0 1 1221.1 885.8A2.37 2.37 0 0 1 1225.2 887.4A2.37 2.37 0 0 1 1228.2 890.7A2.37 2.37 0 0 1 1229.2 895.0Z"/><path d="M1263.4 900.0A2.33 2.33 0 0 1 1262.3 904.2A2.33 2.33 0 0 1 1259.2 907.3A2.33 2.33 0 0 1 1255.0 908.4A2.33 2.33 0 0 1 1250.8 907.3A2.33 2.33 0 0 1 1247.7 904.2A2.33 2.33 0 0 1 1246.6 900.0A2.33 2.33 0 0 1 1247.7 895.8A2.33 2.33 0 0 1 1250.8 892.7A2.33 2.33 0 0 1 1255.0 891.6A2.33 2.33 0 0 1 1259.2 892.7A2.33 2.33 0 0 1 1262.3 895.8A2.33 2.33 0 0 1 1263.4 900.0Z"/><path d="M1449.0 115.0A2.4 2.4 0 0 1 1447.1 118.9A2.4 2.4 0 0 1 1442.9 119.9A2.4 2.4 0 0 1 1439.5 117.2A2.4 2.4 0 0 1 1439.5 112.8A2.4 2.4 0 0 1 1442.9 110.1A2.4 2.4 0 0 1 1447.1 111.1A2.4 2.4 0 0 1 1449.0 115.0Z"/><path d="M1449.0 250.0A2.4 2.4 0 0 1 1447.1 253.9A2.4 2.4 0 0 1 1442.9 254.9A2.4 2.4 0 0 1 1439.5 252.2A2.4 2.4 0 0 1 1439.5 247.8A2.4 2.4 0 0 1 1442.9 245.1A2.4 2.4 0 0 1 1447.1 246.1A2.4 2.4 0 0 1 1449.0 250.0Z"/><path d="M879.4 545.0A2.33 2.33 0 0 1 878.3 549.2A2.33 2.33 0 0 1 875.2 552.3A2.33 2.33 0 0 1 871.0 553.4A2.33 2.33 0 0 1 866.8 552.3A2.33 2.33 0 0 1 863.7 549.2A2.33 2.33 0 0 1 862.6 545.0A2.33 2.33 0 0 1 863.7 540.8A2.33 2.33 0 0 1 866.8 537.7A2.33 2.33 0 0 1 871.0 536.6A2.33 2.33 0 0 1 875.2 537.7A2.33 2.33 0 0 1 878.3 540.8A2.33 2.33 0 0 1 879.4 545.0Z"/><path d="M903.1 567.0A2.4 2.4 0 0 1 902.1 571.4A2.4 2.4 0 0 1 899.3 574.9A2.4 2.4 0 0 1 895.2 576.8A2.4 2.4 0 0 1 890.8 576.8A2.4 2.4 0 0 1 886.7 574.9A2.4 2.4 0 0 1 883.9 571.4A2.4 2.4 0 0 1 882.9 567.0A2.4 2.4 0 0 1 883.9 562.6A2.4 2.4 0 0 1 886.7 559.1A2.4 2.4 0 0 1 890.8 557.2A2.4 2.4 0 0 1 895.2 557.2A2.4 2.4 0 0 1 899.3 559.1A2.4 2.4 0 0 1 902.1 562.6A2.4 2.4 0 0 1 903.1 567.0Z"/><path d="M1419.0 535.0A2.4 2.4 0 0 1 1417.1 538.9A2.4 2.4 0 0 1 1412.9 539.9A2.4 2.4 0 0 1 1409.5 537.2A2.4 2.4 0 0 1 1409.5 532.8A2.4 2.4 0 0 1 1412.9 530.1A2.4 2.4 0 0 1 1417.1 531.1A2.4 2.4 0 0 1 1419.0 535.0Z"/><path d="M1425.0 548.0A2.4 2.4 0 0 1 1423.1 551.9A2.4 2.4 0 0 1 1418.9 552.9A2.4 2.4 0 0 1 1415.5 550.2A2.4 2.4 0 0 1 1415.5 545.8A2.4 2.4 0 0 1 1418.9 543.1A2.4 2.4 0 0 1 1423.1 544.1A2.4 2.4 0 0 1 1425.0 548.0Z"/><path d="M1441.0 585.0A2.4 2.4 0 0 1 1439.1 588.9A2.4 2.4 0 0 1 1434.9 589.9A2.4 2.4 0 0 1 1431.5 587.2A2.4 2.4 0 0 1 1431.5 582.8A2.4 2.4 0 0 1 1434.9 580.1A2.4 2.4 0 0 1 1439.1 581.1A2.4 2.4 0 0 1 1441.0 585.0Z"/><path d="M1445.0 598.0A2.4 2.4 0 0 1 1443.1 601.9A2.4 2.4 0 0 1 1438.9 602.9A2.4 2.4 0 0 1 1435.5 600.2A2.4 2.4 0 0 1 1435.5 595.8A2.4 2.4 0 0 1 1438.9 593.1A2.4 2.4 0 0 1 1443.1 594.1A2.4 2.4 0 0 1 1445.0 598.0Z"/></g><g fill="#fff" stroke="none"><path d="M762.2 198.8A2.24 2.24 0 0 1 760.9 202.7A2.24 2.24 0 0 1 757.6 205.2A2.24 2.24 0 0 1 753.4 205.2A2.24 2.24 0 0 1 750.1 202.7A2.24 2.24 0 0 1 748.8 198.8A2.24 2.24 0 0 1 750.1 194.9A2.24 2.24 0 0 1 753.4 192.4A2.24 2.24 0 0 1 757.6 192.4A2.24 2.24 0 0 1 760.9 194.9A2.24 2.24 0 0 1 762.2 198.8Z"/><path d="M830.5 216.8A2.24 2.24 0 0 1 829.2 220.7A2.24 2.24 0 0 1 825.9 223.2A2.24 2.24 0 0 1 821.7 223.2A2.24 2.24 0 0 1 818.4 220.7A2.24 2.24 0 0 1 817.1 216.8A2.24 2.24 0 0 1 818.4 212.9A2.24 2.24 0 0 1 821.7 210.4A2.24 2.24 0 0 1 825.9 210.4A2.24 2.24 0 0 1 829.2 212.9A2.24 2.24 0 0 1 830.5 216.8Z"/><path d="M663.9 251.3A2.4 2.4 0 0 1 662.9 255.7A2.4 2.4 0 0 1 660.1 259.2A2.4 2.4 0 0 1 656.0 261.1A2.4 2.4 0 0 1 651.6 261.1A2.4 2.4 0 0 1 647.5 259.2A2.4 2.4 0 0 1 644.7 255.7A2.4 2.4 0 0 1 643.7 251.3A2.4 2.4 0 0 1 644.7 246.9A2.4 2.4 0 0 1 647.5 243.4A2.4 2.4 0 0 1 651.6 241.5A2.4 2.4 0 0 1 656.0 241.5A2.4 2.4 0 0 1 660.1 243.4A2.4 2.4 0 0 1 662.9 246.9A2.4 2.4 0 0 1 663.9 251.3Z"/><path d="M650.4 262.0A2.2 2.2 0 0 1 648.7 265.6A2.2 2.2 0 0 1 644.8 266.5A2.2 2.2 0 0 1 641.6 264.0A2.2 2.2 0 0 1 641.6 260.0A2.2 2.2 0 0 1 644.8 257.5A2.2 2.2 0 0 1 648.7 258.4A2.2 2.2 0 0 1 650.4 262.0Z"/><path d="M646.8 283.8A2.3 2.3 0 0 1 646.0 288.0A2.3 2.3 0 0 1 643.7 291.7A2.3 2.3 0 0 1 640.2 294.3A2.3 2.3 0 0 1 636.1 295.5A2.3 2.3 0 0 1 631.8 295.1A2.3 2.3 0 0 1 627.9 293.2A2.3 2.3 0 0 1 625.0 290.0A2.3 2.3 0 0 1 623.4 286.0A2.3 2.3 0 0 1 623.4 281.6A2.3 2.3 0 0 1 625.0 277.6A2.3 2.3 0 0 1 627.9 274.4A2.3 2.3 0 0 1 631.8 272.5A2.3 2.3 0 0 1 636.1 272.1A2.3 2.3 0 0 1 640.2 273.3A2.3 2.3 0 0 1 643.7 275.9A2.3 2.3 0 0 1 646.0 279.6A2.3 2.3 0 0 1 646.8 283.8Z"/><path d="M673.0 278.8A2.37 2.37 0 0 1 672.0 283.1A2.37 2.37 0 0 1 669.0 286.4A2.37 2.37 0 0 1 664.9 288.0A2.37 2.37 0 0 1 660.5 287.4A2.37 2.37 0 0 1 656.9 284.9A2.37 2.37 0 0 1 654.8 281.0A2.37 2.37 0 0 1 654.8 276.6A2.37 2.37 0 0 1 656.9 272.7A2.37 2.37 0 0 1 660.5 270.2A2.37 2.37 0 0 1 664.9 269.6A2.37 2.37 0 0 1 669.0 271.2A2.37 2.37 0 0 1 672.0 274.5A2.37 2.37 0 0 1 673.0 278.8Z"/><path d="M691.0 290.0A2.24 2.24 0 0 1 689.7 293.9A2.24 2.24 0 0 1 686.4 296.4A2.24 2.24 0 0 1 682.2 296.4A2.24 2.24 0 0 1 678.9 293.9A2.24 2.24 0 0 1 677.6 290.0A2.24 2.24 0 0 1 678.9 286.1A2.24 2.24 0 0 1 682.2 283.6A2.24 2.24 0 0 1 686.4 283.6A2.24 2.24 0 0 1 689.7 286.1A2.24 2.24 0 0 1 691.0 290.0Z"/><path d="M759.2 267.5A2.37 2.37 0 0 1 758.2 271.8A2.37 2.37 0 0 1 755.2 275.1A2.37 2.37 0 0 1 751.1 276.7A2.37 2.37 0 0 1 746.7 276.1A2.37 2.37 0 0 1 743.1 273.6A2.37 2.37 0 0 1 741.0 269.7A2.37 2.37 0 0 1 741.0 265.3A2.37 2.37 0 0 1 743.1 261.4A2.37 2.37 0 0 1 746.7 258.9A2.37 2.37 0 0 1 751.1 258.3A2.37 2.37 0 0 1 755.2 259.9A2.37 2.37 0 0 1 758.2 263.2A2.37 2.37 0 0 1 759.2 267.5Z"/><path d="M750.5 281.3A2.24 2.24 0 0 1 749.2 285.2A2.24 2.24 0 0 1 745.9 287.7A2.24 2.24 0 0 1 741.7 287.7A2.24 2.24 0 0 1 738.4 285.2A2.24 2.24 0 0 1 737.1 281.3A2.24 2.24 0 0 1 738.4 277.4A2.24 2.24 0 0 1 741.7 274.9A2.24 2.24 0 0 1 745.9 274.9A2.24 2.24 0 0 1 749.2 277.4A2.24 2.24 0 0 1 750.5 281.3Z"/><path d="M840.5 289.5A2.24 2.24 0 0 1 839.2 293.4A2.24 2.24 0 0 1 835.9 295.9A2.24 2.24 0 0 1 831.7 295.9A2.24 2.24 0 0 1 828.4 293.4A2.24 2.24 0 0 1 827.1 289.5A2.24 2.24 0 0 1 828.4 285.6A2.24 2.24 0 0 1 831.7 283.1A2.24 2.24 0 0 1 835.9 283.1A2.24 2.24 0 0 1 839.2 285.6A2.24 2.24 0 0 1 840.5 289.5Z"/><path d="M1016.3 62.0A2.29 2.29 0 0 1 1015.1 66.1A2.29 2.29 0 0 1 1011.9 68.9A2.29 2.29 0 0 1 1007.7 69.5A2.29 2.29 0 0 1 1003.8 67.7A2.29 2.29 0 0 1 1001.5 64.1A2.29 2.29 0 0 1 1001.5 59.9A2.29 2.29 0 0 1 1003.8 56.3A2.29 2.29 0 0 1 1007.7 54.5A2.29 2.29 0 0 1 1011.9 55.1A2.29 2.29 0 0 1 1015.1 57.9A2.29 2.29 0 0 1 1016.3 62.0Z"/><path d="M939.2 267.5A2.37 2.37 0 0 1 938.2 271.8A2.37 2.37 0 0 1 935.2 275.1A2.37 2.37 0 0 1 931.1 276.7A2.37 2.37 0 0 1 926.7 276.1A2.37 2.37 0 0 1 923.1 273.6A2.37 2.37 0 0 1 921.0 269.7A2.37 2.37 0 0 1 921.0 265.3A2.37 2.37 0 0 1 923.1 261.4A2.37 2.37 0 0 1 926.7 258.9A2.37 2.37 0 0 1 931.1 258.3A2.37 2.37 0 0 1 935.2 259.9A2.37 2.37 0 0 1 938.2 263.2A2.37 2.37 0 0 1 939.2 267.5Z"/><path d="M1278.4 62.5A2.45 2.45 0 0 1 1276.7 66.7A2.45 2.45 0 0 1 1272.5 68.4A2.45 2.45 0 0 1 1268.3 66.7A2.45 2.45 0 0 1 1266.6 62.5A2.45 2.45 0 0 1 1268.3 58.3A2.45 2.45 0 0 1 1272.5 56.6A2.45 2.45 0 0 1 1276.7 58.3A2.45 2.45 0 0 1 1278.4 62.5Z"/><path d="M1261.3 87.5A2.29 2.29 0 0 1 1260.1 91.6A2.29 2.29 0 0 1 1256.9 94.4A2.29 2.29 0 0 1 1252.7 95.0A2.29 2.29 0 0 1 1248.8 93.2A2.29 2.29 0 0 1 1246.5 89.6A2.29 2.29 0 0 1 1246.5 85.4A2.29 2.29 0 0 1 1248.8 81.8A2.29 2.29 0 0 1 1252.7 80.0A2.29 2.29 0 0 1 1256.9 80.6A2.29 2.29 0 0 1 1260.1 83.4A2.29 2.29 0 0 1 1261.3 87.5Z"/><path d="M1255.5 107.5A2.37 2.37 0 0 1 1254.4 111.8A2.37 2.37 0 0 1 1251.5 115.1A2.37 2.37 0 0 1 1247.4 116.7A2.37 2.37 0 0 1 1243.0 116.1A2.37 2.37 0 0 1 1239.3 113.6A2.37 2.37 0 0 1 1237.3 109.7A2.37 2.37 0 0 1 1237.3 105.3A2.37 2.37 0 0 1 1239.3 101.4A2.37 2.37 0 0 1 1243.0 98.9A2.37 2.37 0 0 1 1247.4 98.3A2.37 2.37 0 0 1 1251.5 99.9A2.37 2.37 0 0 1 1254.4 103.2A2.37 2.37 0 0 1 1255.5 107.5Z"/><path d="M1275.9 138.8A2.27 2.27 0 0 1 1275.1 142.9A2.27 2.27 0 0 1 1272.7 146.5A2.27 2.27 0 0 1 1269.2 148.8A2.27 2.27 0 0 1 1265.0 149.7A2.27 2.27 0 0 1 1260.8 148.8A2.27 2.27 0 0 1 1257.3 146.5A2.27 2.27 0 0 1 1254.9 142.9A2.27 2.27 0 0 1 1254.1 138.8A2.27 2.27 0 0 1 1254.9 134.6A2.27 2.27 0 0 1 1257.3 131.0A2.27 2.27 0 0 1 1260.8 128.7A2.27 2.27 0 0 1 1265.0 127.8A2.27 2.27 0 0 1 1269.2 128.7A2.27 2.27 0 0 1 1272.7 131.0A2.27 2.27 0 0 1 1275.1 134.6A2.27 2.27 0 0 1 1275.9 138.8Z"/><path d="M1260.1 148.8A2.29 2.29 0 0 1 1258.9 152.8A2.29 2.29 0 0 1 1255.6 155.6A2.29 2.29 0 0 1 1251.4 156.2A2.29 2.29 0 0 1 1247.5 154.5A2.29 2.29 0 0 1 1245.2 150.9A2.29 2.29 0 0 1 1245.2 146.6A2.29 2.29 0 0 1 1247.5 143.0A2.29 2.29 0 0 1 1251.4 141.3A2.29 2.29 0 0 1 1255.6 141.9A2.29 2.29 0 0 1 1258.9 144.7A2.29 2.29 0 0 1 1260.1 148.8Z"/><path d="M1270.1 175.0A2.29 2.29 0 0 1 1268.9 179.1A2.29 2.29 0 0 1 1265.6 181.9A2.29 2.29 0 0 1 1261.4 182.5A2.29 2.29 0 0 1 1257.5 180.7A2.29 2.29 0 0 1 1255.2 177.1A2.29 2.29 0 0 1 1255.2 172.9A2.29 2.29 0 0 1 1257.5 169.3A2.29 2.29 0 0 1 1261.4 167.5A2.29 2.29 0 0 1 1265.6 168.1A2.29 2.29 0 0 1 1268.9 170.9A2.29 2.29 0 0 1 1270.1 175.0Z"/><path d="M1330.1 198.8A2.4 2.4 0 0 1 1329.1 203.1A2.4 2.4 0 0 1 1326.3 206.6A2.4 2.4 0 0 1 1322.2 208.6A2.4 2.4 0 0 1 1317.8 208.6A2.4 2.4 0 0 1 1313.7 206.6A2.4 2.4 0 0 1 1310.9 203.1A2.4 2.4 0 0 1 1309.9 198.8A2.4 2.4 0 0 1 1310.9 194.4A2.4 2.4 0 0 1 1313.7 190.9A2.4 2.4 0 0 1 1317.8 188.9A2.4 2.4 0 0 1 1322.2 188.9A2.4 2.4 0 0 1 1326.3 190.9A2.4 2.4 0 0 1 1329.1 194.4A2.4 2.4 0 0 1 1330.1 198.8Z"/><path d="M1284.7 222.5A2.24 2.24 0 0 1 1283.4 226.4A2.24 2.24 0 0 1 1280.1 228.9A2.24 2.24 0 0 1 1275.9 228.9A2.24 2.24 0 0 1 1272.6 226.4A2.24 2.24 0 0 1 1271.3 222.5A2.24 2.24 0 0 1 1272.6 218.6A2.24 2.24 0 0 1 1275.9 216.1A2.24 2.24 0 0 1 1280.1 216.1A2.24 2.24 0 0 1 1283.4 218.6A2.24 2.24 0 0 1 1284.7 222.5Z"/><path d="M1377.2 99.9A2.33 2.33 0 0 1 1376.3 104.2A2.33 2.33 0 0 1 1373.7 107.7A2.33 2.33 0 0 1 1369.9 109.9A2.33 2.33 0 0 1 1365.6 110.3A2.33 2.33 0 0 1 1361.5 109.0A2.33 2.33 0 0 1 1358.2 106.1A2.33 2.33 0 0 1 1356.4 102.1A2.33 2.33 0 0 1 1356.4 97.7A2.33 2.33 0 0 1 1358.2 93.7A2.33 2.33 0 0 1 1361.5 90.8A2.33 2.33 0 0 1 1365.6 89.5A2.33 2.33 0 0 1 1369.9 89.9A2.33 2.33 0 0 1 1373.7 92.1A2.33 2.33 0 0 1 1376.3 95.6A2.33 2.33 0 0 1 1377.2 99.9Z"/><path d="M1386.4 166.8A2.24 2.24 0 0 1 1385.1 170.7A2.24 2.24 0 0 1 1381.8 173.2A2.24 2.24 0 0 1 1377.6 173.2A2.24 2.24 0 0 1 1374.3 170.7A2.24 2.24 0 0 1 1373.0 166.8A2.24 2.24 0 0 1 1374.3 162.9A2.24 2.24 0 0 1 1377.6 160.4A2.24 2.24 0 0 1 1381.8 160.4A2.24 2.24 0 0 1 1385.1 162.9A2.24 2.24 0 0 1 1386.4 166.8Z"/><path d="M1383.8 177.9A2.24 2.24 0 0 1 1382.5 181.8A2.24 2.24 0 0 1 1379.2 184.3A2.24 2.24 0 0 1 1375.0 184.3A2.24 2.24 0 0 1 1371.7 181.8A2.24 2.24 0 0 1 1370.4 177.9A2.24 2.24 0 0 1 1371.7 174.0A2.24 2.24 0 0 1 1375.0 171.5A2.24 2.24 0 0 1 1379.2 171.5A2.24 2.24 0 0 1 1382.5 174.0A2.24 2.24 0 0 1 1383.8 177.9Z"/><path d="M1366.7 196.2A2.24 2.24 0 0 1 1365.4 200.2A2.24 2.24 0 0 1 1362.1 202.6A2.24 2.24 0 0 1 1357.9 202.6A2.24 2.24 0 0 1 1354.6 200.2A2.24 2.24 0 0 1 1353.3 196.2A2.24 2.24 0 0 1 1354.6 192.3A2.24 2.24 0 0 1 1357.9 189.9A2.24 2.24 0 0 1 1362.1 189.9A2.24 2.24 0 0 1 1365.4 192.3A2.24 2.24 0 0 1 1366.7 196.2Z"/><path d="M671.7 300.0A2.37 2.37 0 0 1 670.7 304.3A2.37 2.37 0 0 1 667.7 307.6A2.37 2.37 0 0 1 663.6 309.2A2.37 2.37 0 0 1 659.2 308.6A2.37 2.37 0 0 1 655.6 306.1A2.37 2.37 0 0 1 653.5 302.2A2.37 2.37 0 0 1 653.5 297.8A2.37 2.37 0 0 1 655.6 293.9A2.37 2.37 0 0 1 659.2 291.4A2.37 2.37 0 0 1 663.6 290.8A2.37 2.37 0 0 1 667.7 292.4A2.37 2.37 0 0 1 670.7 295.7A2.37 2.37 0 0 1 671.7 300.0Z"/><path d="M801.7 388.8A2.37 2.37 0 0 1 800.7 393.0A2.37 2.37 0 0 1 797.7 396.4A2.37 2.37 0 0 1 793.6 397.9A2.37 2.37 0 0 1 789.2 397.4A2.37 2.37 0 0 1 785.6 394.9A2.37 2.37 0 0 1 783.5 391.0A2.37 2.37 0 0 1 783.5 386.5A2.37 2.37 0 0 1 785.6 382.6A2.37 2.37 0 0 1 789.2 380.1A2.37 2.37 0 0 1 793.6 379.6A2.37 2.37 0 0 1 797.7 381.1A2.37 2.37 0 0 1 800.7 384.5A2.37 2.37 0 0 1 801.7 388.8Z"/><path d="M786.7 406.2A2.37 2.37 0 0 1 785.7 410.5A2.37 2.37 0 0 1 782.7 413.9A2.37 2.37 0 0 1 778.6 415.4A2.37 2.37 0 0 1 774.2 414.9A2.37 2.37 0 0 1 770.6 412.4A2.37 2.37 0 0 1 768.5 408.5A2.37 2.37 0 0 1 768.5 404.0A2.37 2.37 0 0 1 770.6 400.1A2.37 2.37 0 0 1 774.2 397.6A2.37 2.37 0 0 1 778.6 397.1A2.37 2.37 0 0 1 782.7 398.6A2.37 2.37 0 0 1 785.7 402.0A2.37 2.37 0 0 1 786.7 406.2Z"/><path d="M819.2 317.5A2.37 2.37 0 0 1 818.2 321.8A2.37 2.37 0 0 1 815.2 325.1A2.37 2.37 0 0 1 811.1 326.7A2.37 2.37 0 0 1 806.7 326.1A2.37 2.37 0 0 1 803.1 323.6A2.37 2.37 0 0 1 801.0 319.7A2.37 2.37 0 0 1 801.0 315.3A2.37 2.37 0 0 1 803.1 311.4A2.37 2.37 0 0 1 806.7 308.9A2.37 2.37 0 0 1 811.1 308.3A2.37 2.37 0 0 1 815.2 309.9A2.37 2.37 0 0 1 818.2 313.2A2.37 2.37 0 0 1 819.2 317.5Z"/><path d="M825.5 302.5A2.24 2.24 0 0 1 824.2 306.4A2.24 2.24 0 0 1 820.8 308.9A2.24 2.24 0 0 1 816.7 308.9A2.24 2.24 0 0 1 813.3 306.4A2.24 2.24 0 0 1 812.0 302.5A2.24 2.24 0 0 1 813.3 298.6A2.24 2.24 0 0 1 816.7 296.1A2.24 2.24 0 0 1 820.8 296.1A2.24 2.24 0 0 1 824.2 298.6A2.24 2.24 0 0 1 825.5 302.5Z"/><path d="M760.5 493.8A2.37 2.37 0 0 1 759.4 498.0A2.37 2.37 0 0 1 756.5 501.4A2.37 2.37 0 0 1 752.4 502.9A2.37 2.37 0 0 1 748.0 502.4A2.37 2.37 0 0 1 744.3 499.9A2.37 2.37 0 0 1 742.3 496.0A2.37 2.37 0 0 1 742.3 491.5A2.37 2.37 0 0 1 744.3 487.6A2.37 2.37 0 0 1 748.0 485.1A2.37 2.37 0 0 1 752.4 484.6A2.37 2.37 0 0 1 756.5 486.1A2.37 2.37 0 0 1 759.4 489.5A2.37 2.37 0 0 1 760.5 493.8Z"/><path d="M651.7 508.8A2.24 2.24 0 0 1 650.4 512.7A2.24 2.24 0 0 1 647.1 515.1A2.24 2.24 0 0 1 642.9 515.1A2.24 2.24 0 0 1 639.6 512.7A2.24 2.24 0 0 1 638.3 508.8A2.24 2.24 0 0 1 639.6 504.8A2.24 2.24 0 0 1 642.9 502.4A2.24 2.24 0 0 1 647.1 502.4A2.24 2.24 0 0 1 650.4 504.8A2.24 2.24 0 0 1 651.7 508.8Z"/><path d="M826.7 493.8A2.37 2.37 0 0 1 825.7 498.0A2.37 2.37 0 0 1 822.7 501.4A2.37 2.37 0 0 1 818.6 502.9A2.37 2.37 0 0 1 814.2 502.4A2.37 2.37 0 0 1 810.6 499.9A2.37 2.37 0 0 1 808.5 496.0A2.37 2.37 0 0 1 808.5 491.5A2.37 2.37 0 0 1 810.6 487.6A2.37 2.37 0 0 1 814.2 485.1A2.37 2.37 0 0 1 818.6 484.6A2.37 2.37 0 0 1 822.7 486.1A2.37 2.37 0 0 1 825.7 489.5A2.37 2.37 0 0 1 826.7 493.8Z"/><path d="M854.2 518.8A2.37 2.37 0 0 1 853.2 523.0A2.37 2.37 0 0 1 850.2 526.4A2.37 2.37 0 0 1 846.1 527.9A2.37 2.37 0 0 1 841.7 527.4A2.37 2.37 0 0 1 838.1 524.9A2.37 2.37 0 0 1 836.0 521.0A2.37 2.37 0 0 1 836.0 516.5A2.37 2.37 0 0 1 838.1 512.6A2.37 2.37 0 0 1 841.7 510.1A2.37 2.37 0 0 1 846.1 509.6A2.37 2.37 0 0 1 850.2 511.1A2.37 2.37 0 0 1 853.2 514.5A2.37 2.37 0 0 1 854.2 518.8Z"/><path d="M1339.2 325.0A2.37 2.37 0 0 1 1338.2 329.3A2.37 2.37 0 0 1 1335.2 332.6A2.37 2.37 0 0 1 1331.1 334.2A2.37 2.37 0 0 1 1326.7 333.6A2.37 2.37 0 0 1 1323.1 331.1A2.37 2.37 0 0 1 1321.0 327.2A2.37 2.37 0 0 1 1321.0 322.8A2.37 2.37 0 0 1 1323.1 318.9A2.37 2.37 0 0 1 1326.7 316.4A2.37 2.37 0 0 1 1331.1 315.8A2.37 2.37 0 0 1 1335.2 317.4A2.37 2.37 0 0 1 1338.2 320.7A2.37 2.37 0 0 1 1339.2 325.0Z"/><path d="M1373.0 371.2A2.24 2.24 0 0 1 1371.7 375.2A2.24 2.24 0 0 1 1368.3 377.6A2.24 2.24 0 0 1 1364.2 377.6A2.24 2.24 0 0 1 1360.8 375.2A2.24 2.24 0 0 1 1359.5 371.2A2.24 2.24 0 0 1 1360.8 367.3A2.24 2.24 0 0 1 1364.2 364.9A2.24 2.24 0 0 1 1368.3 364.9A2.24 2.24 0 0 1 1371.7 367.3A2.24 2.24 0 0 1 1373.0 371.2Z"/><path d="M1376.7 401.2A2.24 2.24 0 0 1 1375.4 405.2A2.24 2.24 0 0 1 1372.1 407.6A2.24 2.24 0 0 1 1367.9 407.6A2.24 2.24 0 0 1 1364.6 405.2A2.24 2.24 0 0 1 1363.3 401.2A2.24 2.24 0 0 1 1364.6 397.3A2.24 2.24 0 0 1 1367.9 394.9A2.24 2.24 0 0 1 1372.1 394.9A2.24 2.24 0 0 1 1375.4 397.3A2.24 2.24 0 0 1 1376.7 401.2Z"/><path d="M1419.2 427.5A2.24 2.24 0 0 1 1417.9 431.4A2.24 2.24 0 0 1 1414.6 433.9A2.24 2.24 0 0 1 1410.4 433.9A2.24 2.24 0 0 1 1407.1 431.4A2.24 2.24 0 0 1 1405.8 427.5A2.24 2.24 0 0 1 1407.1 423.6A2.24 2.24 0 0 1 1410.4 421.1A2.24 2.24 0 0 1 1414.6 421.1A2.24 2.24 0 0 1 1417.9 423.6A2.24 2.24 0 0 1 1419.2 427.5Z"/><path d="M1433.0 443.8A2.24 2.24 0 0 1 1431.7 447.7A2.24 2.24 0 0 1 1428.3 450.1A2.24 2.24 0 0 1 1424.2 450.1A2.24 2.24 0 0 1 1420.8 447.7A2.24 2.24 0 0 1 1419.5 443.8A2.24 2.24 0 0 1 1420.8 439.8A2.24 2.24 0 0 1 1424.2 437.4A2.24 2.24 0 0 1 1428.3 437.4A2.24 2.24 0 0 1 1431.7 439.8A2.24 2.24 0 0 1 1433.0 443.8Z"/><path d="M1446.7 461.2A2.24 2.24 0 0 1 1445.4 465.2A2.24 2.24 0 0 1 1442.1 467.6A2.24 2.24 0 0 1 1437.9 467.6A2.24 2.24 0 0 1 1434.6 465.2A2.24 2.24 0 0 1 1433.3 461.2A2.24 2.24 0 0 1 1434.6 457.3A2.24 2.24 0 0 1 1437.9 454.9A2.24 2.24 0 0 1 1442.1 454.9A2.24 2.24 0 0 1 1445.4 457.3A2.24 2.24 0 0 1 1446.7 461.2Z"/><path d="M1423.8 501.2A2.4 2.4 0 0 1 1422.8 505.6A2.4 2.4 0 0 1 1420.0 509.1A2.4 2.4 0 0 1 1416.0 511.1A2.4 2.4 0 0 1 1411.5 511.1A2.4 2.4 0 0 1 1407.5 509.1A2.4 2.4 0 0 1 1404.7 505.6A2.4 2.4 0 0 1 1403.7 501.2A2.4 2.4 0 0 1 1404.7 496.9A2.4 2.4 0 0 1 1407.5 493.4A2.4 2.4 0 0 1 1411.5 491.4A2.4 2.4 0 0 1 1416.0 491.4A2.4 2.4 0 0 1 1420.0 493.4A2.4 2.4 0 0 1 1422.8 496.9A2.4 2.4 0 0 1 1423.8 501.2Z"/><path d="M659.2 667.5A2.37 2.37 0 0 1 658.2 671.8A2.37 2.37 0 0 1 655.2 675.1A2.37 2.37 0 0 1 651.1 676.7A2.37 2.37 0 0 1 646.7 676.1A2.37 2.37 0 0 1 643.1 673.6A2.37 2.37 0 0 1 641.0 669.7A2.37 2.37 0 0 1 641.0 665.3A2.37 2.37 0 0 1 643.1 661.4A2.37 2.37 0 0 1 646.7 658.9A2.37 2.37 0 0 1 651.1 658.3A2.37 2.37 0 0 1 655.2 659.9A2.37 2.37 0 0 1 658.2 663.2A2.37 2.37 0 0 1 659.2 667.5Z"/><path d="M673.0 681.2A2.37 2.37 0 0 1 671.9 685.5A2.37 2.37 0 0 1 669.0 688.9A2.37 2.37 0 0 1 664.9 690.4A2.37 2.37 0 0 1 660.5 689.9A2.37 2.37 0 0 1 656.8 687.4A2.37 2.37 0 0 1 654.8 683.5A2.37 2.37 0 0 1 654.8 679.0A2.37 2.37 0 0 1 656.8 675.1A2.37 2.37 0 0 1 660.5 672.6A2.37 2.37 0 0 1 664.9 672.1A2.37 2.37 0 0 1 669.0 673.6A2.37 2.37 0 0 1 671.9 677.0A2.37 2.37 0 0 1 673.0 681.2Z"/><path d="M658.0 701.2A2.37 2.37 0 0 1 656.9 705.5A2.37 2.37 0 0 1 654.0 708.9A2.37 2.37 0 0 1 649.9 710.4A2.37 2.37 0 0 1 645.5 709.9A2.37 2.37 0 0 1 641.8 707.4A2.37 2.37 0 0 1 639.8 703.5A2.37 2.37 0 0 1 639.8 699.0A2.37 2.37 0 0 1 641.8 695.1A2.37 2.37 0 0 1 645.5 692.6A2.37 2.37 0 0 1 649.9 692.1A2.37 2.37 0 0 1 654.0 693.6A2.37 2.37 0 0 1 656.9 697.0A2.37 2.37 0 0 1 658.0 701.2Z"/><path d="M690.5 732.5A2.37 2.37 0 0 1 689.4 736.8A2.37 2.37 0 0 1 686.5 740.1A2.37 2.37 0 0 1 682.4 741.7A2.37 2.37 0 0 1 678.0 741.1A2.37 2.37 0 0 1 674.3 738.6A2.37 2.37 0 0 1 672.3 734.7A2.37 2.37 0 0 1 672.3 730.3A2.37 2.37 0 0 1 674.3 726.4A2.37 2.37 0 0 1 678.0 723.9A2.37 2.37 0 0 1 682.4 723.3A2.37 2.37 0 0 1 686.5 724.9A2.37 2.37 0 0 1 689.4 728.2A2.37 2.37 0 0 1 690.5 732.5Z"/><path d="M736.7 751.2A2.37 2.37 0 0 1 735.7 755.5A2.37 2.37 0 0 1 732.7 758.9A2.37 2.37 0 0 1 728.6 760.4A2.37 2.37 0 0 1 724.2 759.9A2.37 2.37 0 0 1 720.6 757.4A2.37 2.37 0 0 1 718.5 753.5A2.37 2.37 0 0 1 718.5 749.0A2.37 2.37 0 0 1 720.6 745.1A2.37 2.37 0 0 1 724.2 742.6A2.37 2.37 0 0 1 728.6 742.1A2.37 2.37 0 0 1 732.7 743.6A2.37 2.37 0 0 1 735.7 747.0A2.37 2.37 0 0 1 736.7 751.2Z"/><path d="M722.1 762.5A2.33 2.33 0 0 1 721.0 766.7A2.33 2.33 0 0 1 718.0 769.8A2.33 2.33 0 0 1 713.8 770.9A2.33 2.33 0 0 1 709.5 769.8A2.33 2.33 0 0 1 706.5 766.7A2.33 2.33 0 0 1 705.4 762.5A2.33 2.33 0 0 1 706.5 758.3A2.33 2.33 0 0 1 709.5 755.2A2.33 2.33 0 0 1 713.8 754.1A2.33 2.33 0 0 1 718.0 755.2A2.33 2.33 0 0 1 721.0 758.3A2.33 2.33 0 0 1 722.1 762.5Z"/><path d="M803.0 652.5A2.37 2.37 0 0 1 801.9 656.8A2.37 2.37 0 0 1 799.0 660.1A2.37 2.37 0 0 1 794.9 661.7A2.37 2.37 0 0 1 790.5 661.1A2.37 2.37 0 0 1 786.8 658.6A2.37 2.37 0 0 1 784.8 654.7A2.37 2.37 0 0 1 784.8 650.3A2.37 2.37 0 0 1 786.8 646.4A2.37 2.37 0 0 1 790.5 643.9A2.37 2.37 0 0 1 794.9 643.3A2.37 2.37 0 0 1 799.0 644.9A2.37 2.37 0 0 1 801.9 648.2A2.37 2.37 0 0 1 803.0 652.5Z"/><path d="M760.8 858.0A2.37 2.37 0 0 1 759.8 862.3A2.37 2.37 0 0 1 756.8 865.6A2.37 2.37 0 0 1 752.7 867.2A2.37 2.37 0 0 1 748.3 866.6A2.37 2.37 0 0 1 744.7 864.1A2.37 2.37 0 0 1 742.6 860.2A2.37 2.37 0 0 1 742.6 855.8A2.37 2.37 0 0 1 744.7 851.9A2.37 2.37 0 0 1 748.3 849.4A2.37 2.37 0 0 1 752.7 848.8A2.37 2.37 0 0 1 756.8 850.4A2.37 2.37 0 0 1 759.8 853.7A2.37 2.37 0 0 1 760.8 858.0Z"/><path d="M787.2 873.6A2.37 2.37 0 0 1 786.2 877.9A2.37 2.37 0 0 1 783.2 881.2A2.37 2.37 0 0 1 779.1 882.8A2.37 2.37 0 0 1 774.7 882.2A2.37 2.37 0 0 1 771.1 879.7A2.37 2.37 0 0 1 769.0 875.8A2.37 2.37 0 0 1 769.0 871.4A2.37 2.37 0 0 1 771.1 867.5A2.37 2.37 0 0 1 774.7 865.0A2.37 2.37 0 0 1 779.1 864.4A2.37 2.37 0 0 1 783.2 866.0A2.37 2.37 0 0 1 786.2 869.3A2.37 2.37 0 0 1 787.2 873.6Z"/><path d="M761.2 894.0A2.33 2.33 0 0 1 760.6 898.3A2.33 2.33 0 0 1 758.9 902.4A2.33 2.33 0 0 1 756.3 905.9A2.33 2.33 0 0 1 752.8 908.5A2.33 2.33 0 0 1 748.7 910.2A2.33 2.33 0 0 1 744.4 910.8A2.33 2.33 0 0 1 740.1 910.2A2.33 2.33 0 0 1 736.0 908.5A2.33 2.33 0 0 1 732.5 905.9A2.33 2.33 0 0 1 729.9 902.4A2.33 2.33 0 0 1 728.2 898.3A2.33 2.33 0 0 1 727.6 894.0A2.33 2.33 0 0 1 728.2 889.7A2.33 2.33 0 0 1 729.9 885.6A2.33 2.33 0 0 1 732.5 882.1A2.33 2.33 0 0 1 736.0 879.5A2.33 2.33 0 0 1 740.1 877.8A2.33 2.33 0 0 1 744.4 877.2A2.33 2.33 0 0 1 748.7 877.8A2.33 2.33 0 0 1 752.8 879.5A2.33 2.33 0 0 1 756.3 882.1A2.33 2.33 0 0 1 758.9 885.6A2.33 2.33 0 0 1 760.6 889.7A2.33 2.33 0 0 1 761.2 894.0Z"/><path d="M731.8 905.0A2.3 2.3 0 0 1 731.0 909.2A2.3 2.3 0 0 1 728.7 912.9A2.3 2.3 0 0 1 725.2 915.5A2.3 2.3 0 0 1 721.1 916.7A2.3 2.3 0 0 1 716.8 916.3A2.3 2.3 0 0 1 712.9 914.4A2.3 2.3 0 0 1 710.0 911.2A2.3 2.3 0 0 1 708.4 907.2A2.3 2.3 0 0 1 708.4 902.8A2.3 2.3 0 0 1 710.0 898.8A2.3 2.3 0 0 1 712.9 895.6A2.3 2.3 0 0 1 716.8 893.7A2.3 2.3 0 0 1 721.1 893.3A2.3 2.3 0 0 1 725.2 894.5A2.3 2.3 0 0 1 728.7 897.1A2.3 2.3 0 0 1 731.0 900.8A2.3 2.3 0 0 1 731.8 905.0Z"/><path d="M911.2 811.2A2.33 2.33 0 0 1 910.1 815.4A2.33 2.33 0 0 1 907.0 818.5A2.33 2.33 0 0 1 902.8 819.6A2.33 2.33 0 0 1 898.6 818.5A2.33 2.33 0 0 1 895.5 815.4A2.33 2.33 0 0 1 894.4 811.2A2.33 2.33 0 0 1 895.5 807.0A2.33 2.33 0 0 1 898.6 803.9A2.33 2.33 0 0 1 902.8 802.8A2.33 2.33 0 0 1 907.0 803.9A2.33 2.33 0 0 1 910.1 807.0A2.33 2.33 0 0 1 911.2 811.2Z"/><path d="M1033.0 695.1A2.4 2.4 0 0 1 1032.0 699.5A2.4 2.4 0 0 1 1029.2 703.0A2.4 2.4 0 0 1 1025.1 704.9A2.4 2.4 0 0 1 1020.7 704.9A2.4 2.4 0 0 1 1016.6 703.0A2.4 2.4 0 0 1 1013.8 699.5A2.4 2.4 0 0 1 1012.8 695.1A2.4 2.4 0 0 1 1013.8 690.7A2.4 2.4 0 0 1 1016.6 687.2A2.4 2.4 0 0 1 1020.7 685.3A2.4 2.4 0 0 1 1025.1 685.3A2.4 2.4 0 0 1 1029.2 687.2A2.4 2.4 0 0 1 1032.0 690.7A2.4 2.4 0 0 1 1033.0 695.1Z"/><path d="M1010.0 718.1A2.4 2.4 0 0 1 1009.0 722.5A2.4 2.4 0 0 1 1006.2 726.0A2.4 2.4 0 0 1 1002.1 727.9A2.4 2.4 0 0 1 997.7 727.9A2.4 2.4 0 0 1 993.6 726.0A2.4 2.4 0 0 1 990.8 722.5A2.4 2.4 0 0 1 989.8 718.1A2.4 2.4 0 0 1 990.8 713.7A2.4 2.4 0 0 1 993.6 710.2A2.4 2.4 0 0 1 997.7 708.3A2.4 2.4 0 0 1 1002.1 708.3A2.4 2.4 0 0 1 1006.2 710.2A2.4 2.4 0 0 1 1009.0 713.7A2.4 2.4 0 0 1 1010.0 718.1Z"/><path d="M987.1 742.4A2.4 2.4 0 0 1 986.1 746.8A2.4 2.4 0 0 1 983.3 750.3A2.4 2.4 0 0 1 979.2 752.2A2.4 2.4 0 0 1 974.8 752.2A2.4 2.4 0 0 1 970.7 750.3A2.4 2.4 0 0 1 967.9 746.8A2.4 2.4 0 0 1 966.9 742.4A2.4 2.4 0 0 1 967.9 738.0A2.4 2.4 0 0 1 970.7 734.5A2.4 2.4 0 0 1 974.8 732.6A2.4 2.4 0 0 1 979.2 732.6A2.4 2.4 0 0 1 983.3 734.5A2.4 2.4 0 0 1 986.1 738.0A2.4 2.4 0 0 1 987.1 742.4Z"/><path d="M964.1 765.3A2.4 2.4 0 0 1 963.1 769.7A2.4 2.4 0 0 1 960.3 773.2A2.4 2.4 0 0 1 956.2 775.1A2.4 2.4 0 0 1 951.8 775.1A2.4 2.4 0 0 1 947.7 773.2A2.4 2.4 0 0 1 944.9 769.7A2.4 2.4 0 0 1 943.9 765.3A2.4 2.4 0 0 1 944.9 760.9A2.4 2.4 0 0 1 947.7 757.4A2.4 2.4 0 0 1 951.8 755.5A2.4 2.4 0 0 1 956.2 755.5A2.4 2.4 0 0 1 960.3 757.4A2.4 2.4 0 0 1 963.1 760.9A2.4 2.4 0 0 1 964.1 765.3Z"/><path d="M941.1 786.9A2.4 2.4 0 0 1 940.1 791.3A2.4 2.4 0 0 1 937.3 794.8A2.4 2.4 0 0 1 933.2 796.7A2.4 2.4 0 0 1 928.8 796.7A2.4 2.4 0 0 1 924.7 794.8A2.4 2.4 0 0 1 921.9 791.3A2.4 2.4 0 0 1 920.9 786.9A2.4 2.4 0 0 1 921.9 782.5A2.4 2.4 0 0 1 924.7 779.0A2.4 2.4 0 0 1 928.8 777.1A2.4 2.4 0 0 1 933.2 777.1A2.4 2.4 0 0 1 937.3 779.0A2.4 2.4 0 0 1 940.1 782.5A2.4 2.4 0 0 1 941.1 786.9Z"/><path d="M919.6 811.2A2.4 2.4 0 0 1 918.6 815.6A2.4 2.4 0 0 1 915.8 819.1A2.4 2.4 0 0 1 911.7 821.0A2.4 2.4 0 0 1 907.3 821.0A2.4 2.4 0 0 1 903.2 819.1A2.4 2.4 0 0 1 900.4 815.6A2.4 2.4 0 0 1 899.4 811.2A2.4 2.4 0 0 1 900.4 806.8A2.4 2.4 0 0 1 903.2 803.3A2.4 2.4 0 0 1 907.3 801.4A2.4 2.4 0 0 1 911.7 801.4A2.4 2.4 0 0 1 915.8 803.3A2.4 2.4 0 0 1 918.6 806.8A2.4 2.4 0 0 1 919.6 811.2Z"/><path d="M1075.4 832.8A2.36 2.36 0 0 1 1074.7 837.2A2.36 2.36 0 0 1 1072.6 841.1A2.36 2.36 0 0 1 1069.4 844.1A2.36 2.36 0 0 1 1065.3 845.8A2.36 2.36 0 0 1 1060.9 846.2A2.36 2.36 0 0 1 1056.6 845.1A2.36 2.36 0 0 1 1052.9 842.7A2.36 2.36 0 0 1 1050.2 839.2A2.36 2.36 0 0 1 1048.7 835.0A2.36 2.36 0 0 1 1048.7 830.6A2.36 2.36 0 0 1 1050.2 826.4A2.36 2.36 0 0 1 1052.9 822.9A2.36 2.36 0 0 1 1056.6 820.5A2.36 2.36 0 0 1 1060.9 819.4A2.36 2.36 0 0 1 1065.3 819.8A2.36 2.36 0 0 1 1069.4 821.5A2.36 2.36 0 0 1 1072.6 824.5A2.36 2.36 0 0 1 1074.7 828.4A2.36 2.36 0 0 1 1075.4 832.8Z"/><path d="M1105.0 832.8A2.31 2.31 0 0 1 1104.4 837.1A2.31 2.31 0 0 1 1102.6 841.1A2.31 2.31 0 0 1 1099.9 844.5A2.31 2.31 0 0 1 1096.3 847.0A2.31 2.31 0 0 1 1092.2 848.4A2.31 2.31 0 0 1 1087.9 848.7A2.31 2.31 0 0 1 1083.7 847.8A2.31 2.31 0 0 1 1079.8 845.8A2.31 2.31 0 0 1 1076.6 842.9A2.31 2.31 0 0 1 1074.4 839.2A2.31 2.31 0 0 1 1073.2 835.0A2.31 2.31 0 0 1 1073.2 830.6A2.31 2.31 0 0 1 1074.4 826.4A2.31 2.31 0 0 1 1076.6 822.7A2.31 2.31 0 0 1 1079.8 819.8A2.31 2.31 0 0 1 1083.7 817.8A2.31 2.31 0 0 1 1087.9 816.9A2.31 2.31 0 0 1 1092.2 817.2A2.31 2.31 0 0 1 1096.3 818.6A2.31 2.31 0 0 1 1099.9 821.1A2.31 2.31 0 0 1 1102.6 824.5A2.31 2.31 0 0 1 1104.4 828.5A2.31 2.31 0 0 1 1105.0 832.8Z"/><path d="M1128.6 827.4A2.33 2.33 0 0 1 1127.8 831.7A2.33 2.33 0 0 1 1125.7 835.5A2.33 2.33 0 0 1 1122.3 838.3A2.33 2.33 0 0 1 1118.2 839.8A2.33 2.33 0 0 1 1113.8 839.8A2.33 2.33 0 0 1 1109.7 838.3A2.33 2.33 0 0 1 1106.3 835.5A2.33 2.33 0 0 1 1104.2 831.7A2.33 2.33 0 0 1 1103.4 827.4A2.33 2.33 0 0 1 1104.2 823.1A2.33 2.33 0 0 1 1106.3 819.3A2.33 2.33 0 0 1 1109.7 816.5A2.33 2.33 0 0 1 1113.8 815.0A2.33 2.33 0 0 1 1118.2 815.0A2.33 2.33 0 0 1 1122.3 816.5A2.33 2.33 0 0 1 1125.7 819.3A2.33 2.33 0 0 1 1127.8 823.1A2.33 2.33 0 0 1 1128.6 827.4Z"/><path d="M1105.0 876.0A2.37 2.37 0 0 1 1104.0 880.3A2.37 2.37 0 0 1 1101.0 883.6A2.37 2.37 0 0 1 1096.9 885.2A2.37 2.37 0 0 1 1092.5 884.6A2.37 2.37 0 0 1 1088.9 882.1A2.37 2.37 0 0 1 1086.8 878.2A2.37 2.37 0 0 1 1086.8 873.8A2.37 2.37 0 0 1 1088.9 869.9A2.37 2.37 0 0 1 1092.5 867.4A2.37 2.37 0 0 1 1096.9 866.8A2.37 2.37 0 0 1 1101.0 868.4A2.37 2.37 0 0 1 1104.0 871.7A2.37 2.37 0 0 1 1105.0 876.0Z"/><path d="M1137.5 876.0A2.42 2.42 0 0 1 1136.2 880.3A2.42 2.42 0 0 1 1132.8 883.3A2.42 2.42 0 0 1 1128.4 883.9A2.42 2.42 0 0 1 1124.3 882.0A2.42 2.42 0 0 1 1121.8 878.2A2.42 2.42 0 0 1 1121.8 873.8A2.42 2.42 0 0 1 1124.3 870.0A2.42 2.42 0 0 1 1128.4 868.1A2.42 2.42 0 0 1 1132.8 868.7A2.42 2.42 0 0 1 1136.2 871.7A2.42 2.42 0 0 1 1137.5 876.0Z"/><path d="M1179.9 877.4A2.33 2.33 0 0 1 1179.1 881.7A2.33 2.33 0 0 1 1177.0 885.5A2.33 2.33 0 0 1 1173.6 888.3A2.33 2.33 0 0 1 1169.5 889.8A2.33 2.33 0 0 1 1165.1 889.8A2.33 2.33 0 0 1 1161.0 888.3A2.33 2.33 0 0 1 1157.6 885.5A2.33 2.33 0 0 1 1155.5 881.7A2.33 2.33 0 0 1 1154.7 877.4A2.33 2.33 0 0 1 1155.5 873.1A2.33 2.33 0 0 1 1157.6 869.3A2.33 2.33 0 0 1 1161.0 866.5A2.33 2.33 0 0 1 1165.1 865.0A2.33 2.33 0 0 1 1169.5 865.0A2.33 2.33 0 0 1 1173.6 866.5A2.33 2.33 0 0 1 1177.0 869.3A2.33 2.33 0 0 1 1179.1 873.1A2.33 2.33 0 0 1 1179.9 877.4Z"/><path d="M1202.0 862.5A2.4 2.4 0 0 1 1200.1 866.4A2.4 2.4 0 0 1 1195.9 867.4A2.4 2.4 0 0 1 1192.5 864.7A2.4 2.4 0 0 1 1192.5 860.3A2.4 2.4 0 0 1 1195.9 857.6A2.4 2.4 0 0 1 1200.1 858.6A2.4 2.4 0 0 1 1202.0 862.5Z"/><path d="M1220.0 880.0A2.42 2.42 0 0 1 1218.7 884.3A2.42 2.42 0 0 1 1215.3 887.3A2.42 2.42 0 0 1 1210.9 887.9A2.42 2.42 0 0 1 1206.8 886.0A2.42 2.42 0 0 1 1204.3 882.2A2.42 2.42 0 0 1 1204.3 877.8A2.42 2.42 0 0 1 1206.8 874.0A2.42 2.42 0 0 1 1210.9 872.1A2.42 2.42 0 0 1 1215.3 872.7A2.42 2.42 0 0 1 1218.7 875.7A2.42 2.42 0 0 1 1220.0 880.0Z"/><path d="M1201.0 893.6A2.24 2.24 0 0 1 1199.7 897.5A2.24 2.24 0 0 1 1196.4 900.0A2.24 2.24 0 0 1 1192.2 900.0A2.24 2.24 0 0 1 1188.9 897.5A2.24 2.24 0 0 1 1187.6 893.6A2.24 2.24 0 0 1 1188.9 889.7A2.24 2.24 0 0 1 1192.2 887.2A2.24 2.24 0 0 1 1196.4 887.2A2.24 2.24 0 0 1 1199.7 889.7A2.24 2.24 0 0 1 1201.0 893.6Z"/><path d="M1218.6 900.3A2.42 2.42 0 0 1 1217.3 904.6A2.42 2.42 0 0 1 1213.9 907.6A2.42 2.42 0 0 1 1209.5 908.2A2.42 2.42 0 0 1 1205.4 906.3A2.42 2.42 0 0 1 1202.9 902.5A2.42 2.42 0 0 1 1202.9 898.1A2.42 2.42 0 0 1 1205.4 894.3A2.42 2.42 0 0 1 1209.5 892.4A2.42 2.42 0 0 1 1213.9 893.0A2.42 2.42 0 0 1 1217.3 896.0A2.42 2.42 0 0 1 1218.6 900.3Z"/><path d="M1235.8 838.2A2.4 2.4 0 0 1 1233.9 842.1A2.4 2.4 0 0 1 1229.7 843.1A2.4 2.4 0 0 1 1226.3 840.4A2.4 2.4 0 0 1 1226.3 836.0A2.4 2.4 0 0 1 1229.7 833.3A2.4 2.4 0 0 1 1233.9 834.3A2.4 2.4 0 0 1 1235.8 838.2Z"/><path d="M1057.9 904.4A2.42 2.42 0 0 1 1056.6 908.7A2.42 2.42 0 0 1 1053.2 911.7A2.42 2.42 0 0 1 1048.8 912.3A2.42 2.42 0 0 1 1044.7 910.4A2.42 2.42 0 0 1 1042.2 906.6A2.42 2.42 0 0 1 1042.2 902.2A2.42 2.42 0 0 1 1044.7 898.4A2.42 2.42 0 0 1 1048.8 896.5A2.42 2.42 0 0 1 1053.2 897.1A2.42 2.42 0 0 1 1056.6 900.1A2.42 2.42 0 0 1 1057.9 904.4Z"/><path d="M952.3 903.0A2.3 2.3 0 0 1 951.5 907.2A2.3 2.3 0 0 1 949.2 910.9A2.3 2.3 0 0 1 945.7 913.5A2.3 2.3 0 0 1 941.6 914.7A2.3 2.3 0 0 1 937.3 914.3A2.3 2.3 0 0 1 933.4 912.4A2.3 2.3 0 0 1 930.5 909.2A2.3 2.3 0 0 1 928.9 905.2A2.3 2.3 0 0 1 928.9 900.8A2.3 2.3 0 0 1 930.5 896.8A2.3 2.3 0 0 1 933.4 893.6A2.3 2.3 0 0 1 937.3 891.7A2.3 2.3 0 0 1 941.6 891.3A2.3 2.3 0 0 1 945.7 892.5A2.3 2.3 0 0 1 949.2 895.1A2.3 2.3 0 0 1 951.5 898.8A2.3 2.3 0 0 1 952.3 903.0Z"/><path d="M975.1 905.0A2.4 2.4 0 0 1 974.1 909.4A2.4 2.4 0 0 1 971.3 912.9A2.4 2.4 0 0 1 967.2 914.8A2.4 2.4 0 0 1 962.8 914.8A2.4 2.4 0 0 1 958.7 912.9A2.4 2.4 0 0 1 955.9 909.4A2.4 2.4 0 0 1 954.9 905.0A2.4 2.4 0 0 1 955.9 900.6A2.4 2.4 0 0 1 958.7 897.1A2.4 2.4 0 0 1 962.8 895.2A2.4 2.4 0 0 1 967.2 895.2A2.4 2.4 0 0 1 971.3 897.1A2.4 2.4 0 0 1 974.1 900.6A2.4 2.4 0 0 1 975.1 905.0Z"/><path d="M1250.9 850.0A2.27 2.27 0 0 1 1250.1 854.2A2.27 2.27 0 0 1 1247.7 857.7A2.27 2.27 0 0 1 1244.2 860.1A2.27 2.27 0 0 1 1240.0 860.9A2.27 2.27 0 0 1 1235.8 860.1A2.27 2.27 0 0 1 1232.3 857.7A2.27 2.27 0 0 1 1229.9 854.2A2.27 2.27 0 0 1 1229.1 850.0A2.27 2.27 0 0 1 1229.9 845.8A2.27 2.27 0 0 1 1232.3 842.3A2.27 2.27 0 0 1 1235.8 839.9A2.27 2.27 0 0 1 1240.0 839.1A2.27 2.27 0 0 1 1244.2 839.9A2.27 2.27 0 0 1 1247.7 842.3A2.27 2.27 0 0 1 1250.1 845.8A2.27 2.27 0 0 1 1250.9 850.0Z"/><path d="M1272.1 848.0A2.4 2.4 0 0 1 1271.1 852.4A2.4 2.4 0 0 1 1268.3 855.9A2.4 2.4 0 0 1 1264.2 857.8A2.4 2.4 0 0 1 1259.8 857.8A2.4 2.4 0 0 1 1255.7 855.9A2.4 2.4 0 0 1 1252.9 852.4A2.4 2.4 0 0 1 1251.9 848.0A2.4 2.4 0 0 1 1252.9 843.6A2.4 2.4 0 0 1 1255.7 840.1A2.4 2.4 0 0 1 1259.8 838.2A2.4 2.4 0 0 1 1264.2 838.2A2.4 2.4 0 0 1 1268.3 840.1A2.4 2.4 0 0 1 1271.1 843.6A2.4 2.4 0 0 1 1272.1 848.0Z"/><path d="M1279.8 872.0A2.3 2.3 0 0 1 1279.0 876.2A2.3 2.3 0 0 1 1276.7 879.9A2.3 2.3 0 0 1 1273.2 882.5A2.3 2.3 0 0 1 1269.1 883.7A2.3 2.3 0 0 1 1264.8 883.3A2.3 2.3 0 0 1 1260.9 881.4A2.3 2.3 0 0 1 1258.0 878.2A2.3 2.3 0 0 1 1256.4 874.2A2.3 2.3 0 0 1 1256.4 869.8A2.3 2.3 0 0 1 1258.0 865.8A2.3 2.3 0 0 1 1260.9 862.6A2.3 2.3 0 0 1 1264.8 860.7A2.3 2.3 0 0 1 1269.1 860.3A2.3 2.3 0 0 1 1273.2 861.5A2.3 2.3 0 0 1 1276.7 864.1A2.3 2.3 0 0 1 1279.0 867.8A2.3 2.3 0 0 1 1279.8 872.0Z"/><path d="M1250.1 880.0A2.4 2.4 0 0 1 1249.1 884.4A2.4 2.4 0 0 1 1246.3 887.9A2.4 2.4 0 0 1 1242.2 889.8A2.4 2.4 0 0 1 1237.8 889.8A2.4 2.4 0 0 1 1233.7 887.9A2.4 2.4 0 0 1 1230.9 884.4A2.4 2.4 0 0 1 1229.9 880.0A2.4 2.4 0 0 1 1230.9 875.6A2.4 2.4 0 0 1 1233.7 872.1A2.4 2.4 0 0 1 1237.8 870.2A2.4 2.4 0 0 1 1242.2 870.2A2.4 2.4 0 0 1 1246.3 872.1A2.4 2.4 0 0 1 1249.1 875.6A2.4 2.4 0 0 1 1250.1 880.0Z"/><path d="M1229.2 895.0A2.37 2.37 0 0 1 1228.2 899.3A2.37 2.37 0 0 1 1225.2 902.6A2.37 2.37 0 0 1 1221.1 904.2A2.37 2.37 0 0 1 1216.7 903.6A2.37 2.37 0 0 1 1213.1 901.1A2.37 2.37 0 0 1 1211.0 897.2A2.37 2.37 0 0 1 1211.0 892.8A2.37 2.37 0 0 1 1213.1 888.9A2.37 2.37 0 0 1 1216.7 886.4A2.37 2.37 0 0 1 1221.1 885.8A2.37 2.37 0 0 1 1225.2 887.4A2.37 2.37 0 0 1 1228.2 890.7A2.37 2.37 0 0 1 1229.2 895.0Z"/><path d="M1263.4 900.0A2.33 2.33 0 0 1 1262.3 904.2A2.33 2.33 0 0 1 1259.2 907.3A2.33 2.33 0 0 1 1255.0 908.4A2.33 2.33 0 0 1 1250.8 907.3A2.33 2.33 0 0 1 1247.7 904.2A2.33 2.33 0 0 1 1246.6 900.0A2.33 2.33 0 0 1 1247.7 895.8A2.33 2.33 0 0 1 1250.8 892.7A2.33 2.33 0 0 1 1255.0 891.6A2.33 2.33 0 0 1 1259.2 892.7A2.33 2.33 0 0 1 1262.3 895.8A2.33 2.33 0 0 1 1263.4 900.0Z"/><path d="M1449.0 115.0A2.4 2.4 0 0 1 1447.1 118.9A2.4 2.4 0 0 1 1442.9 119.9A2.4 2.4 0 0 1 1439.5 117.2A2.4 2.4 0 0 1 1439.5 112.8A2.4 2.4 0 0 1 1442.9 110.1A2.4 2.4 0 0 1 1447.1 111.1A2.4 2.4 0 0 1 1449.0 115.0Z"/><path d="M1449.0 250.0A2.4 2.4 0 0 1 1447.1 253.9A2.4 2.4 0 0 1 1442.9 254.9A2.4 2.4 0 0 1 1439.5 252.2A2.4 2.4 0 0 1 1439.5 247.8A2.4 2.4 0 0 1 1442.9 245.1A2.4 2.4 0 0 1 1447.1 246.1A2.4 2.4 0 0 1 1449.0 250.0Z"/><path d="M879.4 545.0A2.33 2.33 0 0 1 878.3 549.2A2.33 2.33 0 0 1 875.2 552.3A2.33 2.33 0 0 1 871.0 553.4A2.33 2.33 0 0 1 866.8 552.3A2.33 2.33 0 0 1 863.7 549.2A2.33 2.33 0 0 1 862.6 545.0A2.33 2.33 0 0 1 863.7 540.8A2.33 2.33 0 0 1 866.8 537.7A2.33 2.33 0 0 1 871.0 536.6A2.33 2.33 0 0 1 875.2 537.7A2.33 2.33 0 0 1 878.3 540.8A2.33 2.33 0 0 1 879.4 545.0Z"/><path d="M903.1 567.0A2.4 2.4 0 0 1 902.1 571.4A2.4 2.4 0 0 1 899.3 574.9A2.4 2.4 0 0 1 895.2 576.8A2.4 2.4 0 0 1 890.8 576.8A2.4 2.4 0 0 1 886.7 574.9A2.4 2.4 0 0 1 883.9 571.4A2.4 2.4 0 0 1 882.9 567.0A2.4 2.4 0 0 1 883.9 562.6A2.4 2.4 0 0 1 886.7 559.1A2.4 2.4 0 0 1 890.8 557.2A2.4 2.4 0 0 1 895.2 557.2A2.4 2.4 0 0 1 899.3 559.1A2.4 2.4 0 0 1 902.1 562.6A2.4 2.4 0 0 1 903.1 567.0Z"/><path d="M1419.0 535.0A2.4 2.4 0 0 1 1417.1 538.9A2.4 2.4 0 0 1 1412.9 539.9A2.4 2.4 0 0 1 1409.5 537.2A2.4 2.4 0 0 1 1409.5 532.8A2.4 2.4 0 0 1 1412.9 530.1A2.4 2.4 0 0 1 1417.1 531.1A2.4 2.4 0 0 1 1419.0 535.0Z"/><path d="M1425.0 548.0A2.4 2.4 0 0 1 1423.1 551.9A2.4 2.4 0 0 1 1418.9 552.9A2.4 2.4 0 0 1 1415.5 550.2A2.4 2.4 0 0 1 1415.5 545.8A2.4 2.4 0 0 1 1418.9 543.1A2.4 2.4 0 0 1 1423.1 544.1A2.4 2.4 0 0 1 1425.0 548.0Z"/><path d="M1441.0 585.0A2.4 2.4 0 0 1 1439.1 588.9A2.4 2.4 0 0 1 1434.9 589.9A2.4 2.4 0 0 1 1431.5 587.2A2.4 2.4 0 0 1 1431.5 582.8A2.4 2.4 0 0 1 1434.9 580.1A2.4 2.4 0 0 1 1439.1 581.1A2.4 2.4 0 0 1 1441.0 585.0Z"/><path d="M1445.0 598.0A2.4 2.4 0 0 1 1443.1 601.9A2.4 2.4 0 0 1 1438.9 602.9A2.4 2.4 0 0 1 1435.5 600.2A2.4 2.4 0 0 1 1435.5 595.8A2.4 2.4 0 0 1 1438.9 593.1A2.4 2.4 0 0 1 1443.1 594.1A2.4 2.4 0 0 1 1445.0 598.0Z"/></g>
<path d="M711.0 74.5 816.0 167.5 790.0 196.0 696.0 111.0 682.5 126.0 672.5 117.5Z" fill="none" stroke="#8ea5a3" stroke-width="0.75" stroke-linejoin="round" />
<path d="M617.0 187.5 637.5 163.8 745.0 252.5 721.0 281.0 617.0 197.5Z" fill="none" stroke="#8ea5a3" stroke-width="0.75" stroke-linejoin="round" />
<path d="M853.0 206.0 877.5 232.5 803.0 299.0 780.0 272.0Z" fill="none" stroke="#8ea5a3" stroke-width="0.75" stroke-linejoin="round" />
<path d="M1327.7 77.1 1347.8 101.8 1340.0 109.0 1340.0 111.0 1329.0 119.4 1321.2 123.3 1317.3 124.6 1310.8 119.4 1306.9 121.3 1300.4 112.9 1304.3 109.0 1298.4 101.2 1307.5 94.0 1304.3 88.2 1312.1 82.3 1316.0 86.2Z" fill="none" stroke="#8ea5a3" stroke-width="0.75" stroke-linejoin="round" />
<path d="M1347.2 112.2 1352.4 107.7 1357.6 112.9 1351.7 118.1Z" fill="none" stroke="#8ea5a3" stroke-width="0.75" stroke-linejoin="round" />
<path d="M1382.3 122.6 1408.9 100.5 1427.8 123.3 1401.1 145.4Z" fill="none" stroke="#8ea5a3" stroke-width="0.75" stroke-linejoin="round" />
<path d="M1323.1 169.4 1356.3 142.8 1368.0 157.1 1364.7 160.3 1372.5 170.1 1346.5 190.9 1340.0 190.2Z" fill="none" stroke="#8ea5a3" stroke-width="0.75" stroke-linejoin="round" />
<path d="M1350.0 256.2 1361.2 253.8 1362.5 247.5 1377.5 243.8 1390.0 280.0 1405.0 310.0 1420.0 332.5 1427.5 340.0 1402.5 359.5 1385.0 332.5 1372.0 305.0 1357.5 280.0Z" fill="none" stroke="#8ea5a3" stroke-width="0.75" stroke-linejoin="round" />
<path d="M1077.0 172.0 1103.7 170.0 1136.7 262.5 1112.5 269.0Z" fill="none" stroke="#8ea5a3" stroke-width="0.75" stroke-linejoin="round" />
<path d="M1113.8 270.0 1146.2 260.0 1170.0 320.0 1136.2 333.8Z" fill="none" stroke="#8ea5a3" stroke-width="0.75" stroke-linejoin="round" />
<path d="M1145.0 352.5 1176.2 341.2 1200.0 405.0 1170.0 417.5Z" fill="none" stroke="#8ea5a3" stroke-width="0.75" stroke-linejoin="round" />
<path d="M1187.5 428.8 1206.2 422.5 1240.0 511.2 1221.2 518.8Z" fill="none" stroke="#8ea5a3" stroke-width="0.75" stroke-linejoin="round" />
<path d="M1228.8 565.0 1258.8 555.0 1280.0 612.5 1251.2 623.8Z" fill="none" stroke="#8ea5a3" stroke-width="0.75" stroke-linejoin="round" />
<path d="M642.6 304.4 646.7 301.2 656.1 312.5 652.5 316.6Z" fill="none" stroke="#8ea5a3" stroke-width="0.75" stroke-linejoin="round" />
<path d="M924.0 83.0 930.0 77.0 937.0 85.0 931.0 91.0Z" fill="none" stroke="#8ea5a3" stroke-width="0.75" stroke-linejoin="round" />
<path d="M716.2 373.8 735.0 348.8 733.8 342.5 745.0 333.8 767.5 311.2 796.2 333.8 745.0 397.5Z" fill="none" stroke="#8ea5a3" stroke-width="0.75" stroke-linejoin="round" />
<path d="M620.0 450.0 643.8 420.0 668.8 433.8 645.0 467.5Z" fill="none" stroke="#8ea5a3" stroke-width="0.75" stroke-linejoin="round" />
<path d="M658.8 481.2 673.8 460.0 690.0 472.5 673.8 492.5Z" fill="none" stroke="#8ea5a3" stroke-width="0.75" stroke-linejoin="round" />
<path d="M891.2 307.5 912.5 286.2 918.8 287.5 918.8 293.8 897.5 315.0 892.0 314.0Z" fill="none" stroke="#8ea5a3" stroke-width="0.75" stroke-linejoin="round" />
<path d="M797.5 440.0 847.5 386.2 882.5 418.8 862.5 437.5 852.5 427.5 820.0 460.0Z" fill="none" stroke="#8ea5a3" stroke-width="0.75" stroke-linejoin="round" />
<path d="M825.0 463.8 852.5 436.2 910.0 490.0 943.8 456.2 978.8 490.0 955.0 520.0 880.0 520.0Z" fill="none" stroke="#8ea5a3" stroke-width="0.75" stroke-linejoin="round" />
<path d="M618.8 605.0 732.5 496.0 785.0 548.8 798.8 553.8 830.0 587.5 788.8 630.0 771.2 615.0 695.0 686.2Z" fill="none" stroke="#8ea5a3" stroke-width="0.75" stroke-linejoin="round" />
<path d="M705.0 695.0 757.5 643.8 807.5 695.0 747.5 747.5Z" fill="none" stroke="#8ea5a3" stroke-width="0.75" stroke-linejoin="round" />
<path d="M798.0 652.0 849.0 603.0 858.0 608.0 864.0 618.0 864.0 634.0 816.0 687.0Z" fill="none" stroke="#8ea5a3" stroke-width="0.75" stroke-linejoin="round" />
<path d="M626.8 812.4 661.6 777.6 670.0 786.0 643.6 828.0Z" fill="none" stroke="#8ea5a3" stroke-width="0.75" stroke-linejoin="round" />
<path d="M617.2 837.6 688.0 782.4 716.8 814.8 704.8 825.6 737.2 858.0 692.8 906.0 655.6 876.0 646.0 884.4 617.2 858.0Z" fill="none" stroke="#8ea5a3" stroke-width="0.75" stroke-linejoin="round" />
<path d="M923.0 816.6 929.7 807.2 1016.0 749.0 1016.0 735.6 1024.2 729.7 1040.0 729.7 1048.0 740.0 1067.4 773.4 1078.2 792.3 1075.5 803.1 1064.7 807.2 1056.6 804.5 975.6 862.5 970.2 872.0 962.1 870.6Z" fill="none" stroke="#8ea5a3" stroke-width="0.75" stroke-linejoin="round" />
<path d="M1152.5 822.0 1183.6 797.7 1213.3 834.2 1182.2 858.5Z" fill="none" stroke="#8ea5a3" stroke-width="0.75" stroke-linejoin="round" />
<path d="M1225.0 771.2 1236.2 802.5 1251.2 796.2 1242.5 771.2Z" fill="none" stroke="#8ea5a3" stroke-width="0.75" stroke-linejoin="round" />
<path d="M950.4 656.3 971.1 641.9 973.8 648.2 984.6 641.0 998.1 657.2 967.5 680.6Z" fill="none" stroke="#8ea5a3" stroke-width="0.75" stroke-linejoin="round" />
<path d="M990.9 622.1 998.1 617.6 1003.5 623.9 996.3 629.3Z" fill="none" stroke="#8ea5a3" stroke-width="0.75" stroke-linejoin="round" />
<path d="M876.4 775.2 910.0 741.6 920.0 750.0 886.0 785.0Z" fill="none" stroke="#8ea5a3" stroke-width="0.75" stroke-linejoin="round" />
<path d="M844.0 741.6 858.0 728.0 868.0 738.0 855.0 752.0Z" fill="none" stroke="#8ea5a3" stroke-width="0.75" stroke-linejoin="round" />
<path d="M617.4 323.3 635.0 306.2 646.7 318.4 651.2 327.8 662.9 317.0 675.0 329.2 666.5 338.2 679.0 351.2 654.3 375.0 638.6 358.9 621.5 341.8 617.4 345.4" fill="none" stroke="#8ea5a3" stroke-width="0.75" stroke-linejoin="round" />
<path d="M628.6 313.4 639.5 324.7" fill="none" stroke="#8ea5a3" stroke-width="0.75" stroke-linejoin="round" />
<path d="M621.5 341.8 646.7 318.4" fill="none" stroke="#8ea5a3" stroke-width="0.75" stroke-linejoin="round" />
<path d="M629.6 348.5 648.5 331.4 656.6 341.3 662.9 350.8 671.4 343.1" fill="none" stroke="#8ea5a3" stroke-width="0.75" stroke-linejoin="round" />
<path d="M638.6 358.9 656.6 341.3" fill="none" stroke="#8ea5a3" stroke-width="0.75" stroke-linejoin="round" />
<path d="M646.7 310.2 650.7 306.2" fill="none" stroke="#8ea5a3" stroke-width="0.75" stroke-linejoin="round" />
<path d="M631.0 57.0 656.0 89.0 689.0 57.0" fill="none" stroke="#8ea5a3" stroke-width="0.75" stroke-linejoin="round" />
<path d="M617.0 90.0 642.5 114.0 632.5 125.0 630.0 124.0 617.0 135.0" fill="none" stroke="#8ea5a3" stroke-width="0.75" stroke-linejoin="round" />
<path d="M801.0 57.0 912.5 185.0 966.0 139.0 940.0 110.0 921.0 122.5 895.0 90.0 921.0 66.0 916.0 57.0" fill="none" stroke="#8ea5a3" stroke-width="0.75" stroke-linejoin="round" />
<path d="M1018.8 57.0 1038.8 108.8 1073.8 95.0 1060.0 57.0" fill="none" stroke="#8ea5a3" stroke-width="0.75" stroke-linejoin="round" />
<path d="M890.0 337.5 929.5 298.0 990.0 358.8 998.8 370.0 998.8 381.2 1030.0 410.0" fill="none" stroke="#8ea5a3" stroke-width="0.75" stroke-linejoin="round" />
<path d="M890.0 337.5 975.0 420.0 950.0 448.8 980.0 478.8 1030.0 431.2" fill="none" stroke="#8ea5a3" stroke-width="0.75" stroke-linejoin="round" />
<path d="M617.5 477.5 647.5 496.2 618.8 525.0" fill="none" stroke="#8ea5a3" stroke-width="0.75" stroke-linejoin="round" />
<path d="M617.0 706.0 623.0 705.0 677.0 758.0 627.0 812.0 617.0 802.0" fill="none" stroke="#8ea5a3" stroke-width="0.75" stroke-linejoin="round" />
<path d="M1067.4 890.9 1112.0 896.3 1110.6 911.0 1066.0 907.0" fill="none" stroke="#8ea5a3" stroke-width="0.75" stroke-linejoin="round" />
<path d="M1277.5 882.5 1288.8 878.8 1298.8 907.5 1287.5 911.2" fill="none" stroke="#8ea5a3" stroke-width="0.75" stroke-linejoin="round" />
<path d="M1238.8 361.2 1442.5 888.8" fill="none" stroke="#8ea5a3" stroke-width="0.75" stroke-linejoin="round" />
<path d="M1257.5 354.5 1442.5 828.8" fill="none" stroke="#8ea5a3" stroke-width="0.75" stroke-linejoin="round" />
<path d="M1281.2 344.5 1442.5 761.2" fill="none" stroke="#8ea5a3" stroke-width="0.75" stroke-linejoin="round" />
<path d="M1298.8 338.8 1442.5 702.5" fill="none" stroke="#8ea5a3" stroke-width="0.75" stroke-linejoin="round" />
<path d="M1238.8 361.2 1257.5 354.5" fill="none" stroke="#8ea5a3" stroke-width="0.75" stroke-linejoin="round" />
<path d="M1281.2 344.5 1298.8 338.8" fill="none" stroke="#8ea5a3" stroke-width="0.75" stroke-linejoin="round" />
<path d="M1282.5 57.0 1298.8 75.0 1317.5 57.0" fill="none" stroke="#8ea5a3" stroke-width="0.75" stroke-linejoin="round" />
<path d="M1346.0 63.8 1365.0 87.5 1380.0 77.5 1386.0 72.5 1402.5 57.0" fill="none" stroke="#8ea5a3" stroke-width="0.75" stroke-linejoin="round" />
<path d="M1346.0 63.8 1355.0 57.0" fill="none" stroke="#8ea5a3" stroke-width="0.75" stroke-linejoin="round" />
<path d="M1432.5 80.0 1443.0 72.0" fill="none" stroke="#8ea5a3" stroke-width="0.75" stroke-linejoin="round" />
<path d="M1432.5 80.0 1443.0 92.0" fill="none" stroke="#8ea5a3" stroke-width="0.75" stroke-linejoin="round" />
<path d="M1442.5 377.5 1428.8 388.8 1442.5 406.2" fill="none" stroke="#8ea5a3" stroke-width="0.75" stroke-linejoin="round" />
<path d="M1435.0 185.0 1443.0 180.0" fill="none" stroke="#8ea5a3" stroke-width="0.75" stroke-linejoin="round" />
<path d="M1435.0 185.0 1443.0 200.0" fill="none" stroke="#8ea5a3" stroke-width="0.75" stroke-linejoin="round" />
<path d="M1427.5 508.8 1442.5 502.5" fill="none" stroke="#8ea5a3" stroke-width="0.75" stroke-linejoin="round" />
<path d="M1421.0 520.0 1430.0 560.0 1443.0 605.0" fill="none" stroke="#8ea5a3" stroke-width="0.75" stroke-linejoin="round" />
<path d="M1427.5 508.8 1429.0 520.0 1422.0 523.0" fill="none" stroke="#8ea5a3" stroke-width="0.75" stroke-linejoin="round" />
<path d="M1130.0 645.0 1157.5 636.2 1165.0 647.5 1176.2 650.0 1196.2 641.2 1208.8 660.0" fill="none" stroke="#8ea5a3" stroke-width="0.75" stroke-linejoin="round" />
<path d="M1099.8 659.0 1121.4 646.4 1150.0 637.4" fill="none" stroke="#8ea5a3" stroke-width="0.75" stroke-linejoin="round" />
<path d="M1121.4 646.4 1129.5 659.0" fill="none" stroke="#8ea5a3" stroke-width="0.75" stroke-linejoin="round" />
<path d="M1247.5 771.2 1258.8 781.2 1250.0 790.0" fill="none" stroke="#8ea5a3" stroke-width="0.75" stroke-linejoin="round" />
<path d="M617.5 402.5 621.0 405.0 617.0 410.0" fill="none" stroke="#8ea5a3" stroke-width="0.75" stroke-linejoin="round" />
<path d="M617.0 162.0 624.0 170.0 617.0 177.0" fill="none" stroke="#8ea5a3" stroke-width="0.75" stroke-linejoin="round" />
<path d="M1110.0 150.0 1112.5 190.0 1136.2 257.5" fill="none" stroke="#8ea5a3" stroke-width="0.75" stroke-linejoin="round" />
<path d="M860.0 514.0 875.0 525.0 895.0 545.0 912.0 565.0 935.0 562.0 960.0 540.0 980.0 505.0 995.0 480.0 1005.0 470.0" fill="none" stroke="#8ea5a3" stroke-width="0.6" stroke-dasharray="2 2" stroke-linejoin="round" />
<path d="M1105.0 280.0 1147.5 380.0 1200.0 530.0 1230.0 600.0 1246.2 647.5 1298.8 627.5 1303.8 602.5 1272.5 530.0 1177.5 280.0 1158.8 230.0 1142.5 235.0 1135.0 216.2 1125.0 217.5 1120.0 177.5 1110.0 180.0 1100.0 160.0 1120.0 145.0 1105.0 150.0 1085.0 155.0 1070.0 168.0 1072.0 182.0 1085.0 200.0 1105.0 280.0" fill="none" stroke="#8ea5a3" stroke-width="0.6" stroke-dasharray="2 2" stroke-linejoin="round" />
<path d="M920.0 286.2 932.5 286.2 987.5 352.5 997.5 370.0 1030.0 400.0 1060.0 420.0" fill="none" stroke="#8ea5a3" stroke-width="0.6" stroke-dasharray="2 2" stroke-linejoin="round" />
<path d="M920.0 286.2 892.5 315.0 840.0 370.0 840.0 377.5 785.0 435.0 785.0 450.0 800.0 467.5 867.5 517.5 880.0 530.0" fill="none" stroke="#8ea5a3" stroke-width="0.6" stroke-dasharray="2 2" stroke-linejoin="round" />
<path d="M746.8 808.8 773.2 780.0 830.8 830.4 804.4 860.4Z" fill="none" stroke="#8ea5a3" stroke-width="0.75" stroke-linejoin="round" />
<path d="M752.0 808.0 775.0 784.0 826.0 829.0 804.0 854.0Z" fill="none" stroke="#9fb3b1" stroke-width="1.6" stroke-dasharray="1 2.5" stroke-linejoin="round" />
<path d="M880.0 75.0 860.0 90.0" fill="none" stroke="#ccd6d4" stroke-width="0.8" stroke-linejoin="round" />
<path d="M867.5 100.0 900.0 142.5" fill="none" stroke="#ccd6d4" stroke-width="0.8" stroke-linejoin="round" />
<path d="M890.0 152.5 921.0 122.5" fill="none" stroke="#ccd6d4" stroke-width="0.8" stroke-linejoin="round" />
<path d="M793.0 281.0 861.0 220.0" fill="none" stroke="#ccd6d4" stroke-width="0.8" stroke-linejoin="round" />
<path d="M741.2 358.8 760.0 337.5 773.8 348.8 755.0 371.2 741.2 358.8" fill="none" stroke="#ccd6d4" stroke-width="0.8" stroke-linejoin="round" />
<path d="M697.5 545.0 706.0 536.0 770.0 595.0 760.0 607.5 697.5 545.0" fill="none" stroke="#ccd6d4" stroke-width="0.8" stroke-linejoin="round" />
<path d="M770.0 595.0 785.0 615.0" fill="none" stroke="#ccd6d4" stroke-width="0.8" stroke-linejoin="round" />
<path d="M750.0 527.5 813.8 590.0" fill="none" stroke="#ccd6d4" stroke-width="0.8" stroke-linejoin="round" />
<path d="M630.0 602.5 647.5 586.2 695.0 630.0 706.2 618.8 711.2 622.5 717.5 615.0 735.0 630.0 696.2 670.0 630.0 602.5" fill="none" stroke="#ccd6d4" stroke-width="0.8" stroke-linejoin="round" />
<path d="M620.0 740.0 637.5 731.2 658.8 750.0" fill="none" stroke="#ccd6d4" stroke-width="0.8" stroke-linejoin="round" />
<path d="M650.0 840.0 680.0 815.0 715.0 845.0 690.0 875.0" fill="none" stroke="#ccd6d4" stroke-width="0.8" stroke-linejoin="round" />
<path d="M940.0 815.0 1020.0 760.0 1060.0 790.0" fill="none" stroke="#ccd6d4" stroke-width="0.8" stroke-linejoin="round" />
<path d="M1152.5 822.0 1176.0 822.0 1190.0 834.0 1213.3 834.2" fill="none" stroke="#ccd6d4" stroke-width="0.8" stroke-linejoin="round" />
<path d="M1183.6 797.7 1176.0 822.0" fill="none" stroke="#ccd6d4" stroke-width="0.8" stroke-linejoin="round" />
<path d="M1182.2 858.5 1190.0 834.0" fill="none" stroke="#ccd6d4" stroke-width="0.8" stroke-linejoin="round" />
<path d="M1196.3 562.5A2.33 2.33 0 0 1 1195.6 566.8A2.33 2.33 0 0 1 1193.4 570.6A2.33 2.33 0 0 1 1190.0 573.4A2.33 2.33 0 0 1 1185.9 574.9A2.33 2.33 0 0 1 1181.6 574.9A2.33 2.33 0 0 1 1177.5 573.4A2.33 2.33 0 0 1 1174.1 570.6A2.33 2.33 0 0 1 1171.9 566.8A2.33 2.33 0 0 1 1171.2 562.5A2.33 2.33 0 0 1 1171.9 558.2A2.33 2.33 0 0 1 1174.1 554.4A2.33 2.33 0 0 1 1177.5 551.6A2.33 2.33 0 0 1 1181.6 550.1A2.33 2.33 0 0 1 1185.9 550.1A2.33 2.33 0 0 1 1190.0 551.6A2.33 2.33 0 0 1 1193.4 554.4A2.33 2.33 0 0 1 1195.6 558.2A2.33 2.33 0 0 1 1196.3 562.5Z" fill="#eef0ef" stroke="#8ea5a3" stroke-width="0.6"/>
<path d="M1172.6 578.8A2.33 2.33 0 0 1 1171.8 583.1A2.33 2.33 0 0 1 1169.7 586.8A2.33 2.33 0 0 1 1166.3 589.7A2.33 2.33 0 0 1 1162.2 591.2A2.33 2.33 0 0 1 1157.8 591.2A2.33 2.33 0 0 1 1153.7 589.7A2.33 2.33 0 0 1 1150.3 586.8A2.33 2.33 0 0 1 1148.2 583.1A2.33 2.33 0 0 1 1147.4 578.8A2.33 2.33 0 0 1 1148.2 574.4A2.33 2.33 0 0 1 1150.3 570.7A2.33 2.33 0 0 1 1153.7 567.8A2.33 2.33 0 0 1 1157.8 566.3A2.33 2.33 0 0 1 1162.2 566.3A2.33 2.33 0 0 1 1166.3 567.8A2.33 2.33 0 0 1 1169.7 570.7A2.33 2.33 0 0 1 1171.8 574.4A2.33 2.33 0 0 1 1172.6 578.8Z" fill="#eef0ef" stroke="#8ea5a3" stroke-width="0.6"/>
<path d="M1212.6 596.2A2.33 2.33 0 0 1 1211.8 600.6A2.33 2.33 0 0 1 1209.7 604.3A2.33 2.33 0 0 1 1206.3 607.2A2.33 2.33 0 0 1 1202.2 608.7A2.33 2.33 0 0 1 1197.8 608.7A2.33 2.33 0 0 1 1193.7 607.2A2.33 2.33 0 0 1 1190.3 604.3A2.33 2.33 0 0 1 1188.2 600.6A2.33 2.33 0 0 1 1187.4 596.2A2.33 2.33 0 0 1 1188.2 591.9A2.33 2.33 0 0 1 1190.3 588.2A2.33 2.33 0 0 1 1193.7 585.3A2.33 2.33 0 0 1 1197.8 583.8A2.33 2.33 0 0 1 1202.2 583.8A2.33 2.33 0 0 1 1206.3 585.3A2.33 2.33 0 0 1 1209.7 588.2A2.33 2.33 0 0 1 1211.8 591.9A2.33 2.33 0 0 1 1212.6 596.2Z" fill="#eef0ef" stroke="#8ea5a3" stroke-width="0.6"/>
<path d="M799.2 470.0A2.37 2.37 0 0 1 798.2 474.3A2.37 2.37 0 0 1 795.2 477.6A2.37 2.37 0 0 1 791.1 479.2A2.37 2.37 0 0 1 786.7 478.6A2.37 2.37 0 0 1 783.1 476.1A2.37 2.37 0 0 1 781.0 472.2A2.37 2.37 0 0 1 781.0 467.8A2.37 2.37 0 0 1 783.1 463.9A2.37 2.37 0 0 1 786.7 461.4A2.37 2.37 0 0 1 791.1 460.8A2.37 2.37 0 0 1 795.2 462.4A2.37 2.37 0 0 1 798.2 465.7A2.37 2.37 0 0 1 799.2 470.0Z" fill="#eef0ef" stroke="#8ea5a3" stroke-width="0.6"/>
<path d="M799.2 468.8A2.37 2.37 0 0 1 798.2 473.0A2.37 2.37 0 0 1 795.2 476.4A2.37 2.37 0 0 1 791.1 477.9A2.37 2.37 0 0 1 786.7 477.4A2.37 2.37 0 0 1 783.1 474.9A2.37 2.37 0 0 1 781.0 471.0A2.37 2.37 0 0 1 781.0 466.5A2.37 2.37 0 0 1 783.1 462.6A2.37 2.37 0 0 1 786.7 460.1A2.37 2.37 0 0 1 791.1 459.6A2.37 2.37 0 0 1 795.2 461.1A2.37 2.37 0 0 1 798.2 464.5A2.37 2.37 0 0 1 799.2 468.8Z" fill="#eef0ef" stroke="#8ea5a3" stroke-width="0.6"/>
<path d="M1262.5 640.0A3 3 0 0 1 1267.1 639.2A3 3 0 0 1 1271.7 638.3A3 3 0 0 1 1276.2 637.5A3 3 0 0 1 1280.8 636.7A3 3 0 0 1 1285.4 635.8A3 3 0 0 1 1290.0 635.0A3 3 0 0 1 1293.0 638.5A3 3 0 0 1 1296.0 642.0A3 3 0 0 1 1299.0 645.5A3 3 0 0 1 1302.0 649.0A3 3 0 0 1 1305.0 652.5A3 3 0 0 1 1306.4 657.1A3 3 0 0 1 1307.9 661.8A3 3 0 0 1 1309.3 666.4A3 3 0 0 1 1310.7 671.1A3 3 0 0 1 1312.1 675.7A3 3 0 0 1 1313.6 680.4A3 3 0 0 1 1315.0 685.0A3 3 0 0 1 1312.5 688.8A3 3 0 0 1 1310.0 692.5A3 3 0 0 1 1307.5 696.2A3 3 0 0 1 1305.0 700.0A3 3 0 0 1 1300.0 698.3A3 3 0 0 1 1295.0 696.7A3 3 0 0 1 1290.0 695.0A3 3 0 0 1 1288.8 690.0A3 3 0 0 1 1287.5 685.0A3 3 0 0 1 1286.2 680.0A3 3 0 0 1 1285.0 675.0A3 3 0 0 1 1281.2 672.5A3 3 0 0 1 1277.5 670.0A3 3 0 0 1 1273.8 667.5A3 3 0 0 1 1270.0 665.0A3 3 0 0 1 1267.5 660.0A3 3 0 0 1 1265.0 655.0A3 3 0 0 1 1262.5 650.0A3 3 0 0 1 1262.5 645.0A3 3 0 0 1 1262.5 640.0Z" fill="#eef0ef" stroke="#8ea5a3" stroke-width="0.6"/>
<path d="M1022.0 178.0 1028.0 182.0 1062.0 270.0 1067.0 300.0 1060.0 310.0 1045.0 312.0 1030.0 305.0 985.0 262.0 980.0 250.0 984.0 238.0 1016.0 181.0Z" fill="none" stroke="#a9bbb9" stroke-width="0.8" stroke-linejoin="round" />
<path d="M1042.4 604.0 1048.0 560.0 1056.8 522.4 1071.2 508.0 1148.0 486.4 1157.6 493.6 1156.0 512.8 1135.2 556.0 1112.8 575.2 1050.0 605.0Z" fill="none" stroke="#a9bbb9" stroke-width="0.8" stroke-linejoin="round" />
<path d="M1102.6 321.6A1.9 1.9 0 0 1 1105.9 323.1A1.9 1.9 0 0 1 1109.2 324.5A1.9 1.9 0 0 1 1112.5 326.0A1.9 1.9 0 0 1 1113.3 329.3A1.9 1.9 0 0 1 1114.2 332.7A1.9 1.9 0 0 1 1115.0 336.0A1.9 1.9 0 0 1 1115.5 339.6A1.9 1.9 0 0 1 1116.1 343.1A1.9 1.9 0 0 1 1116.6 346.7A1.9 1.9 0 0 1 1117.2 350.3A1.9 1.9 0 0 1 1117.7 353.9A1.9 1.9 0 0 1 1118.3 357.4A1.9 1.9 0 0 1 1118.8 361.0A1.9 1.9 0 0 1 1122.4 362.9A1.9 1.9 0 0 1 1126.0 364.7A1.9 1.9 0 0 1 1129.6 366.6A1.9 1.9 0 0 1 1130.7 370.1A1.9 1.9 0 0 1 1131.9 373.5A1.9 1.9 0 0 1 1133.0 377.0A1.9 1.9 0 0 1 1133.0 381.5A1.9 1.9 0 0 1 1133.0 386.0A1.9 1.9 0 0 1 1136.0 388.0A1.9 1.9 0 0 1 1139.0 390.0A1.9 1.9 0 0 1 1142.0 392.0A1.9 1.9 0 0 1 1143.4 395.0A1.9 1.9 0 0 1 1144.8 398.0A1.9 1.9 0 0 1 1146.2 401.0A1.9 1.9 0 0 1 1147.6 404.0A1.9 1.9 0 0 1 1148.1 407.0A1.9 1.9 0 0 1 1148.5 410.0A1.9 1.9 0 0 1 1149.0 413.0A1.9 1.9 0 0 1 1152.0 415.5A1.9 1.9 0 0 1 1155.0 418.1A1.9 1.9 0 0 1 1158.0 420.6A1.9 1.9 0 0 1 1159.0 423.6A1.9 1.9 0 0 1 1160.0 426.6A1.9 1.9 0 0 1 1161.0 429.6A1.9 1.9 0 0 1 1160.3 432.7A1.9 1.9 0 0 1 1159.7 435.8A1.9 1.9 0 0 1 1159.1 438.9A1.9 1.9 0 0 1 1158.4 442.0A1.9 1.9 0 0 1 1155.3 444.3A1.9 1.9 0 0 1 1152.1 446.7A1.9 1.9 0 0 1 1149.0 449.0A1.9 1.9 0 0 1 1144.9 449.7A1.9 1.9 0 0 1 1140.9 450.3A1.9 1.9 0 0 1 1136.8 451.0A1.9 1.9 0 0 1 1133.2 451.2A1.9 1.9 0 0 1 1129.6 451.5A1.9 1.9 0 0 1 1126.0 451.8A1.9 1.9 0 0 1 1122.4 452.0A1.9 1.9 0 0 1 1118.8 454.1A1.9 1.9 0 0 1 1115.2 456.3A1.9 1.9 0 0 1 1111.6 458.4A1.9 1.9 0 0 1 1108.0 460.2A1.9 1.9 0 0 1 1104.4 462.0A1.9 1.9 0 0 1 1100.8 463.8A1.9 1.9 0 0 1 1097.8 465.2A1.9 1.9 0 0 1 1094.9 466.7A1.9 1.9 0 0 1 1091.9 468.1A1.9 1.9 0 0 1 1089.0 469.6A1.9 1.9 0 0 1 1086.0 471.0A1.9 1.9 0 0 1 1084.0 473.5A1.9 1.9 0 0 1 1082.0 476.0A1.9 1.9 0 0 1 1079.0 477.0A1.9 1.9 0 0 1 1076.0 478.0A1.9 1.9 0 0 1 1073.0 479.0A1.9 1.9 0 0 1 1070.0 480.0A1.9 1.9 0 0 1 1069.0 483.0A1.9 1.9 0 0 1 1068.0 486.0A1.9 1.9 0 0 1 1066.0 489.3A1.9 1.9 0 0 1 1064.0 492.7A1.9 1.9 0 0 1 1062.0 496.0A1.9 1.9 0 0 1 1058.4 496.8A1.9 1.9 0 0 1 1054.8 497.6A1.9 1.9 0 0 1 1051.2 498.4A1.9 1.9 0 0 1 1047.6 499.2A1.9 1.9 0 0 1 1044.0 500.0A1.9 1.9 0 0 1 1042.0 503.3A1.9 1.9 0 0 1 1040.0 506.7A1.9 1.9 0 0 1 1038.0 510.0A1.9 1.9 0 0 1 1036.0 512.5A1.9 1.9 0 0 1 1034.0 515.0A1.9 1.9 0 0 1 1032.0 517.5A1.9 1.9 0 0 1 1030.0 520.0A1.9 1.9 0 0 1 1028.7 523.3A1.9 1.9 0 0 1 1027.3 526.7A1.9 1.9 0 0 1 1026.0 530.0A1.9 1.9 0 0 1 1025.5 533.5A1.9 1.9 0 0 1 1025.0 537.0A1.9 1.9 0 0 1 1024.5 540.5A1.9 1.9 0 0 1 1024.0 544.0A1.9 1.9 0 0 1 1023.0 547.0A1.9 1.9 0 0 1 1022.0 550.0A1.9 1.9 0 0 1 1021.0 553.0A1.9 1.9 0 0 1 1020.0 556.0A1.9 1.9 0 0 1 1019.3 560.0A1.9 1.9 0 0 1 1018.7 564.0A1.9 1.9 0 0 1 1018.0 568.0A1.9 1.9 0 0 1 1016.8 571.2A1.9 1.9 0 0 1 1015.6 574.4A1.9 1.9 0 0 1 1014.4 577.6A1.9 1.9 0 0 1 1013.2 580.8A1.9 1.9 0 0 1 1012.0 584.0A1.9 1.9 0 0 1 1011.5 587.5A1.9 1.9 0 0 1 1011.0 591.0A1.9 1.9 0 0 1 1010.5 594.5A1.9 1.9 0 0 1 1010.0 598.0A1.9 1.9 0 0 1 1007.3 600.7A1.9 1.9 0 0 1 1004.7 603.3A1.9 1.9 0 0 1 1002.0 606.0A1.9 1.9 0 0 1 1001.0 609.0A1.9 1.9 0 0 1 1000.0 612.0A1.9 1.9 0 0 1 999.0 615.0A1.9 1.9 0 0 1 998.0 618.0A1.9 1.9 0 0 1 994.0 618.7A1.9 1.9 0 0 1 990.0 619.3A1.9 1.9 0 0 1 986.0 620.0A1.9 1.9 0 0 1 985.3 624.0A1.9 1.9 0 0 1 984.7 628.0A1.9 1.9 0 0 1 984.0 632.0A1.9 1.9 0 0 1 982.0 636.0A1.9 1.9 0 0 1 980.0 640.0A1.9 1.9 0 0 1 976.7 640.7A1.9 1.9 0 0 1 973.3 641.3A1.9 1.9 0 0 1 970.0 642.0A1.9 1.9 0 0 1 967.3 640.0A1.9 1.9 0 0 1 964.7 638.0A1.9 1.9 0 0 1 962.0 636.0A1.9 1.9 0 0 1 961.3 632.0A1.9 1.9 0 0 1 960.7 628.0A1.9 1.9 0 0 1 960.0 624.0A1.9 1.9 0 0 1 958.0 622.0A1.9 1.9 0 0 1 956.0 620.0A1.9 1.9 0 0 1 956.0 623.3A1.9 1.9 0 0 1 956.0 626.7A1.9 1.9 0 0 1 956.0 630.0A1.9 1.9 0 0 1 956.0 633.3A1.9 1.9 0 0 1 956.0 636.7A1.9 1.9 0 0 1 956.0 640.0A1.9 1.9 0 0 1 955.0 643.0A1.9 1.9 0 0 1 954.0 646.0A1.9 1.9 0 0 1 953.0 649.0A1.9 1.9 0 0 1 952.0 652.0A1.9 1.9 0 0 1 948.7 652.7A1.9 1.9 0 0 1 945.3 653.3A1.9 1.9 0 0 1 942.0 654.0A1.9 1.9 0 0 1 939.5 651.5A1.9 1.9 0 0 1 937.0 649.0A1.9 1.9 0 0 1 934.5 646.5A1.9 1.9 0 0 1 932.0 644.0A1.9 1.9 0 0 1 930.0 641.0A1.9 1.9 0 0 1 928.0 638.0A1.9 1.9 0 0 1 926.0 635.0A1.9 1.9 0 0 1 924.0 632.0A1.9 1.9 0 0 1 923.0 629.0A1.9 1.9 0 0 1 922.0 626.0A1.9 1.9 0 0 1 921.0 623.0A1.9 1.9 0 0 1 920.0 620.0A1.9 1.9 0 0 1 916.5 618.5A1.9 1.9 0 0 1 913.0 617.0A1.9 1.9 0 0 1 909.5 615.5A1.9 1.9 0 0 1 906.0 614.0A1.9 1.9 0 0 1 905.3 610.0A1.9 1.9 0 0 1 904.7 606.0A1.9 1.9 0 0 1 904.0 602.0A1.9 1.9 0 0 1 906.0 598.7A1.9 1.9 0 0 1 908.0 595.3A1.9 1.9 0 0 1 910.0 592.0A1.9 1.9 0 0 1 913.3 590.7A1.9 1.9 0 0 1 916.7 589.3A1.9 1.9 0 0 1 920.0 588.0A1.9 1.9 0 0 1 920.7 584.0A1.9 1.9 0 0 1 921.3 580.0A1.9 1.9 0 0 1 922.0 576.0A1.9 1.9 0 0 1 924.7 574.0A1.9 1.9 0 0 1 927.3 572.0A1.9 1.9 0 0 1 930.0 570.0A1.9 1.9 0 0 1 934.0 569.3A1.9 1.9 0 0 1 938.0 568.7A1.9 1.9 0 0 1 942.0 568.0A1.9 1.9 0 0 1 943.0 564.0A1.9 1.9 0 0 1 944.0 560.0A1.9 1.9 0 0 1 946.0 557.3A1.9 1.9 0 0 1 948.0 554.7A1.9 1.9 0 0 1 950.0 552.0A1.9 1.9 0 0 1 953.0 551.0A1.9 1.9 0 0 1 956.0 550.0A1.9 1.9 0 0 1 959.0 549.0A1.9 1.9 0 0 1 962.0 548.0A1.9 1.9 0 0 1 962.0 544.0A1.9 1.9 0 0 1 962.0 540.0A1.9 1.9 0 0 1 963.3 536.7A1.9 1.9 0 0 1 964.7 533.3A1.9 1.9 0 0 1 966.0 530.0A1.9 1.9 0 0 1 968.0 527.5A1.9 1.9 0 0 1 970.0 525.0A1.9 1.9 0 0 1 972.0 522.5A1.9 1.9 0 0 1 974.0 520.0A1.9 1.9 0 0 1 975.3 516.7A1.9 1.9 0 0 1 976.7 513.3A1.9 1.9 0 0 1 978.0 510.0A1.9 1.9 0 0 1 980.7 507.3A1.9 1.9 0 0 1 983.3 504.7A1.9 1.9 0 0 1 986.0 502.0A1.9 1.9 0 0 1 988.7 499.3A1.9 1.9 0 0 1 991.3 496.7A1.9 1.9 0 0 1 994.0 494.0A1.9 1.9 0 0 1 996.0 490.7A1.9 1.9 0 0 1 998.0 487.3A1.9 1.9 0 0 1 1000.0 484.0A1.9 1.9 0 0 1 1002.5 482.0A1.9 1.9 0 0 1 1005.0 480.0A1.9 1.9 0 0 1 1007.5 478.0A1.9 1.9 0 0 1 1010.0 476.0A1.9 1.9 0 0 1 1012.0 472.0A1.9 1.9 0 0 1 1014.0 468.0A1.9 1.9 0 0 1 1016.0 465.3A1.9 1.9 0 0 1 1018.0 462.7A1.9 1.9 0 0 1 1020.0 460.0A1.9 1.9 0 0 1 1023.4 458.4A1.9 1.9 0 0 1 1025.9 456.2A1.9 1.9 0 0 1 1028.4 454.1A1.9 1.9 0 0 1 1031.0 451.9A1.9 1.9 0 0 1 1033.5 449.8A1.9 1.9 0 0 1 1036.0 447.6A1.9 1.9 0 0 1 1038.4 444.6A1.9 1.9 0 0 1 1040.8 441.6A1.9 1.9 0 0 1 1043.2 438.6A1.9 1.9 0 0 1 1045.6 435.6A1.9 1.9 0 0 1 1048.0 432.6A1.9 1.9 0 0 1 1050.4 429.6A1.9 1.9 0 0 1 1052.5 427.1A1.9 1.9 0 0 1 1054.6 424.6A1.9 1.9 0 0 1 1056.8 422.0A1.9 1.9 0 0 1 1058.9 419.5A1.9 1.9 0 0 1 1061.0 417.0A1.9 1.9 0 0 1 1064.7 415.2A1.9 1.9 0 0 1 1068.3 413.4A1.9 1.9 0 0 1 1072.0 411.6A1.9 1.9 0 0 1 1072.9 408.0A1.9 1.9 0 0 1 1073.8 404.4A1.9 1.9 0 0 1 1076.4 401.7A1.9 1.9 0 0 1 1079.0 399.0A1.9 1.9 0 0 1 1075.5 396.3A1.9 1.9 0 0 1 1072.0 393.6A1.9 1.9 0 0 1 1069.6 391.7A1.9 1.9 0 0 1 1067.2 389.9A1.9 1.9 0 0 1 1064.8 388.0A1.9 1.9 0 0 1 1061.0 390.0A1.9 1.9 0 0 1 1058.7 392.3A1.9 1.9 0 0 1 1056.3 394.7A1.9 1.9 0 0 1 1054.0 397.0A1.9 1.9 0 0 1 1050.4 396.2A1.9 1.9 0 0 1 1046.8 395.4A1.9 1.9 0 0 1 1046.2 392.4A1.9 1.9 0 0 1 1045.6 389.4A1.9 1.9 0 0 1 1045.0 386.4A1.9 1.9 0 0 1 1042.0 385.2A1.9 1.9 0 0 1 1039.0 384.0A1.9 1.9 0 0 1 1036.0 382.8A1.9 1.9 0 0 1 1033.9 380.4A1.9 1.9 0 0 1 1031.8 378.0A1.9 1.9 0 0 1 1029.7 375.6A1.9 1.9 0 0 1 1030.0 372.6A1.9 1.9 0 0 1 1030.3 369.6A1.9 1.9 0 0 1 1030.6 366.6A1.9 1.9 0 0 1 1033.6 364.7A1.9 1.9 0 0 1 1036.6 362.9A1.9 1.9 0 0 1 1039.6 361.0A1.9 1.9 0 0 1 1043.7 361.7A1.9 1.9 0 0 1 1047.9 362.3A1.9 1.9 0 0 1 1052.0 363.0A1.9 1.9 0 0 1 1053.9 360.0A1.9 1.9 0 0 1 1055.7 357.0A1.9 1.9 0 0 1 1057.6 354.0A1.9 1.9 0 0 1 1061.2 353.5A1.9 1.9 0 0 1 1064.8 353.0A1.9 1.9 0 0 1 1068.4 352.5A1.9 1.9 0 0 1 1072.0 352.0A1.9 1.9 0 0 1 1074.2 349.8A1.9 1.9 0 0 1 1076.5 347.5A1.9 1.9 0 0 1 1078.8 345.2A1.9 1.9 0 0 1 1081.0 343.0A1.9 1.9 0 0 1 1083.7 339.5A1.9 1.9 0 0 1 1086.4 336.0A1.9 1.9 0 0 1 1087.6 332.3A1.9 1.9 0 0 1 1088.8 328.7A1.9 1.9 0 0 1 1090.0 325.0A1.9 1.9 0 0 1 1093.2 324.1A1.9 1.9 0 0 1 1096.3 323.3A1.9 1.9 0 0 1 1099.4 322.5A1.9 1.9 0 0 1 1102.6 321.6Z" fill="#dfe8c5" stroke="#6fa82a" stroke-width="1.1"/>
<path d="M1095.0 335.0 1112.0 340.0 1120.0 375.0 1100.0 385.0 1078.0 372.0 1080.0 350.0Z" fill="#e4ecd0" stroke="none" stroke-width="0" stroke-linejoin="round" />
<path d="M1090.0 400.0 1120.0 385.0 1140.0 410.0 1150.0 430.0 1130.0 445.0 1095.0 440.0 1080.0 420.0Z" fill="#e4ecd0" stroke="none" stroke-width="0" stroke-linejoin="round" />
<path d="M985.0 520.0 1010.0 495.0 1025.0 505.0 1015.0 540.0 995.0 560.0 975.0 545.0Z" fill="#e4ecd0" stroke="none" stroke-width="0" stroke-linejoin="round" />
<path d="M948.0 580.0A1.6 1.6 0 0 1 951.3 579.3A1.6 1.6 0 0 1 954.7 578.7A1.6 1.6 0 0 1 958.0 578.0A1.6 1.6 0 0 1 958.4 580.8A1.6 1.6 0 0 1 958.8 583.6A1.6 1.6 0 0 1 959.2 586.4A1.6 1.6 0 0 1 959.6 589.2A1.6 1.6 0 0 1 960.0 592.0A1.6 1.6 0 0 1 956.7 593.0A1.6 1.6 0 0 1 953.3 594.0A1.6 1.6 0 0 1 950.0 595.0A1.6 1.6 0 0 1 949.6 592.0A1.6 1.6 0 0 1 949.2 589.0A1.6 1.6 0 0 1 948.8 586.0A1.6 1.6 0 0 1 948.4 583.0A1.6 1.6 0 0 1 948.0 580.0Z" fill="#fff" stroke="#6fa82a" stroke-width="0.8"/>
<path d="M972.0 598.0A1.6 1.6 0 0 1 974.8 597.6A1.6 1.6 0 0 1 977.6 597.2A1.6 1.6 0 0 1 980.4 596.8A1.6 1.6 0 0 1 983.2 596.4A1.6 1.6 0 0 1 986.0 596.0A1.6 1.6 0 0 1 986.7 598.7A1.6 1.6 0 0 1 987.3 601.3A1.6 1.6 0 0 1 988.0 604.0A1.6 1.6 0 0 1 984.8 604.5A1.6 1.6 0 0 1 981.5 605.0A1.6 1.6 0 0 1 978.2 605.5A1.6 1.6 0 0 1 975.0 606.0A1.6 1.6 0 0 1 974.0 603.3A1.6 1.6 0 0 1 973.0 600.7A1.6 1.6 0 0 1 972.0 598.0Z" fill="#fff" stroke="#6fa82a" stroke-width="0.8"/>
<path d="M934.0 602.0A1.6 1.6 0 0 1 937.3 601.7A1.6 1.6 0 0 1 940.7 601.3A1.6 1.6 0 0 1 944.0 601.0A1.6 1.6 0 0 1 944.3 604.0A1.6 1.6 0 0 1 944.7 607.0A1.6 1.6 0 0 1 945.0 610.0A1.6 1.6 0 0 1 942.0 610.3A1.6 1.6 0 0 1 939.0 610.7A1.6 1.6 0 0 1 936.0 611.0A1.6 1.6 0 0 1 935.3 608.0A1.6 1.6 0 0 1 934.7 605.0A1.6 1.6 0 0 1 934.0 602.0Z" fill="#fff" stroke="#6fa82a" stroke-width="0.8"/>
<g fill="#dfe8c5" stroke="#6fa82a" stroke-width="2"><path d="M908.4 635.2A1.9 1.9 0 0 1 908.1 638.4A1.9 1.9 0 0 1 907.1 641.4A1.9 1.9 0 0 1 905.6 644.2A1.9 1.9 0 0 1 903.5 646.7A1.9 1.9 0 0 1 901.0 648.6A1.9 1.9 0 0 1 898.1 650.0A1.9 1.9 0 0 1 895.0 650.8A1.9 1.9 0 0 1 891.8 651.0A1.9 1.9 0 0 1 888.6 650.5A1.9 1.9 0 0 1 885.6 649.4A1.9 1.9 0 0 1 882.9 647.7A1.9 1.9 0 0 1 880.6 645.5A1.9 1.9 0 0 1 878.8 642.9A1.9 1.9 0 0 1 877.5 639.9A1.9 1.9 0 0 1 876.9 636.8A1.9 1.9 0 0 1 876.9 633.6A1.9 1.9 0 0 1 877.5 630.5A1.9 1.9 0 0 1 878.8 627.5A1.9 1.9 0 0 1 880.6 624.9A1.9 1.9 0 0 1 882.9 622.7A1.9 1.9 0 0 1 885.6 621.0A1.9 1.9 0 0 1 888.6 619.9A1.9 1.9 0 0 1 891.8 619.4A1.9 1.9 0 0 1 895.0 619.6A1.9 1.9 0 0 1 898.1 620.4A1.9 1.9 0 0 1 901.0 621.8A1.9 1.9 0 0 1 903.5 623.7A1.9 1.9 0 0 1 905.6 626.2A1.9 1.9 0 0 1 907.1 629.0A1.9 1.9 0 0 1 908.1 632.0A1.9 1.9 0 0 1 908.4 635.2Z"/><path d="M893.7 658.3A1.9 1.9 0 0 1 893.3 661.5A1.9 1.9 0 0 1 892.3 664.5A1.9 1.9 0 0 1 890.6 667.2A1.9 1.9 0 0 1 888.3 669.5A1.9 1.9 0 0 1 885.6 671.2A1.9 1.9 0 0 1 882.6 672.2A1.9 1.9 0 0 1 879.4 672.6A1.9 1.9 0 0 1 876.2 672.2A1.9 1.9 0 0 1 873.2 671.2A1.9 1.9 0 0 1 870.5 669.5A1.9 1.9 0 0 1 868.2 667.2A1.9 1.9 0 0 1 866.5 664.5A1.9 1.9 0 0 1 865.5 661.5A1.9 1.9 0 0 1 865.1 658.3A1.9 1.9 0 0 1 865.5 655.1A1.9 1.9 0 0 1 866.5 652.1A1.9 1.9 0 0 1 868.2 649.4A1.9 1.9 0 0 1 870.5 647.1A1.9 1.9 0 0 1 873.2 645.4A1.9 1.9 0 0 1 876.2 644.4A1.9 1.9 0 0 1 879.4 644.0A1.9 1.9 0 0 1 882.6 644.4A1.9 1.9 0 0 1 885.6 645.4A1.9 1.9 0 0 1 888.3 647.1A1.9 1.9 0 0 1 890.6 649.4A1.9 1.9 0 0 1 892.3 652.1A1.9 1.9 0 0 1 893.3 655.1A1.9 1.9 0 0 1 893.7 658.3Z"/><path d="M912.4 652.1A1.9 1.9 0 0 1 912.0 655.4A1.9 1.9 0 0 1 910.8 658.5A1.9 1.9 0 0 1 908.8 661.1A1.9 1.9 0 0 1 906.3 663.2A1.9 1.9 0 0 1 903.3 664.7A1.9 1.9 0 0 1 900.0 665.3A1.9 1.9 0 0 1 896.7 665.1A1.9 1.9 0 0 1 893.6 664.0A1.9 1.9 0 0 1 890.8 662.3A1.9 1.9 0 0 1 888.5 659.9A1.9 1.9 0 0 1 886.9 657.0A1.9 1.9 0 0 1 886.1 653.8A1.9 1.9 0 0 1 886.1 650.4A1.9 1.9 0 0 1 886.9 647.2A1.9 1.9 0 0 1 888.5 644.3A1.9 1.9 0 0 1 890.8 641.9A1.9 1.9 0 0 1 893.6 640.2A1.9 1.9 0 0 1 896.7 639.1A1.9 1.9 0 0 1 900.0 638.9A1.9 1.9 0 0 1 903.3 639.5A1.9 1.9 0 0 1 906.3 641.0A1.9 1.9 0 0 1 908.8 643.1A1.9 1.9 0 0 1 910.8 645.7A1.9 1.9 0 0 1 912.0 648.8A1.9 1.9 0 0 1 912.4 652.1Z"/><path d="M921.2 669.3A1.9 1.9 0 0 1 920.7 672.5A1.9 1.9 0 0 1 919.3 675.5A1.9 1.9 0 0 1 917.1 677.9A1.9 1.9 0 0 1 914.2 679.5A1.9 1.9 0 0 1 911.0 680.3A1.9 1.9 0 0 1 907.8 680.0A1.9 1.9 0 0 1 904.7 678.8A1.9 1.9 0 0 1 902.1 676.8A1.9 1.9 0 0 1 900.3 674.1A1.9 1.9 0 0 1 899.3 670.9A1.9 1.9 0 0 1 899.3 667.7A1.9 1.9 0 0 1 900.3 664.5A1.9 1.9 0 0 1 902.1 661.8A1.9 1.9 0 0 1 904.7 659.8A1.9 1.9 0 0 1 907.8 658.6A1.9 1.9 0 0 1 911.0 658.3A1.9 1.9 0 0 1 914.2 659.1A1.9 1.9 0 0 1 917.1 660.7A1.9 1.9 0 0 1 919.3 663.1A1.9 1.9 0 0 1 920.7 666.1A1.9 1.9 0 0 1 921.2 669.3Z"/><path d="M872.8 673.7A1.9 1.9 0 0 1 872.5 677.0A1.9 1.9 0 0 1 871.7 680.1A1.9 1.9 0 0 1 870.4 683.1A1.9 1.9 0 0 1 868.6 685.9A1.9 1.9 0 0 1 866.4 688.3A1.9 1.9 0 0 1 863.8 690.3A1.9 1.9 0 0 1 861.0 691.8A1.9 1.9 0 0 1 857.9 692.9A1.9 1.9 0 0 1 854.6 693.4A1.9 1.9 0 0 1 851.4 693.4A1.9 1.9 0 0 1 848.1 692.9A1.9 1.9 0 0 1 845.0 691.8A1.9 1.9 0 0 1 842.2 690.3A1.9 1.9 0 0 1 839.6 688.3A1.9 1.9 0 0 1 837.4 685.9A1.9 1.9 0 0 1 835.6 683.1A1.9 1.9 0 0 1 834.3 680.1A1.9 1.9 0 0 1 833.5 677.0A1.9 1.9 0 0 1 833.2 673.7A1.9 1.9 0 0 1 833.5 670.4A1.9 1.9 0 0 1 834.3 667.3A1.9 1.9 0 0 1 835.6 664.3A1.9 1.9 0 0 1 837.4 661.5A1.9 1.9 0 0 1 839.6 659.1A1.9 1.9 0 0 1 842.2 657.1A1.9 1.9 0 0 1 845.0 655.6A1.9 1.9 0 0 1 848.1 654.5A1.9 1.9 0 0 1 851.4 654.0A1.9 1.9 0 0 1 854.6 654.0A1.9 1.9 0 0 1 857.9 654.5A1.9 1.9 0 0 1 861.0 655.6A1.9 1.9 0 0 1 863.8 657.1A1.9 1.9 0 0 1 866.4 659.1A1.9 1.9 0 0 1 868.6 661.5A1.9 1.9 0 0 1 870.4 664.3A1.9 1.9 0 0 1 871.7 667.3A1.9 1.9 0 0 1 872.5 670.4A1.9 1.9 0 0 1 872.8 673.7Z"/><path d="M882.7 688.0A1.9 1.9 0 0 1 882.3 691.2A1.9 1.9 0 0 1 881.3 694.2A1.9 1.9 0 0 1 879.6 696.9A1.9 1.9 0 0 1 877.3 699.2A1.9 1.9 0 0 1 874.6 700.9A1.9 1.9 0 0 1 871.6 701.9A1.9 1.9 0 0 1 868.4 702.3A1.9 1.9 0 0 1 865.2 701.9A1.9 1.9 0 0 1 862.2 700.9A1.9 1.9 0 0 1 859.5 699.2A1.9 1.9 0 0 1 857.2 696.9A1.9 1.9 0 0 1 855.5 694.2A1.9 1.9 0 0 1 854.5 691.2A1.9 1.9 0 0 1 854.1 688.0A1.9 1.9 0 0 1 854.5 684.8A1.9 1.9 0 0 1 855.5 681.8A1.9 1.9 0 0 1 857.2 679.1A1.9 1.9 0 0 1 859.5 676.8A1.9 1.9 0 0 1 862.2 675.1A1.9 1.9 0 0 1 865.2 674.1A1.9 1.9 0 0 1 868.4 673.7A1.9 1.9 0 0 1 871.6 674.1A1.9 1.9 0 0 1 874.6 675.1A1.9 1.9 0 0 1 877.3 676.8A1.9 1.9 0 0 1 879.6 679.1A1.9 1.9 0 0 1 881.3 681.8A1.9 1.9 0 0 1 882.3 684.8A1.9 1.9 0 0 1 882.7 688.0Z"/><path d="M857.4 699.0A1.9 1.9 0 0 1 857.1 702.2A1.9 1.9 0 0 1 856.2 705.4A1.9 1.9 0 0 1 854.8 708.3A1.9 1.9 0 0 1 852.8 710.9A1.9 1.9 0 0 1 850.4 713.0A1.9 1.9 0 0 1 847.6 714.8A1.9 1.9 0 0 1 844.6 715.9A1.9 1.9 0 0 1 841.4 716.5A1.9 1.9 0 0 1 838.2 716.5A1.9 1.9 0 0 1 835.0 715.9A1.9 1.9 0 0 1 832.0 714.8A1.9 1.9 0 0 1 829.2 713.0A1.9 1.9 0 0 1 826.8 710.9A1.9 1.9 0 0 1 824.8 708.3A1.9 1.9 0 0 1 823.4 705.4A1.9 1.9 0 0 1 822.5 702.2A1.9 1.9 0 0 1 822.2 699.0A1.9 1.9 0 0 1 822.5 695.8A1.9 1.9 0 0 1 823.4 692.6A1.9 1.9 0 0 1 824.8 689.7A1.9 1.9 0 0 1 826.8 687.1A1.9 1.9 0 0 1 829.2 685.0A1.9 1.9 0 0 1 832.0 683.2A1.9 1.9 0 0 1 835.0 682.1A1.9 1.9 0 0 1 838.2 681.5A1.9 1.9 0 0 1 841.4 681.5A1.9 1.9 0 0 1 844.6 682.1A1.9 1.9 0 0 1 847.6 683.2A1.9 1.9 0 0 1 850.4 685.0A1.9 1.9 0 0 1 852.8 687.1A1.9 1.9 0 0 1 854.8 689.7A1.9 1.9 0 0 1 856.2 692.6A1.9 1.9 0 0 1 857.1 695.8A1.9 1.9 0 0 1 857.4 699.0Z"/><path d="M829.9 714.4A1.9 1.9 0 0 1 829.6 717.6A1.9 1.9 0 0 1 828.6 720.7A1.9 1.9 0 0 1 827.0 723.5A1.9 1.9 0 0 1 824.8 725.8A1.9 1.9 0 0 1 822.2 727.7A1.9 1.9 0 0 1 819.3 729.0A1.9 1.9 0 0 1 816.1 729.7A1.9 1.9 0 0 1 812.9 729.7A1.9 1.9 0 0 1 809.7 729.0A1.9 1.9 0 0 1 806.8 727.7A1.9 1.9 0 0 1 804.2 725.8A1.9 1.9 0 0 1 802.0 723.5A1.9 1.9 0 0 1 800.4 720.7A1.9 1.9 0 0 1 799.4 717.6A1.9 1.9 0 0 1 799.1 714.4A1.9 1.9 0 0 1 799.4 711.2A1.9 1.9 0 0 1 800.4 708.1A1.9 1.9 0 0 1 802.0 705.3A1.9 1.9 0 0 1 804.2 703.0A1.9 1.9 0 0 1 806.8 701.1A1.9 1.9 0 0 1 809.7 699.8A1.9 1.9 0 0 1 812.9 699.1A1.9 1.9 0 0 1 816.1 699.1A1.9 1.9 0 0 1 819.3 699.8A1.9 1.9 0 0 1 822.2 701.1A1.9 1.9 0 0 1 824.8 703.0A1.9 1.9 0 0 1 827.0 705.3A1.9 1.9 0 0 1 828.6 708.1A1.9 1.9 0 0 1 829.6 711.2A1.9 1.9 0 0 1 829.9 714.4Z"/><path d="M836.5 740.8A1.9 1.9 0 0 1 836.2 744.0A1.9 1.9 0 0 1 835.2 747.1A1.9 1.9 0 0 1 833.7 750.0A1.9 1.9 0 0 1 831.7 752.5A1.9 1.9 0 0 1 829.2 754.5A1.9 1.9 0 0 1 826.3 756.0A1.9 1.9 0 0 1 823.2 757.0A1.9 1.9 0 0 1 820.0 757.3A1.9 1.9 0 0 1 816.8 757.0A1.9 1.9 0 0 1 813.7 756.0A1.9 1.9 0 0 1 810.8 754.5A1.9 1.9 0 0 1 808.3 752.5A1.9 1.9 0 0 1 806.3 750.0A1.9 1.9 0 0 1 804.8 747.1A1.9 1.9 0 0 1 803.8 744.0A1.9 1.9 0 0 1 803.5 740.8A1.9 1.9 0 0 1 803.8 737.6A1.9 1.9 0 0 1 804.8 734.5A1.9 1.9 0 0 1 806.3 731.6A1.9 1.9 0 0 1 808.3 729.1A1.9 1.9 0 0 1 810.8 727.1A1.9 1.9 0 0 1 813.7 725.6A1.9 1.9 0 0 1 816.8 724.6A1.9 1.9 0 0 1 820.0 724.3A1.9 1.9 0 0 1 823.2 724.6A1.9 1.9 0 0 1 826.3 725.6A1.9 1.9 0 0 1 829.2 727.1A1.9 1.9 0 0 1 831.7 729.1A1.9 1.9 0 0 1 833.7 731.6A1.9 1.9 0 0 1 835.2 734.5A1.9 1.9 0 0 1 836.2 737.6A1.9 1.9 0 0 1 836.5 740.8Z"/><path d="M851.9 727.6A1.9 1.9 0 0 1 851.4 730.8A1.9 1.9 0 0 1 849.8 733.7A1.9 1.9 0 0 1 847.4 735.9A1.9 1.9 0 0 1 844.4 737.2A1.9 1.9 0 0 1 841.2 737.5A1.9 1.9 0 0 1 838.0 736.7A1.9 1.9 0 0 1 835.3 734.9A1.9 1.9 0 0 1 833.3 732.3A1.9 1.9 0 0 1 832.2 729.2A1.9 1.9 0 0 1 832.2 726.0A1.9 1.9 0 0 1 833.3 722.9A1.9 1.9 0 0 1 835.3 720.3A1.9 1.9 0 0 1 838.0 718.5A1.9 1.9 0 0 1 841.2 717.7A1.9 1.9 0 0 1 844.4 718.0A1.9 1.9 0 0 1 847.4 719.3A1.9 1.9 0 0 1 849.8 721.5A1.9 1.9 0 0 1 851.4 724.4A1.9 1.9 0 0 1 851.9 727.6Z"/><path d="M792.5 740.8A1.9 1.9 0 0 1 792.1 744.0A1.9 1.9 0 0 1 791.1 747.0A1.9 1.9 0 0 1 789.4 749.7A1.9 1.9 0 0 1 787.1 752.0A1.9 1.9 0 0 1 784.4 753.7A1.9 1.9 0 0 1 781.4 754.7A1.9 1.9 0 0 1 778.2 755.1A1.9 1.9 0 0 1 775.0 754.7A1.9 1.9 0 0 1 772.0 753.7A1.9 1.9 0 0 1 769.3 752.0A1.9 1.9 0 0 1 767.0 749.7A1.9 1.9 0 0 1 765.3 747.0A1.9 1.9 0 0 1 764.3 744.0A1.9 1.9 0 0 1 763.9 740.8A1.9 1.9 0 0 1 764.3 737.6A1.9 1.9 0 0 1 765.3 734.6A1.9 1.9 0 0 1 767.0 731.9A1.9 1.9 0 0 1 769.3 729.6A1.9 1.9 0 0 1 772.0 727.9A1.9 1.9 0 0 1 775.0 726.9A1.9 1.9 0 0 1 778.2 726.5A1.9 1.9 0 0 1 781.4 726.9A1.9 1.9 0 0 1 784.4 727.9A1.9 1.9 0 0 1 787.1 729.6A1.9 1.9 0 0 1 789.4 731.9A1.9 1.9 0 0 1 791.1 734.6A1.9 1.9 0 0 1 792.1 737.6A1.9 1.9 0 0 1 792.5 740.8Z"/><path d="M793.6 762.8A1.9 1.9 0 0 1 793.3 766.0A1.9 1.9 0 0 1 792.3 769.1A1.9 1.9 0 0 1 790.7 771.9A1.9 1.9 0 0 1 788.5 774.2A1.9 1.9 0 0 1 785.9 776.1A1.9 1.9 0 0 1 783.0 777.4A1.9 1.9 0 0 1 779.8 778.1A1.9 1.9 0 0 1 776.6 778.1A1.9 1.9 0 0 1 773.4 777.4A1.9 1.9 0 0 1 770.5 776.1A1.9 1.9 0 0 1 767.9 774.2A1.9 1.9 0 0 1 765.7 771.9A1.9 1.9 0 0 1 764.1 769.1A1.9 1.9 0 0 1 763.1 766.0A1.9 1.9 0 0 1 762.8 762.8A1.9 1.9 0 0 1 763.1 759.6A1.9 1.9 0 0 1 764.1 756.5A1.9 1.9 0 0 1 765.7 753.7A1.9 1.9 0 0 1 767.9 751.4A1.9 1.9 0 0 1 770.5 749.5A1.9 1.9 0 0 1 773.4 748.2A1.9 1.9 0 0 1 776.6 747.5A1.9 1.9 0 0 1 779.8 747.5A1.9 1.9 0 0 1 783.0 748.2A1.9 1.9 0 0 1 785.9 749.5A1.9 1.9 0 0 1 788.5 751.4A1.9 1.9 0 0 1 790.7 753.7A1.9 1.9 0 0 1 792.3 756.5A1.9 1.9 0 0 1 793.3 759.6A1.9 1.9 0 0 1 793.6 762.8Z"/><path d="M770.5 767.2A1.9 1.9 0 0 1 770.2 770.4A1.9 1.9 0 0 1 769.2 773.5A1.9 1.9 0 0 1 767.7 776.4A1.9 1.9 0 0 1 765.7 778.9A1.9 1.9 0 0 1 763.2 780.9A1.9 1.9 0 0 1 760.3 782.4A1.9 1.9 0 0 1 757.2 783.4A1.9 1.9 0 0 1 754.0 783.7A1.9 1.9 0 0 1 750.8 783.4A1.9 1.9 0 0 1 747.7 782.4A1.9 1.9 0 0 1 744.8 780.9A1.9 1.9 0 0 1 742.3 778.9A1.9 1.9 0 0 1 740.3 776.4A1.9 1.9 0 0 1 738.8 773.5A1.9 1.9 0 0 1 737.8 770.4A1.9 1.9 0 0 1 737.5 767.2A1.9 1.9 0 0 1 737.8 764.0A1.9 1.9 0 0 1 738.8 760.9A1.9 1.9 0 0 1 740.3 758.0A1.9 1.9 0 0 1 742.3 755.5A1.9 1.9 0 0 1 744.8 753.5A1.9 1.9 0 0 1 747.7 752.0A1.9 1.9 0 0 1 750.8 751.0A1.9 1.9 0 0 1 754.0 750.7A1.9 1.9 0 0 1 757.2 751.0A1.9 1.9 0 0 1 760.3 752.0A1.9 1.9 0 0 1 763.2 753.5A1.9 1.9 0 0 1 765.7 755.5A1.9 1.9 0 0 1 767.7 758.0A1.9 1.9 0 0 1 769.2 760.9A1.9 1.9 0 0 1 770.2 764.0A1.9 1.9 0 0 1 770.5 767.2Z"/><path d="M749.6 790.3A1.9 1.9 0 0 1 749.3 793.5A1.9 1.9 0 0 1 748.3 796.6A1.9 1.9 0 0 1 746.7 799.4A1.9 1.9 0 0 1 744.5 801.7A1.9 1.9 0 0 1 741.9 803.6A1.9 1.9 0 0 1 739.0 804.9A1.9 1.9 0 0 1 735.8 805.6A1.9 1.9 0 0 1 732.6 805.6A1.9 1.9 0 0 1 729.4 804.9A1.9 1.9 0 0 1 726.5 803.6A1.9 1.9 0 0 1 723.9 801.7A1.9 1.9 0 0 1 721.7 799.4A1.9 1.9 0 0 1 720.1 796.6A1.9 1.9 0 0 1 719.1 793.5A1.9 1.9 0 0 1 718.8 790.3A1.9 1.9 0 0 1 719.1 787.1A1.9 1.9 0 0 1 720.1 784.0A1.9 1.9 0 0 1 721.7 781.2A1.9 1.9 0 0 1 723.9 778.9A1.9 1.9 0 0 1 726.5 777.0A1.9 1.9 0 0 1 729.4 775.7A1.9 1.9 0 0 1 732.6 775.0A1.9 1.9 0 0 1 735.8 775.0A1.9 1.9 0 0 1 739.0 775.7A1.9 1.9 0 0 1 741.9 777.0A1.9 1.9 0 0 1 744.5 778.9A1.9 1.9 0 0 1 746.7 781.2A1.9 1.9 0 0 1 748.3 784.0A1.9 1.9 0 0 1 749.3 787.1A1.9 1.9 0 0 1 749.6 790.3Z"/><path d="M765.0 787.0A1.9 1.9 0 0 1 764.5 790.2A1.9 1.9 0 0 1 763.1 793.2A1.9 1.9 0 0 1 760.9 795.6A1.9 1.9 0 0 1 758.0 797.2A1.9 1.9 0 0 1 754.8 798.0A1.9 1.9 0 0 1 751.6 797.7A1.9 1.9 0 0 1 748.5 796.5A1.9 1.9 0 0 1 745.9 794.5A1.9 1.9 0 0 1 744.1 791.8A1.9 1.9 0 0 1 743.1 788.6A1.9 1.9 0 0 1 743.1 785.4A1.9 1.9 0 0 1 744.1 782.2A1.9 1.9 0 0 1 745.9 779.5A1.9 1.9 0 0 1 748.5 777.5A1.9 1.9 0 0 1 751.6 776.3A1.9 1.9 0 0 1 754.8 776.0A1.9 1.9 0 0 1 758.0 776.8A1.9 1.9 0 0 1 760.9 778.4A1.9 1.9 0 0 1 763.1 780.8A1.9 1.9 0 0 1 764.5 783.8A1.9 1.9 0 0 1 765.0 787.0Z"/><path d="M858.5 764.0A1.9 1.9 0 0 1 858.1 767.3A1.9 1.9 0 0 1 856.7 770.3A1.9 1.9 0 0 1 854.7 772.8A1.9 1.9 0 0 1 852.0 774.7A1.9 1.9 0 0 1 848.9 775.8A1.9 1.9 0 0 1 845.6 776.1A1.9 1.9 0 0 1 842.3 775.4A1.9 1.9 0 0 1 839.4 773.9A1.9 1.9 0 0 1 837.0 771.6A1.9 1.9 0 0 1 835.3 768.8A1.9 1.9 0 0 1 834.4 765.6A1.9 1.9 0 0 1 834.4 762.4A1.9 1.9 0 0 1 835.3 759.2A1.9 1.9 0 0 1 837.0 756.4A1.9 1.9 0 0 1 839.4 754.1A1.9 1.9 0 0 1 842.3 752.6A1.9 1.9 0 0 1 845.6 751.9A1.9 1.9 0 0 1 848.9 752.2A1.9 1.9 0 0 1 852.0 753.3A1.9 1.9 0 0 1 854.7 755.2A1.9 1.9 0 0 1 856.7 757.7A1.9 1.9 0 0 1 858.1 760.7A1.9 1.9 0 0 1 858.5 764.0Z"/><path d="M878.8 786.6A1.9 1.9 0 0 1 878.5 789.8A1.9 1.9 0 0 1 877.5 792.9A1.9 1.9 0 0 1 875.9 795.7A1.9 1.9 0 0 1 873.7 798.0A1.9 1.9 0 0 1 871.1 799.9A1.9 1.9 0 0 1 868.2 801.2A1.9 1.9 0 0 1 865.0 801.9A1.9 1.9 0 0 1 861.8 801.9A1.9 1.9 0 0 1 858.6 801.2A1.9 1.9 0 0 1 855.7 799.9A1.9 1.9 0 0 1 853.1 798.0A1.9 1.9 0 0 1 850.9 795.7A1.9 1.9 0 0 1 849.3 792.9A1.9 1.9 0 0 1 848.3 789.8A1.9 1.9 0 0 1 848.0 786.6A1.9 1.9 0 0 1 848.3 783.4A1.9 1.9 0 0 1 849.3 780.3A1.9 1.9 0 0 1 850.9 777.5A1.9 1.9 0 0 1 853.1 775.2A1.9 1.9 0 0 1 855.7 773.3A1.9 1.9 0 0 1 858.6 772.0A1.9 1.9 0 0 1 861.8 771.3A1.9 1.9 0 0 1 865.0 771.3A1.9 1.9 0 0 1 868.2 772.0A1.9 1.9 0 0 1 871.1 773.3A1.9 1.9 0 0 1 873.7 775.2A1.9 1.9 0 0 1 875.9 777.5A1.9 1.9 0 0 1 877.5 780.3A1.9 1.9 0 0 1 878.5 783.4A1.9 1.9 0 0 1 878.8 786.6Z"/><path d="M808.0 752.0A1.9 1.9 0 0 1 807.6 755.2A1.9 1.9 0 0 1 806.3 758.2A1.9 1.9 0 0 1 804.2 760.8A1.9 1.9 0 0 1 801.5 762.7A1.9 1.9 0 0 1 798.4 763.7A1.9 1.9 0 0 1 795.2 764.0A1.9 1.9 0 0 1 792.0 763.3A1.9 1.9 0 0 1 789.1 761.8A1.9 1.9 0 0 1 786.7 759.6A1.9 1.9 0 0 1 785.0 756.8A1.9 1.9 0 0 1 784.1 753.6A1.9 1.9 0 0 1 784.1 750.4A1.9 1.9 0 0 1 785.0 747.2A1.9 1.9 0 0 1 786.7 744.4A1.9 1.9 0 0 1 789.1 742.2A1.9 1.9 0 0 1 792.0 740.7A1.9 1.9 0 0 1 795.2 740.0A1.9 1.9 0 0 1 798.4 740.3A1.9 1.9 0 0 1 801.5 741.3A1.9 1.9 0 0 1 804.2 743.2A1.9 1.9 0 0 1 806.3 745.8A1.9 1.9 0 0 1 807.6 748.8A1.9 1.9 0 0 1 808.0 752.0Z"/></g><g fill="#dfe8c5" stroke="none"><path d="M908.4 635.2A1.9 1.9 0 0 1 908.1 638.4A1.9 1.9 0 0 1 907.1 641.4A1.9 1.9 0 0 1 905.6 644.2A1.9 1.9 0 0 1 903.5 646.7A1.9 1.9 0 0 1 901.0 648.6A1.9 1.9 0 0 1 898.1 650.0A1.9 1.9 0 0 1 895.0 650.8A1.9 1.9 0 0 1 891.8 651.0A1.9 1.9 0 0 1 888.6 650.5A1.9 1.9 0 0 1 885.6 649.4A1.9 1.9 0 0 1 882.9 647.7A1.9 1.9 0 0 1 880.6 645.5A1.9 1.9 0 0 1 878.8 642.9A1.9 1.9 0 0 1 877.5 639.9A1.9 1.9 0 0 1 876.9 636.8A1.9 1.9 0 0 1 876.9 633.6A1.9 1.9 0 0 1 877.5 630.5A1.9 1.9 0 0 1 878.8 627.5A1.9 1.9 0 0 1 880.6 624.9A1.9 1.9 0 0 1 882.9 622.7A1.9 1.9 0 0 1 885.6 621.0A1.9 1.9 0 0 1 888.6 619.9A1.9 1.9 0 0 1 891.8 619.4A1.9 1.9 0 0 1 895.0 619.6A1.9 1.9 0 0 1 898.1 620.4A1.9 1.9 0 0 1 901.0 621.8A1.9 1.9 0 0 1 903.5 623.7A1.9 1.9 0 0 1 905.6 626.2A1.9 1.9 0 0 1 907.1 629.0A1.9 1.9 0 0 1 908.1 632.0A1.9 1.9 0 0 1 908.4 635.2Z"/><path d="M893.7 658.3A1.9 1.9 0 0 1 893.3 661.5A1.9 1.9 0 0 1 892.3 664.5A1.9 1.9 0 0 1 890.6 667.2A1.9 1.9 0 0 1 888.3 669.5A1.9 1.9 0 0 1 885.6 671.2A1.9 1.9 0 0 1 882.6 672.2A1.9 1.9 0 0 1 879.4 672.6A1.9 1.9 0 0 1 876.2 672.2A1.9 1.9 0 0 1 873.2 671.2A1.9 1.9 0 0 1 870.5 669.5A1.9 1.9 0 0 1 868.2 667.2A1.9 1.9 0 0 1 866.5 664.5A1.9 1.9 0 0 1 865.5 661.5A1.9 1.9 0 0 1 865.1 658.3A1.9 1.9 0 0 1 865.5 655.1A1.9 1.9 0 0 1 866.5 652.1A1.9 1.9 0 0 1 868.2 649.4A1.9 1.9 0 0 1 870.5 647.1A1.9 1.9 0 0 1 873.2 645.4A1.9 1.9 0 0 1 876.2 644.4A1.9 1.9 0 0 1 879.4 644.0A1.9 1.9 0 0 1 882.6 644.4A1.9 1.9 0 0 1 885.6 645.4A1.9 1.9 0 0 1 888.3 647.1A1.9 1.9 0 0 1 890.6 649.4A1.9 1.9 0 0 1 892.3 652.1A1.9 1.9 0 0 1 893.3 655.1A1.9 1.9 0 0 1 893.7 658.3Z"/><path d="M912.4 652.1A1.9 1.9 0 0 1 912.0 655.4A1.9 1.9 0 0 1 910.8 658.5A1.9 1.9 0 0 1 908.8 661.1A1.9 1.9 0 0 1 906.3 663.2A1.9 1.9 0 0 1 903.3 664.7A1.9 1.9 0 0 1 900.0 665.3A1.9 1.9 0 0 1 896.7 665.1A1.9 1.9 0 0 1 893.6 664.0A1.9 1.9 0 0 1 890.8 662.3A1.9 1.9 0 0 1 888.5 659.9A1.9 1.9 0 0 1 886.9 657.0A1.9 1.9 0 0 1 886.1 653.8A1.9 1.9 0 0 1 886.1 650.4A1.9 1.9 0 0 1 886.9 647.2A1.9 1.9 0 0 1 888.5 644.3A1.9 1.9 0 0 1 890.8 641.9A1.9 1.9 0 0 1 893.6 640.2A1.9 1.9 0 0 1 896.7 639.1A1.9 1.9 0 0 1 900.0 638.9A1.9 1.9 0 0 1 903.3 639.5A1.9 1.9 0 0 1 906.3 641.0A1.9 1.9 0 0 1 908.8 643.1A1.9 1.9 0 0 1 910.8 645.7A1.9 1.9 0 0 1 912.0 648.8A1.9 1.9 0 0 1 912.4 652.1Z"/><path d="M921.2 669.3A1.9 1.9 0 0 1 920.7 672.5A1.9 1.9 0 0 1 919.3 675.5A1.9 1.9 0 0 1 917.1 677.9A1.9 1.9 0 0 1 914.2 679.5A1.9 1.9 0 0 1 911.0 680.3A1.9 1.9 0 0 1 907.8 680.0A1.9 1.9 0 0 1 904.7 678.8A1.9 1.9 0 0 1 902.1 676.8A1.9 1.9 0 0 1 900.3 674.1A1.9 1.9 0 0 1 899.3 670.9A1.9 1.9 0 0 1 899.3 667.7A1.9 1.9 0 0 1 900.3 664.5A1.9 1.9 0 0 1 902.1 661.8A1.9 1.9 0 0 1 904.7 659.8A1.9 1.9 0 0 1 907.8 658.6A1.9 1.9 0 0 1 911.0 658.3A1.9 1.9 0 0 1 914.2 659.1A1.9 1.9 0 0 1 917.1 660.7A1.9 1.9 0 0 1 919.3 663.1A1.9 1.9 0 0 1 920.7 666.1A1.9 1.9 0 0 1 921.2 669.3Z"/><path d="M872.8 673.7A1.9 1.9 0 0 1 872.5 677.0A1.9 1.9 0 0 1 871.7 680.1A1.9 1.9 0 0 1 870.4 683.1A1.9 1.9 0 0 1 868.6 685.9A1.9 1.9 0 0 1 866.4 688.3A1.9 1.9 0 0 1 863.8 690.3A1.9 1.9 0 0 1 861.0 691.8A1.9 1.9 0 0 1 857.9 692.9A1.9 1.9 0 0 1 854.6 693.4A1.9 1.9 0 0 1 851.4 693.4A1.9 1.9 0 0 1 848.1 692.9A1.9 1.9 0 0 1 845.0 691.8A1.9 1.9 0 0 1 842.2 690.3A1.9 1.9 0 0 1 839.6 688.3A1.9 1.9 0 0 1 837.4 685.9A1.9 1.9 0 0 1 835.6 683.1A1.9 1.9 0 0 1 834.3 680.1A1.9 1.9 0 0 1 833.5 677.0A1.9 1.9 0 0 1 833.2 673.7A1.9 1.9 0 0 1 833.5 670.4A1.9 1.9 0 0 1 834.3 667.3A1.9 1.9 0 0 1 835.6 664.3A1.9 1.9 0 0 1 837.4 661.5A1.9 1.9 0 0 1 839.6 659.1A1.9 1.9 0 0 1 842.2 657.1A1.9 1.9 0 0 1 845.0 655.6A1.9 1.9 0 0 1 848.1 654.5A1.9 1.9 0 0 1 851.4 654.0A1.9 1.9 0 0 1 854.6 654.0A1.9 1.9 0 0 1 857.9 654.5A1.9 1.9 0 0 1 861.0 655.6A1.9 1.9 0 0 1 863.8 657.1A1.9 1.9 0 0 1 866.4 659.1A1.9 1.9 0 0 1 868.6 661.5A1.9 1.9 0 0 1 870.4 664.3A1.9 1.9 0 0 1 871.7 667.3A1.9 1.9 0 0 1 872.5 670.4A1.9 1.9 0 0 1 872.8 673.7Z"/><path d="M882.7 688.0A1.9 1.9 0 0 1 882.3 691.2A1.9 1.9 0 0 1 881.3 694.2A1.9 1.9 0 0 1 879.6 696.9A1.9 1.9 0 0 1 877.3 699.2A1.9 1.9 0 0 1 874.6 700.9A1.9 1.9 0 0 1 871.6 701.9A1.9 1.9 0 0 1 868.4 702.3A1.9 1.9 0 0 1 865.2 701.9A1.9 1.9 0 0 1 862.2 700.9A1.9 1.9 0 0 1 859.5 699.2A1.9 1.9 0 0 1 857.2 696.9A1.9 1.9 0 0 1 855.5 694.2A1.9 1.9 0 0 1 854.5 691.2A1.9 1.9 0 0 1 854.1 688.0A1.9 1.9 0 0 1 854.5 684.8A1.9 1.9 0 0 1 855.5 681.8A1.9 1.9 0 0 1 857.2 679.1A1.9 1.9 0 0 1 859.5 676.8A1.9 1.9 0 0 1 862.2 675.1A1.9 1.9 0 0 1 865.2 674.1A1.9 1.9 0 0 1 868.4 673.7A1.9 1.9 0 0 1 871.6 674.1A1.9 1.9 0 0 1 874.6 675.1A1.9 1.9 0 0 1 877.3 676.8A1.9 1.9 0 0 1 879.6 679.1A1.9 1.9 0 0 1 881.3 681.8A1.9 1.9 0 0 1 882.3 684.8A1.9 1.9 0 0 1 882.7 688.0Z"/><path d="M857.4 699.0A1.9 1.9 0 0 1 857.1 702.2A1.9 1.9 0 0 1 856.2 705.4A1.9 1.9 0 0 1 854.8 708.3A1.9 1.9 0 0 1 852.8 710.9A1.9 1.9 0 0 1 850.4 713.0A1.9 1.9 0 0 1 847.6 714.8A1.9 1.9 0 0 1 844.6 715.9A1.9 1.9 0 0 1 841.4 716.5A1.9 1.9 0 0 1 838.2 716.5A1.9 1.9 0 0 1 835.0 715.9A1.9 1.9 0 0 1 832.0 714.8A1.9 1.9 0 0 1 829.2 713.0A1.9 1.9 0 0 1 826.8 710.9A1.9 1.9 0 0 1 824.8 708.3A1.9 1.9 0 0 1 823.4 705.4A1.9 1.9 0 0 1 822.5 702.2A1.9 1.9 0 0 1 822.2 699.0A1.9 1.9 0 0 1 822.5 695.8A1.9 1.9 0 0 1 823.4 692.6A1.9 1.9 0 0 1 824.8 689.7A1.9 1.9 0 0 1 826.8 687.1A1.9 1.9 0 0 1 829.2 685.0A1.9 1.9 0 0 1 832.0 683.2A1.9 1.9 0 0 1 835.0 682.1A1.9 1.9 0 0 1 838.2 681.5A1.9 1.9 0 0 1 841.4 681.5A1.9 1.9 0 0 1 844.6 682.1A1.9 1.9 0 0 1 847.6 683.2A1.9 1.9 0 0 1 850.4 685.0A1.9 1.9 0 0 1 852.8 687.1A1.9 1.9 0 0 1 854.8 689.7A1.9 1.9 0 0 1 856.2 692.6A1.9 1.9 0 0 1 857.1 695.8A1.9 1.9 0 0 1 857.4 699.0Z"/><path d="M829.9 714.4A1.9 1.9 0 0 1 829.6 717.6A1.9 1.9 0 0 1 828.6 720.7A1.9 1.9 0 0 1 827.0 723.5A1.9 1.9 0 0 1 824.8 725.8A1.9 1.9 0 0 1 822.2 727.7A1.9 1.9 0 0 1 819.3 729.0A1.9 1.9 0 0 1 816.1 729.7A1.9 1.9 0 0 1 812.9 729.7A1.9 1.9 0 0 1 809.7 729.0A1.9 1.9 0 0 1 806.8 727.7A1.9 1.9 0 0 1 804.2 725.8A1.9 1.9 0 0 1 802.0 723.5A1.9 1.9 0 0 1 800.4 720.7A1.9 1.9 0 0 1 799.4 717.6A1.9 1.9 0 0 1 799.1 714.4A1.9 1.9 0 0 1 799.4 711.2A1.9 1.9 0 0 1 800.4 708.1A1.9 1.9 0 0 1 802.0 705.3A1.9 1.9 0 0 1 804.2 703.0A1.9 1.9 0 0 1 806.8 701.1A1.9 1.9 0 0 1 809.7 699.8A1.9 1.9 0 0 1 812.9 699.1A1.9 1.9 0 0 1 816.1 699.1A1.9 1.9 0 0 1 819.3 699.8A1.9 1.9 0 0 1 822.2 701.1A1.9 1.9 0 0 1 824.8 703.0A1.9 1.9 0 0 1 827.0 705.3A1.9 1.9 0 0 1 828.6 708.1A1.9 1.9 0 0 1 829.6 711.2A1.9 1.9 0 0 1 829.9 714.4Z"/><path d="M836.5 740.8A1.9 1.9 0 0 1 836.2 744.0A1.9 1.9 0 0 1 835.2 747.1A1.9 1.9 0 0 1 833.7 750.0A1.9 1.9 0 0 1 831.7 752.5A1.9 1.9 0 0 1 829.2 754.5A1.9 1.9 0 0 1 826.3 756.0A1.9 1.9 0 0 1 823.2 757.0A1.9 1.9 0 0 1 820.0 757.3A1.9 1.9 0 0 1 816.8 757.0A1.9 1.9 0 0 1 813.7 756.0A1.9 1.9 0 0 1 810.8 754.5A1.9 1.9 0 0 1 808.3 752.5A1.9 1.9 0 0 1 806.3 750.0A1.9 1.9 0 0 1 804.8 747.1A1.9 1.9 0 0 1 803.8 744.0A1.9 1.9 0 0 1 803.5 740.8A1.9 1.9 0 0 1 803.8 737.6A1.9 1.9 0 0 1 804.8 734.5A1.9 1.9 0 0 1 806.3 731.6A1.9 1.9 0 0 1 808.3 729.1A1.9 1.9 0 0 1 810.8 727.1A1.9 1.9 0 0 1 813.7 725.6A1.9 1.9 0 0 1 816.8 724.6A1.9 1.9 0 0 1 820.0 724.3A1.9 1.9 0 0 1 823.2 724.6A1.9 1.9 0 0 1 826.3 725.6A1.9 1.9 0 0 1 829.2 727.1A1.9 1.9 0 0 1 831.7 729.1A1.9 1.9 0 0 1 833.7 731.6A1.9 1.9 0 0 1 835.2 734.5A1.9 1.9 0 0 1 836.2 737.6A1.9 1.9 0 0 1 836.5 740.8Z"/><path d="M851.9 727.6A1.9 1.9 0 0 1 851.4 730.8A1.9 1.9 0 0 1 849.8 733.7A1.9 1.9 0 0 1 847.4 735.9A1.9 1.9 0 0 1 844.4 737.2A1.9 1.9 0 0 1 841.2 737.5A1.9 1.9 0 0 1 838.0 736.7A1.9 1.9 0 0 1 835.3 734.9A1.9 1.9 0 0 1 833.3 732.3A1.9 1.9 0 0 1 832.2 729.2A1.9 1.9 0 0 1 832.2 726.0A1.9 1.9 0 0 1 833.3 722.9A1.9 1.9 0 0 1 835.3 720.3A1.9 1.9 0 0 1 838.0 718.5A1.9 1.9 0 0 1 841.2 717.7A1.9 1.9 0 0 1 844.4 718.0A1.9 1.9 0 0 1 847.4 719.3A1.9 1.9 0 0 1 849.8 721.5A1.9 1.9 0 0 1 851.4 724.4A1.9 1.9 0 0 1 851.9 727.6Z"/><path d="M792.5 740.8A1.9 1.9 0 0 1 792.1 744.0A1.9 1.9 0 0 1 791.1 747.0A1.9 1.9 0 0 1 789.4 749.7A1.9 1.9 0 0 1 787.1 752.0A1.9 1.9 0 0 1 784.4 753.7A1.9 1.9 0 0 1 781.4 754.7A1.9 1.9 0 0 1 778.2 755.1A1.9 1.9 0 0 1 775.0 754.7A1.9 1.9 0 0 1 772.0 753.7A1.9 1.9 0 0 1 769.3 752.0A1.9 1.9 0 0 1 767.0 749.7A1.9 1.9 0 0 1 765.3 747.0A1.9 1.9 0 0 1 764.3 744.0A1.9 1.9 0 0 1 763.9 740.8A1.9 1.9 0 0 1 764.3 737.6A1.9 1.9 0 0 1 765.3 734.6A1.9 1.9 0 0 1 767.0 731.9A1.9 1.9 0 0 1 769.3 729.6A1.9 1.9 0 0 1 772.0 727.9A1.9 1.9 0 0 1 775.0 726.9A1.9 1.9 0 0 1 778.2 726.5A1.9 1.9 0 0 1 781.4 726.9A1.9 1.9 0 0 1 784.4 727.9A1.9 1.9 0 0 1 787.1 729.6A1.9 1.9 0 0 1 789.4 731.9A1.9 1.9 0 0 1 791.1 734.6A1.9 1.9 0 0 1 792.1 737.6A1.9 1.9 0 0 1 792.5 740.8Z"/><path d="M793.6 762.8A1.9 1.9 0 0 1 793.3 766.0A1.9 1.9 0 0 1 792.3 769.1A1.9 1.9 0 0 1 790.7 771.9A1.9 1.9 0 0 1 788.5 774.2A1.9 1.9 0 0 1 785.9 776.1A1.9 1.9 0 0 1 783.0 777.4A1.9 1.9 0 0 1 779.8 778.1A1.9 1.9 0 0 1 776.6 778.1A1.9 1.9 0 0 1 773.4 777.4A1.9 1.9 0 0 1 770.5 776.1A1.9 1.9 0 0 1 767.9 774.2A1.9 1.9 0 0 1 765.7 771.9A1.9 1.9 0 0 1 764.1 769.1A1.9 1.9 0 0 1 763.1 766.0A1.9 1.9 0 0 1 762.8 762.8A1.9 1.9 0 0 1 763.1 759.6A1.9 1.9 0 0 1 764.1 756.5A1.9 1.9 0 0 1 765.7 753.7A1.9 1.9 0 0 1 767.9 751.4A1.9 1.9 0 0 1 770.5 749.5A1.9 1.9 0 0 1 773.4 748.2A1.9 1.9 0 0 1 776.6 747.5A1.9 1.9 0 0 1 779.8 747.5A1.9 1.9 0 0 1 783.0 748.2A1.9 1.9 0 0 1 785.9 749.5A1.9 1.9 0 0 1 788.5 751.4A1.9 1.9 0 0 1 790.7 753.7A1.9 1.9 0 0 1 792.3 756.5A1.9 1.9 0 0 1 793.3 759.6A1.9 1.9 0 0 1 793.6 762.8Z"/><path d="M770.5 767.2A1.9 1.9 0 0 1 770.2 770.4A1.9 1.9 0 0 1 769.2 773.5A1.9 1.9 0 0 1 767.7 776.4A1.9 1.9 0 0 1 765.7 778.9A1.9 1.9 0 0 1 763.2 780.9A1.9 1.9 0 0 1 760.3 782.4A1.9 1.9 0 0 1 757.2 783.4A1.9 1.9 0 0 1 754.0 783.7A1.9 1.9 0 0 1 750.8 783.4A1.9 1.9 0 0 1 747.7 782.4A1.9 1.9 0 0 1 744.8 780.9A1.9 1.9 0 0 1 742.3 778.9A1.9 1.9 0 0 1 740.3 776.4A1.9 1.9 0 0 1 738.8 773.5A1.9 1.9 0 0 1 737.8 770.4A1.9 1.9 0 0 1 737.5 767.2A1.9 1.9 0 0 1 737.8 764.0A1.9 1.9 0 0 1 738.8 760.9A1.9 1.9 0 0 1 740.3 758.0A1.9 1.9 0 0 1 742.3 755.5A1.9 1.9 0 0 1 744.8 753.5A1.9 1.9 0 0 1 747.7 752.0A1.9 1.9 0 0 1 750.8 751.0A1.9 1.9 0 0 1 754.0 750.7A1.9 1.9 0 0 1 757.2 751.0A1.9 1.9 0 0 1 760.3 752.0A1.9 1.9 0 0 1 763.2 753.5A1.9 1.9 0 0 1 765.7 755.5A1.9 1.9 0 0 1 767.7 758.0A1.9 1.9 0 0 1 769.2 760.9A1.9 1.9 0 0 1 770.2 764.0A1.9 1.9 0 0 1 770.5 767.2Z"/><path d="M749.6 790.3A1.9 1.9 0 0 1 749.3 793.5A1.9 1.9 0 0 1 748.3 796.6A1.9 1.9 0 0 1 746.7 799.4A1.9 1.9 0 0 1 744.5 801.7A1.9 1.9 0 0 1 741.9 803.6A1.9 1.9 0 0 1 739.0 804.9A1.9 1.9 0 0 1 735.8 805.6A1.9 1.9 0 0 1 732.6 805.6A1.9 1.9 0 0 1 729.4 804.9A1.9 1.9 0 0 1 726.5 803.6A1.9 1.9 0 0 1 723.9 801.7A1.9 1.9 0 0 1 721.7 799.4A1.9 1.9 0 0 1 720.1 796.6A1.9 1.9 0 0 1 719.1 793.5A1.9 1.9 0 0 1 718.8 790.3A1.9 1.9 0 0 1 719.1 787.1A1.9 1.9 0 0 1 720.1 784.0A1.9 1.9 0 0 1 721.7 781.2A1.9 1.9 0 0 1 723.9 778.9A1.9 1.9 0 0 1 726.5 777.0A1.9 1.9 0 0 1 729.4 775.7A1.9 1.9 0 0 1 732.6 775.0A1.9 1.9 0 0 1 735.8 775.0A1.9 1.9 0 0 1 739.0 775.7A1.9 1.9 0 0 1 741.9 777.0A1.9 1.9 0 0 1 744.5 778.9A1.9 1.9 0 0 1 746.7 781.2A1.9 1.9 0 0 1 748.3 784.0A1.9 1.9 0 0 1 749.3 787.1A1.9 1.9 0 0 1 749.6 790.3Z"/><path d="M765.0 787.0A1.9 1.9 0 0 1 764.5 790.2A1.9 1.9 0 0 1 763.1 793.2A1.9 1.9 0 0 1 760.9 795.6A1.9 1.9 0 0 1 758.0 797.2A1.9 1.9 0 0 1 754.8 798.0A1.9 1.9 0 0 1 751.6 797.7A1.9 1.9 0 0 1 748.5 796.5A1.9 1.9 0 0 1 745.9 794.5A1.9 1.9 0 0 1 744.1 791.8A1.9 1.9 0 0 1 743.1 788.6A1.9 1.9 0 0 1 743.1 785.4A1.9 1.9 0 0 1 744.1 782.2A1.9 1.9 0 0 1 745.9 779.5A1.9 1.9 0 0 1 748.5 777.5A1.9 1.9 0 0 1 751.6 776.3A1.9 1.9 0 0 1 754.8 776.0A1.9 1.9 0 0 1 758.0 776.8A1.9 1.9 0 0 1 760.9 778.4A1.9 1.9 0 0 1 763.1 780.8A1.9 1.9 0 0 1 764.5 783.8A1.9 1.9 0 0 1 765.0 787.0Z"/><path d="M858.5 764.0A1.9 1.9 0 0 1 858.1 767.3A1.9 1.9 0 0 1 856.7 770.3A1.9 1.9 0 0 1 854.7 772.8A1.9 1.9 0 0 1 852.0 774.7A1.9 1.9 0 0 1 848.9 775.8A1.9 1.9 0 0 1 845.6 776.1A1.9 1.9 0 0 1 842.3 775.4A1.9 1.9 0 0 1 839.4 773.9A1.9 1.9 0 0 1 837.0 771.6A1.9 1.9 0 0 1 835.3 768.8A1.9 1.9 0 0 1 834.4 765.6A1.9 1.9 0 0 1 834.4 762.4A1.9 1.9 0 0 1 835.3 759.2A1.9 1.9 0 0 1 837.0 756.4A1.9 1.9 0 0 1 839.4 754.1A1.9 1.9 0 0 1 842.3 752.6A1.9 1.9 0 0 1 845.6 751.9A1.9 1.9 0 0 1 848.9 752.2A1.9 1.9 0 0 1 852.0 753.3A1.9 1.9 0 0 1 854.7 755.2A1.9 1.9 0 0 1 856.7 757.7A1.9 1.9 0 0 1 858.1 760.7A1.9 1.9 0 0 1 858.5 764.0Z"/><path d="M878.8 786.6A1.9 1.9 0 0 1 878.5 789.8A1.9 1.9 0 0 1 877.5 792.9A1.9 1.9 0 0 1 875.9 795.7A1.9 1.9 0 0 1 873.7 798.0A1.9 1.9 0 0 1 871.1 799.9A1.9 1.9 0 0 1 868.2 801.2A1.9 1.9 0 0 1 865.0 801.9A1.9 1.9 0 0 1 861.8 801.9A1.9 1.9 0 0 1 858.6 801.2A1.9 1.9 0 0 1 855.7 799.9A1.9 1.9 0 0 1 853.1 798.0A1.9 1.9 0 0 1 850.9 795.7A1.9 1.9 0 0 1 849.3 792.9A1.9 1.9 0 0 1 848.3 789.8A1.9 1.9 0 0 1 848.0 786.6A1.9 1.9 0 0 1 848.3 783.4A1.9 1.9 0 0 1 849.3 780.3A1.9 1.9 0 0 1 850.9 777.5A1.9 1.9 0 0 1 853.1 775.2A1.9 1.9 0 0 1 855.7 773.3A1.9 1.9 0 0 1 858.6 772.0A1.9 1.9 0 0 1 861.8 771.3A1.9 1.9 0 0 1 865.0 771.3A1.9 1.9 0 0 1 868.2 772.0A1.9 1.9 0 0 1 871.1 773.3A1.9 1.9 0 0 1 873.7 775.2A1.9 1.9 0 0 1 875.9 777.5A1.9 1.9 0 0 1 877.5 780.3A1.9 1.9 0 0 1 878.5 783.4A1.9 1.9 0 0 1 878.8 786.6Z"/><path d="M808.0 752.0A1.9 1.9 0 0 1 807.6 755.2A1.9 1.9 0 0 1 806.3 758.2A1.9 1.9 0 0 1 804.2 760.8A1.9 1.9 0 0 1 801.5 762.7A1.9 1.9 0 0 1 798.4 763.7A1.9 1.9 0 0 1 795.2 764.0A1.9 1.9 0 0 1 792.0 763.3A1.9 1.9 0 0 1 789.1 761.8A1.9 1.9 0 0 1 786.7 759.6A1.9 1.9 0 0 1 785.0 756.8A1.9 1.9 0 0 1 784.1 753.6A1.9 1.9 0 0 1 784.1 750.4A1.9 1.9 0 0 1 785.0 747.2A1.9 1.9 0 0 1 786.7 744.4A1.9 1.9 0 0 1 789.1 742.2A1.9 1.9 0 0 1 792.0 740.7A1.9 1.9 0 0 1 795.2 740.0A1.9 1.9 0 0 1 798.4 740.3A1.9 1.9 0 0 1 801.5 741.3A1.9 1.9 0 0 1 804.2 743.2A1.9 1.9 0 0 1 806.3 745.8A1.9 1.9 0 0 1 807.6 748.8A1.9 1.9 0 0 1 808.0 752.0Z"/></g>
<g fill="#e4ecd0"><circle cx="890.6" cy="637.2" r="7.9"/><circle cx="897.2" cy="654.1" r="6.6"/><circle cx="851.0" cy="675.7" r="9.9"/><circle cx="837.8" cy="701.0" r="8.8"/><circle cx="818.0" cy="742.8" r="8.2"/><circle cx="776.2" cy="742.8" r="7.2"/><circle cx="752.0" cy="769.2" r="8.2"/><circle cx="752.0" cy="789.0" r="5.5"/><circle cx="861.4" cy="788.6" r="7.7"/></g>
<g fill="#7ba597"><circle cx="1100.8" cy="336.5" r="2.4"/><circle cx="1104" cy="352.6" r="2.4"/><circle cx="1065.9" cy="367" r="2.4"/><circle cx="1085.3" cy="386.4" r="2.4"/><circle cx="1118" cy="378.7" r="2.4"/><circle cx="1105.8" cy="405.8" r="2.4"/><circle cx="1132.5" cy="405" r="2.4"/><circle cx="1072.9" cy="426.9" r="2.4"/><circle cx="1106.5" cy="432.5" r="2.4"/><circle cx="1126.9" cy="438.4" r="2.4"/><circle cx="1146.7" cy="431.2" r="2.4"/><circle cx="1080.5" cy="446.5" r="2.4"/><circle cx="1027.9" cy="474.6" r="2.4"/><circle cx="1041.6" cy="487.6" r="2.4"/><circle cx="1025.6" cy="504.4" r="2.4"/><circle cx="989.2" cy="529.4" r="2.4"/><circle cx="956.8" cy="563.6" r="2.4"/><circle cx="1003.8" cy="569" r="2.4"/><circle cx="918" cy="604.8" r="2.4"/><circle cx="991.6" cy="609.2" r="2.4"/><circle cx="946" cy="644" r="2.4"/><circle cx="899.4" cy="652" r="2.4"/><circle cx="853" cy="673.7" r="2.4"/><circle cx="899.2" cy="652.1" r="2.4"/><circle cx="814.5" cy="714.4" r="2.4"/><circle cx="778.2" cy="762.8" r="2.4"/><circle cx="734.2" cy="790.3" r="2.4"/><circle cx="863.4" cy="786.6" r="2.4"/></g>
<path d="M1014.5 215.7A1.9 1.9 0 0 1 1017.5 216.4A1.9 1.9 0 0 1 1020.5 217.2A1.9 1.9 0 0 1 1023.5 219.1A1.9 1.9 0 0 1 1026.5 221.0A1.9 1.9 0 0 1 1029.1 222.5A1.9 1.9 0 0 1 1031.8 224.0A1.9 1.9 0 0 1 1034.4 225.5A1.9 1.9 0 0 1 1037.0 227.0A1.9 1.9 0 0 1 1038.5 229.2A1.9 1.9 0 0 1 1040.0 231.5A1.9 1.9 0 0 1 1041.5 233.8A1.9 1.9 0 0 1 1043.0 236.0A1.9 1.9 0 0 1 1043.9 238.7A1.9 1.9 0 0 1 1044.8 241.4A1.9 1.9 0 0 1 1045.7 244.1A1.9 1.9 0 0 1 1046.6 246.8A1.9 1.9 0 0 1 1047.5 249.5A1.9 1.9 0 0 1 1048.4 252.5A1.9 1.9 0 0 1 1049.3 255.5A1.9 1.9 0 0 1 1050.2 258.5A1.9 1.9 0 0 1 1051.1 261.5A1.9 1.9 0 0 1 1052.0 264.5A1.9 1.9 0 0 1 1050.9 267.1A1.9 1.9 0 0 1 1049.8 269.8A1.9 1.9 0 0 1 1048.6 272.4A1.9 1.9 0 0 1 1047.5 275.0A1.9 1.9 0 0 1 1045.0 277.0A1.9 1.9 0 0 1 1042.5 279.0A1.9 1.9 0 0 1 1040.0 281.0A1.9 1.9 0 0 1 1037.0 281.2A1.9 1.9 0 0 1 1034.0 281.4A1.9 1.9 0 0 1 1031.0 281.5A1.9 1.9 0 0 1 1028.0 281.7A1.9 1.9 0 0 1 1025.0 281.5A1.9 1.9 0 0 1 1022.0 281.4A1.9 1.9 0 0 1 1019.0 281.2A1.9 1.9 0 0 1 1016.0 281.0A1.9 1.9 0 0 1 1014.0 278.5A1.9 1.9 0 0 1 1012.0 276.0A1.9 1.9 0 0 1 1010.0 273.5A1.9 1.9 0 0 1 1007.9 271.4A1.9 1.9 0 0 1 1005.8 269.3A1.9 1.9 0 0 1 1003.7 267.2A1.9 1.9 0 0 1 1001.6 265.1A1.9 1.9 0 0 1 999.5 263.0A1.9 1.9 0 0 1 998.0 260.8A1.9 1.9 0 0 1 996.5 258.5A1.9 1.9 0 0 1 995.0 256.2A1.9 1.9 0 0 1 993.5 254.0A1.9 1.9 0 0 1 992.9 251.4A1.9 1.9 0 0 1 992.4 248.8A1.9 1.9 0 0 1 991.8 246.1A1.9 1.9 0 0 1 991.2 243.5A1.9 1.9 0 0 1 992.0 240.5A1.9 1.9 0 0 1 992.7 237.5A1.9 1.9 0 0 1 993.5 234.5A1.9 1.9 0 0 1 995.0 232.2A1.9 1.9 0 0 1 996.5 230.0A1.9 1.9 0 0 1 998.0 227.8A1.9 1.9 0 0 1 999.5 225.5A1.9 1.9 0 0 1 1001.5 223.0A1.9 1.9 0 0 1 1003.5 220.5A1.9 1.9 0 0 1 1005.5 218.0A1.9 1.9 0 0 1 1008.5 217.2A1.9 1.9 0 0 1 1011.5 216.5A1.9 1.9 0 0 1 1014.5 215.7Z" fill="#e8709f" stroke="#7f7a2e" stroke-width="1"/>
<path d="M1014.5 222.0 1022.0 222.0 1046.0 270.0 1040.0 278.0 1022.0 276.0 1002.0 250.0 1006.0 232.0Z" fill="#db6a99" stroke="none" stroke-width="0" stroke-linejoin="round" />
<path d="M1109.6 500.0A1.9 1.9 0 0 1 1112.8 499.5A1.9 1.9 0 0 1 1116.0 498.9A1.9 1.9 0 0 1 1119.2 498.4A1.9 1.9 0 0 1 1121.6 499.6A1.9 1.9 0 0 1 1124.0 500.8A1.9 1.9 0 0 1 1126.4 502.0A1.9 1.9 0 0 1 1128.8 503.2A1.9 1.9 0 0 1 1130.4 506.4A1.9 1.9 0 0 1 1132.0 509.6A1.9 1.9 0 0 1 1134.7 511.2A1.9 1.9 0 0 1 1137.3 512.8A1.9 1.9 0 0 1 1140.0 514.4A1.9 1.9 0 0 1 1141.1 517.1A1.9 1.9 0 0 1 1142.1 519.7A1.9 1.9 0 0 1 1143.2 522.4A1.9 1.9 0 0 1 1142.7 525.1A1.9 1.9 0 0 1 1142.1 527.7A1.9 1.9 0 0 1 1141.6 530.4A1.9 1.9 0 0 1 1139.5 532.0A1.9 1.9 0 0 1 1137.3 533.6A1.9 1.9 0 0 1 1135.2 535.2A1.9 1.9 0 0 1 1132.8 537.6A1.9 1.9 0 0 1 1130.4 540.0A1.9 1.9 0 0 1 1129.9 543.2A1.9 1.9 0 0 1 1129.3 546.4A1.9 1.9 0 0 1 1128.8 549.6A1.9 1.9 0 0 1 1127.2 552.3A1.9 1.9 0 0 1 1125.6 554.9A1.9 1.9 0 0 1 1124.0 557.6A1.9 1.9 0 0 1 1120.8 558.7A1.9 1.9 0 0 1 1117.6 559.7A1.9 1.9 0 0 1 1114.4 560.8A1.9 1.9 0 0 1 1111.7 560.3A1.9 1.9 0 0 1 1109.1 559.7A1.9 1.9 0 0 1 1106.4 559.2A1.9 1.9 0 0 1 1104.8 562.4A1.9 1.9 0 0 1 1103.2 565.6A1.9 1.9 0 0 1 1102.1 568.3A1.9 1.9 0 0 1 1101.1 570.9A1.9 1.9 0 0 1 1100.0 573.6A1.9 1.9 0 0 1 1097.6 574.8A1.9 1.9 0 0 1 1095.2 576.0A1.9 1.9 0 0 1 1092.8 577.2A1.9 1.9 0 0 1 1090.4 578.4A1.9 1.9 0 0 1 1087.2 578.4A1.9 1.9 0 0 1 1084.0 578.4A1.9 1.9 0 0 1 1080.8 578.4A1.9 1.9 0 0 1 1077.6 578.4A1.9 1.9 0 0 1 1074.4 578.4A1.9 1.9 0 0 1 1071.2 578.4A1.9 1.9 0 0 1 1068.5 576.8A1.9 1.9 0 0 1 1065.9 575.2A1.9 1.9 0 0 1 1063.2 573.6A1.9 1.9 0 0 1 1061.9 570.4A1.9 1.9 0 0 1 1060.5 567.2A1.9 1.9 0 0 1 1059.2 564.0A1.9 1.9 0 0 1 1059.6 561.2A1.9 1.9 0 0 1 1060.0 558.4A1.9 1.9 0 0 1 1060.4 555.6A1.9 1.9 0 0 1 1060.8 552.8A1.9 1.9 0 0 1 1061.0 550.0A1.9 1.9 0 0 1 1061.2 547.2A1.9 1.9 0 0 1 1061.4 544.4A1.9 1.9 0 0 1 1061.6 541.6A1.9 1.9 0 0 1 1063.7 538.9A1.9 1.9 0 0 1 1065.9 536.3A1.9 1.9 0 0 1 1068.0 533.6A1.9 1.9 0 0 1 1070.8 532.8A1.9 1.9 0 0 1 1073.6 532.0A1.9 1.9 0 0 1 1076.4 531.2A1.9 1.9 0 0 1 1079.2 530.4A1.9 1.9 0 0 1 1078.4 527.7A1.9 1.9 0 0 1 1077.6 525.1A1.9 1.9 0 0 1 1076.8 522.4A1.9 1.9 0 0 1 1078.1 519.2A1.9 1.9 0 0 1 1079.5 516.0A1.9 1.9 0 0 1 1080.8 512.8A1.9 1.9 0 0 1 1084.0 512.3A1.9 1.9 0 0 1 1087.2 511.7A1.9 1.9 0 0 1 1090.4 511.2A1.9 1.9 0 0 1 1093.2 510.8A1.9 1.9 0 0 1 1096.0 510.4A1.9 1.9 0 0 1 1098.8 510.0A1.9 1.9 0 0 1 1101.6 509.6A1.9 1.9 0 0 1 1103.2 506.4A1.9 1.9 0 0 1 1104.8 503.2A1.9 1.9 0 0 1 1107.2 501.6A1.9 1.9 0 0 1 1109.6 500.0Z" fill="#e8709f" stroke="#7f7a2e" stroke-width="1"/>
<path d="M1068.0 540.0 1125.0 505.0 1138.0 520.0 1122.0 552.0 1090.0 574.0 1066.0 570.0Z" fill="#db6a99" stroke="none" stroke-width="0" stroke-linejoin="round" />
</g>
<rect x="1036" y="673" width="206" height="96" fill="#fff"/>
<circle cx="1062.6" cy="686.1" r="4.7" fill="#9cc3bc"/>
<path d="M1070.2 718.0A2.3 2.3 0 0 1 1069.3 722.3A2.3 2.3 0 0 1 1066.9 725.9A2.3 2.3 0 0 1 1063.3 728.3A2.3 2.3 0 0 1 1059.0 729.2A2.3 2.3 0 0 1 1054.7 728.3A2.3 2.3 0 0 1 1051.1 725.9A2.3 2.3 0 0 1 1048.7 722.3A2.3 2.3 0 0 1 1047.8 718.0A2.3 2.3 0 0 1 1048.7 713.7A2.3 2.3 0 0 1 1051.1 710.1A2.3 2.3 0 0 1 1054.7 707.7A2.3 2.3 0 0 1 1059.0 706.8A2.3 2.3 0 0 1 1063.3 707.7A2.3 2.3 0 0 1 1066.9 710.1A2.3 2.3 0 0 1 1069.3 713.7A2.3 2.3 0 0 1 1070.2 718.0Z" fill="#e0e8c9" stroke="#79b83a" stroke-width="1.1"/>
<path d="M1046.0 740.0A1.8 1.8 0 0 1 1048.8 739.8A1.8 1.8 0 0 1 1051.6 739.6A1.8 1.8 0 0 1 1054.4 739.4A1.8 1.8 0 0 1 1057.2 739.2A1.8 1.8 0 0 1 1060.0 739.0A1.8 1.8 0 0 1 1063.0 740.5A1.8 1.8 0 0 1 1066.0 742.0A1.8 1.8 0 0 1 1069.0 743.5A1.8 1.8 0 0 1 1072.0 745.0A1.8 1.8 0 0 1 1074.3 747.3A1.8 1.8 0 0 1 1076.7 749.7A1.8 1.8 0 0 1 1079.0 752.0A1.8 1.8 0 0 1 1078.8 755.3A1.8 1.8 0 0 1 1078.7 758.7A1.8 1.8 0 0 1 1078.5 762.0A1.8 1.8 0 0 1 1076.3 763.8A1.8 1.8 0 0 1 1074.2 765.7A1.8 1.8 0 0 1 1072.0 767.5A1.8 1.8 0 0 1 1069.0 767.4A1.8 1.8 0 0 1 1066.0 767.2A1.8 1.8 0 0 1 1063.0 767.1A1.8 1.8 0 0 1 1060.0 767.0A1.8 1.8 0 0 1 1057.0 766.0A1.8 1.8 0 0 1 1054.0 765.0A1.8 1.8 0 0 1 1051.0 764.0A1.8 1.8 0 0 1 1048.0 763.0A1.8 1.8 0 0 1 1046.5 760.0A1.8 1.8 0 0 1 1045.0 757.0A1.8 1.8 0 0 1 1043.5 754.0A1.8 1.8 0 0 1 1043.5 751.0A1.8 1.8 0 0 1 1043.5 748.0A1.8 1.8 0 0 1 1043.5 745.0A1.8 1.8 0 0 1 1044.8 742.5A1.8 1.8 0 0 1 1046.0 740.0Z" fill="#ef6fa0" stroke="#7c8a2e" stroke-width="1"/>
<text x="1087.5" y="689.3" font-size="10.3" fill="#1d2222" textLength="75.7" lengthAdjust="spacingAndGlyphs">Baum langlebig</text>
<text x="1086.9" y="724.2" font-size="10.3" fill="#1d2222" textLength="67.8" lengthAdjust="spacingAndGlyphs">Hochstämmer</text>
<text x="1087.5" y="751.2" font-size="10.3" fill="#1d2222" textLength="147.1" lengthAdjust="spacingAndGlyphs">Mehrstämmer mit Unterwuchs</text>
<text x="1087.5" y="763.6" font-size="10.3" fill="#1d2222" textLength="103" lengthAdjust="spacingAndGlyphs">aus Schattenstauden</text>
</svg></body></html>
